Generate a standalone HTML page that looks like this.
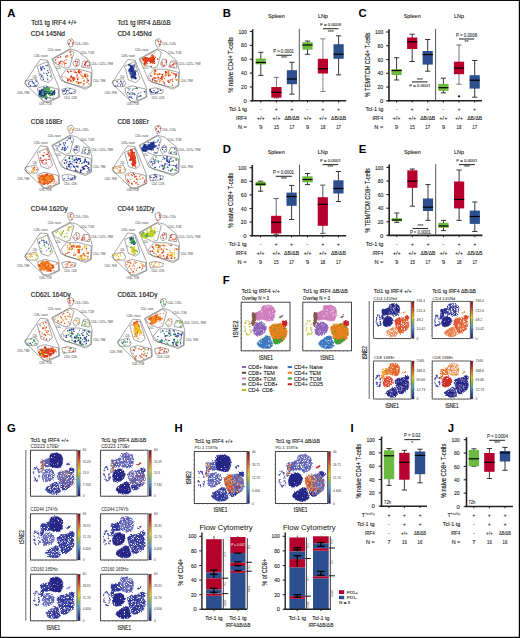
<!DOCTYPE html>
<html><head><meta charset="utf-8"><style>
html,body{margin:0;padding:0;background:#fff;}
svg{display:block;font-family:"Liberation Sans",sans-serif;}
</style></head><body>
<svg width="520" height="638" viewBox="0 0 520 638">
<rect x="0" y="0" width="520" height="638" fill="#fff"/>
<line x1="252.60" y1="29.20" x2="252.60" y2="101.40" stroke="#222" stroke-width="1.6"/>
<line x1="251.10" y1="100.80" x2="346.20" y2="100.80" stroke="#222" stroke-width="1.6"/>
<line x1="299.30" y1="28.80" x2="299.30" y2="100.80" stroke="#444" stroke-width="0.9"/>
<line x1="249.80" y1="100.80" x2="252.60" y2="100.80" stroke="#222" stroke-width="1.1"/>
<text x="246.80" y="102.90" font-size="5.9" text-anchor="end" fill="#222" stroke="#222" stroke-width="0.1" >0</text>
<line x1="249.80" y1="86.94" x2="252.60" y2="86.94" stroke="#222" stroke-width="1.1"/>
<text x="246.80" y="89.04" font-size="5.9" text-anchor="end" fill="#222" stroke="#222" stroke-width="0.1" textLength="5.70" lengthAdjust="spacingAndGlyphs" >20</text>
<line x1="249.80" y1="73.08" x2="252.60" y2="73.08" stroke="#222" stroke-width="1.1"/>
<text x="246.80" y="75.18" font-size="5.9" text-anchor="end" fill="#222" stroke="#222" stroke-width="0.1" textLength="5.70" lengthAdjust="spacingAndGlyphs" >40</text>
<line x1="249.80" y1="59.22" x2="252.60" y2="59.22" stroke="#222" stroke-width="1.1"/>
<text x="246.80" y="61.32" font-size="5.9" text-anchor="end" fill="#222" stroke="#222" stroke-width="0.1" textLength="5.70" lengthAdjust="spacingAndGlyphs" >60</text>
<line x1="249.80" y1="45.36" x2="252.60" y2="45.36" stroke="#222" stroke-width="1.1"/>
<text x="246.80" y="47.46" font-size="5.9" text-anchor="end" fill="#222" stroke="#222" stroke-width="0.1" textLength="5.70" lengthAdjust="spacingAndGlyphs" >80</text>
<line x1="249.80" y1="31.50" x2="252.60" y2="31.50" stroke="#222" stroke-width="1.1"/>
<text x="246.80" y="33.60" font-size="5.9" text-anchor="end" fill="#222" stroke="#222" stroke-width="0.1" textLength="8.30" lengthAdjust="spacingAndGlyphs" >100</text>
<text x="276.40" y="18.00" font-size="5.5" text-anchor="middle" fill="#222" stroke="#222" stroke-width="0.1" textLength="17.00" lengthAdjust="spacingAndGlyphs" >Spleen</text>
<text x="322.90" y="18.00" font-size="5.5" text-anchor="middle" fill="#222" stroke="#222" stroke-width="0.1" textLength="10.00" lengthAdjust="spacingAndGlyphs" >LNp</text>
<text x="233.30" y="64.90" font-size="8.0" text-anchor="middle" fill="#222" stroke="#222" stroke-width="0.16" textLength="55.50" lengthAdjust="spacingAndGlyphs" transform="rotate(-90 233.30 64.90)" >% naive CD4+ T-cells</text>
<line x1="260.80" y1="75.40" x2="260.80" y2="58.50" stroke="#222" stroke-width="0.9"/>
<line x1="260.80" y1="64.30" x2="260.80" y2="52.30" stroke="#222" stroke-width="0.9"/>
<line x1="258.20" y1="75.40" x2="263.40" y2="75.40" stroke="#222" stroke-width="0.9"/>
<line x1="258.20" y1="52.30" x2="263.40" y2="52.30" stroke="#222" stroke-width="0.9"/>
<rect x="255.70" y="58.50" width="10.20" height="5.80" fill="#6cba3f" stroke="none" stroke-width="0" />
<line x1="255.70" y1="62.50" x2="265.90" y2="62.50" stroke="#000" stroke-width="1.2"/>
<line x1="260.80" y1="100.80" x2="260.80" y2="102.60" stroke="#111" stroke-width="0.9"/>
<line x1="276.40" y1="98.00" x2="276.40" y2="87.00" stroke="#666" stroke-width="0.9"/>
<line x1="276.40" y1="97.70" x2="276.40" y2="77.40" stroke="#666" stroke-width="0.9"/>
<line x1="273.80" y1="98.00" x2="279.00" y2="98.00" stroke="#666" stroke-width="0.9"/>
<line x1="273.80" y1="77.40" x2="279.00" y2="77.40" stroke="#666" stroke-width="0.9"/>
<rect x="271.30" y="87.00" width="10.20" height="10.70" fill="#b8002e" stroke="none" stroke-width="0" />
<line x1="271.30" y1="92.30" x2="281.50" y2="92.30" stroke="#000" stroke-width="1.2"/>
<line x1="276.40" y1="100.80" x2="276.40" y2="102.60" stroke="#111" stroke-width="0.9"/>
<line x1="291.90" y1="94.20" x2="291.90" y2="70.20" stroke="#222" stroke-width="0.9"/>
<line x1="291.90" y1="84.20" x2="291.90" y2="62.30" stroke="#222" stroke-width="0.9"/>
<line x1="289.30" y1="94.20" x2="294.50" y2="94.20" stroke="#222" stroke-width="0.9"/>
<line x1="289.30" y1="62.30" x2="294.50" y2="62.30" stroke="#222" stroke-width="0.9"/>
<rect x="286.80" y="70.20" width="10.20" height="14.00" fill="#2d4f8e" stroke="none" stroke-width="0" />
<line x1="286.80" y1="79.00" x2="297.00" y2="79.00" stroke="#000" stroke-width="1.2"/>
<line x1="291.90" y1="100.80" x2="291.90" y2="102.60" stroke="#111" stroke-width="0.9"/>
<line x1="307.50" y1="54.30" x2="307.50" y2="42.20" stroke="#222" stroke-width="0.9"/>
<line x1="307.50" y1="49.70" x2="307.50" y2="41.00" stroke="#222" stroke-width="0.9"/>
<line x1="304.90" y1="54.30" x2="310.10" y2="54.30" stroke="#222" stroke-width="0.9"/>
<line x1="304.90" y1="41.00" x2="310.10" y2="41.00" stroke="#222" stroke-width="0.9"/>
<rect x="302.40" y="42.20" width="10.20" height="7.50" fill="#6cba3f" stroke="none" stroke-width="0" />
<line x1="302.40" y1="45.00" x2="312.60" y2="45.00" stroke="#000" stroke-width="1.2"/>
<line x1="307.50" y1="100.80" x2="307.50" y2="102.60" stroke="#111" stroke-width="0.9"/>
<line x1="322.90" y1="91.50" x2="322.90" y2="58.80" stroke="#777" stroke-width="0.9"/>
<line x1="322.90" y1="73.50" x2="322.90" y2="38.80" stroke="#777" stroke-width="0.9"/>
<line x1="320.30" y1="91.50" x2="325.50" y2="91.50" stroke="#777" stroke-width="0.9"/>
<line x1="320.30" y1="38.80" x2="325.50" y2="38.80" stroke="#777" stroke-width="0.9"/>
<rect x="317.80" y="58.80" width="10.20" height="14.70" fill="#b8002e" stroke="none" stroke-width="0" />
<line x1="317.80" y1="68.80" x2="328.00" y2="68.80" stroke="#000" stroke-width="1.2"/>
<line x1="322.90" y1="100.80" x2="322.90" y2="102.60" stroke="#111" stroke-width="0.9"/>
<line x1="338.60" y1="74.90" x2="338.60" y2="44.20" stroke="#222" stroke-width="0.9"/>
<line x1="338.60" y1="58.80" x2="338.60" y2="35.80" stroke="#222" stroke-width="0.9"/>
<line x1="336.00" y1="74.90" x2="341.20" y2="74.90" stroke="#222" stroke-width="0.9"/>
<line x1="336.00" y1="35.80" x2="341.20" y2="35.80" stroke="#222" stroke-width="0.9"/>
<rect x="333.50" y="44.20" width="10.20" height="14.60" fill="#2d4f8e" stroke="none" stroke-width="0" />
<line x1="333.50" y1="54.20" x2="343.70" y2="54.20" stroke="#000" stroke-width="1.2"/>
<line x1="338.60" y1="100.80" x2="338.60" y2="102.60" stroke="#111" stroke-width="0.9"/>
<text x="246.80" y="111.10" font-size="5.4" text-anchor="end" fill="#222" stroke="#222" stroke-width="0.1" textLength="17.70" lengthAdjust="spacingAndGlyphs" >Tcl-1 tg</text>
<text x="246.80" y="120.20" font-size="5.4" text-anchor="end" fill="#222" stroke="#222" stroke-width="0.1" textLength="10.80" lengthAdjust="spacingAndGlyphs" >IRF4</text>
<text x="246.80" y="128.90" font-size="5.4" text-anchor="end" fill="#222" stroke="#222" stroke-width="0.1" textLength="8.90" lengthAdjust="spacingAndGlyphs" >N =</text>
<text x="260.80" y="111.10" font-size="5.4" text-anchor="middle" fill="#222" stroke="#222" stroke-width="0.1" >-</text>
<text x="260.80" y="120.20" font-size="5.4" text-anchor="middle" fill="#222" stroke="#222" stroke-width="0.1" textLength="8.10" lengthAdjust="spacingAndGlyphs" >+/+</text>
<text x="260.80" y="128.90" font-size="5.4" text-anchor="middle" fill="#222" stroke="#222" stroke-width="0.1" >9</text>
<text x="276.40" y="111.10" font-size="5.4" text-anchor="middle" fill="#222" stroke="#222" stroke-width="0.1" >+</text>
<text x="276.40" y="120.20" font-size="5.4" text-anchor="middle" fill="#222" stroke="#222" stroke-width="0.1" textLength="8.10" lengthAdjust="spacingAndGlyphs" >+/+</text>
<text x="276.40" y="128.90" font-size="5.4" text-anchor="middle" fill="#222" stroke="#222" stroke-width="0.1" textLength="4.80" lengthAdjust="spacingAndGlyphs" >15</text>
<text x="291.90" y="111.10" font-size="5.4" text-anchor="middle" fill="#222" stroke="#222" stroke-width="0.1" >+</text>
<text x="291.90" y="120.20" font-size="5.4" text-anchor="middle" fill="#222" stroke="#222" stroke-width="0.1" textLength="15.00" lengthAdjust="spacingAndGlyphs" >ΔB/ΔB</text>
<text x="291.90" y="128.90" font-size="5.4" text-anchor="middle" fill="#222" stroke="#222" stroke-width="0.1" textLength="4.80" lengthAdjust="spacingAndGlyphs" >17</text>
<text x="307.50" y="111.10" font-size="5.4" text-anchor="middle" fill="#222" stroke="#222" stroke-width="0.1" >-</text>
<text x="307.50" y="120.20" font-size="5.4" text-anchor="middle" fill="#222" stroke="#222" stroke-width="0.1" textLength="8.10" lengthAdjust="spacingAndGlyphs" >+/+</text>
<text x="307.50" y="128.90" font-size="5.4" text-anchor="middle" fill="#222" stroke="#222" stroke-width="0.1" >9</text>
<text x="322.90" y="111.10" font-size="5.4" text-anchor="middle" fill="#222" stroke="#222" stroke-width="0.1" >+</text>
<text x="322.90" y="120.20" font-size="5.4" text-anchor="middle" fill="#222" stroke="#222" stroke-width="0.1" textLength="8.10" lengthAdjust="spacingAndGlyphs" >+/+</text>
<text x="322.90" y="128.90" font-size="5.4" text-anchor="middle" fill="#222" stroke="#222" stroke-width="0.1" textLength="4.80" lengthAdjust="spacingAndGlyphs" >18</text>
<text x="338.60" y="111.10" font-size="5.4" text-anchor="middle" fill="#222" stroke="#222" stroke-width="0.1" >+</text>
<text x="338.60" y="120.20" font-size="5.4" text-anchor="middle" fill="#222" stroke="#222" stroke-width="0.1" textLength="15.00" lengthAdjust="spacingAndGlyphs" >ΔB/ΔB</text>
<text x="338.60" y="128.90" font-size="5.4" text-anchor="middle" fill="#222" stroke="#222" stroke-width="0.1" textLength="4.80" lengthAdjust="spacingAndGlyphs" >17</text>
<text x="283.55" y="53.00" font-size="5.2" text-anchor="middle" fill="#333" stroke="#333" stroke-width="0.1" textLength="20.70" lengthAdjust="spacingAndGlyphs" >P = 0.0001</text>
<line x1="276.30" y1="55.25" x2="291.80" y2="55.25" stroke="#333" stroke-width="1.1"/>
<text x="284.05" y="60.20" font-size="5.0" text-anchor="middle" fill="#444" stroke="#444" stroke-width="0.1" >***</text>
<text x="330.55" y="26.10" font-size="4.2" text-anchor="middle" fill="#333" stroke="#333" stroke-width="0.1" textLength="21.10" lengthAdjust="spacingAndGlyphs" >P = 0.0008</text>
<line x1="322.90" y1="28.70" x2="338.50" y2="28.70" stroke="#333" stroke-width="1.1"/>
<text x="330.70" y="33.50" font-size="5.0" text-anchor="middle" fill="#444" stroke="#444" stroke-width="0.1" >***</text>
<line x1="389.00" y1="29.20" x2="389.00" y2="101.40" stroke="#222" stroke-width="1.6"/>
<line x1="387.50" y1="100.80" x2="482.00" y2="100.80" stroke="#222" stroke-width="1.6"/>
<line x1="435.60" y1="28.80" x2="435.60" y2="100.80" stroke="#444" stroke-width="0.9"/>
<line x1="386.20" y1="100.80" x2="389.00" y2="100.80" stroke="#222" stroke-width="1.1"/>
<text x="383.20" y="102.90" font-size="5.9" text-anchor="end" fill="#222" stroke="#222" stroke-width="0.1" >0</text>
<line x1="386.20" y1="87.04" x2="389.00" y2="87.04" stroke="#222" stroke-width="1.1"/>
<text x="383.20" y="89.14" font-size="5.9" text-anchor="end" fill="#222" stroke="#222" stroke-width="0.1" textLength="5.70" lengthAdjust="spacingAndGlyphs" >20</text>
<line x1="386.20" y1="73.28" x2="389.00" y2="73.28" stroke="#222" stroke-width="1.1"/>
<text x="383.20" y="75.38" font-size="5.9" text-anchor="end" fill="#222" stroke="#222" stroke-width="0.1" textLength="5.70" lengthAdjust="spacingAndGlyphs" >40</text>
<line x1="386.20" y1="59.52" x2="389.00" y2="59.52" stroke="#222" stroke-width="1.1"/>
<text x="383.20" y="61.62" font-size="5.9" text-anchor="end" fill="#222" stroke="#222" stroke-width="0.1" textLength="5.70" lengthAdjust="spacingAndGlyphs" >60</text>
<line x1="386.20" y1="45.76" x2="389.00" y2="45.76" stroke="#222" stroke-width="1.1"/>
<text x="383.20" y="47.86" font-size="5.9" text-anchor="end" fill="#222" stroke="#222" stroke-width="0.1" textLength="5.70" lengthAdjust="spacingAndGlyphs" >80</text>
<line x1="386.20" y1="32.00" x2="389.00" y2="32.00" stroke="#222" stroke-width="1.1"/>
<text x="383.20" y="34.10" font-size="5.9" text-anchor="end" fill="#222" stroke="#222" stroke-width="0.1" textLength="8.30" lengthAdjust="spacingAndGlyphs" >100</text>
<text x="412.20" y="18.00" font-size="5.5" text-anchor="middle" fill="#222" stroke="#222" stroke-width="0.1" textLength="17.00" lengthAdjust="spacingAndGlyphs" >Spleen</text>
<text x="459.00" y="18.00" font-size="5.5" text-anchor="middle" fill="#222" stroke="#222" stroke-width="0.1" textLength="10.00" lengthAdjust="spacingAndGlyphs" >LNp</text>
<text x="369.60" y="64.90" font-size="8.0" text-anchor="middle" fill="#222" stroke="#222" stroke-width="0.16" textLength="64.70" lengthAdjust="spacingAndGlyphs" transform="rotate(-90 369.60 64.90)" >% TEM/TCM CD4+ T-cells</text>
<line x1="396.60" y1="80.00" x2="396.60" y2="69.20" stroke="#222" stroke-width="0.9"/>
<line x1="396.60" y1="75.00" x2="396.60" y2="57.70" stroke="#222" stroke-width="0.9"/>
<line x1="394.00" y1="80.00" x2="399.20" y2="80.00" stroke="#222" stroke-width="0.9"/>
<line x1="394.00" y1="57.70" x2="399.20" y2="57.70" stroke="#222" stroke-width="0.9"/>
<rect x="391.50" y="69.20" width="10.20" height="5.80" fill="#6cba3f" stroke="none" stroke-width="0" />
<line x1="391.50" y1="70.50" x2="401.70" y2="70.50" stroke="#000" stroke-width="1.2"/>
<line x1="396.60" y1="100.80" x2="396.60" y2="102.60" stroke="#111" stroke-width="0.9"/>
<line x1="412.20" y1="61.50" x2="412.20" y2="37.50" stroke="#222" stroke-width="0.9"/>
<line x1="412.20" y1="49.00" x2="412.20" y2="34.20" stroke="#222" stroke-width="0.9"/>
<line x1="409.60" y1="61.50" x2="414.80" y2="61.50" stroke="#222" stroke-width="0.9"/>
<line x1="409.60" y1="34.20" x2="414.80" y2="34.20" stroke="#222" stroke-width="0.9"/>
<rect x="407.10" y="37.50" width="10.20" height="11.50" fill="#b8002e" stroke="none" stroke-width="0" />
<line x1="407.10" y1="41.80" x2="417.30" y2="41.80" stroke="#000" stroke-width="1.2"/>
<line x1="412.20" y1="100.80" x2="412.20" y2="102.60" stroke="#111" stroke-width="0.9"/>
<line x1="427.70" y1="71.20" x2="427.70" y2="51.00" stroke="#222" stroke-width="0.9"/>
<line x1="427.70" y1="64.60" x2="427.70" y2="39.50" stroke="#222" stroke-width="0.9"/>
<line x1="425.10" y1="71.20" x2="430.30" y2="71.20" stroke="#222" stroke-width="0.9"/>
<line x1="425.10" y1="39.50" x2="430.30" y2="39.50" stroke="#222" stroke-width="0.9"/>
<rect x="422.60" y="51.00" width="10.20" height="13.60" fill="#2d4f8e" stroke="none" stroke-width="0" />
<line x1="422.60" y1="54.60" x2="432.80" y2="54.60" stroke="#000" stroke-width="1.2"/>
<line x1="427.70" y1="100.80" x2="427.70" y2="102.60" stroke="#111" stroke-width="0.9"/>
<line x1="443.40" y1="92.90" x2="443.40" y2="83.90" stroke="#222" stroke-width="0.9"/>
<line x1="443.40" y1="90.80" x2="443.40" y2="78.20" stroke="#222" stroke-width="0.9"/>
<line x1="440.80" y1="92.90" x2="446.00" y2="92.90" stroke="#222" stroke-width="0.9"/>
<line x1="440.80" y1="78.20" x2="446.00" y2="78.20" stroke="#222" stroke-width="0.9"/>
<rect x="438.30" y="83.90" width="10.20" height="6.90" fill="#6cba3f" stroke="none" stroke-width="0" />
<line x1="438.30" y1="87.70" x2="448.50" y2="87.70" stroke="#000" stroke-width="1.2"/>
<line x1="443.40" y1="100.80" x2="443.40" y2="102.60" stroke="#111" stroke-width="0.9"/>
<line x1="459.00" y1="84.20" x2="459.00" y2="61.70" stroke="#666" stroke-width="0.9"/>
<line x1="459.00" y1="74.20" x2="459.00" y2="45.00" stroke="#666" stroke-width="0.9"/>
<line x1="456.40" y1="84.20" x2="461.60" y2="84.20" stroke="#666" stroke-width="0.9"/>
<line x1="456.40" y1="45.00" x2="461.60" y2="45.00" stroke="#666" stroke-width="0.9"/>
<rect x="453.90" y="61.70" width="10.20" height="12.50" fill="#b8002e" stroke="none" stroke-width="0" />
<line x1="453.90" y1="68.10" x2="464.10" y2="68.10" stroke="#000" stroke-width="1.2"/>
<line x1="459.00" y1="100.80" x2="459.00" y2="102.60" stroke="#111" stroke-width="0.9"/>
<line x1="474.70" y1="97.20" x2="474.70" y2="75.20" stroke="#222" stroke-width="0.9"/>
<line x1="474.70" y1="88.60" x2="474.70" y2="60.50" stroke="#222" stroke-width="0.9"/>
<line x1="472.10" y1="97.20" x2="477.30" y2="97.20" stroke="#222" stroke-width="0.9"/>
<line x1="472.10" y1="60.50" x2="477.30" y2="60.50" stroke="#222" stroke-width="0.9"/>
<rect x="469.60" y="75.20" width="10.20" height="13.40" fill="#2d4f8e" stroke="none" stroke-width="0" />
<line x1="469.60" y1="80.20" x2="479.80" y2="80.20" stroke="#000" stroke-width="1.2"/>
<line x1="474.70" y1="100.80" x2="474.70" y2="102.60" stroke="#111" stroke-width="0.9"/>
<text x="383.20" y="111.10" font-size="5.4" text-anchor="end" fill="#222" stroke="#222" stroke-width="0.1" textLength="17.70" lengthAdjust="spacingAndGlyphs" >Tcl-1 tg</text>
<text x="383.20" y="120.20" font-size="5.4" text-anchor="end" fill="#222" stroke="#222" stroke-width="0.1" textLength="10.80" lengthAdjust="spacingAndGlyphs" >IRF4</text>
<text x="383.20" y="128.90" font-size="5.4" text-anchor="end" fill="#222" stroke="#222" stroke-width="0.1" textLength="8.90" lengthAdjust="spacingAndGlyphs" >N =</text>
<text x="396.60" y="111.10" font-size="5.4" text-anchor="middle" fill="#222" stroke="#222" stroke-width="0.1" >-</text>
<text x="396.60" y="120.20" font-size="5.4" text-anchor="middle" fill="#222" stroke="#222" stroke-width="0.1" textLength="8.10" lengthAdjust="spacingAndGlyphs" >+/+</text>
<text x="396.60" y="128.90" font-size="5.4" text-anchor="middle" fill="#222" stroke="#222" stroke-width="0.1" >9</text>
<text x="412.20" y="111.10" font-size="5.4" text-anchor="middle" fill="#222" stroke="#222" stroke-width="0.1" >+</text>
<text x="412.20" y="120.20" font-size="5.4" text-anchor="middle" fill="#222" stroke="#222" stroke-width="0.1" textLength="8.10" lengthAdjust="spacingAndGlyphs" >+/+</text>
<text x="412.20" y="128.90" font-size="5.4" text-anchor="middle" fill="#222" stroke="#222" stroke-width="0.1" textLength="4.80" lengthAdjust="spacingAndGlyphs" >15</text>
<text x="427.70" y="111.10" font-size="5.4" text-anchor="middle" fill="#222" stroke="#222" stroke-width="0.1" >+</text>
<text x="427.70" y="120.20" font-size="5.4" text-anchor="middle" fill="#222" stroke="#222" stroke-width="0.1" textLength="15.00" lengthAdjust="spacingAndGlyphs" >ΔB/ΔB</text>
<text x="427.70" y="128.90" font-size="5.4" text-anchor="middle" fill="#222" stroke="#222" stroke-width="0.1" textLength="4.80" lengthAdjust="spacingAndGlyphs" >17</text>
<text x="443.40" y="111.10" font-size="5.4" text-anchor="middle" fill="#222" stroke="#222" stroke-width="0.1" >-</text>
<text x="443.40" y="120.20" font-size="5.4" text-anchor="middle" fill="#222" stroke="#222" stroke-width="0.1" textLength="8.10" lengthAdjust="spacingAndGlyphs" >+/+</text>
<text x="443.40" y="128.90" font-size="5.4" text-anchor="middle" fill="#222" stroke="#222" stroke-width="0.1" >9</text>
<text x="459.00" y="111.10" font-size="5.4" text-anchor="middle" fill="#222" stroke="#222" stroke-width="0.1" >+</text>
<text x="459.00" y="120.20" font-size="5.4" text-anchor="middle" fill="#222" stroke="#222" stroke-width="0.1" textLength="8.10" lengthAdjust="spacingAndGlyphs" >+/+</text>
<text x="459.00" y="128.90" font-size="5.4" text-anchor="middle" fill="#222" stroke="#222" stroke-width="0.1" textLength="4.80" lengthAdjust="spacingAndGlyphs" >18</text>
<text x="474.70" y="111.10" font-size="5.4" text-anchor="middle" fill="#222" stroke="#222" stroke-width="0.1" >+</text>
<text x="474.70" y="120.20" font-size="5.4" text-anchor="middle" fill="#222" stroke="#222" stroke-width="0.1" textLength="15.00" lengthAdjust="spacingAndGlyphs" >ΔB/ΔB</text>
<text x="474.70" y="128.90" font-size="5.4" text-anchor="middle" fill="#222" stroke="#222" stroke-width="0.1" textLength="4.80" lengthAdjust="spacingAndGlyphs" >17</text>
<text x="419.85" y="87.00" font-size="4.2" text-anchor="middle" fill="#333" stroke="#333" stroke-width="0.1" textLength="21.10" lengthAdjust="spacingAndGlyphs" >P = 0.0001</text>
<line x1="412.00" y1="81.90" x2="427.60" y2="81.90" stroke="#333" stroke-width="1.1"/>
<text x="419.80" y="81.70" font-size="5.0" text-anchor="middle" fill="#444" stroke="#444" stroke-width="0.1" >***</text>
<text x="466.55" y="36.70" font-size="4.8" text-anchor="middle" fill="#333" stroke="#333" stroke-width="0.1" textLength="21.10" lengthAdjust="spacingAndGlyphs" >P = 0.0008</text>
<line x1="458.90" y1="39.00" x2="474.20" y2="39.00" stroke="#333" stroke-width="1.1"/>
<text x="466.55" y="43.60" font-size="5.0" text-anchor="middle" fill="#444" stroke="#444" stroke-width="0.1" >**</text>
<circle cx="459" cy="96.3" r="1.15" fill="#111"/>
<line x1="252.30" y1="165.00" x2="252.30" y2="236.30" stroke="#222" stroke-width="1.6"/>
<line x1="250.80" y1="235.70" x2="346.20" y2="235.70" stroke="#222" stroke-width="1.6"/>
<line x1="299.50" y1="164.60" x2="299.50" y2="235.70" stroke="#444" stroke-width="0.9"/>
<line x1="249.50" y1="235.70" x2="252.30" y2="235.70" stroke="#222" stroke-width="1.1"/>
<text x="246.50" y="237.80" font-size="5.9" text-anchor="end" fill="#222" stroke="#222" stroke-width="0.1" >0</text>
<line x1="249.50" y1="222.10" x2="252.30" y2="222.10" stroke="#222" stroke-width="1.1"/>
<text x="246.50" y="224.20" font-size="5.9" text-anchor="end" fill="#222" stroke="#222" stroke-width="0.1" textLength="5.70" lengthAdjust="spacingAndGlyphs" >20</text>
<line x1="249.50" y1="208.50" x2="252.30" y2="208.50" stroke="#222" stroke-width="1.1"/>
<text x="246.50" y="210.60" font-size="5.9" text-anchor="end" fill="#222" stroke="#222" stroke-width="0.1" textLength="5.70" lengthAdjust="spacingAndGlyphs" >40</text>
<line x1="249.50" y1="194.90" x2="252.30" y2="194.90" stroke="#222" stroke-width="1.1"/>
<text x="246.50" y="197.00" font-size="5.9" text-anchor="end" fill="#222" stroke="#222" stroke-width="0.1" textLength="5.70" lengthAdjust="spacingAndGlyphs" >60</text>
<line x1="249.50" y1="181.30" x2="252.30" y2="181.30" stroke="#222" stroke-width="1.1"/>
<text x="246.50" y="183.40" font-size="5.9" text-anchor="end" fill="#222" stroke="#222" stroke-width="0.1" textLength="5.70" lengthAdjust="spacingAndGlyphs" >80</text>
<line x1="249.50" y1="167.70" x2="252.30" y2="167.70" stroke="#222" stroke-width="1.1"/>
<text x="246.50" y="169.80" font-size="5.9" text-anchor="end" fill="#222" stroke="#222" stroke-width="0.1" textLength="8.30" lengthAdjust="spacingAndGlyphs" >100</text>
<text x="276.20" y="154.40" font-size="5.5" text-anchor="middle" fill="#222" stroke="#222" stroke-width="0.1" textLength="17.00" lengthAdjust="spacingAndGlyphs" >Spleen</text>
<text x="322.80" y="154.40" font-size="5.5" text-anchor="middle" fill="#222" stroke="#222" stroke-width="0.1" textLength="10.00" lengthAdjust="spacingAndGlyphs" >LNp</text>
<text x="233.00" y="200.50" font-size="8.0" text-anchor="middle" fill="#222" stroke="#222" stroke-width="0.16" textLength="55.50" lengthAdjust="spacingAndGlyphs" transform="rotate(-90 233.00 200.50)" >% naive CD8+ T-cells</text>
<line x1="260.60" y1="191.20" x2="260.60" y2="181.80" stroke="#222" stroke-width="0.9"/>
<line x1="260.60" y1="185.80" x2="260.60" y2="181.20" stroke="#222" stroke-width="0.9"/>
<line x1="258.00" y1="191.20" x2="263.20" y2="191.20" stroke="#222" stroke-width="0.9"/>
<line x1="258.00" y1="181.20" x2="263.20" y2="181.20" stroke="#222" stroke-width="0.9"/>
<rect x="255.50" y="181.80" width="10.20" height="4.00" fill="#6cba3f" stroke="none" stroke-width="0" />
<line x1="255.50" y1="184.20" x2="265.70" y2="184.20" stroke="#000" stroke-width="1.2"/>
<line x1="260.60" y1="235.70" x2="260.60" y2="237.50" stroke="#111" stroke-width="0.9"/>
<line x1="276.20" y1="234.60" x2="276.20" y2="215.80" stroke="#555" stroke-width="0.9"/>
<line x1="276.20" y1="233.50" x2="276.20" y2="198.50" stroke="#555" stroke-width="0.9"/>
<line x1="273.60" y1="234.60" x2="278.80" y2="234.60" stroke="#555" stroke-width="0.9"/>
<line x1="273.60" y1="198.50" x2="278.80" y2="198.50" stroke="#555" stroke-width="0.9"/>
<rect x="271.10" y="215.80" width="10.20" height="17.70" fill="#b8002e" stroke="none" stroke-width="0" />
<line x1="271.10" y1="222.30" x2="281.30" y2="222.30" stroke="#000" stroke-width="1.2"/>
<line x1="276.20" y1="235.70" x2="276.20" y2="237.50" stroke="#111" stroke-width="0.9"/>
<line x1="291.60" y1="219.50" x2="291.60" y2="192.60" stroke="#222" stroke-width="0.9"/>
<line x1="291.60" y1="205.80" x2="291.60" y2="185.40" stroke="#222" stroke-width="0.9"/>
<line x1="289.00" y1="219.50" x2="294.20" y2="219.50" stroke="#222" stroke-width="0.9"/>
<line x1="289.00" y1="185.40" x2="294.20" y2="185.40" stroke="#222" stroke-width="0.9"/>
<rect x="286.50" y="192.60" width="10.20" height="13.20" fill="#2d4f8e" stroke="none" stroke-width="0" />
<line x1="286.50" y1="196.50" x2="296.70" y2="196.50" stroke="#000" stroke-width="1.2"/>
<line x1="291.60" y1="235.70" x2="291.60" y2="237.50" stroke="#111" stroke-width="0.9"/>
<line x1="307.50" y1="184.60" x2="307.50" y2="176.30" stroke="#222" stroke-width="0.9"/>
<line x1="307.50" y1="182.30" x2="307.50" y2="173.50" stroke="#222" stroke-width="0.9"/>
<line x1="304.90" y1="184.60" x2="310.10" y2="184.60" stroke="#222" stroke-width="0.9"/>
<line x1="304.90" y1="173.50" x2="310.10" y2="173.50" stroke="#222" stroke-width="0.9"/>
<rect x="302.40" y="176.30" width="10.20" height="6.00" fill="#6cba3f" stroke="none" stroke-width="0" />
<line x1="302.40" y1="179.50" x2="312.60" y2="179.50" stroke="#000" stroke-width="1.2"/>
<line x1="307.50" y1="235.70" x2="307.50" y2="237.50" stroke="#111" stroke-width="0.9"/>
<line x1="322.80" y1="233.40" x2="322.80" y2="197.20" stroke="#444" stroke-width="0.9"/>
<line x1="322.80" y1="225.80" x2="322.80" y2="185.10" stroke="#444" stroke-width="0.9"/>
<line x1="320.20" y1="233.40" x2="325.40" y2="233.40" stroke="#444" stroke-width="0.9"/>
<line x1="320.20" y1="185.10" x2="325.40" y2="185.10" stroke="#444" stroke-width="0.9"/>
<rect x="317.70" y="197.20" width="10.20" height="28.60" fill="#b8002e" stroke="none" stroke-width="0" />
<line x1="317.70" y1="204.30" x2="327.90" y2="204.30" stroke="#000" stroke-width="1.2"/>
<line x1="322.80" y1="235.70" x2="322.80" y2="237.50" stroke="#111" stroke-width="0.9"/>
<line x1="338.40" y1="201.50" x2="338.40" y2="180.30" stroke="#222" stroke-width="0.9"/>
<line x1="338.40" y1="193.50" x2="338.40" y2="171.50" stroke="#222" stroke-width="0.9"/>
<line x1="335.80" y1="201.50" x2="341.00" y2="201.50" stroke="#222" stroke-width="0.9"/>
<line x1="335.80" y1="171.50" x2="341.00" y2="171.50" stroke="#222" stroke-width="0.9"/>
<rect x="333.30" y="180.30" width="10.20" height="13.20" fill="#2d4f8e" stroke="none" stroke-width="0" />
<line x1="333.30" y1="188.50" x2="343.50" y2="188.50" stroke="#000" stroke-width="1.2"/>
<line x1="338.40" y1="235.70" x2="338.40" y2="237.50" stroke="#111" stroke-width="0.9"/>
<text x="246.50" y="246.10" font-size="5.4" text-anchor="end" fill="#222" stroke="#222" stroke-width="0.1" textLength="17.70" lengthAdjust="spacingAndGlyphs" >Tcl-1 tg</text>
<text x="246.50" y="255.20" font-size="5.4" text-anchor="end" fill="#222" stroke="#222" stroke-width="0.1" textLength="10.80" lengthAdjust="spacingAndGlyphs" >IRF4</text>
<text x="246.50" y="263.90" font-size="5.4" text-anchor="end" fill="#222" stroke="#222" stroke-width="0.1" textLength="8.90" lengthAdjust="spacingAndGlyphs" >N =</text>
<text x="260.60" y="246.10" font-size="5.4" text-anchor="middle" fill="#222" stroke="#222" stroke-width="0.1" >-</text>
<text x="260.60" y="255.20" font-size="5.4" text-anchor="middle" fill="#222" stroke="#222" stroke-width="0.1" textLength="8.10" lengthAdjust="spacingAndGlyphs" >+/+</text>
<text x="260.60" y="263.90" font-size="5.4" text-anchor="middle" fill="#222" stroke="#222" stroke-width="0.1" >9</text>
<text x="276.20" y="246.10" font-size="5.4" text-anchor="middle" fill="#222" stroke="#222" stroke-width="0.1" >+</text>
<text x="276.20" y="255.20" font-size="5.4" text-anchor="middle" fill="#222" stroke="#222" stroke-width="0.1" textLength="8.10" lengthAdjust="spacingAndGlyphs" >+/+</text>
<text x="276.20" y="263.90" font-size="5.4" text-anchor="middle" fill="#222" stroke="#222" stroke-width="0.1" textLength="4.80" lengthAdjust="spacingAndGlyphs" >15</text>
<text x="291.60" y="246.10" font-size="5.4" text-anchor="middle" fill="#222" stroke="#222" stroke-width="0.1" >+</text>
<text x="291.60" y="255.20" font-size="5.4" text-anchor="middle" fill="#222" stroke="#222" stroke-width="0.1" textLength="15.00" lengthAdjust="spacingAndGlyphs" >ΔB/ΔB</text>
<text x="291.60" y="263.90" font-size="5.4" text-anchor="middle" fill="#222" stroke="#222" stroke-width="0.1" textLength="4.80" lengthAdjust="spacingAndGlyphs" >17</text>
<text x="307.50" y="246.10" font-size="5.4" text-anchor="middle" fill="#222" stroke="#222" stroke-width="0.1" >-</text>
<text x="307.50" y="255.20" font-size="5.4" text-anchor="middle" fill="#222" stroke="#222" stroke-width="0.1" textLength="8.10" lengthAdjust="spacingAndGlyphs" >+/+</text>
<text x="307.50" y="263.90" font-size="5.4" text-anchor="middle" fill="#222" stroke="#222" stroke-width="0.1" >9</text>
<text x="322.80" y="246.10" font-size="5.4" text-anchor="middle" fill="#222" stroke="#222" stroke-width="0.1" >+</text>
<text x="322.80" y="255.20" font-size="5.4" text-anchor="middle" fill="#222" stroke="#222" stroke-width="0.1" textLength="8.10" lengthAdjust="spacingAndGlyphs" >+/+</text>
<text x="322.80" y="263.90" font-size="5.4" text-anchor="middle" fill="#222" stroke="#222" stroke-width="0.1" textLength="4.80" lengthAdjust="spacingAndGlyphs" >18</text>
<text x="338.40" y="246.10" font-size="5.4" text-anchor="middle" fill="#222" stroke="#222" stroke-width="0.1" >+</text>
<text x="338.40" y="255.20" font-size="5.4" text-anchor="middle" fill="#222" stroke="#222" stroke-width="0.1" textLength="15.00" lengthAdjust="spacingAndGlyphs" >ΔB/ΔB</text>
<text x="338.40" y="263.90" font-size="5.4" text-anchor="middle" fill="#222" stroke="#222" stroke-width="0.1" textLength="4.80" lengthAdjust="spacingAndGlyphs" >17</text>
<text x="283.45" y="173.80" font-size="4.8" text-anchor="middle" fill="#333" stroke="#333" stroke-width="0.1" textLength="21.10" lengthAdjust="spacingAndGlyphs" >P = 0.0001</text>
<line x1="275.80" y1="176.30" x2="291.90" y2="176.30" stroke="#333" stroke-width="1.1"/>
<text x="283.85" y="181.30" font-size="5.0" text-anchor="middle" fill="#444" stroke="#444" stroke-width="0.1" >***</text>
<text x="330.40" y="162.10" font-size="4.4" text-anchor="middle" fill="#333" stroke="#333" stroke-width="0.1" textLength="20.80" lengthAdjust="spacingAndGlyphs" >P = 0.0001</text>
<line x1="322.60" y1="164.60" x2="338.20" y2="164.60" stroke="#333" stroke-width="1.1"/>
<text x="330.40" y="169.20" font-size="5.0" text-anchor="middle" fill="#444" stroke="#444" stroke-width="0.1" >***</text>
<line x1="389.20" y1="164.60" x2="389.20" y2="236.00" stroke="#222" stroke-width="1.6"/>
<line x1="387.70" y1="235.40" x2="482.40" y2="235.40" stroke="#222" stroke-width="1.6"/>
<line x1="435.70" y1="164.20" x2="435.70" y2="235.40" stroke="#444" stroke-width="0.9"/>
<line x1="386.40" y1="235.40" x2="389.20" y2="235.40" stroke="#222" stroke-width="1.1"/>
<text x="383.40" y="237.50" font-size="5.9" text-anchor="end" fill="#222" stroke="#222" stroke-width="0.1" >0</text>
<line x1="386.40" y1="221.80" x2="389.20" y2="221.80" stroke="#222" stroke-width="1.1"/>
<text x="383.40" y="223.90" font-size="5.9" text-anchor="end" fill="#222" stroke="#222" stroke-width="0.1" textLength="5.70" lengthAdjust="spacingAndGlyphs" >20</text>
<line x1="386.40" y1="208.20" x2="389.20" y2="208.20" stroke="#222" stroke-width="1.1"/>
<text x="383.40" y="210.30" font-size="5.9" text-anchor="end" fill="#222" stroke="#222" stroke-width="0.1" textLength="5.70" lengthAdjust="spacingAndGlyphs" >40</text>
<line x1="386.40" y1="194.60" x2="389.20" y2="194.60" stroke="#222" stroke-width="1.1"/>
<text x="383.40" y="196.70" font-size="5.9" text-anchor="end" fill="#222" stroke="#222" stroke-width="0.1" textLength="5.70" lengthAdjust="spacingAndGlyphs" >60</text>
<line x1="386.40" y1="181.00" x2="389.20" y2="181.00" stroke="#222" stroke-width="1.1"/>
<text x="383.40" y="183.10" font-size="5.9" text-anchor="end" fill="#222" stroke="#222" stroke-width="0.1" textLength="5.70" lengthAdjust="spacingAndGlyphs" >80</text>
<line x1="386.40" y1="167.40" x2="389.20" y2="167.40" stroke="#222" stroke-width="1.1"/>
<text x="383.40" y="169.50" font-size="5.9" text-anchor="end" fill="#222" stroke="#222" stroke-width="0.1" textLength="8.30" lengthAdjust="spacingAndGlyphs" >100</text>
<text x="412.40" y="154.40" font-size="5.5" text-anchor="middle" fill="#222" stroke="#222" stroke-width="0.1" textLength="17.00" lengthAdjust="spacingAndGlyphs" >Spleen</text>
<text x="459.10" y="154.40" font-size="5.5" text-anchor="middle" fill="#222" stroke="#222" stroke-width="0.1" textLength="10.00" lengthAdjust="spacingAndGlyphs" >LNp</text>
<text x="369.80" y="200.50" font-size="8.0" text-anchor="middle" fill="#222" stroke="#222" stroke-width="0.16" textLength="64.70" lengthAdjust="spacingAndGlyphs" transform="rotate(-90 369.80 200.50)" >% TEM/TCM CD8+ T-cells</text>
<line x1="396.80" y1="222.30" x2="396.80" y2="218.20" stroke="#222" stroke-width="0.9"/>
<line x1="396.80" y1="221.20" x2="396.80" y2="213.00" stroke="#222" stroke-width="0.9"/>
<line x1="394.20" y1="222.30" x2="399.40" y2="222.30" stroke="#222" stroke-width="0.9"/>
<line x1="394.20" y1="213.00" x2="399.40" y2="213.00" stroke="#222" stroke-width="0.9"/>
<rect x="391.70" y="218.20" width="10.20" height="3.00" fill="#6cba3f" stroke="none" stroke-width="0" />
<line x1="391.70" y1="220.00" x2="401.90" y2="220.00" stroke="#000" stroke-width="1.2"/>
<line x1="396.80" y1="235.40" x2="396.80" y2="237.20" stroke="#111" stroke-width="0.9"/>
<line x1="412.40" y1="206.20" x2="412.40" y2="170.30" stroke="#222" stroke-width="0.9"/>
<line x1="412.40" y1="187.80" x2="412.40" y2="169.00" stroke="#222" stroke-width="0.9"/>
<line x1="409.80" y1="206.20" x2="415.00" y2="206.20" stroke="#222" stroke-width="0.9"/>
<line x1="409.80" y1="169.00" x2="415.00" y2="169.00" stroke="#222" stroke-width="0.9"/>
<rect x="407.30" y="170.30" width="10.20" height="17.50" fill="#b8002e" stroke="none" stroke-width="0" />
<line x1="407.30" y1="181.20" x2="417.50" y2="181.20" stroke="#000" stroke-width="1.2"/>
<line x1="412.40" y1="235.40" x2="412.40" y2="237.20" stroke="#111" stroke-width="0.9"/>
<line x1="428.00" y1="220.30" x2="428.00" y2="198.50" stroke="#222" stroke-width="0.9"/>
<line x1="428.00" y1="211.00" x2="428.00" y2="184.60" stroke="#222" stroke-width="0.9"/>
<line x1="425.40" y1="220.30" x2="430.60" y2="220.30" stroke="#222" stroke-width="0.9"/>
<line x1="425.40" y1="184.60" x2="430.60" y2="184.60" stroke="#222" stroke-width="0.9"/>
<rect x="422.90" y="198.50" width="10.20" height="12.50" fill="#2d4f8e" stroke="none" stroke-width="0" />
<line x1="422.90" y1="207.20" x2="433.10" y2="207.20" stroke="#000" stroke-width="1.2"/>
<line x1="428.00" y1="235.40" x2="428.00" y2="237.20" stroke="#111" stroke-width="0.9"/>
<line x1="443.50" y1="230.60" x2="443.50" y2="222.80" stroke="#222" stroke-width="0.9"/>
<line x1="443.50" y1="227.70" x2="443.50" y2="220.40" stroke="#222" stroke-width="0.9"/>
<line x1="440.90" y1="230.60" x2="446.10" y2="230.60" stroke="#222" stroke-width="0.9"/>
<line x1="440.90" y1="220.40" x2="446.10" y2="220.40" stroke="#222" stroke-width="0.9"/>
<rect x="438.40" y="222.80" width="10.20" height="4.90" fill="#6cba3f" stroke="none" stroke-width="0" />
<line x1="438.40" y1="226.00" x2="448.60" y2="226.00" stroke="#000" stroke-width="1.2"/>
<line x1="443.50" y1="235.40" x2="443.50" y2="237.20" stroke="#111" stroke-width="0.9"/>
<line x1="459.10" y1="220.40" x2="459.10" y2="181.50" stroke="#222" stroke-width="0.9"/>
<line x1="459.10" y1="208.40" x2="459.10" y2="170.00" stroke="#222" stroke-width="0.9"/>
<line x1="456.50" y1="220.40" x2="461.70" y2="220.40" stroke="#222" stroke-width="0.9"/>
<line x1="456.50" y1="170.00" x2="461.70" y2="170.00" stroke="#222" stroke-width="0.9"/>
<rect x="454.00" y="181.50" width="10.20" height="26.90" fill="#b8002e" stroke="none" stroke-width="0" />
<line x1="454.00" y1="199.40" x2="464.20" y2="199.40" stroke="#000" stroke-width="1.2"/>
<line x1="459.10" y1="235.40" x2="459.10" y2="237.20" stroke="#111" stroke-width="0.9"/>
<line x1="474.80" y1="231.50" x2="474.80" y2="210.60" stroke="#222" stroke-width="0.9"/>
<line x1="474.80" y1="223.90" x2="474.80" y2="202.00" stroke="#222" stroke-width="0.9"/>
<line x1="472.20" y1="231.50" x2="477.40" y2="231.50" stroke="#222" stroke-width="0.9"/>
<line x1="472.20" y1="202.00" x2="477.40" y2="202.00" stroke="#222" stroke-width="0.9"/>
<rect x="469.70" y="210.60" width="10.20" height="13.30" fill="#2d4f8e" stroke="none" stroke-width="0" />
<line x1="469.70" y1="216.50" x2="479.90" y2="216.50" stroke="#000" stroke-width="1.2"/>
<line x1="474.80" y1="235.40" x2="474.80" y2="237.20" stroke="#111" stroke-width="0.9"/>
<text x="383.40" y="246.10" font-size="5.4" text-anchor="end" fill="#222" stroke="#222" stroke-width="0.1" textLength="17.70" lengthAdjust="spacingAndGlyphs" >Tcl-1 tg</text>
<text x="383.40" y="255.20" font-size="5.4" text-anchor="end" fill="#222" stroke="#222" stroke-width="0.1" textLength="10.80" lengthAdjust="spacingAndGlyphs" >IRF4</text>
<text x="383.40" y="263.90" font-size="5.4" text-anchor="end" fill="#222" stroke="#222" stroke-width="0.1" textLength="8.90" lengthAdjust="spacingAndGlyphs" >N =</text>
<text x="396.80" y="246.10" font-size="5.4" text-anchor="middle" fill="#222" stroke="#222" stroke-width="0.1" >-</text>
<text x="396.80" y="255.20" font-size="5.4" text-anchor="middle" fill="#222" stroke="#222" stroke-width="0.1" textLength="8.10" lengthAdjust="spacingAndGlyphs" >+/+</text>
<text x="396.80" y="263.90" font-size="5.4" text-anchor="middle" fill="#222" stroke="#222" stroke-width="0.1" >9</text>
<text x="412.40" y="246.10" font-size="5.4" text-anchor="middle" fill="#222" stroke="#222" stroke-width="0.1" >+</text>
<text x="412.40" y="255.20" font-size="5.4" text-anchor="middle" fill="#222" stroke="#222" stroke-width="0.1" textLength="8.10" lengthAdjust="spacingAndGlyphs" >+/+</text>
<text x="412.40" y="263.90" font-size="5.4" text-anchor="middle" fill="#222" stroke="#222" stroke-width="0.1" textLength="4.80" lengthAdjust="spacingAndGlyphs" >15</text>
<text x="428.00" y="246.10" font-size="5.4" text-anchor="middle" fill="#222" stroke="#222" stroke-width="0.1" >+</text>
<text x="428.00" y="255.20" font-size="5.4" text-anchor="middle" fill="#222" stroke="#222" stroke-width="0.1" textLength="15.00" lengthAdjust="spacingAndGlyphs" >ΔB/ΔB</text>
<text x="428.00" y="263.90" font-size="5.4" text-anchor="middle" fill="#222" stroke="#222" stroke-width="0.1" textLength="4.80" lengthAdjust="spacingAndGlyphs" >17</text>
<text x="443.50" y="246.10" font-size="5.4" text-anchor="middle" fill="#222" stroke="#222" stroke-width="0.1" >-</text>
<text x="443.50" y="255.20" font-size="5.4" text-anchor="middle" fill="#222" stroke="#222" stroke-width="0.1" textLength="8.10" lengthAdjust="spacingAndGlyphs" >+/+</text>
<text x="443.50" y="263.90" font-size="5.4" text-anchor="middle" fill="#222" stroke="#222" stroke-width="0.1" >9</text>
<text x="459.10" y="246.10" font-size="5.4" text-anchor="middle" fill="#222" stroke="#222" stroke-width="0.1" >+</text>
<text x="459.10" y="255.20" font-size="5.4" text-anchor="middle" fill="#222" stroke="#222" stroke-width="0.1" textLength="8.10" lengthAdjust="spacingAndGlyphs" >+/+</text>
<text x="459.10" y="263.90" font-size="5.4" text-anchor="middle" fill="#222" stroke="#222" stroke-width="0.1" textLength="4.80" lengthAdjust="spacingAndGlyphs" >18</text>
<text x="474.80" y="246.10" font-size="5.4" text-anchor="middle" fill="#222" stroke="#222" stroke-width="0.1" >+</text>
<text x="474.80" y="255.20" font-size="5.4" text-anchor="middle" fill="#222" stroke="#222" stroke-width="0.1" textLength="15.00" lengthAdjust="spacingAndGlyphs" >ΔB/ΔB</text>
<text x="474.80" y="263.90" font-size="5.4" text-anchor="middle" fill="#222" stroke="#222" stroke-width="0.1" textLength="4.80" lengthAdjust="spacingAndGlyphs" >17</text>
<text x="420.30" y="233.60" font-size="4.8" text-anchor="middle" fill="#333" stroke="#333" stroke-width="0.1" textLength="20.80" lengthAdjust="spacingAndGlyphs" >P = 0.0001</text>
<line x1="412.50" y1="228.50" x2="428.10" y2="228.50" stroke="#333" stroke-width="1.1"/>
<text x="420.30" y="228.10" font-size="5.0" text-anchor="middle" fill="#444" stroke="#444" stroke-width="0.1" >***</text>
<text x="466.85" y="162.10" font-size="4.4" text-anchor="middle" fill="#333" stroke="#333" stroke-width="0.1" textLength="21.10" lengthAdjust="spacingAndGlyphs" >P = 0.0001</text>
<line x1="458.90" y1="164.60" x2="474.80" y2="164.60" stroke="#333" stroke-width="1.1"/>
<text x="466.85" y="169.10" font-size="5.0" text-anchor="middle" fill="#444" stroke="#444" stroke-width="0.1" >***</text>
<line x1="381.50" y1="436.60" x2="381.50" y2="506.80" stroke="#222" stroke-width="1.6"/>
<line x1="380.00" y1="506.20" x2="427.00" y2="506.20" stroke="#222" stroke-width="1.6"/>
<line x1="378.70" y1="506.20" x2="381.50" y2="506.20" stroke="#222" stroke-width="1.1"/>
<text x="374.70" y="508.30" font-size="5.9" text-anchor="end" fill="#222" stroke="#222" stroke-width="0.1" >0</text>
<line x1="378.70" y1="492.86" x2="381.50" y2="492.86" stroke="#222" stroke-width="1.1"/>
<text x="374.70" y="494.96" font-size="5.9" text-anchor="end" fill="#222" stroke="#222" stroke-width="0.1" textLength="5.70" lengthAdjust="spacingAndGlyphs" >20</text>
<line x1="378.70" y1="479.52" x2="381.50" y2="479.52" stroke="#222" stroke-width="1.1"/>
<text x="374.70" y="481.62" font-size="5.9" text-anchor="end" fill="#222" stroke="#222" stroke-width="0.1" textLength="5.70" lengthAdjust="spacingAndGlyphs" >40</text>
<line x1="378.70" y1="466.18" x2="381.50" y2="466.18" stroke="#222" stroke-width="1.1"/>
<text x="374.70" y="468.28" font-size="5.9" text-anchor="end" fill="#222" stroke="#222" stroke-width="0.1" textLength="5.70" lengthAdjust="spacingAndGlyphs" >60</text>
<line x1="378.70" y1="452.84" x2="381.50" y2="452.84" stroke="#222" stroke-width="1.1"/>
<text x="374.70" y="454.94" font-size="5.9" text-anchor="end" fill="#222" stroke="#222" stroke-width="0.1" textLength="5.70" lengthAdjust="spacingAndGlyphs" >80</text>
<line x1="378.70" y1="439.50" x2="381.50" y2="439.50" stroke="#222" stroke-width="1.1"/>
<text x="374.70" y="441.60" font-size="5.9" text-anchor="end" fill="#222" stroke="#222" stroke-width="0.1" textLength="8.30" lengthAdjust="spacingAndGlyphs" >100</text>
<text x="360.80" y="471.20" font-size="8.0" text-anchor="middle" fill="#222" stroke="#222" stroke-width="0.16" textLength="54.70" lengthAdjust="spacingAndGlyphs" transform="rotate(-90 360.80 471.20)" >% naive CD4+ T-cells</text>
<line x1="389.00" y1="485.40" x2="389.00" y2="450.30" stroke="#222" stroke-width="0.9"/>
<line x1="389.00" y1="479.20" x2="389.00" y2="448.50" stroke="#222" stroke-width="0.9"/>
<line x1="386.40" y1="485.40" x2="391.60" y2="485.40" stroke="#222" stroke-width="0.9"/>
<line x1="386.40" y1="448.50" x2="391.60" y2="448.50" stroke="#222" stroke-width="0.9"/>
<rect x="383.80" y="450.30" width="10.40" height="28.90" fill="#6cba3f" stroke="none" stroke-width="0" />
<line x1="383.80" y1="455.80" x2="394.20" y2="455.80" stroke="#000" stroke-width="1.2"/>
<line x1="389.00" y1="506.20" x2="389.00" y2="508.00" stroke="#111" stroke-width="0.9"/>
<line x1="404.40" y1="490.00" x2="404.40" y2="452.80" stroke="#222" stroke-width="0.9"/>
<line x1="404.40" y1="479.70" x2="404.40" y2="450.30" stroke="#222" stroke-width="0.9"/>
<line x1="401.80" y1="490.00" x2="407.00" y2="490.00" stroke="#222" stroke-width="0.9"/>
<line x1="401.80" y1="450.30" x2="407.00" y2="450.30" stroke="#222" stroke-width="0.9"/>
<rect x="399.20" y="452.80" width="10.40" height="26.90" fill="#b8002e" stroke="none" stroke-width="0" />
<line x1="399.20" y1="462.30" x2="409.60" y2="462.30" stroke="#000" stroke-width="1.2"/>
<line x1="404.40" y1="506.20" x2="404.40" y2="508.00" stroke="#111" stroke-width="0.9"/>
<line x1="420.00" y1="482.80" x2="420.00" y2="451.50" stroke="#222" stroke-width="0.9"/>
<line x1="420.00" y1="474.20" x2="420.00" y2="449.20" stroke="#222" stroke-width="0.9"/>
<line x1="417.40" y1="482.80" x2="422.60" y2="482.80" stroke="#222" stroke-width="0.9"/>
<line x1="417.40" y1="449.20" x2="422.60" y2="449.20" stroke="#222" stroke-width="0.9"/>
<rect x="414.80" y="451.50" width="10.40" height="22.70" fill="#2d4f8e" stroke="none" stroke-width="0" />
<line x1="414.80" y1="455.40" x2="425.20" y2="455.40" stroke="#000" stroke-width="1.2"/>
<line x1="420.00" y1="506.20" x2="420.00" y2="508.00" stroke="#111" stroke-width="0.9"/>
<text x="374.60" y="525.80" font-size="5.4" text-anchor="end" fill="#222" stroke="#222" stroke-width="0.1" textLength="17.60" lengthAdjust="spacingAndGlyphs" >Tcl-1 tg</text>
<text x="374.60" y="534.60" font-size="5.4" text-anchor="end" fill="#222" stroke="#222" stroke-width="0.1" textLength="9.60" lengthAdjust="spacingAndGlyphs" >IRF4</text>
<text x="374.60" y="543.50" font-size="5.4" text-anchor="end" fill="#222" stroke="#222" stroke-width="0.1" textLength="8.60" lengthAdjust="spacingAndGlyphs" >N =</text>
<text x="389.00" y="516.80" font-size="5.4" text-anchor="middle" fill="#222" stroke="#222" stroke-width="0.1" >+</text>
<text x="389.00" y="525.80" font-size="5.4" text-anchor="middle" fill="#222" stroke="#222" stroke-width="0.1" >-</text>
<text x="389.00" y="534.60" font-size="5.4" text-anchor="middle" fill="#222" stroke="#222" stroke-width="0.1" >-</text>
<text x="389.00" y="543.50" font-size="5.4" text-anchor="middle" fill="#222" stroke="#222" stroke-width="0.1" >7</text>
<text x="404.40" y="516.80" font-size="5.4" text-anchor="middle" fill="#222" stroke="#222" stroke-width="0.1" >+</text>
<text x="404.40" y="525.80" font-size="5.4" text-anchor="middle" fill="#222" stroke="#222" stroke-width="0.1" >+</text>
<text x="404.40" y="534.60" font-size="5.4" text-anchor="middle" fill="#222" stroke="#222" stroke-width="0.1" textLength="6.60" lengthAdjust="spacingAndGlyphs" >+/+</text>
<text x="404.40" y="543.50" font-size="5.4" text-anchor="middle" fill="#222" stroke="#222" stroke-width="0.1" textLength="4.80" lengthAdjust="spacingAndGlyphs" >16</text>
<text x="420.00" y="516.80" font-size="5.4" text-anchor="middle" fill="#222" stroke="#222" stroke-width="0.1" >+</text>
<text x="420.00" y="525.80" font-size="5.4" text-anchor="middle" fill="#222" stroke="#222" stroke-width="0.1" >+</text>
<text x="420.00" y="534.60" font-size="5.4" text-anchor="middle" fill="#222" stroke="#222" stroke-width="0.1" textLength="11.80" lengthAdjust="spacingAndGlyphs" >ΔB/ΔB</text>
<text x="420.00" y="543.50" font-size="5.4" text-anchor="middle" fill="#222" stroke="#222" stroke-width="0.1" textLength="4.80" lengthAdjust="spacingAndGlyphs" >16</text>
<text x="412.25" y="436.90" font-size="4.6" text-anchor="middle" fill="#333" stroke="#333" stroke-width="0.1" textLength="16.50" lengthAdjust="spacingAndGlyphs" >P = 0.02</text>
<line x1="404.30" y1="439.60" x2="420.20" y2="439.60" stroke="#333" stroke-width="1.1"/>
<text x="412.25" y="444.50" font-size="5.0" text-anchor="middle" fill="#444" stroke="#444" stroke-width="0.1" >*</text>
<text x="365.10" y="516.80" font-size="5.4" text-anchor="end" fill="#222" stroke="#222" stroke-width="0.1" >T</text>
<text x="374.60" y="515.10" font-size="2.6" text-anchor="end" fill="#222" textLength="9.20" lengthAdjust="spacingAndGlyphs" >healthy</text>
<text x="384.10" y="503.90" font-size="4.6" text-anchor="start" fill="#333" stroke="#333" stroke-width="0.1" textLength="6.90" lengthAdjust="spacingAndGlyphs" >72h</text>
<line x1="466.50" y1="437.20" x2="466.50" y2="507.10" stroke="#222" stroke-width="1.6"/>
<line x1="465.00" y1="506.50" x2="513.00" y2="506.50" stroke="#222" stroke-width="1.6"/>
<line x1="463.70" y1="506.50" x2="466.50" y2="506.50" stroke="#222" stroke-width="1.1"/>
<text x="459.70" y="508.60" font-size="5.9" text-anchor="end" fill="#222" stroke="#222" stroke-width="0.1" >0</text>
<line x1="463.70" y1="493.14" x2="466.50" y2="493.14" stroke="#222" stroke-width="1.1"/>
<text x="459.70" y="495.24" font-size="5.9" text-anchor="end" fill="#222" stroke="#222" stroke-width="0.1" textLength="5.70" lengthAdjust="spacingAndGlyphs" >20</text>
<line x1="463.70" y1="479.78" x2="466.50" y2="479.78" stroke="#222" stroke-width="1.1"/>
<text x="459.70" y="481.88" font-size="5.9" text-anchor="end" fill="#222" stroke="#222" stroke-width="0.1" textLength="5.70" lengthAdjust="spacingAndGlyphs" >40</text>
<line x1="463.70" y1="466.42" x2="466.50" y2="466.42" stroke="#222" stroke-width="1.1"/>
<text x="459.70" y="468.52" font-size="5.9" text-anchor="end" fill="#222" stroke="#222" stroke-width="0.1" textLength="5.70" lengthAdjust="spacingAndGlyphs" >60</text>
<line x1="463.70" y1="453.06" x2="466.50" y2="453.06" stroke="#222" stroke-width="1.1"/>
<text x="459.70" y="455.16" font-size="5.9" text-anchor="end" fill="#222" stroke="#222" stroke-width="0.1" textLength="5.70" lengthAdjust="spacingAndGlyphs" >80</text>
<line x1="463.70" y1="439.70" x2="466.50" y2="439.70" stroke="#222" stroke-width="1.1"/>
<text x="459.70" y="441.80" font-size="5.9" text-anchor="end" fill="#222" stroke="#222" stroke-width="0.1" textLength="8.30" lengthAdjust="spacingAndGlyphs" >100</text>
<text x="446.20" y="471.00" font-size="8.0" text-anchor="middle" fill="#222" stroke="#222" stroke-width="0.16" textLength="54.50" lengthAdjust="spacingAndGlyphs" transform="rotate(-90 446.20 471.00)" >% naive CD8+ T-cells</text>
<line x1="473.90" y1="466.20" x2="473.90" y2="450.00" stroke="#222" stroke-width="0.9"/>
<line x1="473.90" y1="466.20" x2="473.90" y2="448.80" stroke="#222" stroke-width="0.9"/>
<line x1="471.30" y1="466.20" x2="476.50" y2="466.20" stroke="#222" stroke-width="0.9"/>
<line x1="471.30" y1="448.80" x2="476.50" y2="448.80" stroke="#222" stroke-width="0.9"/>
<rect x="468.70" y="450.00" width="10.40" height="16.20" fill="#6cba3f" stroke="none" stroke-width="0" />
<line x1="468.70" y1="458.80" x2="479.10" y2="458.80" stroke="#000" stroke-width="1.2"/>
<line x1="473.90" y1="506.50" x2="473.90" y2="508.30" stroke="#111" stroke-width="0.9"/>
<line x1="489.40" y1="478.50" x2="489.40" y2="453.00" stroke="#222" stroke-width="0.9"/>
<line x1="489.40" y1="471.80" x2="489.40" y2="448.50" stroke="#222" stroke-width="0.9"/>
<line x1="486.80" y1="478.50" x2="492.00" y2="478.50" stroke="#222" stroke-width="0.9"/>
<line x1="486.80" y1="448.50" x2="492.00" y2="448.50" stroke="#222" stroke-width="0.9"/>
<rect x="484.20" y="453.00" width="10.40" height="18.80" fill="#b8002e" stroke="none" stroke-width="0" />
<line x1="484.20" y1="462.30" x2="494.60" y2="462.30" stroke="#000" stroke-width="1.2"/>
<line x1="489.40" y1="506.50" x2="489.40" y2="508.30" stroke="#111" stroke-width="0.9"/>
<line x1="505.00" y1="470.30" x2="505.00" y2="451.00" stroke="#222" stroke-width="0.9"/>
<line x1="505.00" y1="461.50" x2="505.00" y2="447.40" stroke="#222" stroke-width="0.9"/>
<line x1="502.40" y1="470.30" x2="507.60" y2="470.30" stroke="#222" stroke-width="0.9"/>
<line x1="502.40" y1="447.40" x2="507.60" y2="447.40" stroke="#222" stroke-width="0.9"/>
<rect x="499.80" y="451.00" width="10.40" height="10.50" fill="#2d4f8e" stroke="none" stroke-width="0" />
<line x1="499.80" y1="452.80" x2="510.20" y2="452.80" stroke="#000" stroke-width="1.2"/>
<line x1="505.00" y1="506.50" x2="505.00" y2="508.30" stroke="#111" stroke-width="0.9"/>
<text x="460.30" y="525.80" font-size="5.4" text-anchor="end" fill="#222" stroke="#222" stroke-width="0.1" textLength="17.60" lengthAdjust="spacingAndGlyphs" >Tcl-1 tg</text>
<text x="460.30" y="534.60" font-size="5.4" text-anchor="end" fill="#222" stroke="#222" stroke-width="0.1" textLength="9.60" lengthAdjust="spacingAndGlyphs" >IRF4</text>
<text x="460.30" y="543.50" font-size="5.4" text-anchor="end" fill="#222" stroke="#222" stroke-width="0.1" textLength="8.60" lengthAdjust="spacingAndGlyphs" >N =</text>
<text x="473.90" y="516.80" font-size="5.4" text-anchor="middle" fill="#222" stroke="#222" stroke-width="0.1" >+</text>
<text x="473.90" y="525.80" font-size="5.4" text-anchor="middle" fill="#222" stroke="#222" stroke-width="0.1" >-</text>
<text x="473.90" y="534.60" font-size="5.4" text-anchor="middle" fill="#222" stroke="#222" stroke-width="0.1" >-</text>
<text x="473.90" y="543.50" font-size="5.4" text-anchor="middle" fill="#222" stroke="#222" stroke-width="0.1" >7</text>
<text x="489.40" y="516.80" font-size="5.4" text-anchor="middle" fill="#222" stroke="#222" stroke-width="0.1" >+</text>
<text x="489.40" y="525.80" font-size="5.4" text-anchor="middle" fill="#222" stroke="#222" stroke-width="0.1" >+</text>
<text x="489.40" y="534.60" font-size="5.4" text-anchor="middle" fill="#222" stroke="#222" stroke-width="0.1" textLength="6.60" lengthAdjust="spacingAndGlyphs" >+/+</text>
<text x="489.40" y="543.50" font-size="5.4" text-anchor="middle" fill="#222" stroke="#222" stroke-width="0.1" textLength="4.80" lengthAdjust="spacingAndGlyphs" >16</text>
<text x="505.00" y="516.80" font-size="5.4" text-anchor="middle" fill="#222" stroke="#222" stroke-width="0.1" >+</text>
<text x="505.00" y="525.80" font-size="5.4" text-anchor="middle" fill="#222" stroke="#222" stroke-width="0.1" >+</text>
<text x="505.00" y="534.60" font-size="5.4" text-anchor="middle" fill="#222" stroke="#222" stroke-width="0.1" textLength="11.80" lengthAdjust="spacingAndGlyphs" >ΔB/ΔB</text>
<text x="505.00" y="543.50" font-size="5.4" text-anchor="middle" fill="#222" stroke="#222" stroke-width="0.1" textLength="4.80" lengthAdjust="spacingAndGlyphs" >16</text>
<text x="497.40" y="437.50" font-size="4.8" text-anchor="middle" fill="#333" stroke="#333" stroke-width="0.1" textLength="21.00" lengthAdjust="spacingAndGlyphs" >P = 0.0004</text>
<line x1="489.20" y1="440.30" x2="505.00" y2="440.30" stroke="#333" stroke-width="1.1"/>
<text x="497.10" y="444.60" font-size="5.0" text-anchor="middle" fill="#444" stroke="#444" stroke-width="0.1" >***</text>
<text x="450.80" y="516.80" font-size="5.4" text-anchor="end" fill="#222" stroke="#222" stroke-width="0.1" >T</text>
<text x="460.30" y="515.10" font-size="2.6" text-anchor="end" fill="#222" textLength="9.20" lengthAdjust="spacingAndGlyphs" >healthy</text>
<text x="468.50" y="503.90" font-size="4.6" text-anchor="start" fill="#333" stroke="#333" stroke-width="0.1" textLength="6.90" lengthAdjust="spacingAndGlyphs" >72h</text>
<text x="31.30" y="25.30" font-size="6.6" text-anchor="start" fill="#1a1a1a" stroke="#1a1a1a" stroke-width="0.16" textLength="45.60" lengthAdjust="spacingAndGlyphs" >Tcl1 tg IRF4 +/+</text>
<text x="117.40" y="25.30" font-size="6.6" text-anchor="start" fill="#1a1a1a" stroke="#1a1a1a" stroke-width="0.16" textLength="53.20" lengthAdjust="spacingAndGlyphs" >Tcl1 tg IRF4 ΔB/ΔB</text>
<text x="30.80" y="36.40" font-size="6.6" text-anchor="start" fill="#1a1a1a" stroke="#1a1a1a" stroke-width="0.16" textLength="34.20" lengthAdjust="spacingAndGlyphs" >CD4 145Nd</text>
<text x="117.40" y="36.40" font-size="6.6" text-anchor="start" fill="#1a1a1a" stroke="#1a1a1a" stroke-width="0.16" textLength="34.20" lengthAdjust="spacingAndGlyphs" >CD4 145Nd</text>
<text x="30.80" y="123.60" font-size="6.6" text-anchor="start" fill="#1a1a1a" stroke="#1a1a1a" stroke-width="0.16" textLength="31.50" lengthAdjust="spacingAndGlyphs" >CD8 168Er</text>
<text x="117.40" y="123.60" font-size="6.6" text-anchor="start" fill="#1a1a1a" stroke="#1a1a1a" stroke-width="0.16" textLength="31.50" lengthAdjust="spacingAndGlyphs" >CD8 168Er</text>
<text x="30.80" y="210.80" font-size="6.6" text-anchor="start" fill="#1a1a1a" stroke="#1a1a1a" stroke-width="0.16" textLength="37.00" lengthAdjust="spacingAndGlyphs" >CD44 162Dy</text>
<text x="117.40" y="210.80" font-size="6.6" text-anchor="start" fill="#1a1a1a" stroke="#1a1a1a" stroke-width="0.16" textLength="37.00" lengthAdjust="spacingAndGlyphs" >CD44 162Dy</text>
<text x="30.80" y="296.60" font-size="6.6" text-anchor="start" fill="#1a1a1a" stroke="#1a1a1a" stroke-width="0.16" textLength="40.00" lengthAdjust="spacingAndGlyphs" >CD62L 164Dy</text>
<text x="117.40" y="296.60" font-size="6.6" text-anchor="start" fill="#1a1a1a" stroke="#1a1a1a" stroke-width="0.16" textLength="40.00" lengthAdjust="spacingAndGlyphs" >CD62L 164Dy</text>
<polygon points="51.70,58.90 69.90,48.80 77.30,50.80 89.40,60.90 92.10,71.00 91.40,85.80 85.40,89.20 61.20,80.40 58.50,73.70" fill="none" stroke="#3a3a3a" stroke-width="0.45" stroke-linejoin="round"/>
<polygon points="40.30,59.50 47.60,60.30 59.00,88.00 59.50,97.00 48.20,102.60 44.30,102.00 24.50,83.40 34.70,67.60" fill="none" stroke="#3a3a3a" stroke-width="0.45" stroke-linejoin="round"/>
<polygon points="67.90,40.00 71.90,38.70 73.90,41.40 72.60,46.10 69.90,47.40 67.90,43.40" fill="none" stroke="#3a3a3a" stroke-width="0.45" stroke-linejoin="round"/>
<polygon points="61.80,89.20 67.90,87.80 76.00,89.80 75.30,93.20 67.90,93.90 63.20,94.50" fill="none" stroke="#3a3a3a" stroke-width="0.45" stroke-linejoin="round"/>
<polygon points="52.60,59.20 69.90,49.60 73.90,52.30 69.90,66.80 65.20,68.20 54.60,63.00" fill="none" stroke="#3a3a3a" stroke-width="0.45" stroke-linejoin="round"/>
<polygon points="72.80,63.60 76.00,59.00 79.20,59.70 79.20,65.00 75.30,67.40" fill="none" stroke="#3a3a3a" stroke-width="0.45" stroke-linejoin="round"/>
<polygon points="81.30,67.00 83.40,61.00 88.00,61.00 89.30,63.60 89.30,68.20" fill="none" stroke="#3a3a3a" stroke-width="0.45" stroke-linejoin="round"/>
<polygon points="60.70,76.40 66.50,69.20 78.60,69.20 91.20,72.40 90.70,85.60 85.40,87.60 64.50,82.30" fill="none" stroke="#3a3a3a" stroke-width="0.45" stroke-linejoin="round"/>
<polygon points="37.20,66.00 47.40,61.60 52.50,79.00 48.20,82.60 41.00,80.00" fill="none" stroke="#3a3a3a" stroke-width="0.45" stroke-linejoin="round"/>
<polygon points="25.20,81.00 35.80,78.50 38.40,83.40 36.90,86.60 26.90,86.60" fill="none" stroke="#3a3a3a" stroke-width="0.45" stroke-linejoin="round"/>
<polygon points="37.70,88.00 44.80,85.90 58.20,89.10 58.80,96.90 48.20,101.30 43.10,101.30 38.10,92.40" fill="none" stroke="#3a3a3a" stroke-width="0.45" stroke-linejoin="round"/>
<path d="M47.0 93.0h0M47.5 92.4h0M43.0 89.7h0M47.9 89.4h0M40.4 94.5h0" stroke="#4fa848" stroke-width="1.65" stroke-linecap="round" fill="none"/>
<path d="M48.4 92.7h0M51.8 91.1h0M41.5 92.1h0M43.9 95.1h0M49.5 93.7h0M40.8 90.8h0" stroke="#4fa848" stroke-width="2.10" stroke-linecap="round" fill="none"/>
<path d="M49.0 92.3h0M52.3 95.1h0M41.2 91.3h0" stroke="#2e8f7a" stroke-width="1.35" stroke-linecap="round" fill="none"/>
<path d="M50.1 92.7h0M53.7 93.7h0M44.1 91.1h0M45.8 88.7h0M40.0 91.8h0" stroke="#1f2c82" stroke-width="2.10" stroke-linecap="round" fill="none"/>
<path d="M50.5 91.5h0M39.9 93.5h0M51.1 95.0h0M46.2 91.6h0M44.4 90.0h0" stroke="#4fa848" stroke-width="2.55" stroke-linecap="round" fill="none"/>
<path d="M53.1 92.0h0M40.7 91.1h0M48.4 93.0h0M45.9 92.9h0M40.0 95.0h0" stroke="#4fa848" stroke-width="1.35" stroke-linecap="round" fill="none"/>
<path d="M53.1 91.9h0M46.5 91.1h0M48.5 89.6h0" stroke="#2e8f7a" stroke-width="1.95" stroke-linecap="round" fill="none"/>
<path d="M54.0 92.5h0M44.2 92.6h0M42.6 96.3h0M40.8 93.1h0" stroke="#1f2c82" stroke-width="2.85" stroke-linecap="round" fill="none"/>
<path d="M53.0 93.9h0M43.3 89.8h0M40.7 92.5h0M44.9 95.2h0M49.5 93.4h0M44.0 89.4h0M41.8 92.1h0" stroke="#4fa848" stroke-width="1.95" stroke-linecap="round" fill="none"/>
<path d="M51.8 94.1h0M48.9 93.3h0" stroke="#1f2c82" stroke-width="2.70" stroke-linecap="round" fill="none"/>
<path d="M51.5 94.4h0M46.7 92.6h0M44.8 92.1h0" stroke="#1f2c82" stroke-width="1.80" stroke-linecap="round" fill="none"/>
<path d="M49.8 93.5h0M46.8 88.9h0M41.0 95.8h0" stroke="#2e8f7a" stroke-width="2.25" stroke-linecap="round" fill="none"/>
<path d="M48.7 93.9h0M41.5 90.7h0M39.4 94.9h0M51.5 95.0h0" stroke="#4fa848" stroke-width="1.50" stroke-linecap="round" fill="none"/>
<path d="M48.4 93.3h0M40.7 91.6h0M44.4 88.7h0M45.3 95.9h0M45.5 96.7h0" stroke="#1f2c82" stroke-width="1.35" stroke-linecap="round" fill="none"/>
<path d="M45.4 91.5h0M47.0 87.6h0M42.5 93.2h0M44.0 94.1h0" stroke="#1f2c82" stroke-width="2.25" stroke-linecap="round" fill="none"/>
<path d="M45.3 90.8h0M41.1 91.7h0M39.7 94.3h0M40.1 92.5h0M44.5 94.9h0" stroke="#1f2c82" stroke-width="2.40" stroke-linecap="round" fill="none"/>
<path d="M42.1 89.9h0M51.0 94.4h0M44.7 94.7h0" stroke="#1f2c82" stroke-width="1.95" stroke-linecap="round" fill="none"/>
<path d="M44.5 88.7h0M42.2 92.8h0M40.4 92.7h0M41.0 92.7h0M41.9 96.1h0M43.5 96.5h0" stroke="#1f2c82" stroke-width="1.50" stroke-linecap="round" fill="none"/>
<path d="M44.9 88.4h0M48.7 89.4h0M40.1 95.9h0" stroke="#4fa848" stroke-width="2.25" stroke-linecap="round" fill="none"/>
<path d="M46.5 88.3h0M49.3 92.7h0M41.2 96.3h0" stroke="#2e8f7a" stroke-width="2.10" stroke-linecap="round" fill="none"/>
<path d="M45.9 93.0h0M48.6 92.2h0" stroke="#2e8f7a" stroke-width="2.55" stroke-linecap="round" fill="none"/>
<path d="M43.0 93.0h0M42.1 94.3h0" stroke="#2e8f7a" stroke-width="2.85" stroke-linecap="round" fill="none"/>
<path d="M40.0 95.5h0" stroke="#2e8f7a" stroke-width="2.70" stroke-linecap="round" fill="none"/>
<path d="M41.1 94.4h0" stroke="#2e8f7a" stroke-width="1.65" stroke-linecap="round" fill="none"/>
<path d="M43.0 96.1h0M48.7 92.7h0M45.3 94.1h0M40.1 94.0h0M46.3 98.1h0" stroke="#1f2c82" stroke-width="2.55" stroke-linecap="round" fill="none"/>
<path d="M50.3 94.8h0M47.7 92.0h0M45.4 89.9h0M42.2 96.9h0M46.3 96.9h0" stroke="#4fa848" stroke-width="2.70" stroke-linecap="round" fill="none"/>
<path d="M47.0 88.8h0M49.4 88.4h0M43.3 94.2h0" stroke="#4fa848" stroke-width="1.80" stroke-linecap="round" fill="none"/>
<path d="M48.1 88.3h0" stroke="#4fa848" stroke-width="2.85" stroke-linecap="round" fill="none"/>
<path d="M48.6 91.1h0" stroke="#4fa848" stroke-width="2.40" stroke-linecap="round" fill="none"/>
<path d="M44.4 95.8h0" stroke="#1f2c82" stroke-width="1.65" stroke-linecap="round" fill="none"/>
<path d="M73.1 42.5L72.6 43.8M73.1 42.5L70.6 40.7M70.6 40.7L69.5 43.2M69.5 43.2L68.8 44.0M63.1 62.1L61.9 61.1M61.9 61.1L60.8 61.6M60.4 63.1L59.6 62.8M59.6 62.8L59.5 63.6M59.6 62.8L59.0 62.1M64.6 64.0L64.7 66.0M55.4 60.1L55.7 59.7M55.7 59.7L57.9 57.7M57.9 57.7L60.7 57.2M70.9 54.8L70.6 51.9M75.6 61.6L77.5 61.8M77.5 61.8L77.3 63.9M77.3 63.9L76.9 65.3M76.9 65.3L76.3 65.6M77.3 63.9L75.8 63.8M84.6 64.7L85.5 65.4M84.6 64.7L85.2 63.7M85.2 63.7L85.5 63.1M85.5 63.1L85.6 62.3M85.6 62.3L86.2 62.3M86.2 62.3L87.3 61.3M85.5 65.4L87.5 65.9M87.5 65.9L88.9 65.6M85.5 65.4L83.7 66.9M76.7 72.6L76.0 72.4M76.0 72.4L75.2 72.4M75.2 72.4L75.0 72.1M76.7 72.6L78.6 71.5M78.6 71.5L78.8 72.1M78.8 72.1L79.1 72.7M78.8 72.1L80.2 71.8M80.2 71.8L81.2 71.8M81.4 75.5L81.9 76.0M82.6 76.4L84.8 76.4M84.8 76.4L85.8 76.8M85.1 75.2L84.9 74.8M76.7 72.6L77.1 75.0M77.1 75.0L77.4 75.9M77.4 75.9L76.7 77.2M78.8 77.8L77.7 79.3M85.8 76.8L87.2 78.7M87.1 79.0L88.2 80.4M88.1 80.9L87.0 82.2M73.2 70.9L70.8 71.3M74.6 78.4L74.0 78.5M74.0 78.5L74.2 79.4M74.2 79.4L73.6 80.4M72.7 78.5L73.1 77.7M71.4 80.7L70.8 81.1M71.4 80.7L70.7 79.9M69.5 79.4L69.0 79.6M68.8 79.4L68.0 80.2M68.0 80.2L67.4 79.1M67.4 79.1L67.1 78.6M73.1 77.7L71.4 76.9M71.6 76.5L71.4 75.7M71.4 76.9L70.7 77.8M68.5 72.6L67.7 71.4M77.7 79.3L77.8 82.0M77.8 82.0L78.7 82.5M78.7 82.5L78.6 83.3M78.7 82.5L80.1 82.7M81.2 82.6L84.0 83.7M65.7 76.8L62.7 76.7" stroke="#d9301e" stroke-width="0.25" stroke-opacity="0.55" fill="none"/>
<path d="M65.8 56.6L65.9 56.9M65.9 56.9L67.7 56.8M67.7 56.8L67.1 55.4M65.9 56.9L66.7 59.8M66.7 59.8L64.6 60.5M64.6 60.5L63.1 62.1M63.1 62.1L64.3 63.1M64.3 63.1L64.6 64.0M64.6 64.0L65.7 63.5M65.7 63.5L65.9 63.2M60.8 61.6L60.4 63.1M59.5 63.6L58.7 64.2M60.4 63.1L62.2 64.1M59.0 62.1L56.0 62.5M56.0 62.5L55.4 60.1M60.7 57.2L60.7 56.7M67.7 56.8L70.9 54.8M70.6 51.9L69.9 51.9M70.9 54.8L71.4 57.8M74.9 70.2L73.2 70.9M78.6 71.5L79.0 70.3M81.2 71.8L81.8 73.0M81.8 73.0L80.6 74.3M84.8 76.4L85.1 75.2M86.9 74.0L87.1 75.3M76.7 77.2L78.8 77.8M88.2 80.4L88.1 80.9M76.7 77.2L74.6 78.4M73.6 80.4L72.9 79.5M72.9 79.5L72.7 78.5M69.0 79.6L68.8 79.4M71.4 76.9L71.6 76.5M71.4 75.7L70.3 76.3M70.8 71.3L68.5 72.6M80.1 82.7L81.2 82.6" stroke="#e8561c" stroke-width="0.25" stroke-opacity="0.55" fill="none"/>
<path d="M75.0 72.1L74.9 70.2M80.6 74.3L81.4 75.5M81.9 76.0L82.6 76.4M82.6 76.4L82.9 78.1M84.9 74.8L85.2 73.3M85.2 73.3L86.9 74.0M87.1 75.3L87.8 76.0M87.2 78.7L87.1 79.0M73.6 80.4L72.7 81.8M72.7 81.8L71.4 80.7M70.7 79.9L69.5 79.4M68.0 80.2L67.8 82.1M67.1 78.6L65.7 76.8M87.0 82.2L88.9 83.8M78.6 83.3L78.1 83.8M77.8 82.0L76.5 81.9M84.0 83.7L83.4 85.0M84.0 83.7L84.0 81.0" stroke="#f08c22" stroke-width="0.25" stroke-opacity="0.55" fill="none"/>
<path d="M74.1 91.6L71.3 93.2M71.3 93.2L69.4 92.9M69.4 92.9L67.7 90.4M67.7 90.4L66.3 90.7M66.3 90.7L66.5 91.9M67.7 90.4L69.2 89.8M69.2 89.8L70.0 88.7M66.3 90.7L65.7 89.1M65.7 89.1L65.5 89.0M66.5 91.9L65.6 93.5M65.5 89.0L64.3 90.5M64.3 90.5L64.3 90.9M64.3 90.9L63.0 91.1M42.8 66.3L42.8 66.9M42.8 66.9L43.0 68.0M43.0 68.0L44.4 68.7M43.0 68.0L41.1 68.3M41.1 68.3L40.8 68.1M40.8 68.1L40.8 66.9M41.1 68.3L41.7 69.6M41.7 69.6L41.6 70.3M41.6 70.3L40.8 70.1M42.8 66.3L45.6 65.9M45.6 65.9L47.2 65.6M41.6 70.3L43.8 73.1M43.8 73.1L46.7 73.5M46.7 73.5L47.5 75.4M46.7 73.5L48.6 72.6M48.6 72.6L47.8 70.5M43.8 73.1L42.1 75.5M42.1 75.5L41.2 74.8M42.1 75.5L41.6 76.5M41.2 74.8L40.1 74.1M41.6 76.5L43.0 77.3M43.0 77.3L43.3 79.2M47.5 75.4L50.7 76.3M47.5 75.4L47.4 79.1M47.4 79.1L48.0 80.0M35.8 85.4L35.8 86.0M35.8 86.0L34.1 86.0M35.8 85.4L34.4 84.0M34.4 84.0L33.7 83.0M33.7 83.0L33.4 83.1M33.4 83.1L33.3 82.5M33.3 82.5L32.4 81.8M32.4 81.8L32.0 81.2M32.0 81.2L29.9 81.5M29.9 81.5L28.8 82.6M28.8 82.6L28.7 83.9M28.7 83.9L30.5 85.6M30.5 85.6L30.2 86.1M33.7 83.0L36.5 81.3M36.5 81.3L35.7 80.1M53.0 98.3L50.5 98.2M46.0 96.3L44.5 97.8M44.5 97.8L46.2 99.6M43.4 93.4L41.4 95.3M41.4 95.3L41.2 96.2M43.4 93.4L40.9 91.2M40.9 91.2L40.9 91.2M40.9 91.2L39.4 90.6M40.9 91.2L41.4 89.1M41.4 89.1L43.0 89.2M43.0 89.2L43.8 89.8M43.0 89.2L43.6 87.4M43.6 87.4L44.5 87.8M46.6 95.4L47.8 91.8M47.8 91.8L47.8 91.7M53.0 98.3L54.4 94.5M54.4 94.5L54.6 90.6" stroke="#2b3f9f" stroke-width="0.25" stroke-opacity="0.55" fill="none"/>
<path d="M50.5 98.2L49.0 97.8M49.0 97.8L46.6 96.5M46.6 96.5L46.0 96.3M46.0 96.3L45.8 95.9M45.8 95.9L46.1 95.2M46.1 95.2L46.6 95.4M46.1 95.2L43.4 93.4" stroke="#4fa848" stroke-width="0.25" stroke-opacity="0.55" fill="none"/>
<path d="M73.1 42.5h0M72.6 43.8h0M68.8 44.0h0M61.9 61.1h0M59.6 62.8h0M84.6 64.7h0M87.3 61.3h0M80.2 71.8h0M84.0 83.7h0M87.0 82.2h0M78.7 82.5h0" stroke="#d9301e" stroke-width="1.35" stroke-linecap="round" fill="none"/>
<path d="M69.5 43.2h0M59.0 62.1h0M55.7 59.7h0M59.5 63.6h0M76.9 65.3h0M87.5 65.9h0M81.9 76.0h0M81.2 71.8h0M77.8 82.0h0M80.1 82.7h0M84.8 76.4h0M67.4 79.1h0M75.2 72.4h0M67.1 78.6h0M70.7 79.9h0" stroke="#d9301e" stroke-width="1.20" stroke-linecap="round" fill="none"/>
<path d="M70.6 40.7h0M57.9 57.7h0M60.8 61.6h0M70.6 51.9h0M75.6 61.6h0M77.5 61.8h0M76.3 65.6h0M85.5 63.1h0M85.2 63.7h0M86.2 62.3h0M85.5 65.4h0M70.7 77.8h0M77.1 75.0h0M71.4 76.9h0M76.0 72.4h0M69.0 79.6h0M73.6 80.4h0" stroke="#d9301e" stroke-width="1.50" stroke-linecap="round" fill="none"/>
<path d="M65.8 56.6h0M69.9 51.9h0M64.3 63.1h0M71.4 57.8h0M55.4 60.1h0M67.1 55.4h0M71.6 76.5h0M72.9 79.5h0M87.1 75.3h0" stroke="#e8561c" stroke-width="1.50" stroke-linecap="round" fill="none"/>
<path d="M64.6 60.5h0M65.7 63.5h0M67.7 56.8h0M56.0 62.5h0M60.7 56.7h0M81.8 73.0h0" stroke="#e8561c" stroke-width="1.20" stroke-linecap="round" fill="none"/>
<path d="M65.9 63.2h0M70.9 54.8h0M85.1 75.2h0M68.8 79.4h0M81.2 82.6h0" stroke="#e8561c" stroke-width="1.65" stroke-linecap="round" fill="none"/>
<path d="M66.7 59.8h0M65.9 56.9h0M60.4 63.1h0M58.7 64.2h0M63.1 62.1h0M62.2 64.1h0M76.7 72.6h0M70.3 76.3h0M88.1 80.9h0" stroke="#e8561c" stroke-width="1.35" stroke-linecap="round" fill="none"/>
<path d="M64.7 66.0h0M60.7 57.2h0M75.8 63.8h0M88.9 65.6h0M85.6 62.3h0M62.7 76.7h0M77.4 75.9h0M78.8 72.1h0M74.2 79.4h0M87.2 78.7h0" stroke="#d9301e" stroke-width="1.05" stroke-linecap="round" fill="none"/>
<path d="M64.6 64.0h0M68.5 72.6h0M73.2 70.9h0" stroke="#e8561c" stroke-width="1.05" stroke-linecap="round" fill="none"/>
<path d="M77.3 63.9h0M83.7 66.9h0M71.4 75.7h0M76.7 77.2h0" stroke="#d9301e" stroke-width="0.90" stroke-linecap="round" fill="none"/>
<path d="M70.8 71.3h0M78.6 71.5h0M74.0 78.5h0M67.7 71.4h0M84.9 74.8h0M70.8 81.1h0M78.6 83.3h0M85.8 76.8h0" stroke="#d9301e" stroke-width="1.80" stroke-linecap="round" fill="none"/>
<path d="M73.1 77.7h0M68.0 80.2h0M79.1 72.7h0M77.7 79.3h0" stroke="#d9301e" stroke-width="1.95" stroke-linecap="round" fill="none"/>
<path d="M88.9 83.8h0M76.5 81.9h0" stroke="#f08c22" stroke-width="1.65" stroke-linecap="round" fill="none"/>
<path d="M72.7 81.8h0M65.7 76.8h0" stroke="#f08c22" stroke-width="1.20" stroke-linecap="round" fill="none"/>
<path d="M74.9 70.2h0M86.9 74.0h0" stroke="#f08c22" stroke-width="1.05" stroke-linecap="round" fill="none"/>
<path d="M80.6 74.3h0M78.8 77.8h0" stroke="#e8561c" stroke-width="0.90" stroke-linecap="round" fill="none"/>
<path d="M67.8 82.1h0M83.4 85.0h0M81.4 75.5h0M87.1 79.0h0M78.1 83.8h0M69.5 79.4h0M71.4 80.7h0M82.9 78.1h0" stroke="#f08c22" stroke-width="1.50" stroke-linecap="round" fill="none"/>
<path d="M84.0 81.0h0" stroke="#f08c22" stroke-width="1.95" stroke-linecap="round" fill="none"/>
<path d="M79.0 70.3h0" stroke="#e8561c" stroke-width="1.95" stroke-linecap="round" fill="none"/>
<path d="M72.7 78.5h0M74.6 78.4h0" stroke="#e8561c" stroke-width="1.80" stroke-linecap="round" fill="none"/>
<path d="M85.2 73.3h0" stroke="#f08c22" stroke-width="1.35" stroke-linecap="round" fill="none"/>
<path d="M88.2 80.4h0M75.0 72.1h0" stroke="#d9301e" stroke-width="1.65" stroke-linecap="round" fill="none"/>
<path d="M87.8 76.0h0M82.6 76.4h0" stroke="#f08c22" stroke-width="1.80" stroke-linecap="round" fill="none"/>
<path d="M74.1 91.6h0M66.5 91.9h0M65.7 89.1h0M67.7 90.4h0M44.4 68.7h0M43.0 77.3h0M48.6 72.6h0M41.6 76.5h0M47.8 70.5h0M42.8 66.9h0M46.7 73.5h0M36.5 81.3h0M34.1 86.0h0M47.8 91.8h0M41.4 95.3h0M44.5 87.8h0" stroke="#2b3f9f" stroke-width="1.35" stroke-linecap="round" fill="none"/>
<path d="M69.4 92.9h0M69.2 89.8h0M45.6 65.9h0M41.6 70.3h0M28.8 82.6h0M41.4 89.1h0M43.6 87.4h0" stroke="#2b3f9f" stroke-width="0.90" stroke-linecap="round" fill="none"/>
<path d="M65.5 89.0h0M70.0 88.7h0M64.3 90.9h0M65.6 93.5h0M66.3 90.7h0M42.8 66.3h0M40.8 66.9h0M47.4 79.1h0M40.8 70.1h0M50.7 76.3h0M43.8 73.1h0M40.8 68.1h0M42.1 75.5h0M47.5 75.4h0M35.8 85.4h0M32.0 81.2h0M33.4 83.1h0M29.9 81.5h0M35.7 80.1h0M33.3 82.5h0M53.0 98.3h0M50.5 98.2h0M46.2 99.6h0M44.5 97.8h0M40.9 91.2h0" stroke="#2b3f9f" stroke-width="1.20" stroke-linecap="round" fill="none"/>
<path d="M71.3 93.2h0M63.0 91.1h0M64.3 90.5h0M41.7 69.6h0M47.2 65.6h0M43.3 79.2h0M41.1 68.3h0M30.5 85.6h0M28.7 83.9h0M32.4 81.8h0M35.8 86.0h0M54.4 94.5h0M41.2 96.2h0M39.4 90.6h0M40.9 91.2h0M54.6 90.6h0M47.8 91.7h0" stroke="#2b3f9f" stroke-width="1.50" stroke-linecap="round" fill="none"/>
<path d="M43.0 68.0h0M48.0 80.0h0M40.1 74.1h0M41.2 74.8h0M30.2 86.1h0M33.7 83.0h0M34.4 84.0h0M43.0 89.2h0M43.8 89.8h0" stroke="#2b3f9f" stroke-width="1.05" stroke-linecap="round" fill="none"/>
<path d="M46.6 96.5h0" stroke="#4fa848" stroke-width="1.05" stroke-linecap="round" fill="none"/>
<path d="M45.8 95.9h0M46.6 95.4h0" stroke="#4fa848" stroke-width="0.90" stroke-linecap="round" fill="none"/>
<path d="M46.1 95.2h0M46.0 96.3h0M43.4 93.4h0" stroke="#4fa848" stroke-width="1.50" stroke-linecap="round" fill="none"/>
<path d="M49.0 97.8h0" stroke="#4fa848" stroke-width="1.65" stroke-linecap="round" fill="none"/>
<text x="74.60" y="44.80" font-size="2.9" fill="#3a3a3a" textLength="14.4" lengthAdjust="spacingAndGlyphs">CD4+ CD8+</text>
<text x="47.70" y="50.80" font-size="2.9" fill="#3a3a3a" textLength="13.3" lengthAdjust="spacingAndGlyphs">CD4+ naive</text>
<text x="33.80" y="57.30" font-size="2.9" fill="#3a3a3a" textLength="13.9" lengthAdjust="spacingAndGlyphs">CD8+ naive</text>
<text x="80.40" y="54.10" font-size="2.9" fill="#3a3a3a" textLength="13.4" lengthAdjust="spacingAndGlyphs">CD4+ TCM</text>
<text x="91.00" y="64.60" font-size="2.9" fill="#3a3a3a" textLength="22.0" lengthAdjust="spacingAndGlyphs">CD4+ CD25+ TEM</text>
<text x="93.00" y="81.80" font-size="2.9" fill="#3a3a3a" textLength="12.4" lengthAdjust="spacingAndGlyphs">CD4+ TEM</text>
<text x="64.00" y="98.80" font-size="2.9" fill="#3a3a3a" textLength="13.5" lengthAdjust="spacingAndGlyphs">CD4- CD8-</text>
<text x="39.00" y="105.00" font-size="2.9" fill="#3a3a3a" textLength="12.5" lengthAdjust="spacingAndGlyphs">CD8+ TCM</text>
<text x="17.00" y="93.50" font-size="2.9" fill="#3a3a3a" textLength="12.4" lengthAdjust="spacingAndGlyphs">CD8+ TEM</text>
<text x="56.00" y="69.30" font-size="2.9" fill="#3a3a3a" textLength="5.0" lengthAdjust="spacingAndGlyphs">CD4+</text>
<text x="32.50" y="77.80" font-size="2.9" fill="#3a3a3a" textLength="5.0" lengthAdjust="spacingAndGlyphs">CD8+</text>
<polygon points="139.10,58.90 157.30,48.80 164.70,50.80 176.80,60.90 179.50,71.00 178.80,85.80 172.80,89.20 148.60,80.40 145.90,73.70" fill="none" stroke="#3a3a3a" stroke-width="0.45" stroke-linejoin="round"/>
<polygon points="127.70,59.50 135.00,60.30 146.40,88.00 146.90,97.00 135.60,102.60 131.70,102.00 111.90,83.40 122.10,67.60" fill="none" stroke="#3a3a3a" stroke-width="0.45" stroke-linejoin="round"/>
<polygon points="155.30,40.00 159.30,38.70 161.30,41.40 160.00,46.10 157.30,47.40 155.30,43.40" fill="none" stroke="#3a3a3a" stroke-width="0.45" stroke-linejoin="round"/>
<polygon points="149.20,89.20 155.30,87.80 163.40,89.80 162.70,93.20 155.30,93.90 150.60,94.50" fill="none" stroke="#3a3a3a" stroke-width="0.45" stroke-linejoin="round"/>
<polygon points="140.00,59.20 157.30,49.60 161.30,52.30 157.30,66.80 152.60,68.20 142.00,63.00" fill="none" stroke="#3a3a3a" stroke-width="0.45" stroke-linejoin="round"/>
<polygon points="160.20,63.60 163.40,59.00 166.60,59.70 166.60,65.00 162.70,67.40" fill="none" stroke="#3a3a3a" stroke-width="0.45" stroke-linejoin="round"/>
<polygon points="168.70,67.00 170.80,61.00 175.40,61.00 176.70,63.60 176.70,68.20" fill="none" stroke="#3a3a3a" stroke-width="0.45" stroke-linejoin="round"/>
<polygon points="148.10,76.40 153.90,69.20 166.00,69.20 178.60,72.40 178.10,85.60 172.80,87.60 151.90,82.30" fill="none" stroke="#3a3a3a" stroke-width="0.45" stroke-linejoin="round"/>
<polygon points="124.60,66.00 134.80,61.60 139.90,79.00 135.60,82.60 128.40,80.00" fill="none" stroke="#3a3a3a" stroke-width="0.45" stroke-linejoin="round"/>
<polygon points="112.60,81.00 123.20,78.50 125.80,83.40 124.30,86.60 114.30,86.60" fill="none" stroke="#3a3a3a" stroke-width="0.45" stroke-linejoin="round"/>
<polygon points="125.10,88.00 132.20,85.90 145.60,89.10 146.20,96.90 135.60,101.30 130.50,101.30 125.50,92.40" fill="none" stroke="#3a3a3a" stroke-width="0.45" stroke-linejoin="round"/>
<path d="M148.4 60.5h0M150.9 57.8h0M145.5 63.3h0M146.1 61.7h0" stroke="#e8561c" stroke-width="2.10" stroke-linecap="round" fill="none"/>
<path d="M148.9 59.9h0M152.8 62.5h0M143.8 60.2h0M144.8 61.6h0M153.5 61.3h0M148.6 59.3h0M145.2 62.1h0M147.5 59.6h0M146.5 59.2h0M146.3 58.1h0" stroke="#e8561c" stroke-width="2.40" stroke-linecap="round" fill="none"/>
<path d="M149.8 59.4h0M153.2 58.5h0M153.1 60.9h0M143.8 60.1h0M144.6 60.9h0M145.1 62.5h0M146.5 58.6h0M153.0 60.6h0M153.1 58.9h0M153.3 56.8h0" stroke="#e8561c" stroke-width="1.95" stroke-linecap="round" fill="none"/>
<path d="M150.6 59.0h0M144.8 64.0h0M152.7 62.1h0M152.3 60.7h0M152.1 60.2h0" stroke="#e8561c" stroke-width="1.65" stroke-linecap="round" fill="none"/>
<path d="M151.9 57.5h0M153.1 56.3h0M152.8 61.9h0M150.3 60.5h0" stroke="#e8561c" stroke-width="2.55" stroke-linecap="round" fill="none"/>
<path d="M153.0 57.2h0M146.4 60.4h0M144.3 59.3h0M144.7 64.4h0" stroke="#e8561c" stroke-width="2.70" stroke-linecap="round" fill="none"/>
<path d="M153.9 59.2h0" stroke="#d9301e" stroke-width="2.55" stroke-linecap="round" fill="none"/>
<path d="M153.9 61.4h0M152.7 57.7h0M147.6 58.2h0M153.1 60.9h0" stroke="#d9301e" stroke-width="1.50" stroke-linecap="round" fill="none"/>
<path d="M153.2 61.9h0M145.9 58.3h0M149.5 59.2h0M152.7 59.0h0M152.3 60.0h0" stroke="#e8561c" stroke-width="1.50" stroke-linecap="round" fill="none"/>
<path d="M152.2 60.5h0M153.5 57.9h0M153.4 56.8h0M145.6 61.9h0M144.6 60.3h0M152.2 62.2h0M147.1 58.1h0" stroke="#e8561c" stroke-width="1.35" stroke-linecap="round" fill="none"/>
<path d="M152.4 59.8h0M149.3 59.8h0M150.3 59.2h0M152.5 58.7h0" stroke="#d9301e" stroke-width="1.80" stroke-linecap="round" fill="none"/>
<path d="M152.9 58.3h0M147.3 60.0h0M145.4 62.7h0M152.3 58.8h0" stroke="#d9301e" stroke-width="2.25" stroke-linecap="round" fill="none"/>
<path d="M152.0 58.1h0M145.0 59.9h0M142.7 59.5h0M145.4 63.1h0M145.1 59.7h0M145.7 59.8h0M149.9 61.0h0" stroke="#e8561c" stroke-width="1.80" stroke-linecap="round" fill="none"/>
<path d="M145.8 59.6h0M145.2 57.9h0M150.9 62.1h0M147.1 59.0h0M150.7 60.5h0M152.3 60.7h0" stroke="#d9301e" stroke-width="2.10" stroke-linecap="round" fill="none"/>
<path d="M145.4 60.8h0M151.0 60.3h0M147.8 58.3h0" stroke="#d9301e" stroke-width="1.35" stroke-linecap="round" fill="none"/>
<path d="M149.5 60.6h0M146.8 59.3h0M148.8 59.0h0" stroke="#e8561c" stroke-width="2.25" stroke-linecap="round" fill="none"/>
<path d="M146.6 60.7h0" stroke="#d9301e" stroke-width="2.70" stroke-linecap="round" fill="none"/>
<path d="M132.4 71.5h0" stroke="#2b3f9f" stroke-width="1.95" stroke-linecap="round" fill="none"/>
<path d="M132.9 72.0h0M134.0 72.6h0M130.9 66.7h0M130.8 70.1h0M131.6 67.4h0M134.6 73.8h0" stroke="#1f2c82" stroke-width="1.35" stroke-linecap="round" fill="none"/>
<path d="M135.0 73.2h0M133.0 75.1h0" stroke="#2b3f9f" stroke-width="2.25" stroke-linecap="round" fill="none"/>
<path d="M135.4 74.7h0M130.0 69.7h0M129.5 69.4h0M132.7 67.7h0M129.7 69.4h0M129.6 70.2h0M133.0 73.2h0M131.2 70.2h0M131.7 76.0h0" stroke="#1f2c82" stroke-width="1.95" stroke-linecap="round" fill="none"/>
<path d="M134.3 73.9h0M131.3 67.2h0M132.6 68.1h0M134.0 65.9h0M130.5 68.3h0M135.2 77.0h0M130.0 72.7h0M134.5 72.1h0M130.9 74.6h0" stroke="#1f2c82" stroke-width="1.65" stroke-linecap="round" fill="none"/>
<path d="M133.5 72.5h0M130.4 70.4h0M129.6 70.7h0" stroke="#2b3f9f" stroke-width="1.65" stroke-linecap="round" fill="none"/>
<path d="M133.4 72.2h0M131.0 68.7h0M131.5 67.9h0M134.3 77.4h0M132.7 75.4h0M131.5 71.2h0M134.9 72.1h0M132.1 76.9h0" stroke="#1f2c82" stroke-width="2.55" stroke-linecap="round" fill="none"/>
<path d="M133.1 71.1h0M134.1 74.6h0M135.5 71.3h0" stroke="#2b3f9f" stroke-width="2.10" stroke-linecap="round" fill="none"/>
<path d="M133.4 69.9h0M132.1 67.6h0M133.1 72.4h0M132.6 76.6h0M135.3 78.2h0" stroke="#1f2c82" stroke-width="1.80" stroke-linecap="round" fill="none"/>
<path d="M132.9 69.4h0M130.7 70.2h0M133.6 71.7h0" stroke="#2b3f9f" stroke-width="2.55" stroke-linecap="round" fill="none"/>
<path d="M132.6 68.5h0M133.2 74.4h0" stroke="#2b3f9f" stroke-width="1.20" stroke-linecap="round" fill="none"/>
<path d="M131.1 66.3h0M129.2 65.1h0M131.6 76.8h0M132.0 74.4h0M130.1 69.6h0" stroke="#1f2c82" stroke-width="2.25" stroke-linecap="round" fill="none"/>
<path d="M130.3 65.0h0" stroke="#1f2c82" stroke-width="1.20" stroke-linecap="round" fill="none"/>
<path d="M130.5 65.7h0M131.2 71.0h0M132.4 66.6h0M131.9 70.9h0M132.7 71.8h0" stroke="#1f2c82" stroke-width="2.10" stroke-linecap="round" fill="none"/>
<path d="M130.8 66.5h0M131.5 67.6h0M132.0 66.7h0M133.9 75.4h0M131.5 74.5h0" stroke="#1f2c82" stroke-width="1.50" stroke-linecap="round" fill="none"/>
<path d="M129.0 71.0h0M132.3 76.8h0M134.7 76.4h0" stroke="#2b3f9f" stroke-width="1.50" stroke-linecap="round" fill="none"/>
<path d="M129.7 70.6h0M133.6 76.1h0M131.8 74.2h0" stroke="#2b3f9f" stroke-width="2.40" stroke-linecap="round" fill="none"/>
<path d="M132.5 67.0h0M132.3 76.1h0M130.8 73.5h0M130.1 73.9h0" stroke="#2b3f9f" stroke-width="1.35" stroke-linecap="round" fill="none"/>
<path d="M131.9 77.3h0M135.6 78.3h0M132.1 76.0h0" stroke="#1f2c82" stroke-width="2.40" stroke-linecap="round" fill="none"/>
<path d="M159.8 44.6L159.1 44.5M159.1 44.5L158.4 41.6M158.4 41.6L157.1 40.6M158.4 41.6L160.7 41.7M157.7 59.6L157.5 58.8M157.5 58.8L155.4 57.4M155.4 57.4L153.4 57.6M153.4 57.6L151.7 55.2M149.9 57.9L148.7 58.5M148.7 58.5L149.3 60.2M151.8 61.4L153.6 62.0M153.6 62.4L154.3 63.4M151.8 61.4L150.2 63.1M146.0 59.7L146.3 62.3M146.3 62.3L147.3 63.5M146.3 62.3L144.8 63.4M146.0 59.7L143.2 58.6M150.2 63.1L151.3 66.5M166.2 62.0L166.3 60.9M166.2 62.0L163.9 65.6M163.9 65.6L163.0 65.2M163.0 65.2L162.1 64.0M162.1 64.0L161.8 62.4M170.2 66.4L170.2 65.2M170.2 66.4L171.5 66.0M171.5 66.0L172.5 64.7M172.5 64.7L173.3 64.7M173.3 64.7L174.0 63.2M174.0 63.2L175.0 64.0M175.0 64.0L176.0 63.1M174.0 63.2L172.8 62.4M173.3 64.7L173.7 67.1M175.3 74.2L176.3 74.0M175.3 74.2L174.2 73.7M175.3 74.2L176.0 75.4M176.0 75.4L176.2 75.7M176.2 75.7L175.5 77.2M175.5 77.2L176.0 79.3M170.0 74.4L168.8 75.4M168.8 75.4L168.2 73.6M168.3 72.9L168.8 73.0M168.3 72.9L166.7 72.5M166.7 72.5L165.7 72.9M165.7 72.9L165.7 71.6M163.4 76.9L162.2 76.6M162.2 76.6L161.8 77.2M162.6 78.5L162.6 78.8M162.6 78.8L162.0 79.0M162.0 79.0L160.4 78.4M162.2 76.6L162.5 74.8M160.4 80.6L159.5 81.7M157.2 81.1L156.6 81.9M156.6 81.9L155.7 80.9M154.8 80.6L152.5 80.6M152.5 80.6L152.7 79.3M154.2 77.9L154.8 78.2M160.4 78.4L158.3 77.4M162.0 79.0L163.1 81.5M163.1 81.5L164.3 83.1M154.6 72.0L155.6 71.2M155.6 71.2L155.2 70.5M172.8 79.0L172.0 79.5M172.0 79.5L170.6 79.8M170.4 80.3L169.0 81.6M169.0 81.6L168.7 82.4M169.0 81.6L167.8 81.5M167.8 81.5L168.1 80.4M172.0 79.5L172.7 81.4M154.2 77.9L150.9 75.9" stroke="#d9301e" stroke-width="0.25" stroke-opacity="0.55" fill="none"/>
<path d="M151.7 55.2L152.3 54.7M152.3 54.7L154.8 52.8M151.7 55.2L149.9 57.9M149.3 60.2L151.8 61.4M153.6 62.0L153.6 62.4M154.3 63.4L155.0 62.8M148.7 58.5L146.0 59.7M174.2 73.7L173.7 73.8M173.7 73.8L173.3 73.5M173.3 73.5L171.6 72.4M171.6 72.4L170.0 74.4M170.0 74.4L170.6 75.6M166.0 74.5L165.1 75.9M160.4 78.4L159.0 79.6M162.6 78.5L164.6 78.6M155.7 80.9L154.8 80.6M152.7 79.3L154.2 77.9M154.8 78.2L155.7 77.9M162.5 74.8L159.7 73.8M159.6 74.2L157.7 74.4M155.8 73.7L154.8 74.0M176.0 79.3L172.8 79.0M168.7 82.4L169.6 82.6M172.7 81.4L172.4 85.2" stroke="#e8561c" stroke-width="0.25" stroke-opacity="0.55" fill="none"/>
<path d="M176.0 79.3L176.7 80.0M168.2 73.6L168.3 72.9M165.7 72.9L166.0 74.5M166.0 74.5L166.7 74.8M168.3 72.9L168.2 71.1M168.2 71.1L168.8 71.1M165.1 75.9L163.4 76.9M161.8 77.2L162.6 78.5M159.0 79.6L160.4 80.6M159.0 79.6L157.2 81.1M164.3 83.1L164.9 84.6M159.7 73.8L159.6 74.2M154.8 74.0L154.6 72.0M170.6 79.8L170.4 80.3" stroke="#f08c22" stroke-width="0.25" stroke-opacity="0.55" fill="none"/>
<path d="M157.7 74.4L155.8 73.7M121.0 80.8L120.5 79.9M119.2 83.7L118.2 81.6" stroke="#f0cf1d" stroke-width="0.25" stroke-opacity="0.55" fill="none"/>
<path d="M153.9 90.6L153.9 92.6M153.9 92.6L152.2 92.6M152.2 92.6L151.8 92.9M151.8 92.9L151.3 92.0M151.3 92.0L151.5 91.8M151.3 92.0L150.7 91.4M150.7 91.4L150.3 90.7M150.3 90.7L150.2 89.5M153.9 92.6L155.8 93.1M155.8 93.1L155.8 92.3M155.8 92.3L157.2 92.2M157.2 92.2L158.6 91.5M158.6 91.5L160.4 90.2M160.4 90.2L160.8 90.4M158.6 91.5L157.8 89.1M131.2 74.2L131.5 74.3M130.9 71.9L129.5 69.8M129.5 69.8L131.9 68.5M131.9 68.5L133.9 68.9M133.9 68.9L134.7 66.9M134.7 66.9L134.3 64.2M134.3 64.2L132.1 65.3M119.2 83.7L120.6 84.6M120.6 84.6L120.6 85.4M120.6 84.6L121.7 83.3M121.7 83.3L122.8 83.9M121.7 83.3L121.0 81.7M121.0 81.7L121.0 81.5M121.0 81.5L121.0 80.8M122.8 83.9L122.8 85.7M122.8 83.9L123.4 81.8M119.2 83.7L117.5 85.1M118.2 81.6L117.7 81.7M117.7 81.7L116.9 81.7M117.5 85.1L115.4 86.1M144.5 91.7L140.8 92.7M140.8 92.7L138.3 93.2M138.3 93.2L137.2 95.9M137.2 95.9L138.3 96.6M139.0 96.5L139.6 96.2M139.6 96.2L140.8 95.9M137.2 95.9L136.8 97.6M136.8 97.6L137.0 99.1M137.2 95.9L134.9 94.5M134.9 94.5L133.9 93.9M133.9 93.8L134.7 93.2M133.9 93.8L133.1 93.0M133.1 93.0L131.9 92.8M133.1 93.0L132.2 94.5M130.9 96.0L131.1 97.3M131.1 97.3L131.3 97.5M131.3 97.5L132.3 98.4M131.1 97.3L129.4 97.1M131.9 92.8L129.9 93.1M129.9 93.1L129.8 94.1M129.0 94.0L127.8 92.4M127.8 92.4L129.2 89.9M129.2 89.9L128.1 88.6M129.2 89.9L130.0 88.3M131.9 92.8L132.7 90.0M136.4 88.0L136.6 88.0M136.6 88.0L136.9 88.4" stroke="#2b3f9f" stroke-width="0.25" stroke-opacity="0.55" fill="none"/>
<path d="M130.9 71.9L131.2 74.2M132.1 65.3L130.0 65.5M133.9 68.9L135.9 71.2M131.5 74.3L131.9 79.8M138.3 96.6L139.0 96.5M133.9 93.9L133.9 93.8M132.2 94.5L130.9 96.0M129.8 94.1L129.0 94.0M132.7 90.0L133.2 88.9M133.2 88.9L135.0 88.4M135.0 88.4L136.4 88.0" stroke="#4fa848" stroke-width="0.25" stroke-opacity="0.55" fill="none"/>
<path d="M159.8 44.6h0M163.9 65.6h0M150.9 75.9h0M165.7 72.9h0M176.3 74.0h0" stroke="#d9301e" stroke-width="1.65" stroke-linecap="round" fill="none"/>
<path d="M158.4 41.6h0M151.3 66.5h0M144.8 63.4h0M143.2 58.6h0M148.7 58.5h0M172.5 64.7h0M175.3 74.2h0M160.4 78.4h0M162.2 76.6h0M155.7 80.9h0M154.8 78.2h0" stroke="#d9301e" stroke-width="1.50" stroke-linecap="round" fill="none"/>
<path d="M157.1 40.6h0M159.1 44.5h0M150.2 63.1h0M153.4 57.6h0M154.3 63.4h0M151.7 55.2h0M155.4 57.4h0M170.2 66.4h0M176.0 63.1h0M173.7 67.1h0M166.7 72.5h0M172.7 81.4h0M168.7 82.4h0M175.5 77.2h0M155.6 71.2h0M156.6 81.9h0" stroke="#d9301e" stroke-width="1.20" stroke-linecap="round" fill="none"/>
<path d="M160.7 41.7h0M147.3 63.5h0M146.3 62.3h0M149.3 60.2h0M153.6 62.0h0M157.5 58.8h0M166.2 62.0h0M162.1 64.0h0M161.8 62.4h0M166.3 60.9h0M173.3 64.7h0M174.0 63.2h0M163.1 81.5h0M169.0 81.6h0M168.8 73.0h0M170.6 79.8h0M168.1 80.4h0" stroke="#d9301e" stroke-width="1.35" stroke-linecap="round" fill="none"/>
<path d="M157.7 59.6h0M151.8 61.4h0M165.1 75.9h0" stroke="#e8561c" stroke-width="1.50" stroke-linecap="round" fill="none"/>
<path d="M152.3 54.7h0M169.6 82.6h0M171.6 72.4h0" stroke="#e8561c" stroke-width="1.20" stroke-linecap="round" fill="none"/>
<path d="M146.0 59.7h0M173.3 73.5h0M155.7 77.9h0M172.4 85.2h0M154.2 77.9h0M154.8 80.6h0" stroke="#e8561c" stroke-width="1.65" stroke-linecap="round" fill="none"/>
<path d="M155.0 62.8h0M149.9 57.9h0M173.7 73.8h0M164.6 78.6h0" stroke="#e8561c" stroke-width="1.35" stroke-linecap="round" fill="none"/>
<path d="M153.6 62.4h0M154.8 52.8h0M170.0 74.4h0M172.8 79.0h0M159.0 79.6h0" stroke="#e8561c" stroke-width="1.05" stroke-linecap="round" fill="none"/>
<path d="M163.0 65.2h0M171.5 66.0h0M175.0 64.0h0M170.2 65.2h0M159.5 81.7h0M167.8 81.5h0M162.6 78.8h0M168.2 73.6h0" stroke="#d9301e" stroke-width="1.05" stroke-linecap="round" fill="none"/>
<path d="M172.8 62.4h0M172.0 79.5h0M174.2 73.7h0M176.0 79.3h0M152.5 80.6h0M176.0 75.4h0" stroke="#d9301e" stroke-width="0.90" stroke-linecap="round" fill="none"/>
<path d="M154.6 72.0h0M168.3 72.9h0M159.6 74.2h0M170.4 80.3h0" stroke="#f08c22" stroke-width="1.95" stroke-linecap="round" fill="none"/>
<path d="M158.3 77.4h0M165.7 71.6h0M168.8 75.4h0M162.5 74.8h0M152.7 79.3h0M155.2 70.5h0" stroke="#d9301e" stroke-width="1.95" stroke-linecap="round" fill="none"/>
<path d="M155.8 73.7h0M120.5 79.9h0" stroke="#f0cf1d" stroke-width="1.20" stroke-linecap="round" fill="none"/>
<path d="M176.2 75.7h0M161.8 77.2h0M164.3 83.1h0M162.0 79.0h0" stroke="#d9301e" stroke-width="1.80" stroke-linecap="round" fill="none"/>
<path d="M159.7 73.8h0" stroke="#e8561c" stroke-width="1.80" stroke-linecap="round" fill="none"/>
<path d="M168.8 71.1h0M176.7 80.0h0M166.0 74.5h0M160.4 80.6h0M168.2 71.1h0" stroke="#f08c22" stroke-width="1.80" stroke-linecap="round" fill="none"/>
<path d="M157.2 81.1h0" stroke="#f08c22" stroke-width="1.50" stroke-linecap="round" fill="none"/>
<path d="M157.7 74.4h0M154.8 74.0h0" stroke="#e8561c" stroke-width="1.95" stroke-linecap="round" fill="none"/>
<path d="M162.6 78.5h0M166.7 74.8h0" stroke="#f08c22" stroke-width="1.65" stroke-linecap="round" fill="none"/>
<path d="M163.4 76.9h0" stroke="#f08c22" stroke-width="1.35" stroke-linecap="round" fill="none"/>
<path d="M164.9 84.6h0" stroke="#f08c22" stroke-width="1.05" stroke-linecap="round" fill="none"/>
<path d="M170.6 75.6h0" stroke="#e8561c" stroke-width="0.90" stroke-linecap="round" fill="none"/>
<path d="M153.9 90.6h0M150.3 90.7h0M152.2 92.6h0M134.7 66.9h0M131.5 74.3h0M117.7 81.7h0M122.8 83.9h0M136.6 88.0h0M131.3 97.5h0" stroke="#2b3f9f" stroke-width="1.35" stroke-linecap="round" fill="none"/>
<path d="M153.9 92.6h0M155.8 92.3h0M160.8 90.4h0M151.3 92.0h0M150.7 91.4h0M160.4 90.2h0M129.5 69.8h0M132.1 65.3h0M117.5 85.1h0M122.8 85.7h0M116.9 81.7h0M131.9 92.8h0M137.2 95.9h0M128.1 88.6h0M132.7 90.0h0M133.1 93.0h0M132.2 94.5h0" stroke="#2b3f9f" stroke-width="1.20" stroke-linecap="round" fill="none"/>
<path d="M151.8 92.9h0M131.9 68.5h0M119.2 83.7h0M120.6 85.4h0M121.0 81.5h0M121.0 80.8h0M133.9 93.9h0M130.0 88.3h0M140.8 92.7h0M134.7 93.2h0" stroke="#2b3f9f" stroke-width="0.90" stroke-linecap="round" fill="none"/>
<path d="M157.8 89.1h0M158.6 91.5h0M130.9 71.9h0M134.3 64.2h0M121.7 83.3h0M120.6 84.6h0M123.4 81.8h0M138.3 93.2h0M139.6 96.2h0M136.8 97.6h0M132.3 98.4h0M129.9 93.1h0M129.2 89.9h0M138.3 96.6h0" stroke="#2b3f9f" stroke-width="1.05" stroke-linecap="round" fill="none"/>
<path d="M157.2 92.2h0M140.8 95.9h0" stroke="#2b3f9f" stroke-width="1.65" stroke-linecap="round" fill="none"/>
<path d="M155.8 93.1h0M150.2 89.5h0M151.5 91.8h0M133.9 68.9h0M115.4 86.1h0M121.0 81.7h0M144.5 91.7h0M136.9 88.4h0M127.8 92.4h0M137.0 99.1h0M134.9 94.5h0M131.1 97.3h0M129.8 94.1h0M129.4 97.1h0" stroke="#2b3f9f" stroke-width="1.50" stroke-linecap="round" fill="none"/>
<path d="M131.2 74.2h0M133.2 88.9h0M135.0 88.4h0M139.0 96.5h0" stroke="#4fa848" stroke-width="1.35" stroke-linecap="round" fill="none"/>
<path d="M135.9 71.2h0M133.9 93.8h0M136.4 88.0h0" stroke="#4fa848" stroke-width="1.50" stroke-linecap="round" fill="none"/>
<path d="M130.0 65.5h0" stroke="#4fa848" stroke-width="1.20" stroke-linecap="round" fill="none"/>
<path d="M131.9 79.8h0M129.0 94.0h0M130.9 96.0h0" stroke="#4fa848" stroke-width="1.05" stroke-linecap="round" fill="none"/>
<path d="M118.2 81.6h0" stroke="#f0cf1d" stroke-width="1.35" stroke-linecap="round" fill="none"/>
<text x="162.00" y="44.80" font-size="2.9" fill="#3a3a3a" textLength="14.4" lengthAdjust="spacingAndGlyphs">CD4+ CD8+</text>
<text x="135.10" y="50.80" font-size="2.9" fill="#3a3a3a" textLength="13.3" lengthAdjust="spacingAndGlyphs">CD4+ naive</text>
<text x="121.20" y="57.30" font-size="2.9" fill="#3a3a3a" textLength="13.9" lengthAdjust="spacingAndGlyphs">CD8+ naive</text>
<text x="167.80" y="54.10" font-size="2.9" fill="#3a3a3a" textLength="13.4" lengthAdjust="spacingAndGlyphs">CD4+ TCM</text>
<text x="178.40" y="64.60" font-size="2.9" fill="#3a3a3a" textLength="22.0" lengthAdjust="spacingAndGlyphs">CD4+ CD25+ TEM</text>
<text x="180.40" y="81.80" font-size="2.9" fill="#3a3a3a" textLength="12.4" lengthAdjust="spacingAndGlyphs">CD4+ TEM</text>
<text x="151.40" y="98.80" font-size="2.9" fill="#3a3a3a" textLength="13.5" lengthAdjust="spacingAndGlyphs">CD4- CD8-</text>
<text x="126.40" y="105.00" font-size="2.9" fill="#3a3a3a" textLength="12.5" lengthAdjust="spacingAndGlyphs">CD8+ TCM</text>
<text x="104.40" y="93.50" font-size="2.9" fill="#3a3a3a" textLength="12.4" lengthAdjust="spacingAndGlyphs">CD8+ TEM</text>
<text x="143.40" y="69.30" font-size="2.9" fill="#3a3a3a" textLength="5.0" lengthAdjust="spacingAndGlyphs">CD4+</text>
<text x="119.90" y="77.80" font-size="2.9" fill="#3a3a3a" textLength="5.0" lengthAdjust="spacingAndGlyphs">CD8+</text>
<polygon points="51.70,145.30 69.90,135.20 77.30,137.20 89.40,147.30 92.10,157.40 91.40,172.20 85.40,175.60 61.20,166.80 58.50,160.10" fill="none" stroke="#3a3a3a" stroke-width="0.45" stroke-linejoin="round"/>
<polygon points="40.30,145.90 47.60,146.70 59.00,174.40 59.50,183.40 48.20,189.00 44.30,188.40 24.50,169.80 34.70,154.00" fill="none" stroke="#3a3a3a" stroke-width="0.45" stroke-linejoin="round"/>
<polygon points="67.90,126.40 71.90,125.10 73.90,127.80 72.60,132.50 69.90,133.80 67.90,129.80" fill="none" stroke="#3a3a3a" stroke-width="0.45" stroke-linejoin="round"/>
<polygon points="61.80,175.60 67.90,174.20 76.00,176.20 75.30,179.60 67.90,180.30 63.20,180.90" fill="none" stroke="#3a3a3a" stroke-width="0.45" stroke-linejoin="round"/>
<polygon points="52.60,145.60 69.90,136.00 73.90,138.70 69.90,153.20 65.20,154.60 54.60,149.40" fill="none" stroke="#3a3a3a" stroke-width="0.45" stroke-linejoin="round"/>
<polygon points="72.80,150.00 76.00,145.40 79.20,146.10 79.20,151.40 75.30,153.80" fill="none" stroke="#3a3a3a" stroke-width="0.45" stroke-linejoin="round"/>
<polygon points="81.30,153.40 83.40,147.40 88.00,147.40 89.30,150.00 89.30,154.60" fill="none" stroke="#3a3a3a" stroke-width="0.45" stroke-linejoin="round"/>
<polygon points="60.70,162.80 66.50,155.60 78.60,155.60 91.20,158.80 90.70,172.00 85.40,174.00 64.50,168.70" fill="none" stroke="#3a3a3a" stroke-width="0.45" stroke-linejoin="round"/>
<polygon points="37.20,152.40 47.40,148.00 52.50,165.40 48.20,169.00 41.00,166.40" fill="none" stroke="#3a3a3a" stroke-width="0.45" stroke-linejoin="round"/>
<polygon points="25.20,167.40 35.80,164.90 38.40,169.80 36.90,173.00 26.90,173.00" fill="none" stroke="#3a3a3a" stroke-width="0.45" stroke-linejoin="round"/>
<polygon points="37.70,174.40 44.80,172.30 58.20,175.50 58.80,183.30 48.20,187.70 43.10,187.70 38.10,178.80" fill="none" stroke="#3a3a3a" stroke-width="0.45" stroke-linejoin="round"/>
<path d="M46.5 179.4h0" stroke="#e8561c" stroke-width="1.95" stroke-linecap="round" fill="none"/>
<path d="M47.0 179.4h0M52.1 178.8h0M40.0 181.6h0M40.0 178.8h0M50.3 177.0h0M47.3 174.9h0M44.2 182.5h0" stroke="#e8561c" stroke-width="2.85" stroke-linecap="round" fill="none"/>
<path d="M48.3 178.5h0M44.2 183.7h0M43.3 183.7h0M39.8 181.7h0M41.6 176.6h0M45.5 177.6h0M42.5 175.8h0M44.5 176.2h0M44.7 178.6h0M43.8 179.2h0" stroke="#e8561c" stroke-width="2.55" stroke-linecap="round" fill="none"/>
<path d="M48.6 177.8h0M49.7 182.1h0M46.0 183.4h0M39.6 182.2h0M41.5 178.6h0M50.3 178.5h0M49.1 179.8h0M40.6 178.3h0" stroke="#e8561c" stroke-width="1.50" stroke-linecap="round" fill="none"/>
<path d="M49.1 176.7h0M47.6 180.9h0M42.1 176.4h0" stroke="#f08c22" stroke-width="2.25" stroke-linecap="round" fill="none"/>
<path d="M49.7 176.6h0M52.1 179.8h0M46.0 183.6h0M41.3 183.3h0M41.5 178.5h0M50.5 179.0h0M45.2 177.0h0M41.8 177.4h0M45.2 176.5h0" stroke="#e8561c" stroke-width="1.35" stroke-linecap="round" fill="none"/>
<path d="M50.4 175.3h0M51.8 176.8h0M48.1 183.3h0M45.7 180.1h0M40.3 181.3h0M48.1 178.0h0M43.5 183.9h0M43.0 176.5h0M46.1 175.2h0M44.3 178.2h0" stroke="#e8561c" stroke-width="1.65" stroke-linecap="round" fill="none"/>
<path d="M50.9 176.1h0M51.9 180.3h0M49.7 182.0h0M39.5 178.0h0M45.2 176.5h0M45.6 175.3h0M46.9 175.5h0" stroke="#e8561c" stroke-width="2.70" stroke-linecap="round" fill="none"/>
<path d="M52.3 178.2h0M40.5 179.0h0" stroke="#f08c22" stroke-width="2.85" stroke-linecap="round" fill="none"/>
<path d="M51.2 181.6h0M43.1 176.8h0M47.6 178.6h0M45.4 176.3h0" stroke="#e8561c" stroke-width="1.80" stroke-linecap="round" fill="none"/>
<path d="M47.8 183.3h0M43.3 179.6h0M51.9 176.9h0M53.7 179.4h0M50.8 177.3h0M46.6 181.3h0M45.6 182.6h0M44.8 183.0h0M45.7 177.7h0M41.1 177.2h0M43.2 176.5h0" stroke="#e8561c" stroke-width="2.25" stroke-linecap="round" fill="none"/>
<path d="M42.2 183.0h0M52.3 178.0h0M44.3 176.5h0M44.2 181.0h0" stroke="#f08c22" stroke-width="1.95" stroke-linecap="round" fill="none"/>
<path d="M40.4 182.3h0M45.0 179.7h0M39.8 180.6h0M44.0 176.6h0M53.0 177.7h0M53.0 178.7h0M52.1 175.3h0" stroke="#e8561c" stroke-width="2.10" stroke-linecap="round" fill="none"/>
<path d="M42.7 179.4h0M40.9 179.5h0" stroke="#e8561c" stroke-width="2.40" stroke-linecap="round" fill="none"/>
<path d="M40.6 180.3h0M41.8 177.9h0M53.1 177.5h0" stroke="#f08c22" stroke-width="2.40" stroke-linecap="round" fill="none"/>
<path d="M47.0 177.6h0M47.6 178.2h0M49.2 177.8h0M46.2 178.2h0M43.8 181.3h0" stroke="#f08c22" stroke-width="2.70" stroke-linecap="round" fill="none"/>
<path d="M49.2 178.4h0M51.7 176.5h0" stroke="#f08c22" stroke-width="1.35" stroke-linecap="round" fill="none"/>
<path d="M47.5 179.1h0" stroke="#f08c22" stroke-width="2.10" stroke-linecap="round" fill="none"/>
<path d="M49.6 176.8h0M52.5 176.6h0M41.4 178.2h0" stroke="#f08c22" stroke-width="2.55" stroke-linecap="round" fill="none"/>
<path d="M48.2 180.3h0" stroke="#f08c22" stroke-width="1.50" stroke-linecap="round" fill="none"/>
<path d="M46.0 181.8h0" stroke="#f08c22" stroke-width="1.80" stroke-linecap="round" fill="none"/>
<path d="M71.3 128.0L70.2 128.9M70.2 128.9L70.2 130.0M70.2 130.0L69.5 130.5M71.3 128.0L72.7 129.8M33.2 169.1L33.8 169.4M33.8 169.4L34.0 168.8M33.3 168.3L31.9 167.6M33.3 169.8L31.9 171.3M31.9 171.3L32.3 172.2M31.9 171.3L27.3 170.4M52.4 176.9L52.6 177.8M52.6 177.8L51.9 178.0M45.0 175.4L44.8 175.1M41.5 175.7L40.5 175.5M47.4 184.0L48.0 186.1M47.4 184.0L49.8 183.1" stroke="#f08c22" stroke-width="0.25" stroke-opacity="0.55" fill="none"/>
<path d="M71.9 141.9L70.4 138.9M70.4 138.9L70.4 137.8M70.4 138.9L68.9 138.5M68.9 138.5L67.6 140.1M67.6 140.1L67.0 140.6M67.0 140.6L65.3 142.4M65.3 142.4L65.7 143.5M65.3 142.4L63.6 143.0M63.6 143.0L64.1 144.9M64.1 144.9L64.8 145.7M64.8 145.7L65.3 147.5M65.3 147.5L65.4 147.6M65.4 147.6L64.3 148.2M64.3 148.2L65.1 149.1M65.1 149.1L64.3 149.9M64.3 149.9L64.4 150.3M65.1 149.1L65.6 150.1M64.3 148.2L63.0 147.3M63.0 147.3L62.4 147.7M65.1 149.1L66.7 148.8M62.4 147.7L62.1 149.3M62.1 149.3L62.1 149.4M66.7 148.8L67.8 146.8M63.6 143.0L60.6 144.4M60.6 144.4L59.4 144.8M59.4 144.8L59.0 146.2M59.4 144.8L59.3 143.3M59.0 146.2L57.0 145.7M57.0 145.7L55.3 145.8M57.0 145.7L57.1 147.8M57.1 147.8L57.2 148.9M74.7 150.2L74.2 149.6M74.7 150.2L75.8 149.6M75.8 149.6L77.1 150.2M75.8 149.6L76.3 147.3M76.3 147.3L77.1 147.5M76.3 147.3L76.9 146.6M85.4 148.9L85.8 149.6M84.4 150.3L84.1 151.1M84.1 151.1L82.7 152.0M84.1 151.1L85.1 152.7M87.7 153.8L88.4 152.2M88.4 152.2L88.6 150.5M75.5 168.7L74.6 167.2M74.6 167.2L74.9 167.0M74.6 167.2L74.1 166.9M74.1 166.9L73.6 166.3M73.6 166.3L73.8 165.7M73.8 165.7L72.7 164.6M75.5 168.7L75.6 170.4M75.6 170.4L76.9 171.0M74.9 167.0L76.7 166.3M76.7 166.3L77.4 166.5M77.4 166.5L77.4 166.4M77.4 166.5L77.8 167.1M72.7 164.6L70.9 163.8M70.9 163.8L69.3 164.2M69.3 164.2L68.7 164.8M68.7 164.8L69.0 165.3M70.6 168.0L71.3 166.7M69.1 166.6L66.6 166.9M66.6 166.9L67.2 168.5M70.9 163.8L69.8 161.6M69.8 161.6L67.2 161.3M67.2 161.3L66.6 162.8M64.4 163.4L64.2 162.5M70.9 163.8L72.7 162.0M72.7 162.0L74.1 160.4M75.1 159.8L76.7 159.5M76.7 159.5L77.5 160.5M76.7 159.5L76.2 158.0M76.7 159.5L78.3 158.9M79.7 158.9L80.6 158.8M80.6 158.8L80.6 160.3M74.1 160.4L75.1 162.3M75.1 162.3L76.6 162.5M73.3 158.0L72.4 156.6M80.4 161.2L79.2 163.3M72.4 156.6L70.0 156.8M81.9 163.4L82.6 163.1M82.6 163.1L84.2 162.3M84.2 162.3L84.7 161.2M84.7 161.2L85.5 160.5M85.5 160.5L85.2 159.4M85.5 160.5L86.6 161.7M86.6 161.7L87.0 162.2M87.0 162.2L88.6 162.2M88.6 162.2L88.5 163.9M88.5 163.9L89.0 163.9M81.7 170.4L83.1 169.1M84.5 168.4L83.5 167.9M83.5 167.9L83.2 166.8M83.2 166.8L84.3 166.4M85.8 165.6L87.1 166.5M87.1 166.5L88.4 167.7M88.4 167.7L88.5 167.7M88.4 167.7L88.0 168.4M89.0 169.5L89.1 171.0M89.1 171.0L87.4 171.8M71.9 179.2L71.7 179.1M71.7 179.1L70.8 179.6M71.9 179.2L72.6 178.1M72.6 178.1L72.2 177.6M70.8 179.6L70.2 178.3M72.6 178.1L74.1 178.0M74.1 178.0L74.8 177.9M74.8 177.9L75.0 177.3M75.0 177.3L74.5 176.2M70.2 178.3L68.2 178.4M68.2 178.4L68.1 175.9M68.2 178.4L64.6 178.6M64.6 178.6L63.6 179.0" stroke="#2b3f9f" stroke-width="0.25" stroke-opacity="0.55" fill="none"/>
<path d="M85.8 149.6L85.3 150.3M85.3 150.3L84.4 150.3M85.1 152.7L87.7 153.8M77.4 166.4L78.3 166.1M74.1 160.4L72.2 159.1M72.2 159.1L73.3 158.0M70.0 156.8L69.4 157.4M79.2 163.3L81.9 163.5M81.9 163.5L81.9 163.4" stroke="#4fa848" stroke-width="0.25" stroke-opacity="0.55" fill="none"/>
<path d="M76.9 171.0L77.9 170.9M69.0 165.3L69.1 166.6M69.1 166.6L70.6 168.0M67.2 161.3L65.6 160.1M66.6 162.8L64.4 163.4M74.1 160.4L75.1 159.8M78.3 158.9L79.7 158.9M80.6 160.3L80.4 161.2M69.4 157.4L69.3 158.4M77.9 170.9L80.7 172.0M80.7 172.0L81.7 170.4M81.7 170.4L80.8 170.1M83.1 169.1L83.7 169.1M83.7 169.1L84.5 168.4M83.2 166.8L82.5 167.4M84.3 166.4L85.8 165.6M88.0 168.4L89.0 169.5" stroke="#1f2c82" stroke-width="0.25" stroke-opacity="0.55" fill="none"/>
<path d="M40.2 158.4L40.7 157.9M40.2 158.4L40.9 160.2M40.9 160.2L41.7 161.1M41.7 161.1L42.0 161.1M42.0 161.1L43.1 160.6M43.1 160.6L43.1 160.3M42.0 161.1L42.3 162.5M42.3 162.5L43.2 163.9M43.2 163.9L45.0 164.0M45.0 164.0L46.2 163.1M43.1 160.3L45.0 159.4M45.0 159.4L46.2 160.3M46.2 160.3L46.7 159.9M46.7 159.9L49.0 159.3M49.0 159.3L49.1 159.3M49.0 159.3L48.9 156.0M48.9 156.0L47.3 154.4M47.3 154.4L46.4 154.1M47.3 154.4L48.3 153.1M48.3 153.1L47.3 150.7M47.3 150.7L46.9 149.7M46.4 154.1L44.2 152.5M46.4 154.1L43.8 155.9M43.8 155.9L43.5 155.8M43.5 155.8L42.7 155.3M42.7 155.3L39.8 152.6M46.2 163.1L48.9 167.0M34.5 167.2L33.3 168.3M33.8 169.4L33.3 169.8M33.8 169.4L34.4 170.0M34.6 170.4L34.7 170.4M32.3 172.2L33.1 172.0M34.7 170.4L36.9 169.7M49.3 176.2L46.9 174.2M44.8 175.1L41.5 175.7M53.3 183.0L54.7 181.4" stroke="#d9301e" stroke-width="0.25" stroke-opacity="0.55" fill="none"/>
<path d="M33.3 168.3L33.2 169.1M34.4 170.0L34.6 170.4M32.3 172.2L32.0 172.6" stroke="#f0cf1d" stroke-width="0.25" stroke-opacity="0.55" fill="none"/>
<path d="M51.9 178.0L50.3 178.1M50.3 178.1L49.3 176.2M46.9 174.2L45.0 175.4M40.5 175.5L39.6 175.8M41.5 175.7L41.0 176.8M45.0 175.4L44.6 178.8M44.6 178.8L45.5 180.5M45.5 180.5L43.5 181.0M45.5 180.5L47.4 184.0M48.0 186.1L48.4 186.7M48.4 186.7L50.3 185.7M49.8 183.1L49.3 182.2M49.8 183.1L53.3 183.0M53.3 183.0L55.2 183.8M54.7 181.4L56.7 181.9" stroke="#e8561c" stroke-width="0.25" stroke-opacity="0.55" fill="none"/>
<path d="M71.3 128.0h0M70.2 128.9h0M52.6 177.8h0M49.8 183.1h0" stroke="#f08c22" stroke-width="1.35" stroke-linecap="round" fill="none"/>
<path d="M70.2 130.0h0" stroke="#f08c22" stroke-width="1.20" stroke-linecap="round" fill="none"/>
<path d="M69.5 130.5h0M32.3 172.2h0M31.9 167.6h0M44.8 175.1h0" stroke="#f08c22" stroke-width="1.05" stroke-linecap="round" fill="none"/>
<path d="M72.7 129.8h0M34.0 168.8h0" stroke="#f08c22" stroke-width="1.65" stroke-linecap="round" fill="none"/>
<path d="M71.9 141.9h0M65.4 147.6h0M66.7 148.8h0M57.2 148.9h0M74.2 149.6h0M77.1 147.5h0M85.8 149.6h0M85.1 152.7h0M66.6 166.9h0M84.3 166.4h0M76.7 159.5h0M77.8 167.1h0M89.0 163.9h0M69.3 164.2h0M75.1 162.3h0M82.6 163.1h0M87.4 171.8h0M68.2 178.4h0M72.6 178.1h0M74.5 176.2h0M74.8 177.9h0" stroke="#2b3f9f" stroke-width="1.35" stroke-linecap="round" fill="none"/>
<path d="M64.8 145.7h0M55.3 145.8h0M57.1 147.8h0M59.4 144.8h0M59.3 143.3h0M67.6 140.1h0M65.7 143.5h0M74.9 167.0h0M70.0 156.8h0M77.4 166.4h0M71.3 166.7h0M63.6 179.0h0M72.2 177.6h0M75.0 177.3h0M70.2 178.3h0" stroke="#2b3f9f" stroke-width="0.90" stroke-linecap="round" fill="none"/>
<path d="M68.9 138.5h0M62.1 149.4h0M77.5 160.5h0M74.1 160.4h0M86.6 161.7h0M74.1 166.9h0M76.2 158.0h0M88.5 167.7h0M87.1 166.5h0M88.4 167.7h0M67.2 168.5h0M89.1 171.0h0M73.6 166.3h0M88.6 162.2h0" stroke="#2b3f9f" stroke-width="1.65" stroke-linecap="round" fill="none"/>
<path d="M65.3 147.5h0M64.3 149.9h0M64.3 148.2h0M63.6 143.0h0M64.1 144.9h0M70.4 137.8h0M77.1 150.2h0M75.8 149.6h0M76.3 147.3h0M72.4 156.6h0M83.5 167.9h0M77.4 166.5h0M83.1 169.1h0M66.6 162.8h0M71.9 179.2h0" stroke="#2b3f9f" stroke-width="1.50" stroke-linecap="round" fill="none"/>
<path d="M63.0 147.3h0M67.0 140.6h0M62.1 149.3h0M65.1 149.1h0M57.0 145.7h0M70.4 138.9h0M65.3 142.4h0M76.9 146.6h0M88.4 152.2h0M84.1 151.1h0M75.5 168.7h0M74.6 167.2h0M73.8 165.7h0M72.7 164.6h0M80.6 158.8h0M67.2 161.3h0M85.5 160.5h0M72.7 162.0h0M64.2 162.5h0M79.2 163.3h0M74.1 178.0h0M64.6 178.6h0M68.1 175.9h0" stroke="#2b3f9f" stroke-width="1.05" stroke-linecap="round" fill="none"/>
<path d="M67.8 146.8h0M65.6 150.1h0M62.4 147.7h0M60.6 144.4h0M64.4 150.3h0M59.0 146.2h0M74.7 150.2h0M88.6 150.5h0M82.7 152.0h0M76.9 171.0h0M88.0 168.4h0M83.2 166.8h0M87.0 162.2h0M80.6 160.3h0M69.0 165.3h0M70.8 179.6h0M71.7 179.1h0" stroke="#2b3f9f" stroke-width="1.20" stroke-linecap="round" fill="none"/>
<path d="M85.4 148.9h0" stroke="#4fa848" stroke-width="1.20" stroke-linecap="round" fill="none"/>
<path d="M87.7 153.8h0M84.4 150.3h0M69.4 157.4h0" stroke="#4fa848" stroke-width="1.50" stroke-linecap="round" fill="none"/>
<path d="M85.3 150.3h0" stroke="#4fa848" stroke-width="0.90" stroke-linecap="round" fill="none"/>
<path d="M65.6 160.1h0M85.8 165.6h0" stroke="#1f2c82" stroke-width="1.95" stroke-linecap="round" fill="none"/>
<path d="M82.5 167.4h0M80.8 170.1h0M75.1 159.8h0M69.3 158.4h0M80.4 161.2h0M79.7 158.9h0" stroke="#1f2c82" stroke-width="1.65" stroke-linecap="round" fill="none"/>
<path d="M83.7 169.1h0M69.1 166.6h0M80.7 172.0h0" stroke="#1f2c82" stroke-width="1.80" stroke-linecap="round" fill="none"/>
<path d="M68.7 164.8h0M70.9 163.8h0M84.7 161.2h0M78.3 158.9h0" stroke="#2b3f9f" stroke-width="1.95" stroke-linecap="round" fill="none"/>
<path d="M76.7 166.3h0M76.6 162.5h0M85.2 159.4h0M84.2 162.3h0M75.6 170.4h0M88.5 163.9h0M69.8 161.6h0" stroke="#2b3f9f" stroke-width="1.80" stroke-linecap="round" fill="none"/>
<path d="M70.6 168.0h0M77.9 170.9h0M81.7 170.4h0" stroke="#1f2c82" stroke-width="1.05" stroke-linecap="round" fill="none"/>
<path d="M84.5 168.4h0M89.0 169.5h0" stroke="#1f2c82" stroke-width="1.50" stroke-linecap="round" fill="none"/>
<path d="M78.3 166.1h0" stroke="#4fa848" stroke-width="1.35" stroke-linecap="round" fill="none"/>
<path d="M81.9 163.4h0M73.3 158.0h0" stroke="#4fa848" stroke-width="1.05" stroke-linecap="round" fill="none"/>
<path d="M72.2 159.1h0M81.9 163.5h0" stroke="#4fa848" stroke-width="1.65" stroke-linecap="round" fill="none"/>
<path d="M64.4 163.4h0" stroke="#1f2c82" stroke-width="1.35" stroke-linecap="round" fill="none"/>
<path d="M40.2 158.4h0M43.1 160.3h0M46.4 154.1h0M39.8 152.6h0M46.9 149.7h0M48.9 167.0h0M33.1 172.0h0" stroke="#d9301e" stroke-width="0.90" stroke-linecap="round" fill="none"/>
<path d="M47.3 154.4h0M41.7 161.1h0M42.0 161.1h0M36.9 169.7h0M33.3 169.8h0" stroke="#d9301e" stroke-width="1.35" stroke-linecap="round" fill="none"/>
<path d="M48.3 153.1h0M46.2 163.1h0M43.5 155.8h0M43.1 160.6h0M40.7 157.9h0M40.9 160.2h0M42.3 162.5h0M34.5 167.2h0M34.4 170.0h0M33.3 168.3h0M46.9 174.2h0" stroke="#d9301e" stroke-width="1.50" stroke-linecap="round" fill="none"/>
<path d="M49.0 159.3h0M43.2 163.9h0M47.3 150.7h0M46.2 160.3h0M34.7 170.4h0M41.5 175.7h0" stroke="#d9301e" stroke-width="1.05" stroke-linecap="round" fill="none"/>
<path d="M48.9 156.0h0" stroke="#d9301e" stroke-width="1.65" stroke-linecap="round" fill="none"/>
<path d="M49.1 159.3h0M42.7 155.3h0M45.0 164.0h0M46.7 159.9h0M43.8 155.9h0M45.0 159.4h0M44.2 152.5h0M54.7 181.4h0" stroke="#d9301e" stroke-width="1.20" stroke-linecap="round" fill="none"/>
<path d="M31.9 171.3h0M33.8 169.4h0" stroke="#f08c22" stroke-width="1.50" stroke-linecap="round" fill="none"/>
<path d="M34.6 170.4h0" stroke="#f0cf1d" stroke-width="1.65" stroke-linecap="round" fill="none"/>
<path d="M27.3 170.4h0M40.5 175.5h0M48.0 186.1h0M51.9 178.0h0" stroke="#f08c22" stroke-width="0.90" stroke-linecap="round" fill="none"/>
<path d="M33.2 169.1h0" stroke="#f0cf1d" stroke-width="1.35" stroke-linecap="round" fill="none"/>
<path d="M32.0 172.6h0" stroke="#f0cf1d" stroke-width="1.50" stroke-linecap="round" fill="none"/>
<path d="M52.4 176.9h0" stroke="#e8561c" stroke-width="1.35" stroke-linecap="round" fill="none"/>
<path d="M43.5 181.0h0M45.5 180.5h0M53.3 183.0h0" stroke="#e8561c" stroke-width="1.20" stroke-linecap="round" fill="none"/>
<path d="M48.4 186.7h0M55.2 183.8h0M47.4 184.0h0M49.3 182.2h0M45.0 175.4h0M56.7 181.9h0M50.3 178.1h0" stroke="#e8561c" stroke-width="1.05" stroke-linecap="round" fill="none"/>
<path d="M39.6 175.8h0M44.6 178.8h0M50.3 185.7h0M49.3 176.2h0" stroke="#e8561c" stroke-width="1.50" stroke-linecap="round" fill="none"/>
<path d="M41.0 176.8h0" stroke="#e8561c" stroke-width="0.90" stroke-linecap="round" fill="none"/>
<text x="74.60" y="131.20" font-size="2.9" fill="#3a3a3a" textLength="14.4" lengthAdjust="spacingAndGlyphs">CD4+ CD8+</text>
<text x="47.70" y="137.20" font-size="2.9" fill="#3a3a3a" textLength="13.3" lengthAdjust="spacingAndGlyphs">CD4+ naive</text>
<text x="33.80" y="143.70" font-size="2.9" fill="#3a3a3a" textLength="13.9" lengthAdjust="spacingAndGlyphs">CD8+ naive</text>
<text x="80.40" y="140.50" font-size="2.9" fill="#3a3a3a" textLength="13.4" lengthAdjust="spacingAndGlyphs">CD4+ TCM</text>
<text x="91.00" y="151.00" font-size="2.9" fill="#3a3a3a" textLength="22.0" lengthAdjust="spacingAndGlyphs">CD4+ CD25+ TEM</text>
<text x="93.00" y="168.20" font-size="2.9" fill="#3a3a3a" textLength="12.4" lengthAdjust="spacingAndGlyphs">CD4+ TEM</text>
<text x="64.00" y="185.20" font-size="2.9" fill="#3a3a3a" textLength="13.5" lengthAdjust="spacingAndGlyphs">CD4- CD8-</text>
<text x="39.00" y="191.40" font-size="2.9" fill="#3a3a3a" textLength="12.5" lengthAdjust="spacingAndGlyphs">CD8+ TCM</text>
<text x="17.00" y="179.90" font-size="2.9" fill="#3a3a3a" textLength="12.4" lengthAdjust="spacingAndGlyphs">CD8+ TEM</text>
<text x="56.00" y="155.70" font-size="2.9" fill="#3a3a3a" textLength="5.0" lengthAdjust="spacingAndGlyphs">CD4+</text>
<text x="32.50" y="164.20" font-size="2.9" fill="#3a3a3a" textLength="5.0" lengthAdjust="spacingAndGlyphs">CD8+</text>
<polygon points="139.10,145.30 157.30,135.20 164.70,137.20 176.80,147.30 179.50,157.40 178.80,172.20 172.80,175.60 148.60,166.80 145.90,160.10" fill="none" stroke="#3a3a3a" stroke-width="0.45" stroke-linejoin="round"/>
<polygon points="127.70,145.90 135.00,146.70 146.40,174.40 146.90,183.40 135.60,189.00 131.70,188.40 111.90,169.80 122.10,154.00" fill="none" stroke="#3a3a3a" stroke-width="0.45" stroke-linejoin="round"/>
<polygon points="155.30,126.40 159.30,125.10 161.30,127.80 160.00,132.50 157.30,133.80 155.30,129.80" fill="none" stroke="#3a3a3a" stroke-width="0.45" stroke-linejoin="round"/>
<polygon points="149.20,175.60 155.30,174.20 163.40,176.20 162.70,179.60 155.30,180.30 150.60,180.90" fill="none" stroke="#3a3a3a" stroke-width="0.45" stroke-linejoin="round"/>
<polygon points="140.00,145.60 157.30,136.00 161.30,138.70 157.30,153.20 152.60,154.60 142.00,149.40" fill="none" stroke="#3a3a3a" stroke-width="0.45" stroke-linejoin="round"/>
<polygon points="160.20,150.00 163.40,145.40 166.60,146.10 166.60,151.40 162.70,153.80" fill="none" stroke="#3a3a3a" stroke-width="0.45" stroke-linejoin="round"/>
<polygon points="168.70,153.40 170.80,147.40 175.40,147.40 176.70,150.00 176.70,154.60" fill="none" stroke="#3a3a3a" stroke-width="0.45" stroke-linejoin="round"/>
<polygon points="148.10,162.80 153.90,155.60 166.00,155.60 178.60,158.80 178.10,172.00 172.80,174.00 151.90,168.70" fill="none" stroke="#3a3a3a" stroke-width="0.45" stroke-linejoin="round"/>
<polygon points="124.60,152.40 134.80,148.00 139.90,165.40 135.60,169.00 128.40,166.40" fill="none" stroke="#3a3a3a" stroke-width="0.45" stroke-linejoin="round"/>
<polygon points="112.60,167.40 123.20,164.90 125.80,169.80 124.30,173.00 114.30,173.00" fill="none" stroke="#3a3a3a" stroke-width="0.45" stroke-linejoin="round"/>
<polygon points="125.10,174.40 132.20,172.30 145.60,175.50 146.20,183.30 135.60,187.70 130.50,187.70 125.50,178.80" fill="none" stroke="#3a3a3a" stroke-width="0.45" stroke-linejoin="round"/>
<path d="M148.4 146.9h0M149.5 145.5h0M153.3 143.3h0M152.1 147.8h0M152.3 148.0h0M152.2 145.5h0M144.6 145.7h0M143.9 146.7h0M144.3 150.0h0M147.1 148.7h0M149.3 148.8h0M152.9 146.6h0M152.3 145.2h0" stroke="#1f2c82" stroke-width="2.55" stroke-linecap="round" fill="none"/>
<path d="M148.7 145.7h0M146.2 147.0h0M144.7 145.8h0M144.6 145.7h0M153.5 146.3h0M144.2 147.8h0M149.1 147.7h0M152.9 145.3h0" stroke="#1f2c82" stroke-width="2.70" stroke-linecap="round" fill="none"/>
<path d="M150.7 144.3h0M143.4 149.0h0M152.3 146.6h0M145.9 148.3h0M147.5 147.9h0" stroke="#1f2c82" stroke-width="1.80" stroke-linecap="round" fill="none"/>
<path d="M150.6 143.7h0M152.6 143.9h0M154.2 146.9h0M147.5 149.4h0M150.4 145.3h0" stroke="#1f2c82" stroke-width="1.65" stroke-linecap="round" fill="none"/>
<path d="M152.1 143.7h0M152.5 145.0h0M144.7 148.9h0M150.5 148.8h0M151.5 149.4h0M146.5 147.8h0" stroke="#1f2c82" stroke-width="2.40" stroke-linecap="round" fill="none"/>
<path d="M152.2 145.7h0" stroke="#2b3f9f" stroke-width="2.70" stroke-linecap="round" fill="none"/>
<path d="M151.8 147.2h0M151.6 146.7h0M150.9 148.0h0M142.1 148.5h0M144.9 148.9h0M143.5 150.7h0M151.5 145.3h0M154.9 146.6h0" stroke="#1f2c82" stroke-width="2.10" stroke-linecap="round" fill="none"/>
<path d="M152.6 148.3h0" stroke="#2b3f9f" stroke-width="2.25" stroke-linecap="round" fill="none"/>
<path d="M152.5 147.0h0M147.8 148.0h0M149.4 147.1h0M146.3 150.0h0" stroke="#1f2c82" stroke-width="1.35" stroke-linecap="round" fill="none"/>
<path d="M151.6 144.4h0" stroke="#2b3f9f" stroke-width="2.55" stroke-linecap="round" fill="none"/>
<path d="M152.0 143.7h0M146.0 148.9h0M149.2 148.2h0M144.1 149.9h0M149.8 146.7h0" stroke="#1f2c82" stroke-width="1.50" stroke-linecap="round" fill="none"/>
<path d="M151.0 143.3h0M145.3 146.5h0M149.9 147.5h0M145.4 150.9h0M149.6 146.7h0" stroke="#1f2c82" stroke-width="2.25" stroke-linecap="round" fill="none"/>
<path d="M152.2 142.6h0" stroke="#2b3f9f" stroke-width="1.50" stroke-linecap="round" fill="none"/>
<path d="M147.8 146.5h0M155.3 146.2h0" stroke="#2b3f9f" stroke-width="1.65" stroke-linecap="round" fill="none"/>
<path d="M144.7 144.6h0M142.7 150.2h0M150.6 146.7h0M152.1 146.4h0M147.8 147.5h0M146.7 148.6h0M145.1 150.3h0M153.6 145.4h0" stroke="#1f2c82" stroke-width="1.95" stroke-linecap="round" fill="none"/>
<path d="M144.3 148.2h0M143.0 148.0h0" stroke="#2b3f9f" stroke-width="2.40" stroke-linecap="round" fill="none"/>
<path d="M148.5 148.1h0M154.1 146.2h0" stroke="#2b3f9f" stroke-width="1.80" stroke-linecap="round" fill="none"/>
<path d="M151.2 147.8h0M154.3 145.7h0" stroke="#2b3f9f" stroke-width="2.10" stroke-linecap="round" fill="none"/>
<path d="M143.8 148.6h0M146.1 148.6h0M147.7 149.2h0" stroke="#2b3f9f" stroke-width="1.95" stroke-linecap="round" fill="none"/>
<path d="M132.4 157.9h0M134.3 160.8h0M131.2 150.0h0M132.1 158.9h0M134.9 162.4h0M133.6 162.1h0M131.6 157.5h0M133.6 164.7h0" stroke="#d9301e" stroke-width="2.40" stroke-linecap="round" fill="none"/>
<path d="M133.1 158.8h0M133.9 160.6h0M131.7 159.3h0M130.8 158.1h0M131.8 150.4h0M131.4 158.4h0M134.4 163.9h0M133.3 163.6h0M130.7 157.3h0M133.4 155.0h0" stroke="#d9301e" stroke-width="1.50" stroke-linecap="round" fill="none"/>
<path d="M133.9 159.1h0M132.4 160.2h0M133.1 161.6h0M134.0 163.8h0M133.9 165.4h0M130.3 156.1h0M131.5 154.4h0" stroke="#d9301e" stroke-width="1.65" stroke-linecap="round" fill="none"/>
<path d="M134.7 160.1h0M134.0 156.0h0M134.0 156.5h0M134.7 160.1h0" stroke="#e8561c" stroke-width="1.65" stroke-linecap="round" fill="none"/>
<path d="M135.6 160.4h0M131.7 149.7h0M133.3 154.5h0M133.7 163.7h0" stroke="#d9301e" stroke-width="1.20" stroke-linecap="round" fill="none"/>
<path d="M131.1 158.7h0M129.9 160.1h0" stroke="#e8561c" stroke-width="2.10" stroke-linecap="round" fill="none"/>
<path d="M130.8 157.3h0" stroke="#e8561c" stroke-width="1.95" stroke-linecap="round" fill="none"/>
<path d="M130.8 155.8h0M131.7 154.4h0M134.0 164.9h0M134.9 156.1h0M134.9 157.4h0" stroke="#e8561c" stroke-width="1.80" stroke-linecap="round" fill="none"/>
<path d="M131.4 154.6h0M132.9 156.1h0M131.6 159.4h0M132.7 157.0h0M132.6 163.9h0M134.0 161.3h0M133.9 155.3h0" stroke="#d9301e" stroke-width="2.55" stroke-linecap="round" fill="none"/>
<path d="M131.7 153.0h0M132.1 151.4h0M132.6 155.6h0M130.7 159.4h0M133.0 160.0h0M134.5 158.0h0" stroke="#d9301e" stroke-width="1.95" stroke-linecap="round" fill="none"/>
<path d="M132.0 152.6h0M134.0 152.9h0M131.0 158.7h0M135.4 162.4h0M135.1 158.6h0M134.4 162.2h0M134.7 165.1h0" stroke="#d9301e" stroke-width="2.25" stroke-linecap="round" fill="none"/>
<path d="M131.4 151.0h0" stroke="#e8561c" stroke-width="2.55" stroke-linecap="round" fill="none"/>
<path d="M132.4 156.9h0M132.9 153.8h0M132.0 157.5h0M133.3 156.0h0M132.4 165.0h0M133.3 164.2h0M129.4 155.9h0" stroke="#d9301e" stroke-width="1.35" stroke-linecap="round" fill="none"/>
<path d="M133.2 154.9h0M132.3 157.2h0" stroke="#e8561c" stroke-width="2.40" stroke-linecap="round" fill="none"/>
<path d="M132.8 155.2h0M130.8 155.0h0" stroke="#e8561c" stroke-width="1.50" stroke-linecap="round" fill="none"/>
<path d="M132.2 156.9h0M133.0 163.5h0M135.1 163.1h0M133.4 162.4h0M134.1 162.6h0" stroke="#d9301e" stroke-width="1.80" stroke-linecap="round" fill="none"/>
<path d="M133.3 160.3h0M134.9 160.8h0" stroke="#e8561c" stroke-width="1.35" stroke-linecap="round" fill="none"/>
<path d="M132.7 163.1h0" stroke="#e8561c" stroke-width="1.20" stroke-linecap="round" fill="none"/>
<path d="M130.0 155.3h0" stroke="#e8561c" stroke-width="2.25" stroke-linecap="round" fill="none"/>
<path d="M158.3 131.5L158.4 131.4M158.4 131.4L156.5 129.1M156.5 129.1L158.2 126.5M158.2 126.5L160.2 128.3M128.0 153.3L129.1 153.5M128.0 153.3L128.4 152.0M129.1 153.5L128.7 154.9M128.7 154.9L128.7 155.0M129.1 153.5L130.4 152.6M130.4 152.6L134.5 149.4M128.7 155.0L132.8 159.4M132.8 159.4L132.3 163.9M132.3 163.9L132.5 165.6M132.5 165.6L132.8 166.1M132.8 166.1L135.6 167.0M119.9 170.8L120.0 170.2M120.0 170.2L120.3 170.2M119.9 170.8L120.0 172.1M119.5 172.5L119.3 172.1M118.8 166.8L120.0 167.2M144.4 182.1L144.2 182.7M144.4 181.9L144.6 180.3M137.4 179.6L136.4 179.1M136.4 179.1L135.2 176.7M135.2 176.7L136.1 176.3M135.2 176.7L134.5 174.7M134.5 174.7L133.6 174.3M133.6 174.3L132.0 175.5M132.0 175.5L131.5 174.5M137.4 179.6L136.9 182.3M135.8 182.9L137.1 184.1M137.1 184.1L138.3 184.5M135.8 182.9L134.4 181.4M131.5 183.2L129.3 182.8M129.3 182.8L128.5 181.5M128.5 181.5L128.5 181.1" stroke="#d9301e" stroke-width="0.25" stroke-opacity="0.55" fill="none"/>
<path d="M154.3 152.3L156.0 152.7M154.3 152.3L153.4 149.9M153.4 149.9L157.6 148.4M157.6 148.4L156.5 146.1M156.5 146.1L155.1 145.5M155.1 145.5L154.0 144.3M154.0 144.3L155.0 142.6M155.0 142.6L153.8 141.3M155.0 142.6L157.1 141.9M157.1 141.9L158.2 140.1M157.1 141.9L159.4 142.3M156.5 146.1L158.8 144.9M154.0 144.3L151.2 143.8M151.2 143.8L148.9 142.5M148.9 142.5L148.3 142.4M151.2 143.8L150.2 146.3M150.2 146.3L150.1 146.8M148.3 142.4L146.8 144.8M150.1 146.8L147.1 150.0M147.1 150.0L145.1 149.6M145.1 149.6L144.4 149.4M163.6 147.1L162.3 147.5M163.6 147.1L165.1 147.2M162.3 147.5L162.6 149.4M162.6 149.4L164.1 151.2M175.0 152.1L174.1 152.4M171.9 151.4L171.1 152.9M171.1 152.9L170.6 153.2M170.6 153.2L170.6 153.1M175.0 152.1L175.0 149.0M175.0 149.0L174.6 148.6M167.6 161.3L167.7 161.0M167.7 161.0L167.7 160.6M167.6 161.3L166.9 161.1M167.7 160.6L167.0 160.1M167.0 160.1L166.8 158.9M167.6 161.3L168.4 162.3M168.4 162.3L168.7 162.3M168.7 162.3L169.4 162.4M169.4 162.4L169.4 160.9M166.8 158.9L166.9 157.4M166.9 157.4L167.2 156.8M169.4 160.9L170.1 159.1M170.1 159.1L171.2 158.3M173.0 160.9L173.2 160.9M166.8 158.9L164.7 158.6M164.7 158.6L163.4 157.2M164.7 158.6L162.8 159.4M162.8 159.4L161.7 161.4M168.4 162.3L167.0 164.1M167.0 164.1L165.1 163.9M165.1 163.9L164.7 165.9M164.7 165.9L164.1 165.9M164.1 167.0L164.9 168.0M163.1 167.8L163.3 169.0M164.1 165.9L162.6 165.1M162.6 165.1L162.3 165.8M162.3 165.8L161.1 165.3M161.1 165.3L159.6 166.9M169.4 162.4L169.4 164.9M171.5 165.4L173.2 165.3M173.2 165.3L174.9 165.7M174.9 165.7L176.3 165.6M176.3 165.6L175.9 166.8M176.3 165.6L176.8 164.1M175.9 166.8L176.8 168.1M176.8 168.1L176.5 170.2M164.9 168.0L167.5 167.1M168.1 167.6L168.4 170.3M168.4 170.3L170.9 170.7M161.7 161.4L158.7 161.4M158.3 161.0L157.2 161.0M158.7 161.4L158.3 162.6M155.4 159.9L154.2 160.7M154.2 160.7L154.2 161.7M154.2 161.7L155.3 162.1M155.3 162.1L154.3 163.4M154.3 163.4L152.8 163.7M152.8 163.7L152.1 165.1M154.2 160.7L153.4 159.0M152.8 163.7L151.6 161.7M151.6 161.7L150.2 162.3M173.2 160.9L176.2 159.9M176.2 159.9L176.7 159.9M152.1 165.1L154.5 167.4M154.7 167.9L155.6 167.4M156.2 176.3L156.1 176.2M156.1 176.2L155.6 176.3M156.2 176.3L156.8 177.2M155.6 176.3L154.7 174.9M155.6 176.3L154.4 177.6M154.4 177.6L153.8 177.7M156.8 177.2L156.0 179.0M153.8 177.7L151.4 177.4M151.4 177.4L150.2 176.9M153.8 177.7L153.0 180.1M156.8 177.2L160.2 176.1M160.2 176.1L160.6 178.8M160.6 178.8L160.3 179.1" stroke="#2b3f9f" stroke-width="0.25" stroke-opacity="0.55" fill="none"/>
<path d="M164.1 151.2L165.7 149.6M176.2 153.9L175.0 152.1M174.1 152.4L171.9 151.4M174.6 148.6L172.3 147.8M167.0 160.1L168.0 159.3M169.4 160.9L171.3 161.4M171.3 161.4L173.0 160.9M164.1 165.9L164.1 167.0M164.1 167.0L163.1 167.8M169.4 164.9L171.5 165.4M176.5 170.2L175.2 169.9M167.5 167.1L168.1 167.6M170.9 170.7L172.3 169.3M158.7 161.4L158.3 161.0M157.2 161.0L155.4 159.9M155.4 159.9L156.0 157.1M176.2 159.9L176.3 159.2M154.5 167.4L154.7 167.9" stroke="#4fa848" stroke-width="0.25" stroke-opacity="0.55" fill="none"/>
<path d="M120.0 172.1L119.5 172.5M119.3 172.1L118.9 172.5M119.9 170.8L118.0 170.1M118.3 166.9L118.8 166.8" stroke="#f0cf1d" stroke-width="0.25" stroke-opacity="0.55" fill="none"/>
<path d="M118.0 170.1L117.0 168.3M117.0 168.3L115.7 167.7M117.0 168.3L118.3 166.9M120.0 167.2L121.1 167.8M115.7 167.7L113.6 168.5M121.1 167.8L124.5 169.2M142.6 178.1L140.4 179.2M140.4 179.2L139.5 176.5M139.5 176.5L140.7 175.4M128.4 175.1L126.5 175.8" stroke="#f08c22" stroke-width="0.25" stroke-opacity="0.55" fill="none"/>
<path d="M144.4 181.9L144.4 182.1M144.6 180.3L142.6 178.1M142.6 178.1L142.9 177.7M140.4 179.2L137.4 179.6M135.2 176.7L134.4 177.0M133.6 174.3L133.3 173.4M136.9 182.3L135.8 182.9M131.5 174.5L128.4 175.1M134.4 181.4L131.5 183.2M131.5 183.2L131.8 183.8M131.8 183.8L132.4 184.1M128.5 181.1L127.6 180.1M127.6 180.1L127.5 179.6M128.5 181.1L130.4 179.6" stroke="#e8561c" stroke-width="0.25" stroke-opacity="0.55" fill="none"/>
<path d="M158.3 131.5h0M132.3 163.9h0M120.3 170.2h0M119.3 172.1h0M120.0 167.2h0M128.5 181.1h0M134.5 174.7h0M132.0 175.5h0M136.9 182.3h0M144.6 180.3h0" stroke="#d9301e" stroke-width="1.35" stroke-linecap="round" fill="none"/>
<path d="M158.2 126.5h0M158.4 131.4h0M128.0 153.3h0" stroke="#d9301e" stroke-width="1.65" stroke-linecap="round" fill="none"/>
<path d="M156.5 129.1h0M160.2 128.3h0M129.1 153.5h0M135.6 167.0h0M120.0 172.1h0M136.4 179.1h0M128.5 181.5h0M136.1 176.3h0" stroke="#d9301e" stroke-width="1.50" stroke-linecap="round" fill="none"/>
<path d="M154.3 152.3h0M150.1 146.8h0M144.4 149.4h0M174.6 148.6h0M174.1 152.4h0M150.2 162.3h0M176.2 159.9h0M167.7 160.6h0M154.2 160.7h0M162.6 165.1h0M167.7 161.0h0M164.9 168.0h0M155.3 162.1h0M158.3 162.6h0M176.5 170.2h0M151.4 177.4h0M156.8 177.2h0" stroke="#2b3f9f" stroke-width="1.05" stroke-linecap="round" fill="none"/>
<path d="M151.2 143.8h0M158.2 140.1h0M147.1 150.0h0M156.0 152.7h0M156.5 146.1h0M165.1 147.2h0M164.7 165.9h0M170.1 159.1h0M169.4 160.9h0M175.9 166.8h0M154.2 161.7h0M176.8 168.1h0M167.5 167.1h0M169.4 162.4h0M150.2 176.9h0M155.6 176.3h0M160.6 178.8h0" stroke="#2b3f9f" stroke-width="1.50" stroke-linecap="round" fill="none"/>
<path d="M150.2 146.3h0M153.8 141.3h0M154.0 144.3h0M148.3 142.4h0M146.8 144.8h0M158.8 144.9h0M163.6 147.1h0M162.6 149.4h0M171.1 152.9h0M173.2 165.3h0M163.4 157.2h0M159.6 166.9h0M173.2 160.9h0M154.3 163.4h0M152.8 163.7h0M171.2 158.3h0M168.7 162.3h0M155.6 167.4h0M156.2 176.3h0M153.0 180.1h0M154.4 177.6h0M153.8 177.7h0M160.3 179.1h0" stroke="#2b3f9f" stroke-width="1.35" stroke-linecap="round" fill="none"/>
<path d="M157.1 141.9h0M148.9 142.5h0M157.6 148.4h0M145.1 149.6h0M153.4 149.9h0M155.0 142.6h0M162.3 147.5h0M164.1 151.2h0M176.2 153.9h0M175.0 149.0h0M170.6 153.2h0M164.1 165.9h0M168.4 162.3h0M174.9 165.7h0M154.5 167.4h0M152.1 165.1h0M157.2 161.0h0M158.7 161.4h0M176.7 159.9h0M160.2 176.1h0M156.1 176.2h0" stroke="#2b3f9f" stroke-width="1.20" stroke-linecap="round" fill="none"/>
<path d="M155.1 145.5h0M159.4 142.3h0M170.6 153.1h0M168.4 170.3h0M167.0 164.1h0M176.8 164.1h0M161.1 165.3h0M161.7 161.4h0M162.8 159.4h0M166.9 157.4h0M156.0 179.0h0" stroke="#2b3f9f" stroke-width="0.90" stroke-linecap="round" fill="none"/>
<path d="M165.7 149.6h0M158.3 161.0h0M168.0 159.3h0" stroke="#4fa848" stroke-width="1.35" stroke-linecap="round" fill="none"/>
<path d="M175.0 152.1h0M156.0 157.1h0" stroke="#4fa848" stroke-width="1.65" stroke-linecap="round" fill="none"/>
<path d="M172.3 147.8h0M171.5 165.4h0" stroke="#4fa848" stroke-width="0.90" stroke-linecap="round" fill="none"/>
<path d="M171.9 151.4h0M173.0 160.9h0M168.1 167.6h0" stroke="#4fa848" stroke-width="1.05" stroke-linecap="round" fill="none"/>
<path d="M167.6 161.3h0M163.3 169.0h0M169.4 164.9h0" stroke="#2b3f9f" stroke-width="1.95" stroke-linecap="round" fill="none"/>
<path d="M153.4 159.0h0M166.9 161.1h0M167.0 160.1h0M176.3 165.6h0M166.8 158.9h0M154.7 174.9h0" stroke="#2b3f9f" stroke-width="1.65" stroke-linecap="round" fill="none"/>
<path d="M164.7 158.6h0M167.2 156.8h0M165.1 163.9h0M170.9 170.7h0M162.3 165.8h0M151.6 161.7h0" stroke="#2b3f9f" stroke-width="1.80" stroke-linecap="round" fill="none"/>
<path d="M175.2 169.9h0M155.4 159.9h0" stroke="#4fa848" stroke-width="1.80" stroke-linecap="round" fill="none"/>
<path d="M164.1 167.0h0M176.3 159.2h0M172.3 169.3h0" stroke="#4fa848" stroke-width="1.95" stroke-linecap="round" fill="none"/>
<path d="M163.1 167.8h0M154.7 167.9h0" stroke="#4fa848" stroke-width="1.20" stroke-linecap="round" fill="none"/>
<path d="M171.3 161.4h0" stroke="#4fa848" stroke-width="1.50" stroke-linecap="round" fill="none"/>
<path d="M132.8 166.1h0M130.4 152.6h0M132.5 165.6h0M132.8 159.4h0M128.4 152.0h0M128.7 155.0h0M137.1 184.1h0M129.3 182.8h0M144.2 182.7h0M131.5 174.5h0" stroke="#d9301e" stroke-width="1.05" stroke-linecap="round" fill="none"/>
<path d="M134.5 149.4h0M120.0 170.2h0M133.6 174.3h0M138.3 184.5h0" stroke="#d9301e" stroke-width="0.90" stroke-linecap="round" fill="none"/>
<path d="M128.7 154.9h0M144.4 181.9h0M134.4 181.4h0M135.2 176.7h0" stroke="#d9301e" stroke-width="1.20" stroke-linecap="round" fill="none"/>
<path d="M119.9 170.8h0M115.7 167.7h0M117.0 168.3h0M124.5 169.2h0M140.4 179.2h0M140.7 175.4h0" stroke="#f08c22" stroke-width="1.35" stroke-linecap="round" fill="none"/>
<path d="M118.8 166.8h0" stroke="#f0cf1d" stroke-width="1.50" stroke-linecap="round" fill="none"/>
<path d="M118.9 172.5h0M119.5 172.5h0" stroke="#f0cf1d" stroke-width="1.35" stroke-linecap="round" fill="none"/>
<path d="M118.0 170.1h0" stroke="#f0cf1d" stroke-width="1.05" stroke-linecap="round" fill="none"/>
<path d="M121.1 167.8h0" stroke="#f08c22" stroke-width="1.20" stroke-linecap="round" fill="none"/>
<path d="M113.6 168.5h0M139.5 176.5h0" stroke="#f08c22" stroke-width="1.50" stroke-linecap="round" fill="none"/>
<path d="M118.3 166.9h0M126.5 175.8h0" stroke="#f08c22" stroke-width="0.90" stroke-linecap="round" fill="none"/>
<path d="M137.4 179.6h0M135.8 182.9h0M142.6 178.1h0M133.3 173.4h0" stroke="#e8561c" stroke-width="1.50" stroke-linecap="round" fill="none"/>
<path d="M132.4 184.1h0M127.6 180.1h0M127.5 179.6h0" stroke="#e8561c" stroke-width="1.20" stroke-linecap="round" fill="none"/>
<path d="M128.4 175.1h0M131.5 183.2h0M134.4 177.0h0" stroke="#e8561c" stroke-width="1.35" stroke-linecap="round" fill="none"/>
<path d="M144.4 182.1h0M130.4 179.6h0M142.9 177.7h0" stroke="#e8561c" stroke-width="1.05" stroke-linecap="round" fill="none"/>
<path d="M131.8 183.8h0" stroke="#e8561c" stroke-width="1.65" stroke-linecap="round" fill="none"/>
<text x="162.00" y="131.20" font-size="2.9" fill="#3a3a3a" textLength="14.4" lengthAdjust="spacingAndGlyphs">CD4+ CD8+</text>
<text x="135.10" y="137.20" font-size="2.9" fill="#3a3a3a" textLength="13.3" lengthAdjust="spacingAndGlyphs">CD4+ naive</text>
<text x="121.20" y="143.70" font-size="2.9" fill="#3a3a3a" textLength="13.9" lengthAdjust="spacingAndGlyphs">CD8+ naive</text>
<text x="167.80" y="140.50" font-size="2.9" fill="#3a3a3a" textLength="13.4" lengthAdjust="spacingAndGlyphs">CD4+ TCM</text>
<text x="178.40" y="151.00" font-size="2.9" fill="#3a3a3a" textLength="22.0" lengthAdjust="spacingAndGlyphs">CD4+ CD25+ TEM</text>
<text x="180.40" y="168.20" font-size="2.9" fill="#3a3a3a" textLength="12.4" lengthAdjust="spacingAndGlyphs">CD4+ TEM</text>
<text x="151.40" y="185.20" font-size="2.9" fill="#3a3a3a" textLength="13.5" lengthAdjust="spacingAndGlyphs">CD4- CD8-</text>
<text x="126.40" y="191.40" font-size="2.9" fill="#3a3a3a" textLength="12.5" lengthAdjust="spacingAndGlyphs">CD8+ TCM</text>
<text x="104.40" y="179.90" font-size="2.9" fill="#3a3a3a" textLength="12.4" lengthAdjust="spacingAndGlyphs">CD8+ TEM</text>
<text x="143.40" y="155.70" font-size="2.9" fill="#3a3a3a" textLength="5.0" lengthAdjust="spacingAndGlyphs">CD4+</text>
<text x="119.90" y="164.20" font-size="2.9" fill="#3a3a3a" textLength="5.0" lengthAdjust="spacingAndGlyphs">CD8+</text>
<polygon points="51.70,232.40 69.90,222.30 77.30,224.30 89.40,234.40 92.10,244.50 91.40,259.30 85.40,262.70 61.20,253.90 58.50,247.20" fill="none" stroke="#3a3a3a" stroke-width="0.45" stroke-linejoin="round"/>
<polygon points="40.30,233.00 47.60,233.80 59.00,261.50 59.50,270.50 48.20,276.10 44.30,275.50 24.50,256.90 34.70,241.10" fill="none" stroke="#3a3a3a" stroke-width="0.45" stroke-linejoin="round"/>
<polygon points="67.90,213.50 71.90,212.20 73.90,214.90 72.60,219.60 69.90,220.90 67.90,216.90" fill="none" stroke="#3a3a3a" stroke-width="0.45" stroke-linejoin="round"/>
<polygon points="61.80,262.70 67.90,261.30 76.00,263.30 75.30,266.70 67.90,267.40 63.20,268.00" fill="none" stroke="#3a3a3a" stroke-width="0.45" stroke-linejoin="round"/>
<polygon points="52.60,232.70 69.90,223.10 73.90,225.80 69.90,240.30 65.20,241.70 54.60,236.50" fill="none" stroke="#3a3a3a" stroke-width="0.45" stroke-linejoin="round"/>
<polygon points="72.80,237.10 76.00,232.50 79.20,233.20 79.20,238.50 75.30,240.90" fill="none" stroke="#3a3a3a" stroke-width="0.45" stroke-linejoin="round"/>
<polygon points="81.30,240.50 83.40,234.50 88.00,234.50 89.30,237.10 89.30,241.70" fill="none" stroke="#3a3a3a" stroke-width="0.45" stroke-linejoin="round"/>
<polygon points="60.70,249.90 66.50,242.70 78.60,242.70 91.20,245.90 90.70,259.10 85.40,261.10 64.50,255.80" fill="none" stroke="#3a3a3a" stroke-width="0.45" stroke-linejoin="round"/>
<polygon points="37.20,239.50 47.40,235.10 52.50,252.50 48.20,256.10 41.00,253.50" fill="none" stroke="#3a3a3a" stroke-width="0.45" stroke-linejoin="round"/>
<polygon points="25.20,254.50 35.80,252.00 38.40,256.90 36.90,260.10 26.90,260.10" fill="none" stroke="#3a3a3a" stroke-width="0.45" stroke-linejoin="round"/>
<polygon points="37.70,261.50 44.80,259.40 58.20,262.60 58.80,270.40 48.20,274.80 43.10,274.80 38.10,265.90" fill="none" stroke="#3a3a3a" stroke-width="0.45" stroke-linejoin="round"/>
<path d="M46.5 266.5h0M51.8 265.4h0M47.4 263.4h0M48.8 268.1h0" stroke="#f08c22" stroke-width="2.10" stroke-linecap="round" fill="none"/>
<path d="M48.0 266.9h0M49.5 269.4h0M41.6 265.9h0M52.8 267.3h0M39.4 265.3h0M46.3 268.1h0" stroke="#e8561c" stroke-width="2.85" stroke-linecap="round" fill="none"/>
<path d="M48.0 267.7h0M40.5 269.5h0M40.6 265.5h0M42.7 265.5h0M48.5 266.3h0M49.5 268.1h0M52.6 265.6h0M45.2 266.3h0M44.3 266.1h0" stroke="#e8561c" stroke-width="2.25" stroke-linecap="round" fill="none"/>
<path d="M48.6 268.6h0M53.1 265.9h0M44.8 264.1h0M42.4 263.6h0" stroke="#e8561c" stroke-width="1.80" stroke-linecap="round" fill="none"/>
<path d="M49.4 270.2h0M40.6 265.9h0M47.9 266.1h0M48.5 263.7h0M41.7 263.7h0" stroke="#e8561c" stroke-width="2.10" stroke-linecap="round" fill="none"/>
<path d="M50.5 270.6h0M50.0 270.2h0M44.7 268.9h0M40.4 266.0h0M44.6 266.3h0M40.2 266.1h0M42.0 265.0h0M50.6 268.3h0M52.9 267.3h0M45.3 263.9h0M41.6 263.3h0M43.4 263.2h0M42.0 263.9h0" stroke="#e8561c" stroke-width="2.70" stroke-linecap="round" fill="none"/>
<path d="M48.8 268.8h0M46.7 262.2h0M48.0 261.9h0M50.6 265.0h0M48.9 263.4h0" stroke="#e8561c" stroke-width="1.65" stroke-linecap="round" fill="none"/>
<path d="M48.3 268.9h0M44.1 265.3h0M40.9 265.4h0M49.8 268.2h0" stroke="#f08c22" stroke-width="1.80" stroke-linecap="round" fill="none"/>
<path d="M47.4 268.7h0M40.8 264.4h0M41.1 265.1h0M46.8 261.6h0M44.4 263.9h0M43.8 264.8h0M42.5 263.8h0" stroke="#e8561c" stroke-width="1.95" stroke-linecap="round" fill="none"/>
<path d="M46.1 268.3h0M42.7 268.5h0M40.9 268.4h0M44.2 264.7h0M40.2 265.2h0" stroke="#e8561c" stroke-width="2.55" stroke-linecap="round" fill="none"/>
<path d="M45.3 269.0h0M43.6 269.0h0M43.8 265.7h0" stroke="#f08c22" stroke-width="2.55" stroke-linecap="round" fill="none"/>
<path d="M41.0 269.6h0M45.2 263.2h0M45.2 262.3h0M48.9 267.3h0" stroke="#f08c22" stroke-width="1.50" stroke-linecap="round" fill="none"/>
<path d="M40.8 268.2h0M41.6 267.0h0M45.6 266.4h0M51.4 268.2h0M50.1 268.3h0" stroke="#f08c22" stroke-width="1.95" stroke-linecap="round" fill="none"/>
<path d="M41.4 267.0h0M43.8 266.5h0" stroke="#f08c22" stroke-width="2.70" stroke-linecap="round" fill="none"/>
<path d="M43.1 266.1h0M46.2 262.9h0M43.9 262.0h0M42.8 263.2h0M42.7 265.3h0" stroke="#e8561c" stroke-width="1.35" stroke-linecap="round" fill="none"/>
<path d="M44.6 263.8h0M40.5 265.4h0" stroke="#e8561c" stroke-width="2.40" stroke-linecap="round" fill="none"/>
<path d="M45.6 262.5h0M42.8 265.8h0M46.2 264.1h0M47.5 268.0h0" stroke="#f08c22" stroke-width="1.65" stroke-linecap="round" fill="none"/>
<path d="M50.1 264.2h0M44.1 266.2h0M43.0 263.6h0M41.5 265.1h0" stroke="#f08c22" stroke-width="2.40" stroke-linecap="round" fill="none"/>
<path d="M43.2 264.0h0M42.5 262.4h0M42.8 265.9h0" stroke="#f08c22" stroke-width="2.25" stroke-linecap="round" fill="none"/>
<path d="M42.6 264.9h0M44.9 266.6h0M45.3 267.4h0" stroke="#e8561c" stroke-width="1.50" stroke-linecap="round" fill="none"/>
<path d="M70.2 216.3L70.7 217.2M64.6 236.8L67.2 236.4M68.1 230.3L68.6 229.4M68.7 229.4L68.5 228.9M68.3 227.2L69.8 227.0M69.8 227.0L69.9 227.4M81.1 258.9L81.7 257.7M81.0 256.6L80.5 255.9M81.0 256.6L81.9 255.6M82.8 254.8L83.9 253.9M85.0 255.2L85.9 256.0M80.9 259.0L79.2 258.6M81.1 258.9L82.9 259.6M85.9 256.0L87.9 256.7M87.9 256.7L87.8 258.6M85.1 259.1L85.1 258.9M85.0 255.2L86.9 253.3M88.1 252.9L86.7 250.8M85.8 247.0L84.4 246.7M84.4 246.7L84.4 246.1M82.2 249.3L79.7 250.0M78.6 252.6L77.7 252.6M78.0 249.5L76.9 247.7M76.9 247.7L77.1 247.0M76.5 246.9L76.3 245.9M78.9 246.9L79.8 247.6M79.8 247.6L80.4 247.0M78.9 246.9L79.5 245.9M71.4 246.5L72.4 248.2M72.4 248.2L72.6 248.9M72.6 248.9L71.2 249.6M71.2 249.6L69.2 249.0M69.2 249.0L68.0 249.7M68.0 249.7L67.6 252.3M67.6 252.3L68.6 252.8M65.9 253.7L65.3 254.4M73.8 255.4L73.9 254.1M73.9 254.1L74.5 252.6M71.4 246.5L70.0 244.0M36.3 257.3L36.3 255.7M36.3 255.7L37.0 255.5M34.3 253.9L32.0 254.4M32.0 254.4L30.3 253.9M30.3 253.9L29.5 254.0M32.0 254.4L30.8 255.8M31.2 256.1L32.1 256.4M30.8 255.8L30.1 257.1M28.8 259.2L27.2 257.1M42.9 270.3L44.0 270.2M46.7 267.8L47.2 266.4M48.0 265.9L50.2 265.6M47.2 266.4L44.1 266.1M43.8 265.2L43.7 263.1M43.3 261.0L41.7 261.7M43.3 261.0L45.4 261.3M41.7 261.7L40.5 263.9M45.4 261.3L47.7 262.3M47.7 262.3L48.8 262.2M40.5 263.9L41.0 267.2M50.2 265.6L53.7 264.9M56.5 264.0L57.0 263.1" stroke="#f08c22" stroke-width="0.25" stroke-opacity="0.55" fill="none"/>
<path d="M70.2 216.3L70.4 214.7M70.4 214.7L71.9 213.8M70.7 217.2L71.7 219.1M76.6 235.3L76.1 234.0M76.6 235.3L77.0 237.0M77.0 237.0L77.3 238.2M77.3 238.2L76.4 238.8M76.4 238.8L74.3 237.6M84.2 235.7L84.9 237.5M84.3 239.0L82.8 239.2M82.8 239.2L82.7 237.9M82.7 237.9L83.1 237.4M81.9 255.6L82.8 254.8M82.9 259.6L85.1 259.1M86.1 248.9L86.6 248.4M79.7 250.0L78.7 249.9M78.7 249.9L78.0 250.0M72.5 246.1L71.4 246.5M67.6 252.3L67.2 253.3M68.6 252.8L68.9 252.4M67.9 263.8L69.1 262.3M74.2 265.3L74.8 265.3" stroke="#d9301e" stroke-width="0.25" stroke-opacity="0.55" fill="none"/>
<path d="M62.6 238.2L64.6 236.8M69.8 227.0L71.9 226.7M62.6 238.2L61.4 235.1M62.1 233.4L62.8 233.1M62.3 232.0L63.4 231.0M59.6 232.4L57.7 231.6M57.7 231.6L56.2 232.8M50.9 250.8L50.1 251.7M50.8 250.5L48.8 248.3M44.8 242.6L43.9 242.2M44.8 242.6L44.3 244.4M44.3 244.4L43.9 245.4M43.9 245.4L44.4 245.7M41.9 240.5L41.5 239.3M44.4 245.7L45.8 247.2M39.5 242.2L39.2 241.9M43.9 245.4L41.0 248.6M41.0 248.6L41.6 251.4" stroke="#4fa848" stroke-width="0.25" stroke-opacity="0.55" fill="none"/>
<path d="M67.2 236.4L68.2 238.2M68.3 227.2L66.6 225.7M61.4 233.3L62.1 233.4M60.3 233.9L59.1 233.8M59.1 233.8L59.6 232.4M56.2 232.8L55.8 232.6M62.3 232.0L60.7 230.3M81.1 258.9L80.9 259.0M84.4 255.5L84.4 256.4M79.2 258.6L78.4 256.7M86.6 248.4L85.8 247.0M85.8 247.0L86.4 245.9M84.4 246.7L84.1 248.1M78.0 250.0L78.0 249.5M69.6 248.1L67.5 247.4M72.6 248.9L75.0 249.6M50.8 250.5L50.9 250.8M50.9 250.8L51.1 251.1M48.8 248.2L48.9 247.2M43.8 240.8L43.5 239.2M35.7 259.2L36.3 257.3M36.3 255.7L35.7 255.0M35.7 255.0L35.9 253.3M35.9 253.3L34.3 253.9M30.8 255.8L31.2 256.1M30.1 257.1L28.8 259.2" stroke="#f0cf1d" stroke-width="0.25" stroke-opacity="0.55" fill="none"/>
<path d="M67.2 236.4L66.9 233.4M66.9 233.4L68.1 230.3M68.1 230.3L67.3 230.0M68.6 229.4L68.7 229.4M68.5 228.9L68.3 227.2M68.1 230.3L69.8 231.0M71.9 226.7L72.1 229.2M61.4 235.1L61.4 233.6M61.4 233.6L61.4 233.3M61.4 233.6L60.3 233.9M62.8 233.1L62.3 232.0M61.4 235.1L59.0 237.0" stroke="#b8d236" stroke-width="0.25" stroke-opacity="0.55" fill="none"/>
<path d="M84.9 237.5L84.3 239.0M82.8 239.2L82.4 239.8M82.4 239.8L82.1 239.6M84.3 239.0L87.3 240.2M87.3 240.2L88.8 239.4M81.7 257.7L81.0 256.6M83.9 253.9L84.4 255.5M84.4 255.5L85.0 255.2M86.9 253.3L88.1 252.9M86.7 250.8L86.1 248.9M84.1 248.1L82.2 249.3M78.7 249.9L78.5 250.7M78.0 250.0L77.6 250.8M78.5 250.7L79.3 251.5M79.3 251.5L79.4 252.6M79.4 252.6L78.6 252.6M77.1 247.0L76.5 246.9M77.1 247.0L77.6 246.2M77.6 246.2L78.9 246.9M76.3 245.9L74.1 247.0M74.1 247.0L73.9 245.5M73.9 245.5L72.5 246.1M69.2 249.0L69.6 248.1M67.5 247.4L67.3 245.3M67.2 253.3L65.9 253.7M77.7 252.6L75.3 254.2M75.3 254.2L75.3 254.9M75.3 254.9L73.8 255.4M67.1 266.1L65.9 267.1M67.1 266.1L67.0 264.1M67.0 264.1L67.9 263.8M69.1 262.3L69.2 262.1M69.2 262.1L69.9 262.3M67.0 264.1L65.1 264.7M69.9 262.3L72.0 264.4M72.0 264.4L70.8 265.5M72.0 264.4L74.2 265.3M44.0 270.2L46.6 271.3M46.6 271.3L47.4 270.7M47.4 270.7L47.9 270.2M47.4 270.7L48.3 271.1M47.9 270.2L49.8 269.3M47.9 270.2L46.7 267.8M47.2 266.4L48.0 265.9M44.1 266.1L43.8 265.2M43.7 263.1L43.3 261.0M53.7 264.9L56.5 264.0M49.8 269.3L54.2 270.7" stroke="#e8561c" stroke-width="0.25" stroke-opacity="0.55" fill="none"/>
<path d="M83.9 253.9L83.2 253.4M48.8 248.3L48.8 248.2M48.9 247.2L48.5 244.5M48.5 244.5L46.8 243.1M46.8 243.1L46.5 241.6M46.5 241.6L44.8 242.6M43.9 242.2L43.8 240.8M43.8 240.8L41.9 240.5M41.9 240.5L39.5 242.2M39.5 242.2L39.7 243.5M48.8 248.3L46.6 250.8" stroke="#2b3f9f" stroke-width="0.25" stroke-opacity="0.55" fill="none"/>
<path d="M70.2 216.3h0M68.9 252.4h0" stroke="#d9301e" stroke-width="1.50" stroke-linecap="round" fill="none"/>
<path d="M70.7 217.2h0M69.9 227.4h0M68.5 228.9h0M79.7 250.0h0M82.9 259.6h0M30.1 257.1h0M27.2 257.1h0M30.3 253.9h0M48.8 262.2h0M45.4 261.3h0M43.7 263.1h0M40.5 263.9h0" stroke="#f08c22" stroke-width="1.50" stroke-linecap="round" fill="none"/>
<path d="M71.9 213.8h0M82.8 239.2h0M86.6 248.4h0" stroke="#d9301e" stroke-width="1.35" stroke-linecap="round" fill="none"/>
<path d="M71.7 219.1h0M76.6 235.3h0M76.4 238.8h0M77.0 237.0h0M76.1 234.0h0M67.2 253.3h0M85.1 259.1h0M74.8 265.3h0" stroke="#d9301e" stroke-width="1.05" stroke-linecap="round" fill="none"/>
<path d="M70.4 214.7h0M77.3 238.2h0M83.1 237.4h0M78.0 250.0h0M69.1 262.3h0" stroke="#d9301e" stroke-width="1.20" stroke-linecap="round" fill="none"/>
<path d="M62.6 238.2h0M68.2 238.2h0M51.1 251.1h0M48.9 247.2h0M50.9 250.8h0M36.3 257.3h0" stroke="#f0cf1d" stroke-width="1.05" stroke-linecap="round" fill="none"/>
<path d="M66.9 233.4h0M68.3 227.2h0" stroke="#b8d236" stroke-width="1.50" stroke-linecap="round" fill="none"/>
<path d="M59.0 237.0h0M69.8 231.0h0" stroke="#b8d236" stroke-width="1.05" stroke-linecap="round" fill="none"/>
<path d="M69.8 227.0h0M68.6 229.4h0M85.9 256.0h0M86.7 250.8h0M85.1 258.9h0M80.4 247.0h0M65.3 254.4h0M68.6 252.8h0M86.9 253.3h0M84.4 246.7h0M77.7 252.6h0M32.1 256.4h0M47.2 266.4h0M50.2 265.6h0M57.0 263.1h0" stroke="#f08c22" stroke-width="1.35" stroke-linecap="round" fill="none"/>
<path d="M63.4 231.0h0M61.4 235.1h0M64.6 236.8h0M41.6 251.4h0M50.1 251.7h0" stroke="#4fa848" stroke-width="1.50" stroke-linecap="round" fill="none"/>
<path d="M61.4 233.3h0M61.4 233.6h0" stroke="#b8d236" stroke-width="1.20" stroke-linecap="round" fill="none"/>
<path d="M62.1 233.4h0M86.4 245.9h0M35.7 259.2h0M34.3 253.9h0M35.9 253.3h0" stroke="#f0cf1d" stroke-width="1.50" stroke-linecap="round" fill="none"/>
<path d="M59.1 233.8h0M66.6 225.7h0M84.1 248.1h0M43.5 239.2h0M35.7 255.0h0" stroke="#f0cf1d" stroke-width="1.20" stroke-linecap="round" fill="none"/>
<path d="M72.1 229.2h0M68.1 230.3h0" stroke="#b8d236" stroke-width="1.65" stroke-linecap="round" fill="none"/>
<path d="M68.7 229.4h0M60.3 233.9h0M62.3 232.0h0M67.3 230.0h0" stroke="#b8d236" stroke-width="1.35" stroke-linecap="round" fill="none"/>
<path d="M67.2 236.4h0M77.1 247.0h0M73.9 254.1h0M76.9 247.7h0M37.0 255.5h0M29.5 254.0h0M32.0 254.4h0M41.7 261.7h0M47.7 262.3h0M44.0 270.2h0M41.0 267.2h0" stroke="#f08c22" stroke-width="1.20" stroke-linecap="round" fill="none"/>
<path d="M56.2 232.8h0M71.9 226.7h0M62.8 233.1h0M43.9 245.4h0M39.2 241.9h0" stroke="#4fa848" stroke-width="1.05" stroke-linecap="round" fill="none"/>
<path d="M57.7 231.6h0M43.9 242.2h0M41.0 248.6h0M44.3 244.4h0" stroke="#4fa848" stroke-width="1.35" stroke-linecap="round" fill="none"/>
<path d="M59.6 232.4h0M60.7 230.3h0M80.9 259.0h0M28.8 259.2h0" stroke="#f0cf1d" stroke-width="1.35" stroke-linecap="round" fill="none"/>
<path d="M55.8 232.6h0M75.0 249.6h0M31.2 256.1h0" stroke="#f0cf1d" stroke-width="0.90" stroke-linecap="round" fill="none"/>
<path d="M74.3 237.6h0M82.7 237.9h0M84.9 237.5h0M82.8 254.8h0" stroke="#d9301e" stroke-width="0.90" stroke-linecap="round" fill="none"/>
<path d="M84.2 235.7h0M81.0 256.6h0M67.1 266.1h0M67.9 263.8h0M54.2 270.7h0M47.4 270.7h0" stroke="#e8561c" stroke-width="1.20" stroke-linecap="round" fill="none"/>
<path d="M82.1 239.6h0M79.3 251.5h0M74.1 247.0h0M65.9 253.7h0M84.4 255.5h0M73.8 255.4h0M74.2 265.3h0M65.9 267.1h0M70.8 265.5h0M43.8 265.2h0M48.3 271.1h0M47.9 270.2h0" stroke="#e8561c" stroke-width="1.35" stroke-linecap="round" fill="none"/>
<path d="M88.8 239.4h0M82.4 239.8h0M87.3 240.2h0M67.3 245.3h0M77.6 250.8h0M86.1 248.9h0M75.3 254.2h0M65.1 264.7h0M56.5 264.0h0M46.6 271.3h0" stroke="#e8561c" stroke-width="1.05" stroke-linecap="round" fill="none"/>
<path d="M84.3 239.0h0M78.6 252.6h0M79.4 252.6h0" stroke="#e8561c" stroke-width="1.65" stroke-linecap="round" fill="none"/>
<path d="M81.1 258.9h0M85.8 247.0h0M84.4 256.4h0" stroke="#f0cf1d" stroke-width="1.65" stroke-linecap="round" fill="none"/>
<path d="M74.5 252.6h0M76.3 245.9h0M68.0 249.7h0" stroke="#f08c22" stroke-width="0.90" stroke-linecap="round" fill="none"/>
<path d="M71.4 246.5h0" stroke="#d9301e" stroke-width="1.95" stroke-linecap="round" fill="none"/>
<path d="M78.4 256.7h0M67.5 247.4h0" stroke="#f0cf1d" stroke-width="1.80" stroke-linecap="round" fill="none"/>
<path d="M78.9 246.9h0M78.5 250.7h0M76.5 246.9h0" stroke="#e8561c" stroke-width="1.80" stroke-linecap="round" fill="none"/>
<path d="M77.6 246.2h0M73.9 245.5h0M88.1 252.9h0M72.5 246.1h0" stroke="#e8561c" stroke-width="1.95" stroke-linecap="round" fill="none"/>
<path d="M72.6 248.9h0M67.6 252.3h0M79.2 258.6h0M84.4 246.1h0M36.3 255.7h0M30.8 255.8h0M42.9 270.3h0M53.7 264.9h0M44.1 266.1h0" stroke="#f08c22" stroke-width="1.05" stroke-linecap="round" fill="none"/>
<path d="M69.2 249.0h0M81.9 255.6h0M87.9 256.7h0M79.5 245.9h0M83.9 253.9h0M81.7 257.7h0M79.8 247.6h0" stroke="#f08c22" stroke-width="1.80" stroke-linecap="round" fill="none"/>
<path d="M75.3 254.9h0M82.2 249.3h0M69.6 248.1h0M67.0 264.1h0M69.2 262.1h0M72.0 264.4h0M46.7 267.8h0M48.0 265.9h0" stroke="#e8561c" stroke-width="1.50" stroke-linecap="round" fill="none"/>
<path d="M80.5 255.9h0M70.0 244.0h0M72.4 248.2h0" stroke="#f08c22" stroke-width="1.95" stroke-linecap="round" fill="none"/>
<path d="M83.2 253.4h0M39.7 243.5h0" stroke="#2b3f9f" stroke-width="0.90" stroke-linecap="round" fill="none"/>
<path d="M71.2 249.6h0M87.8 258.6h0" stroke="#f08c22" stroke-width="1.65" stroke-linecap="round" fill="none"/>
<path d="M78.0 249.5h0" stroke="#f0cf1d" stroke-width="1.95" stroke-linecap="round" fill="none"/>
<path d="M78.7 249.9h0" stroke="#d9301e" stroke-width="1.80" stroke-linecap="round" fill="none"/>
<path d="M85.0 255.2h0M69.9 262.3h0M43.3 261.0h0M49.8 269.3h0" stroke="#e8561c" stroke-width="0.90" stroke-linecap="round" fill="none"/>
<path d="M50.8 250.5h0M44.4 245.7h0M48.8 248.3h0" stroke="#4fa848" stroke-width="1.20" stroke-linecap="round" fill="none"/>
<path d="M48.8 248.2h0M48.5 244.5h0M46.5 241.6h0M46.6 250.8h0" stroke="#2b3f9f" stroke-width="1.05" stroke-linecap="round" fill="none"/>
<path d="M46.8 243.1h0M43.8 240.8h0M44.8 242.6h0" stroke="#2b3f9f" stroke-width="1.50" stroke-linecap="round" fill="none"/>
<path d="M41.5 239.3h0M45.8 247.2h0" stroke="#4fa848" stroke-width="0.90" stroke-linecap="round" fill="none"/>
<path d="M39.5 242.2h0" stroke="#2b3f9f" stroke-width="1.20" stroke-linecap="round" fill="none"/>
<path d="M41.9 240.5h0" stroke="#2b3f9f" stroke-width="1.35" stroke-linecap="round" fill="none"/>
<text x="74.60" y="218.30" font-size="2.9" fill="#3a3a3a" textLength="14.4" lengthAdjust="spacingAndGlyphs">CD4+ CD8+</text>
<text x="47.70" y="224.30" font-size="2.9" fill="#3a3a3a" textLength="13.3" lengthAdjust="spacingAndGlyphs">CD4+ naive</text>
<text x="33.80" y="230.80" font-size="2.9" fill="#3a3a3a" textLength="13.9" lengthAdjust="spacingAndGlyphs">CD8+ naive</text>
<text x="80.40" y="227.60" font-size="2.9" fill="#3a3a3a" textLength="13.4" lengthAdjust="spacingAndGlyphs">CD4+ TCM</text>
<text x="91.00" y="238.10" font-size="2.9" fill="#3a3a3a" textLength="22.0" lengthAdjust="spacingAndGlyphs">CD4+ CD25+ TEM</text>
<text x="93.00" y="255.30" font-size="2.9" fill="#3a3a3a" textLength="12.4" lengthAdjust="spacingAndGlyphs">CD4+ TEM</text>
<text x="64.00" y="272.30" font-size="2.9" fill="#3a3a3a" textLength="13.5" lengthAdjust="spacingAndGlyphs">CD4- CD8-</text>
<text x="39.00" y="278.50" font-size="2.9" fill="#3a3a3a" textLength="12.5" lengthAdjust="spacingAndGlyphs">CD8+ TCM</text>
<text x="17.00" y="267.00" font-size="2.9" fill="#3a3a3a" textLength="12.4" lengthAdjust="spacingAndGlyphs">CD8+ TEM</text>
<text x="56.00" y="242.80" font-size="2.9" fill="#3a3a3a" textLength="5.0" lengthAdjust="spacingAndGlyphs">CD4+</text>
<text x="32.50" y="251.30" font-size="2.9" fill="#3a3a3a" textLength="5.0" lengthAdjust="spacingAndGlyphs">CD8+</text>
<polygon points="139.10,232.40 157.30,222.30 164.70,224.30 176.80,234.40 179.50,244.50 178.80,259.30 172.80,262.70 148.60,253.90 145.90,247.20" fill="none" stroke="#3a3a3a" stroke-width="0.45" stroke-linejoin="round"/>
<polygon points="127.70,233.00 135.00,233.80 146.40,261.50 146.90,270.50 135.60,276.10 131.70,275.50 111.90,256.90 122.10,241.10" fill="none" stroke="#3a3a3a" stroke-width="0.45" stroke-linejoin="round"/>
<polygon points="155.30,213.50 159.30,212.20 161.30,214.90 160.00,219.60 157.30,220.90 155.30,216.90" fill="none" stroke="#3a3a3a" stroke-width="0.45" stroke-linejoin="round"/>
<polygon points="149.20,262.70 155.30,261.30 163.40,263.30 162.70,266.70 155.30,267.40 150.60,268.00" fill="none" stroke="#3a3a3a" stroke-width="0.45" stroke-linejoin="round"/>
<polygon points="140.00,232.70 157.30,223.10 161.30,225.80 157.30,240.30 152.60,241.70 142.00,236.50" fill="none" stroke="#3a3a3a" stroke-width="0.45" stroke-linejoin="round"/>
<polygon points="160.20,237.10 163.40,232.50 166.60,233.20 166.60,238.50 162.70,240.90" fill="none" stroke="#3a3a3a" stroke-width="0.45" stroke-linejoin="round"/>
<polygon points="168.70,240.50 170.80,234.50 175.40,234.50 176.70,237.10 176.70,241.70" fill="none" stroke="#3a3a3a" stroke-width="0.45" stroke-linejoin="round"/>
<polygon points="148.10,249.90 153.90,242.70 166.00,242.70 178.60,245.90 178.10,259.10 172.80,261.10 151.90,255.80" fill="none" stroke="#3a3a3a" stroke-width="0.45" stroke-linejoin="round"/>
<polygon points="124.60,239.50 134.80,235.10 139.90,252.50 135.60,256.10 128.40,253.50" fill="none" stroke="#3a3a3a" stroke-width="0.45" stroke-linejoin="round"/>
<polygon points="112.60,254.50 123.20,252.00 125.80,256.90 124.30,260.10 114.30,260.10" fill="none" stroke="#3a3a3a" stroke-width="0.45" stroke-linejoin="round"/>
<polygon points="125.10,261.50 132.20,259.40 145.60,262.60 146.20,270.40 135.60,274.80 130.50,274.80 125.50,265.90" fill="none" stroke="#3a3a3a" stroke-width="0.45" stroke-linejoin="round"/>
<path d="M148.4 234.0h0M151.3 230.8h0M153.5 232.6h0M133.9 250.0h0M135.1 253.4h0" stroke="#f0cf1d" stroke-width="1.95" stroke-linecap="round" fill="none"/>
<path d="M148.8 233.6h0M152.0 233.9h0M152.7 235.2h0M142.5 236.3h0M152.6 230.8h0M142.8 234.0h0" stroke="#b8d236" stroke-width="2.70" stroke-linecap="round" fill="none"/>
<path d="M149.6 232.9h0M152.8 232.0h0M151.2 231.0h0M151.9 233.2h0M153.4 234.8h0M154.1 231.4h0M147.3 233.7h0M141.5 235.1h0M135.2 250.2h0M134.1 249.4h0" stroke="#f0cf1d" stroke-width="1.80" stroke-linecap="round" fill="none"/>
<path d="M150.3 231.7h0M147.6 234.3h0M145.8 237.3h0M152.2 233.3h0M150.3 235.3h0M146.4 234.9h0M144.1 235.8h0M142.1 235.1h0M133.5 248.1h0" stroke="#f0cf1d" stroke-width="2.40" stroke-linecap="round" fill="none"/>
<path d="M152.0 231.3h0M146.4 236.7h0M148.2 234.4h0M142.0 234.2h0M132.1 249.9h0M132.4 251.3h0M131.8 251.7h0" stroke="#f0cf1d" stroke-width="2.10" stroke-linecap="round" fill="none"/>
<path d="M153.3 230.8h0M142.8 235.3h0M132.9 249.1h0" stroke="#f0cf1d" stroke-width="2.55" stroke-linecap="round" fill="none"/>
<path d="M155.0 231.3h0M144.6 233.4h0M144.8 235.3h0M142.5 234.8h0" stroke="#b8d236" stroke-width="1.35" stroke-linecap="round" fill="none"/>
<path d="M153.9 230.9h0M153.3 234.6h0M134.2 248.9h0M134.3 246.8h0" stroke="#f0cf1d" stroke-width="1.65" stroke-linecap="round" fill="none"/>
<path d="M151.9 230.9h0M145.7 237.7h0M142.3 236.3h0M147.2 232.8h0M140.7 234.8h0" stroke="#f0cf1d" stroke-width="1.50" stroke-linecap="round" fill="none"/>
<path d="M151.1 229.9h0M145.5 236.6h0M146.3 237.8h0M151.3 234.5h0M134.0 248.3h0M133.8 251.2h0" stroke="#f0cf1d" stroke-width="2.25" stroke-linecap="round" fill="none"/>
<path d="M151.4 231.4h0" stroke="#4fa848" stroke-width="1.65" stroke-linecap="round" fill="none"/>
<path d="M153.3 233.1h0" stroke="#f0cf1d" stroke-width="2.70" stroke-linecap="round" fill="none"/>
<path d="M152.7 232.3h0M144.0 233.3h0M149.3 234.0h0M149.3 234.8h0M143.1 236.5h0M142.8 236.0h0M133.2 253.1h0M133.5 248.0h0" stroke="#f0cf1d" stroke-width="1.35" stroke-linecap="round" fill="none"/>
<path d="M147.6 236.0h0M154.3 232.2h0" stroke="#4fa848" stroke-width="2.40" stroke-linecap="round" fill="none"/>
<path d="M146.6 236.0h0M143.4 232.5h0M142.2 234.9h0M133.3 240.1h0" stroke="#4fa848" stroke-width="2.25" stroke-linecap="round" fill="none"/>
<path d="M145.7 235.1h0" stroke="#4fa848" stroke-width="2.55" stroke-linecap="round" fill="none"/>
<path d="M144.9 234.8h0M152.5 231.6h0M144.1 234.6h0" stroke="#b8d236" stroke-width="1.95" stroke-linecap="round" fill="none"/>
<path d="M145.1 234.5h0M144.6 237.0h0M150.9 234.4h0" stroke="#b8d236" stroke-width="2.40" stroke-linecap="round" fill="none"/>
<path d="M145.1 235.8h0M147.2 234.0h0M133.9 242.6h0" stroke="#4fa848" stroke-width="1.95" stroke-linecap="round" fill="none"/>
<path d="M145.7 235.8h0M155.2 232.4h0M130.7 240.4h0" stroke="#4fa848" stroke-width="1.35" stroke-linecap="round" fill="none"/>
<path d="M144.0 236.4h0M150.7 233.6h0" stroke="#b8d236" stroke-width="1.65" stroke-linecap="round" fill="none"/>
<path d="M151.1 233.1h0M153.1 232.8h0M152.5 233.8h0M135.7 250.8h0M134.1 253.8h0" stroke="#b8d236" stroke-width="2.55" stroke-linecap="round" fill="none"/>
<path d="M153.5 231.0h0" stroke="#b8d236" stroke-width="2.25" stroke-linecap="round" fill="none"/>
<path d="M152.6 233.1h0M145.5 234.5h0M142.5 236.9h0M142.1 234.1h0M133.7 251.7h0" stroke="#b8d236" stroke-width="1.80" stroke-linecap="round" fill="none"/>
<path d="M132.4 241.5h0M130.8 239.4h0M133.8 242.5h0" stroke="#1f2c82" stroke-width="2.10" stroke-linecap="round" fill="none"/>
<path d="M132.9 242.1h0M131.7 241.1h0" stroke="#1f2c82" stroke-width="1.20" stroke-linecap="round" fill="none"/>
<path d="M134.0 243.9h0" stroke="#1f2c82" stroke-width="2.40" stroke-linecap="round" fill="none"/>
<path d="M133.2 243.6h0M131.3 238.1h0" stroke="#2e8f7a" stroke-width="2.10" stroke-linecap="round" fill="none"/>
<path d="M131.9 243.0h0M133.9 242.8h0M133.4 239.7h0" stroke="#4fa848" stroke-width="1.20" stroke-linecap="round" fill="none"/>
<path d="M131.6 243.3h0M131.4 239.3h0" stroke="#1f2c82" stroke-width="1.50" stroke-linecap="round" fill="none"/>
<path d="M130.5 242.6h0M132.3 240.6h0" stroke="#4fa848" stroke-width="1.50" stroke-linecap="round" fill="none"/>
<path d="M131.7 241.0h0" stroke="#2e8f7a" stroke-width="1.50" stroke-linecap="round" fill="none"/>
<path d="M129.9 237.9h0" stroke="#1f2c82" stroke-width="1.35" stroke-linecap="round" fill="none"/>
<path d="M132.0 238.2h0" stroke="#1f2c82" stroke-width="1.95" stroke-linecap="round" fill="none"/>
<path d="M133.4 238.3h0" stroke="#2e8f7a" stroke-width="1.95" stroke-linecap="round" fill="none"/>
<path d="M133.2 242.0h0M134.3 241.5h0" stroke="#1f2c82" stroke-width="1.65" stroke-linecap="round" fill="none"/>
<path d="M134.9 243.1h0" stroke="#2e8f7a" stroke-width="2.55" stroke-linecap="round" fill="none"/>
<path d="M133.9 240.8h0M131.6 240.7h0" stroke="#4fa848" stroke-width="1.80" stroke-linecap="round" fill="none"/>
<path d="M132.1 240.0h0" stroke="#2e8f7a" stroke-width="1.65" stroke-linecap="round" fill="none"/>
<path d="M135.1 250.2h0" stroke="#b8d236" stroke-width="1.50" stroke-linecap="round" fill="none"/>
<path d="M132.1 249.1h0" stroke="#f0cf1d" stroke-width="1.20" stroke-linecap="round" fill="none"/>
<path d="M133.0 249.0h0" stroke="#b8d236" stroke-width="2.10" stroke-linecap="round" fill="none"/>
<path d="M160.0 215.1L159.6 215.5M160.0 215.1L159.1 213.9M159.6 215.5L160.0 217.3M160.0 217.3L157.4 220.3M166.0 235.1L164.7 234.0M164.7 234.0L164.1 234.8M164.1 234.8L162.7 234.9M162.7 234.9L163.0 237.2M163.0 237.2L163.4 238.3M171.8 235.0L170.9 235.5M170.9 235.5L170.6 237.1M170.6 237.1L171.2 237.3M171.2 237.3L172.6 239.1M172.6 239.1L174.1 239.8M172.6 239.1L169.8 240.0M153.9 248.6L153.3 248.7M153.3 248.7L153.0 247.4M156.4 245.6L156.7 245.0M160.3 246.5L161.0 245.3M159.4 247.1L160.0 249.1M163.2 250.5L163.5 252.1M164.4 248.4L166.7 249.4M153.3 248.7L152.5 251.4M152.5 251.4L154.0 253.2M156.6 256.1L158.2 256.4M158.2 256.4L160.5 256.9M162.0 256.2L163.5 255.8M160.5 256.9L160.0 254.9M164.7 258.2L166.9 258.0M168.3 254.8L170.0 255.7M171.7 256.5L171.5 258.2M171.5 258.2L171.7 258.2M168.6 244.8L171.0 245.4M134.0 263.8L133.2 265.0M134.6 268.6L136.3 270.4M136.3 270.4L137.1 268.0M137.1 268.0L139.6 267.5M134.4 272.3L133.2 271.5M133.2 271.5L132.9 272.8M131.3 269.9L130.7 268.5M143.3 266.5L144.5 266.0M129.8 265.9L130.7 263.1M130.7 263.1L128.8 262.2" stroke="#d9301e" stroke-width="0.25" stroke-opacity="0.55" fill="none"/>
<path d="M151.4 227.9L150.5 227.8M151.4 227.9L154.6 227.7M147.2 231.6L150.8 232.9M152.8 236.4L153.4 235.9M153.4 235.9L155.2 234.4M153.9 248.6L156.0 246.9M158.2 245.3L158.9 246.1M157.9 250.2L157.4 250.6M157.9 250.2L158.3 250.8M163.2 250.5L164.4 248.4M156.1 254.3L156.6 256.1M160.5 256.9L162.0 256.2M171.2 254.9L172.5 255.3M172.4 256.3L171.7 256.5M172.5 255.3L174.0 254.5M174.0 254.5L172.6 253.5M172.6 253.5L172.4 252.7M171.3 252.7L170.2 252.6M154.1 265.6L154.9 266.3M153.7 265.7L151.5 264.4M151.5 264.4L151.5 263.2M151.5 263.2L152.1 262.5M157.6 266.8L159.1 264.6M113.9 255.1L113.7 254.7M113.9 255.1L113.9 255.9M113.9 255.9L115.6 255.8M115.6 255.8L117.4 255.2M117.4 255.2L117.5 254.7M117.4 255.2L118.3 256.8M118.3 256.8L120.6 255.9M120.6 255.9L120.4 255.4M119.0 259.3L118.9 259.7M119.0 259.3L120.2 259.1M117.5 259.6L115.2 258.8M120.1 253.9L123.0 252.7" stroke="#f0cf1d" stroke-width="0.25" stroke-opacity="0.55" fill="none"/>
<path d="M150.5 227.8L150.0 228.4M154.6 227.7L155.4 228.3M155.4 228.3L157.7 231.3M150.0 228.4L146.6 230.5M146.6 230.5L147.2 231.6M150.8 232.9L149.1 235.0M149.1 235.0L149.2 236.5M150.0 236.2L151.6 236.9M151.6 236.9L152.8 236.4M152.8 236.4L153.8 239.1M151.6 236.9L150.1 239.4M147.2 231.6L142.8 234.7" stroke="#b8d236" stroke-width="0.25" stroke-opacity="0.55" fill="none"/>
<path d="M149.2 236.5L150.0 236.2M142.8 234.7L141.7 233.4M158.9 246.1L159.3 245.8M131.2 246.9L130.8 247.6M131.2 246.9L132.2 247.5M130.8 247.6L127.9 246.3M132.2 247.5L134.1 250.5M134.1 250.5L137.4 251.5M131.2 246.9L131.3 243.3M131.3 243.3L131.1 240.9M131.1 240.9L132.9 241.1M131.1 240.9L129.8 238.6" stroke="#4fa848" stroke-width="0.25" stroke-opacity="0.55" fill="none"/>
<path d="M174.1 239.8L175.1 239.0M175.1 239.0L175.7 238.8M175.7 238.8L175.8 237.0M153.0 247.4L152.6 246.9M156.4 245.6L155.7 245.1M156.7 245.0L158.2 245.3M159.4 247.1L158.2 247.6M161.0 245.3L162.7 245.5M163.4 245.3L164.8 245.9M160.0 249.1L161.6 249.1M163.5 252.1L162.2 252.8M158.2 251.4L157.6 251.6M158.2 251.4L158.6 251.9M152.5 251.4L150.7 251.3M163.5 255.8L164.7 258.2M166.9 258.0L167.2 256.4M167.2 256.4L167.7 254.5M172.4 256.3L174.8 257.5M175.3 248.6L176.8 249.2M154.1 265.6L153.7 265.7M153.7 265.7L152.9 266.6M155.4 262.7L155.7 262.4M134.3 261.5L135.1 263.2M136.1 263.0L136.0 262.3M133.2 265.0L132.8 266.2M133.2 265.0L134.7 266.0M132.9 272.8L130.1 272.5M139.6 267.5L142.4 268.1M142.9 265.6L143.4 265.1M128.8 262.2L127.5 262.1M127.5 262.1L126.9 264.4" stroke="#e8561c" stroke-width="0.25" stroke-opacity="0.55" fill="none"/>
<path d="M154.4 249.2L153.9 248.6M156.0 246.9L156.4 245.6M159.3 245.8L160.3 246.5M160.3 246.5L160.2 246.8M160.2 246.8L159.4 247.1M162.7 245.5L163.4 245.3M161.6 249.1L163.2 250.5M160.0 249.1L157.9 250.2M158.3 250.8L158.2 251.4M154.0 253.2L156.1 254.3M167.7 254.5L168.3 254.8M170.0 255.7L171.2 254.9M172.5 255.3L172.4 256.3M174.0 254.5L174.4 253.1M172.4 252.7L171.3 252.7M166.9 258.0L169.0 258.2M170.2 252.6L170.0 250.4M174.8 257.5L174.5 258.6M174.4 253.1L174.8 249.7M174.8 249.7L175.3 248.6M164.8 245.9L168.6 244.8M154.9 266.3L157.6 266.8M159.1 264.6L159.0 262.8M154.1 265.6L155.4 262.7M120.4 255.4L120.1 253.9M118.3 256.8L119.0 259.3M118.9 259.7L117.5 259.6M135.1 263.2L136.1 263.0M135.1 263.2L134.0 263.8M134.7 266.0L134.6 268.6M136.3 270.4L134.4 272.3M133.2 271.5L131.3 269.9M130.7 268.5L128.7 267.1M128.7 267.1L129.5 266.3M129.5 266.3L129.8 265.9M142.4 268.1L143.3 266.5M143.3 266.5L142.5 265.9M142.5 265.9L142.9 265.6M142.9 265.6L142.0 264.9M142.0 264.9L141.2 263.2M142.4 268.1L141.5 269.8M128.8 262.2L129.8 261.1" stroke="#f08c22" stroke-width="0.25" stroke-opacity="0.55" fill="none"/>
<path d="M160.0 215.1h0M157.4 220.3h0M163.4 238.3h0M166.7 249.4h0M154.0 253.2h0M160.0 254.9h0M156.7 245.0h0M170.0 255.7h0M153.0 247.4h0M133.2 271.5h0M139.6 267.5h0" stroke="#d9301e" stroke-width="1.35" stroke-linecap="round" fill="none"/>
<path d="M160.0 217.3h0M171.0 245.4h0M152.5 251.4h0" stroke="#d9301e" stroke-width="1.65" stroke-linecap="round" fill="none"/>
<path d="M159.6 215.5h0M159.1 213.9h0M163.0 237.2h0M164.1 234.8h0M172.6 239.1h0M170.9 235.5h0M133.2 265.0h0M128.8 262.2h0" stroke="#d9301e" stroke-width="1.20" stroke-linecap="round" fill="none"/>
<path d="M151.4 227.9h0" stroke="#4fa848" stroke-width="1.20" stroke-linecap="round" fill="none"/>
<path d="M149.1 235.0h0M147.2 231.6h0" stroke="#b8d236" stroke-width="0.90" stroke-linecap="round" fill="none"/>
<path d="M155.2 234.4h0M150.5 227.8h0M172.4 252.7h0M115.6 255.8h0M113.7 254.7h0M118.3 256.8h0" stroke="#f0cf1d" stroke-width="1.50" stroke-linecap="round" fill="none"/>
<path d="M150.8 232.9h0M157.4 250.6h0M115.2 258.8h0M120.4 255.4h0" stroke="#f0cf1d" stroke-width="1.05" stroke-linecap="round" fill="none"/>
<path d="M150.1 239.4h0M157.7 231.3h0" stroke="#b8d236" stroke-width="1.05" stroke-linecap="round" fill="none"/>
<path d="M153.4 235.9h0M154.4 249.2h0M151.5 263.2h0M154.9 266.3h0M120.2 259.1h0" stroke="#f0cf1d" stroke-width="0.90" stroke-linecap="round" fill="none"/>
<path d="M142.8 234.7h0M152.8 236.4h0M149.2 236.5h0M155.4 228.3h0" stroke="#b8d236" stroke-width="1.20" stroke-linecap="round" fill="none"/>
<path d="M150.0 236.2h0" stroke="#4fa848" stroke-width="1.35" stroke-linecap="round" fill="none"/>
<path d="M151.6 236.9h0M146.6 230.5h0M150.0 228.4h0" stroke="#b8d236" stroke-width="1.50" stroke-linecap="round" fill="none"/>
<path d="M141.7 233.4h0M131.2 246.9h0M130.8 247.6h0M132.9 241.1h0M127.9 246.3h0M129.8 238.6h0M137.4 251.5h0" stroke="#4fa848" stroke-width="1.50" stroke-linecap="round" fill="none"/>
<path d="M153.8 239.1h0" stroke="#b8d236" stroke-width="1.35" stroke-linecap="round" fill="none"/>
<path d="M154.6 227.7h0M156.0 246.9h0M164.4 248.4h0M162.0 256.2h0M156.6 256.1h0M158.9 246.1h0M159.1 264.6h0M117.5 254.7h0M123.0 252.7h0M118.9 259.7h0" stroke="#f0cf1d" stroke-width="1.20" stroke-linecap="round" fill="none"/>
<path d="M166.0 235.1h0M161.0 245.3h0M160.5 256.9h0" stroke="#d9301e" stroke-width="0.90" stroke-linecap="round" fill="none"/>
<path d="M162.7 234.9h0M164.7 234.0h0M170.6 237.1h0M174.1 239.8h0M163.5 252.1h0M163.5 255.8h0M130.7 263.1h0" stroke="#d9301e" stroke-width="1.50" stroke-linecap="round" fill="none"/>
<path d="M171.8 235.0h0M175.7 238.8h0M175.1 239.0h0M174.8 257.5h0M158.6 251.9h0M164.7 258.2h0M127.5 262.1h0" stroke="#e8561c" stroke-width="1.35" stroke-linecap="round" fill="none"/>
<path d="M169.8 240.0h0M171.2 237.3h0M160.0 249.1h0M171.7 258.2h0M153.3 248.7h0M137.1 268.0h0M130.7 268.5h0M132.9 272.8h0M136.3 270.4h0M144.5 266.0h0" stroke="#d9301e" stroke-width="1.05" stroke-linecap="round" fill="none"/>
<path d="M175.8 237.0h0M162.7 245.5h0M155.7 262.4h0M126.9 264.4h0M143.4 265.1h0M134.7 266.0h0" stroke="#e8561c" stroke-width="1.20" stroke-linecap="round" fill="none"/>
<path d="M158.2 251.4h0M157.9 250.2h0M171.2 254.9h0M163.4 245.3h0" stroke="#f08c22" stroke-width="1.95" stroke-linecap="round" fill="none"/>
<path d="M176.8 249.2h0M152.6 246.9h0M158.2 245.3h0M162.2 252.8h0" stroke="#e8561c" stroke-width="1.95" stroke-linecap="round" fill="none"/>
<path d="M157.6 251.6h0M155.7 245.1h0M164.8 245.9h0M142.4 268.1h0M130.1 272.5h0M136.0 262.3h0" stroke="#e8561c" stroke-width="1.50" stroke-linecap="round" fill="none"/>
<path d="M166.9 258.0h0" stroke="#d9301e" stroke-width="1.95" stroke-linecap="round" fill="none"/>
<path d="M168.6 244.8h0M171.3 252.7h0M136.1 263.0h0M134.4 272.3h0M143.3 266.5h0" stroke="#f08c22" stroke-width="0.90" stroke-linecap="round" fill="none"/>
<path d="M174.5 258.6h0M160.3 246.5h0" stroke="#f08c22" stroke-width="1.35" stroke-linecap="round" fill="none"/>
<path d="M175.3 248.6h0M174.4 253.1h0M153.9 248.6h0M157.6 266.8h0M113.9 255.1h0M117.5 259.6h0M128.7 267.1h0M142.9 265.6h0M142.5 265.9h0M141.5 269.8h0" stroke="#f08c22" stroke-width="1.05" stroke-linecap="round" fill="none"/>
<path d="M167.2 256.4h0M161.6 249.1h0M167.7 254.5h0" stroke="#e8561c" stroke-width="1.65" stroke-linecap="round" fill="none"/>
<path d="M172.6 253.5h0M158.3 250.8h0M170.2 252.6h0" stroke="#f0cf1d" stroke-width="1.80" stroke-linecap="round" fill="none"/>
<path d="M174.0 254.5h0M172.5 255.3h0M152.1 262.5h0M151.5 264.4h0M117.4 255.2h0M113.9 255.9h0M120.6 255.9h0" stroke="#f0cf1d" stroke-width="1.35" stroke-linecap="round" fill="none"/>
<path d="M174.8 249.7h0M172.4 256.3h0M156.4 245.6h0M170.0 250.4h0M159.0 262.8h0M120.1 253.9h0M134.3 261.5h0M129.8 265.9h0M141.2 263.2h0M134.6 268.6h0M129.8 261.1h0M134.0 263.8h0" stroke="#f08c22" stroke-width="1.20" stroke-linecap="round" fill="none"/>
<path d="M171.5 258.2h0M158.2 256.4h0" stroke="#d9301e" stroke-width="1.80" stroke-linecap="round" fill="none"/>
<path d="M168.3 254.8h0M156.1 254.3h0M169.0 258.2h0M160.2 246.8h0M154.1 265.6h0M155.4 262.7h0M119.0 259.3h0M131.3 269.9h0M142.0 264.9h0" stroke="#f08c22" stroke-width="1.50" stroke-linecap="round" fill="none"/>
<path d="M150.7 251.3h0M158.2 247.6h0" stroke="#e8561c" stroke-width="1.80" stroke-linecap="round" fill="none"/>
<path d="M159.3 245.8h0" stroke="#4fa848" stroke-width="1.95" stroke-linecap="round" fill="none"/>
<path d="M159.4 247.1h0M129.5 266.3h0" stroke="#f08c22" stroke-width="1.65" stroke-linecap="round" fill="none"/>
<path d="M163.2 250.5h0" stroke="#f08c22" stroke-width="1.80" stroke-linecap="round" fill="none"/>
<path d="M171.7 256.5h0" stroke="#f0cf1d" stroke-width="1.65" stroke-linecap="round" fill="none"/>
<path d="M152.9 266.6h0M132.8 266.2h0M135.1 263.2h0" stroke="#e8561c" stroke-width="0.90" stroke-linecap="round" fill="none"/>
<path d="M153.7 265.7h0" stroke="#e8561c" stroke-width="1.05" stroke-linecap="round" fill="none"/>
<path d="M131.3 243.3h0" stroke="#4fa848" stroke-width="1.65" stroke-linecap="round" fill="none"/>
<path d="M131.1 240.9h0" stroke="#4fa848" stroke-width="0.90" stroke-linecap="round" fill="none"/>
<path d="M132.2 247.5h0M134.1 250.5h0" stroke="#4fa848" stroke-width="1.05" stroke-linecap="round" fill="none"/>
<text x="162.00" y="218.30" font-size="2.9" fill="#3a3a3a" textLength="14.4" lengthAdjust="spacingAndGlyphs">CD4+ CD8+</text>
<text x="135.10" y="224.30" font-size="2.9" fill="#3a3a3a" textLength="13.3" lengthAdjust="spacingAndGlyphs">CD4+ naive</text>
<text x="121.20" y="230.80" font-size="2.9" fill="#3a3a3a" textLength="13.9" lengthAdjust="spacingAndGlyphs">CD8+ naive</text>
<text x="167.80" y="227.60" font-size="2.9" fill="#3a3a3a" textLength="13.4" lengthAdjust="spacingAndGlyphs">CD4+ TCM</text>
<text x="178.40" y="238.10" font-size="2.9" fill="#3a3a3a" textLength="22.0" lengthAdjust="spacingAndGlyphs">CD4+ CD25+ TEM</text>
<text x="180.40" y="255.30" font-size="2.9" fill="#3a3a3a" textLength="12.4" lengthAdjust="spacingAndGlyphs">CD4+ TEM</text>
<text x="151.40" y="272.30" font-size="2.9" fill="#3a3a3a" textLength="13.5" lengthAdjust="spacingAndGlyphs">CD4- CD8-</text>
<text x="126.40" y="278.50" font-size="2.9" fill="#3a3a3a" textLength="12.5" lengthAdjust="spacingAndGlyphs">CD8+ TCM</text>
<text x="104.40" y="267.00" font-size="2.9" fill="#3a3a3a" textLength="12.4" lengthAdjust="spacingAndGlyphs">CD8+ TEM</text>
<text x="143.40" y="242.80" font-size="2.9" fill="#3a3a3a" textLength="5.0" lengthAdjust="spacingAndGlyphs">CD4+</text>
<text x="119.90" y="251.30" font-size="2.9" fill="#3a3a3a" textLength="5.0" lengthAdjust="spacingAndGlyphs">CD8+</text>
<polygon points="51.70,317.70 69.90,307.60 77.30,309.60 89.40,319.70 92.10,329.80 91.40,344.60 85.40,348.00 61.20,339.20 58.50,332.50" fill="none" stroke="#3a3a3a" stroke-width="0.45" stroke-linejoin="round"/>
<polygon points="40.30,318.30 47.60,319.10 59.00,346.80 59.50,355.80 48.20,361.40 44.30,360.80 24.50,342.20 34.70,326.40" fill="none" stroke="#3a3a3a" stroke-width="0.45" stroke-linejoin="round"/>
<polygon points="67.90,298.80 71.90,297.50 73.90,300.20 72.60,304.90 69.90,306.20 67.90,302.20" fill="none" stroke="#3a3a3a" stroke-width="0.45" stroke-linejoin="round"/>
<polygon points="61.80,348.00 67.90,346.60 76.00,348.60 75.30,352.00 67.90,352.70 63.20,353.30" fill="none" stroke="#3a3a3a" stroke-width="0.45" stroke-linejoin="round"/>
<polygon points="52.60,318.00 69.90,308.40 73.90,311.10 69.90,325.60 65.20,327.00 54.60,321.80" fill="none" stroke="#3a3a3a" stroke-width="0.45" stroke-linejoin="round"/>
<polygon points="72.80,322.40 76.00,317.80 79.20,318.50 79.20,323.80 75.30,326.20" fill="none" stroke="#3a3a3a" stroke-width="0.45" stroke-linejoin="round"/>
<polygon points="81.30,325.80 83.40,319.80 88.00,319.80 89.30,322.40 89.30,327.00" fill="none" stroke="#3a3a3a" stroke-width="0.45" stroke-linejoin="round"/>
<polygon points="60.70,335.20 66.50,328.00 78.60,328.00 91.20,331.20 90.70,344.40 85.40,346.40 64.50,341.10" fill="none" stroke="#3a3a3a" stroke-width="0.45" stroke-linejoin="round"/>
<polygon points="37.20,324.80 47.40,320.40 52.50,337.80 48.20,341.40 41.00,338.80" fill="none" stroke="#3a3a3a" stroke-width="0.45" stroke-linejoin="round"/>
<polygon points="25.20,339.80 35.80,337.30 38.40,342.20 36.90,345.40 26.90,345.40" fill="none" stroke="#3a3a3a" stroke-width="0.45" stroke-linejoin="round"/>
<polygon points="37.70,346.80 44.80,344.70 58.20,347.90 58.80,355.70 48.20,360.10 43.10,360.10 38.10,351.20" fill="none" stroke="#3a3a3a" stroke-width="0.45" stroke-linejoin="round"/>
<path d="M46.5 351.8h0M50.3 351.1h0M50.6 348.6h0M41.9 349.8h0M39.9 352.3h0" stroke="#d9301e" stroke-width="1.50" stroke-linecap="round" fill="none"/>
<path d="M47.6 351.9h0M49.0 349.9h0M44.4 355.9h0M40.7 352.4h0" stroke="#d9301e" stroke-width="2.10" stroke-linecap="round" fill="none"/>
<path d="M47.3 353.2h0M45.2 356.2h0" stroke="#e8561c" stroke-width="2.40" stroke-linecap="round" fill="none"/>
<path d="M48.1 354.0h0M45.4 349.0h0M45.3 349.0h0M44.6 356.1h0" stroke="#d9301e" stroke-width="1.35" stroke-linecap="round" fill="none"/>
<path d="M49.2 354.3h0M45.8 348.4h0M51.9 350.5h0M52.5 351.8h0M43.8 353.3h0" stroke="#d9301e" stroke-width="1.65" stroke-linecap="round" fill="none"/>
<path d="M50.5 354.6h0M49.5 354.1h0M46.3 350.0h0M40.0 352.9h0M39.7 351.6h0M52.6 349.8h0M44.5 356.8h0M39.8 351.6h0" stroke="#e8561c" stroke-width="1.95" stroke-linecap="round" fill="none"/>
<path d="M50.7 354.9h0M49.1 353.4h0M48.7 352.5h0M45.6 356.1h0M45.7 356.3h0M47.4 351.2h0M52.5 349.7h0M42.1 351.6h0M43.9 356.0h0M43.5 356.0h0" stroke="#d9301e" stroke-width="1.95" stroke-linecap="round" fill="none"/>
<path d="M51.1 353.7h0M45.1 347.5h0M42.7 353.4h0M46.9 356.2h0M43.7 356.2h0M51.2 349.9h0M52.8 350.8h0M51.8 350.0h0M41.2 350.1h0M41.4 352.8h0" stroke="#d9301e" stroke-width="2.55" stroke-linecap="round" fill="none"/>
<path d="M48.1 351.1h0M47.5 349.8h0M46.2 352.2h0M44.8 352.8h0M40.7 354.1h0M41.1 355.1h0M39.3 352.8h0M54.0 350.6h0M53.0 349.7h0M44.5 351.8h0" stroke="#d9301e" stroke-width="2.25" stroke-linecap="round" fill="none"/>
<path d="M47.4 351.1h0M47.8 351.2h0M43.9 354.6h0" stroke="#e8561c" stroke-width="1.65" stroke-linecap="round" fill="none"/>
<path d="M46.4 349.5h0M50.1 350.6h0M43.2 355.2h0M40.6 354.2h0M53.5 352.1h0M42.5 350.2h0" stroke="#d9301e" stroke-width="2.70" stroke-linecap="round" fill="none"/>
<path d="M48.0 350.0h0M51.2 349.3h0M41.0 352.7h0" stroke="#e8561c" stroke-width="1.80" stroke-linecap="round" fill="none"/>
<path d="M51.1 350.7h0M43.8 353.6h0M41.9 353.5h0M40.9 355.1h0M49.7 349.5h0M53.3 353.3h0M42.7 354.6h0" stroke="#d9301e" stroke-width="1.80" stroke-linecap="round" fill="none"/>
<path d="M40.6 354.5h0" stroke="#d9301e" stroke-width="2.40" stroke-linecap="round" fill="none"/>
<path d="M41.6 354.8h0M45.6 351.3h0M42.6 354.3h0" stroke="#d9301e" stroke-width="2.85" stroke-linecap="round" fill="none"/>
<path d="M44.1 356.4h0M42.8 355.2h0M43.0 352.7h0" stroke="#e8561c" stroke-width="2.25" stroke-linecap="round" fill="none"/>
<path d="M41.6 355.3h0" stroke="#f0cf1d" stroke-width="1.95" stroke-linecap="round" fill="none"/>
<path d="M48.9 350.0h0M52.5 352.6h0M54.2 350.8h0" stroke="#e8561c" stroke-width="1.35" stroke-linecap="round" fill="none"/>
<path d="M50.8 349.7h0M52.1 348.6h0" stroke="#e8561c" stroke-width="2.70" stroke-linecap="round" fill="none"/>
<path d="M52.4 349.7h0M53.5 351.3h0" stroke="#e8561c" stroke-width="1.50" stroke-linecap="round" fill="none"/>
<path d="M43.8 351.3h0M41.4 351.2h0" stroke="#e8561c" stroke-width="2.85" stroke-linecap="round" fill="none"/>
<path d="M44.4 354.1h0" stroke="#f0cf1d" stroke-width="1.50" stroke-linecap="round" fill="none"/>
<path d="M40.5 352.0h0" stroke="#f0cf1d" stroke-width="2.25" stroke-linecap="round" fill="none"/>
<path d="M69.8 300.6L69.2 302.0M69.2 302.0L69.8 302.8M69.8 300.6L69.5 298.8M69.8 300.6L73.5 300.4M63.2 320.5L61.4 322.2M57.4 321.9L58.2 321.0M65.4 318.8L65.1 316.4M68.0 312.4L67.6 312.3M62.5 314.7L63.8 313.5M68.5 322.0L69.6 323.8M70.4 347.8L71.1 348.3M72.5 351.3L73.8 350.9M47.8 330.8L48.6 331.5M47.8 330.8L46.8 332.2M45.6 328.2L46.3 327.2M43.6 327.7L43.5 328.2M43.5 328.2L43.0 328.4M48.1 334.3L49.9 335.0M48.1 334.3L45.4 335.2M45.4 335.2L44.8 334.4M41.7 336.2L43.6 338.1M44.7 337.8L46.5 339.2M43.4 323.8L46.0 322.7M42.5 327.7L40.2 325.3M46.5 339.2L49.8 338.7M42.1 333.6L39.7 331.3M49.8 356.1L49.0 355.7M49.0 355.7L47.7 356.1M47.7 356.1L45.1 356.1M43.5 351.0L41.8 350.1M48.1 349.2L48.6 349.6M48.1 349.2L48.2 348.3M48.6 349.6L48.3 352.3M51.9 350.7L53.3 351.1" stroke="#d9301e" stroke-width="0.25" stroke-opacity="0.55" fill="none"/>
<path d="M60.6 316.7L61.2 317.5M61.2 317.5L61.8 317.6M61.2 317.5L61.3 318.5M61.3 318.5L62.9 319.8M62.9 319.8L63.2 320.5M60.6 316.7L58.4 316.0M61.4 322.2L60.6 322.6M60.6 322.6L59.2 322.9M59.2 322.9L57.4 321.9M62.9 319.8L65.4 318.8M65.1 316.4L67.4 316.1M67.4 316.1L68.6 316.4M68.6 316.4L69.2 316.3M69.9 314.2L68.0 312.4M67.6 312.3L66.9 312.3M68.0 312.4L68.1 310.5M66.8 319.5L68.5 322.0M58.2 321.0L55.0 319.0M77.8 319.2L76.9 320.7M76.9 320.7L76.2 320.6M76.9 320.7L78.7 322.3M78.7 322.3L77.9 323.2M46.8 332.2L45.5 330.6M45.5 330.6L45.6 328.2M45.6 328.2L43.6 327.7M43.0 328.4L42.5 327.7M43.6 327.7L44.6 326.0M46.8 332.2L48.1 334.3M44.6 326.0L43.4 323.8M44.8 334.4L44.1 334.3M44.1 334.3L42.1 333.6M42.1 333.6L41.7 336.2M43.6 338.1L44.7 337.8" stroke="#f08c22" stroke-width="0.25" stroke-opacity="0.55" fill="none"/>
<path d="M65.4 318.8L66.8 319.5M69.2 316.3L70.2 317.0M69.2 316.3L69.9 314.2M60.6 316.7L62.5 314.7M63.2 320.5L64.6 323.4M69.1 348.1L69.2 350.5M69.2 350.5L70.0 351.1M70.0 351.1L72.5 351.3M65.7 347.5L63.9 351.9M47.3 358.7L49.7 358.2M49.7 358.2L49.8 356.1M45.1 356.1L45.5 352.9M45.7 351.3L43.5 351.0M42.6 349.2L44.2 348.6M46.2 348.7L48.1 349.2M41.8 350.1L39.7 349.2M48.6 349.6L51.9 350.7M53.3 351.1L55.2 351.3M55.2 351.3L56.4 351.8M55.2 351.3L55.6 349.7M53.3 351.1L52.9 353.7" stroke="#e8561c" stroke-width="0.25" stroke-opacity="0.55" fill="none"/>
<path d="M76.2 320.6L74.7 320.2" stroke="#f0cf1d" stroke-width="0.25" stroke-opacity="0.55" fill="none"/>
<path d="M84.9 324.4L85.0 323.5M85.0 323.5L86.0 323.6M87.4 322.4L88.3 323.1M83.0 325.0L82.5 323.7" stroke="#b8d236" stroke-width="0.25" stroke-opacity="0.55" fill="none"/>
<path d="M84.9 324.4L85.9 325.3M85.0 323.5L85.6 321.8M86.0 323.6L87.4 322.4M84.9 324.4L83.0 325.0M85.6 321.8L83.6 321.0M78.5 337.5L77.8 337.6M77.8 337.6L77.2 337.1M78.5 338.1L78.7 339.6M79.6 341.4L80.3 341.2M80.5 343.1L81.2 344.3M81.2 344.3L82.6 344.0M86.2 343.4L85.7 344.5M75.4 341.6L75.3 341.8M74.1 341.3L72.1 340.3M86.6 336.4L87.1 334.1M83.0 330.7L83.2 332.6M70.6 336.0L70.8 335.7M70.8 335.7L70.9 335.6M72.8 334.1L73.6 334.1M72.0 333.4L71.6 331.8M72.0 333.4L69.9 333.2M71.6 331.8L73.0 329.9M67.7 330.5L67.9 331.1M69.9 333.2L68.2 334.9M63.9 336.0L63.4 334.4M72.1 340.3L69.2 341.3M65.7 347.5L69.1 348.1M69.1 348.1L70.4 347.8M71.1 348.3L70.9 348.8M73.8 350.9L73.7 348.9M63.9 351.9L64.8 352.4M35.5 343.6L35.5 343.3M35.5 343.6L34.5 343.9M35.5 343.3L34.9 341.4M34.2 341.1L33.8 339.9M33.8 339.9L35.1 339.1M34.2 341.1L32.7 342.6M30.0 343.8L28.4 342.7M28.4 342.7L27.2 343.5M27.2 343.5L27.9 344.3M33.8 339.9L31.2 339.0M45.5 352.9L45.7 351.3M41.8 350.1L42.6 349.2M44.2 348.6L46.2 348.7M41.8 350.1L40.7 353.7" stroke="#4fa848" stroke-width="0.25" stroke-opacity="0.55" fill="none"/>
<path d="M86.0 340.1L86.3 339.8M85.6 338.3L86.0 337.5M86.2 341.2L88.3 340.7M82.6 339.6L80.7 338.5M76.0 337.7L74.8 337.5M78.7 339.6L78.5 340.1M78.5 340.1L77.6 341.1M80.2 342.1L79.9 342.8M79.9 342.8L80.5 343.1M76.4 336.0L77.7 335.0M77.6 341.1L75.4 341.6M74.9 341.9L74.1 341.3M87.1 334.1L87.2 333.9M87.1 334.1L88.8 335.4M84.6 330.6L83.0 330.7M81.8 333.7L83.0 335.4M72.1 340.3L71.9 337.8M73.0 329.9L74.0 331.5" stroke="#1f2c82" stroke-width="0.25" stroke-opacity="0.55" fill="none"/>
<path d="M86.3 339.8L86.0 339.4M86.0 340.1L86.2 341.2M86.0 339.4L85.6 338.3M85.6 338.3L84.7 337.8M86.0 337.5L86.6 336.4M84.4 339.1L82.6 339.6M88.3 340.7L88.4 340.1M80.7 338.5L80.4 337.8M78.5 338.1L78.5 337.5M77.2 337.1L76.0 337.7M80.3 341.2L80.9 341.5M82.6 344.0L83.1 344.6M77.7 335.0L77.6 333.8M86.2 341.2L86.2 343.4M86.2 341.2L84.1 341.7M75.3 341.8L74.9 341.9M75.4 341.6L75.4 340.5M86.5 332.1L88.4 331.5M88.4 331.5L89.3 332.3M86.5 332.1L84.6 330.6M83.2 332.6L81.8 333.7M71.9 337.8L70.6 336.0M70.9 335.6L72.0 333.4M72.0 333.4L72.8 334.1M73.0 329.9L73.5 329.2M73.0 329.9L71.6 329.4M71.6 329.4L69.6 330.2M69.6 330.2L67.7 330.5M68.2 334.9L66.3 335.5M66.3 335.5L66.3 337.2M66.3 335.5L63.9 336.0M78.5 333.1L79.6 330.2M35.5 343.6L36.6 343.9M34.9 341.4L34.2 341.1M32.7 342.6L30.4 343.3M30.4 343.3L30.0 343.8M30.4 343.3L31.6 344.8" stroke="#2b3f9f" stroke-width="0.25" stroke-opacity="0.55" fill="none"/>
<path d="M84.7 337.8L84.4 339.1M80.4 337.8L78.5 338.1M77.2 337.1L76.4 336.0M78.5 340.1L79.6 341.4M79.6 341.4L80.2 342.1M77.6 333.8L78.5 333.1M77.7 335.0L79.6 335.1M87.2 333.9L86.5 332.1" stroke="#2e8f7a" stroke-width="0.25" stroke-opacity="0.55" fill="none"/>
<path d="M69.8 300.6h0M73.5 300.4h0M69.8 302.8h0" stroke="#d9301e" stroke-width="1.65" stroke-linecap="round" fill="none"/>
<path d="M69.2 302.0h0M67.6 312.3h0M65.1 316.4h0M48.3 352.3h0" stroke="#d9301e" stroke-width="1.20" stroke-linecap="round" fill="none"/>
<path d="M69.5 298.8h0M43.6 338.1h0M49.8 338.7h0M49.9 335.0h0M48.6 331.5h0M48.6 349.6h0" stroke="#d9301e" stroke-width="1.05" stroke-linecap="round" fill="none"/>
<path d="M60.6 316.7h0M69.9 314.2h0M70.2 317.0h0M65.7 347.5h0M69.2 350.5h0M51.9 350.7h0M56.4 351.8h0" stroke="#e8561c" stroke-width="1.35" stroke-linecap="round" fill="none"/>
<path d="M67.4 316.1h0M60.6 322.6h0M61.8 317.6h0M61.3 318.5h0M61.2 317.5h0M68.1 310.5h0M68.6 316.4h0M65.4 318.8h0M63.2 320.5h0M76.9 320.7h0M78.7 322.3h0" stroke="#f08c22" stroke-width="1.20" stroke-linecap="round" fill="none"/>
<path d="M66.8 319.5h0M62.5 314.7h0M52.9 353.7h0M39.7 349.2h0" stroke="#e8561c" stroke-width="1.05" stroke-linecap="round" fill="none"/>
<path d="M68.5 322.0h0M55.0 319.0h0" stroke="#f08c22" stroke-width="1.65" stroke-linecap="round" fill="none"/>
<path d="M69.2 316.3h0" stroke="#f08c22" stroke-width="0.90" stroke-linecap="round" fill="none"/>
<path d="M58.4 316.0h0M66.9 312.3h0M59.2 322.9h0M44.6 326.0h0M42.5 327.7h0" stroke="#f08c22" stroke-width="1.05" stroke-linecap="round" fill="none"/>
<path d="M57.4 321.9h0M62.9 319.8h0M68.0 312.4h0M77.9 323.2h0M48.1 334.3h0M44.7 337.8h0" stroke="#f08c22" stroke-width="1.35" stroke-linecap="round" fill="none"/>
<path d="M58.2 321.0h0M73.8 350.9h0M46.0 322.7h0M44.8 334.4h0M45.4 335.2h0M46.8 332.2h0M43.0 328.4h0M49.0 355.7h0M45.1 356.1h0" stroke="#d9301e" stroke-width="1.50" stroke-linecap="round" fill="none"/>
<path d="M64.6 323.4h0M44.2 348.6h0M55.6 349.7h0M43.5 351.0h0M49.7 358.2h0M55.2 351.3h0" stroke="#e8561c" stroke-width="1.50" stroke-linecap="round" fill="none"/>
<path d="M63.8 313.5h0M61.4 322.2h0M71.1 348.3h0M46.3 327.2h0M40.2 325.3h0M46.5 339.2h0M39.7 331.3h0M43.5 328.2h0M48.2 348.3h0M41.8 350.1h0M53.3 351.1h0" stroke="#d9301e" stroke-width="1.35" stroke-linecap="round" fill="none"/>
<path d="M69.6 323.8h0M47.7 356.1h0" stroke="#d9301e" stroke-width="0.90" stroke-linecap="round" fill="none"/>
<path d="M77.8 319.2h0" stroke="#f0cf1d" stroke-width="0.90" stroke-linecap="round" fill="none"/>
<path d="M76.2 320.6h0M47.8 330.8h0M45.5 330.6h0M45.6 328.2h0M42.1 333.6h0M44.1 334.3h0M41.7 336.2h0M43.4 323.8h0M43.6 327.7h0" stroke="#f08c22" stroke-width="1.50" stroke-linecap="round" fill="none"/>
<path d="M74.7 320.2h0" stroke="#f0cf1d" stroke-width="1.35" stroke-linecap="round" fill="none"/>
<path d="M84.9 324.4h0M85.6 321.8h0M83.6 321.0h0M83.2 332.6h0M69.2 341.3h0M67.9 331.1h0M69.9 333.2h0M82.6 344.0h0M70.4 347.8h0M64.8 352.4h0M31.2 339.0h0M32.7 342.6h0M46.2 348.7h0M40.7 353.7h0M45.7 351.3h0" stroke="#4fa848" stroke-width="1.50" stroke-linecap="round" fill="none"/>
<path d="M88.3 323.1h0" stroke="#b8d236" stroke-width="1.35" stroke-linecap="round" fill="none"/>
<path d="M85.0 323.5h0" stroke="#b8d236" stroke-width="1.50" stroke-linecap="round" fill="none"/>
<path d="M85.9 325.3h0M83.0 325.0h0M70.8 335.7h0M63.4 334.4h0M75.3 341.8h0M73.0 329.9h0M69.1 348.1h0M73.7 348.9h0M70.9 348.8h0M35.1 339.1h0M27.2 343.5h0M34.5 343.9h0M28.4 342.7h0M42.6 349.2h0" stroke="#4fa848" stroke-width="1.05" stroke-linecap="round" fill="none"/>
<path d="M87.4 322.4h0M85.7 344.5h0M34.9 341.4h0" stroke="#4fa848" stroke-width="0.90" stroke-linecap="round" fill="none"/>
<path d="M86.0 323.6h0" stroke="#b8d236" stroke-width="1.05" stroke-linecap="round" fill="none"/>
<path d="M82.5 323.7h0" stroke="#b8d236" stroke-width="1.20" stroke-linecap="round" fill="none"/>
<path d="M86.0 340.1h0M68.2 334.9h0M72.1 340.3h0M33.8 339.9h0" stroke="#4fa848" stroke-width="1.65" stroke-linecap="round" fill="none"/>
<path d="M78.5 337.5h0M72.8 334.1h0M83.1 344.6h0M67.7 330.5h0M63.9 336.0h0M74.9 341.9h0" stroke="#2b3f9f" stroke-width="1.20" stroke-linecap="round" fill="none"/>
<path d="M78.5 338.1h0" stroke="#2e8f7a" stroke-width="1.35" stroke-linecap="round" fill="none"/>
<path d="M84.1 341.7h0M84.6 330.6h0M80.4 337.8h0M85.6 338.3h0M89.3 332.3h0" stroke="#2b3f9f" stroke-width="1.65" stroke-linecap="round" fill="none"/>
<path d="M75.4 341.6h0M74.8 337.5h0" stroke="#1f2c82" stroke-width="1.95" stroke-linecap="round" fill="none"/>
<path d="M88.3 340.7h0M74.1 341.3h0" stroke="#1f2c82" stroke-width="1.50" stroke-linecap="round" fill="none"/>
<path d="M79.6 341.4h0" stroke="#2e8f7a" stroke-width="1.50" stroke-linecap="round" fill="none"/>
<path d="M73.5 329.2h0M72.0 333.4h0M66.3 337.2h0" stroke="#2b3f9f" stroke-width="1.80" stroke-linecap="round" fill="none"/>
<path d="M77.6 333.8h0M86.0 339.4h0M82.6 339.6h0M88.4 340.1h0M31.6 344.8h0" stroke="#2b3f9f" stroke-width="1.05" stroke-linecap="round" fill="none"/>
<path d="M80.3 341.2h0" stroke="#4fa848" stroke-width="1.95" stroke-linecap="round" fill="none"/>
<path d="M70.6 336.0h0M84.7 337.8h0M71.6 329.4h0M76.0 337.7h0M69.6 330.2h0" stroke="#2b3f9f" stroke-width="1.95" stroke-linecap="round" fill="none"/>
<path d="M77.2 337.1h0M73.6 334.1h0" stroke="#4fa848" stroke-width="1.20" stroke-linecap="round" fill="none"/>
<path d="M86.2 343.4h0M66.3 335.5h0M88.4 331.5h0M86.2 341.2h0M30.4 343.3h0M34.2 341.1h0" stroke="#2b3f9f" stroke-width="1.50" stroke-linecap="round" fill="none"/>
<path d="M80.9 341.5h0M81.8 333.7h0M75.4 340.5h0M86.6 336.4h0M30.0 343.8h0" stroke="#2b3f9f" stroke-width="1.35" stroke-linecap="round" fill="none"/>
<path d="M79.9 342.8h0M78.5 340.1h0" stroke="#1f2c82" stroke-width="1.80" stroke-linecap="round" fill="none"/>
<path d="M74.0 331.5h0M80.7 338.5h0M71.9 337.8h0" stroke="#1f2c82" stroke-width="1.35" stroke-linecap="round" fill="none"/>
<path d="M80.2 342.1h0M84.4 339.1h0" stroke="#2e8f7a" stroke-width="1.65" stroke-linecap="round" fill="none"/>
<path d="M77.6 341.1h0M86.3 339.8h0M88.8 335.4h0" stroke="#1f2c82" stroke-width="1.20" stroke-linecap="round" fill="none"/>
<path d="M70.9 335.6h0M81.2 344.3h0M77.8 337.6h0M87.1 334.1h0M78.7 339.6h0M71.6 331.8h0" stroke="#4fa848" stroke-width="1.80" stroke-linecap="round" fill="none"/>
<path d="M86.5 332.1h0" stroke="#2e8f7a" stroke-width="0.90" stroke-linecap="round" fill="none"/>
<path d="M80.5 343.1h0M83.0 335.4h0" stroke="#1f2c82" stroke-width="1.65" stroke-linecap="round" fill="none"/>
<path d="M77.7 335.0h0M86.0 337.5h0" stroke="#1f2c82" stroke-width="1.05" stroke-linecap="round" fill="none"/>
<path d="M79.6 330.2h0M36.6 343.9h0" stroke="#2b3f9f" stroke-width="0.90" stroke-linecap="round" fill="none"/>
<path d="M76.4 336.0h0M79.6 335.1h0" stroke="#2e8f7a" stroke-width="1.95" stroke-linecap="round" fill="none"/>
<path d="M78.5 333.1h0" stroke="#2e8f7a" stroke-width="1.05" stroke-linecap="round" fill="none"/>
<path d="M87.2 333.9h0M83.0 330.7h0" stroke="#1f2c82" stroke-width="0.90" stroke-linecap="round" fill="none"/>
<path d="M72.5 351.3h0M70.0 351.1h0M45.5 352.9h0M49.8 356.1h0" stroke="#e8561c" stroke-width="1.20" stroke-linecap="round" fill="none"/>
<path d="M63.9 351.9h0M47.3 358.7h0M48.1 349.2h0" stroke="#e8561c" stroke-width="0.90" stroke-linecap="round" fill="none"/>
<path d="M35.5 343.6h0M27.9 344.3h0M35.5 343.3h0" stroke="#4fa848" stroke-width="1.35" stroke-linecap="round" fill="none"/>
<text x="74.60" y="303.60" font-size="2.9" fill="#3a3a3a" textLength="14.4" lengthAdjust="spacingAndGlyphs">CD4+ CD8+</text>
<text x="47.70" y="309.60" font-size="2.9" fill="#3a3a3a" textLength="13.3" lengthAdjust="spacingAndGlyphs">CD4+ naive</text>
<text x="33.80" y="316.10" font-size="2.9" fill="#3a3a3a" textLength="13.9" lengthAdjust="spacingAndGlyphs">CD8+ naive</text>
<text x="80.40" y="312.90" font-size="2.9" fill="#3a3a3a" textLength="13.4" lengthAdjust="spacingAndGlyphs">CD4+ TCM</text>
<text x="91.00" y="323.40" font-size="2.9" fill="#3a3a3a" textLength="22.0" lengthAdjust="spacingAndGlyphs">CD4+ CD25+ TEM</text>
<text x="93.00" y="340.60" font-size="2.9" fill="#3a3a3a" textLength="12.4" lengthAdjust="spacingAndGlyphs">CD4+ TEM</text>
<text x="64.00" y="357.60" font-size="2.9" fill="#3a3a3a" textLength="13.5" lengthAdjust="spacingAndGlyphs">CD4- CD8-</text>
<text x="39.00" y="363.80" font-size="2.9" fill="#3a3a3a" textLength="12.5" lengthAdjust="spacingAndGlyphs">CD8+ TCM</text>
<text x="17.00" y="352.30" font-size="2.9" fill="#3a3a3a" textLength="12.4" lengthAdjust="spacingAndGlyphs">CD8+ TEM</text>
<text x="56.00" y="328.10" font-size="2.9" fill="#3a3a3a" textLength="5.0" lengthAdjust="spacingAndGlyphs">CD4+</text>
<text x="32.50" y="336.60" font-size="2.9" fill="#3a3a3a" textLength="5.0" lengthAdjust="spacingAndGlyphs">CD8+</text>
<polygon points="144.40,318.50 162.60,308.40 170.00,310.40 182.10,320.50 184.80,330.60 184.10,345.40 178.10,348.80 153.90,340.00 151.20,333.30" fill="none" stroke="#3a3a3a" stroke-width="0.45" stroke-linejoin="round"/>
<polygon points="133.00,319.10 140.30,319.90 151.70,347.60 152.20,356.60 140.90,362.20 137.00,361.60 117.20,343.00 127.40,327.20" fill="none" stroke="#3a3a3a" stroke-width="0.45" stroke-linejoin="round"/>
<polygon points="160.60,299.60 164.60,298.30 166.60,301.00 165.30,305.70 162.60,307.00 160.60,303.00" fill="none" stroke="#3a3a3a" stroke-width="0.45" stroke-linejoin="round"/>
<polygon points="154.50,348.80 160.60,347.40 168.70,349.40 168.00,352.80 160.60,353.50 155.90,354.10" fill="none" stroke="#3a3a3a" stroke-width="0.45" stroke-linejoin="round"/>
<polygon points="145.30,318.80 162.60,309.20 166.60,311.90 162.60,326.40 157.90,327.80 147.30,322.60" fill="none" stroke="#3a3a3a" stroke-width="0.45" stroke-linejoin="round"/>
<polygon points="165.50,323.20 168.70,318.60 171.90,319.30 171.90,324.60 168.00,327.00" fill="none" stroke="#3a3a3a" stroke-width="0.45" stroke-linejoin="round"/>
<polygon points="174.00,326.60 176.10,320.60 180.70,320.60 182.00,323.20 182.00,327.80" fill="none" stroke="#3a3a3a" stroke-width="0.45" stroke-linejoin="round"/>
<polygon points="153.40,336.00 159.20,328.80 171.30,328.80 183.90,332.00 183.40,345.20 178.10,347.20 157.20,341.90" fill="none" stroke="#3a3a3a" stroke-width="0.45" stroke-linejoin="round"/>
<polygon points="129.90,325.60 140.10,321.20 145.20,338.60 140.90,342.20 133.70,339.60" fill="none" stroke="#3a3a3a" stroke-width="0.45" stroke-linejoin="round"/>
<polygon points="117.90,340.60 128.50,338.10 131.10,343.00 129.60,346.20 119.60,346.20" fill="none" stroke="#3a3a3a" stroke-width="0.45" stroke-linejoin="round"/>
<polygon points="130.40,347.60 137.50,345.50 150.90,348.70 151.50,356.50 140.90,360.90 135.80,360.90 130.80,352.00" fill="none" stroke="#3a3a3a" stroke-width="0.45" stroke-linejoin="round"/>
<path d="M153.7 320.1h0M156.6 321.0h0M153.7 319.1h0M156.8 317.4h0M155.7 320.8h0M155.5 318.1h0M152.8 318.0h0M138.3 330.7h0M139.3 326.8h0M136.0 323.1h0M137.5 326.3h0M137.0 325.9h0" stroke="#f08c22" stroke-width="1.65" stroke-linecap="round" fill="none"/>
<path d="M154.3 320.2h0M156.8 319.1h0M152.1 321.2h0M154.8 319.4h0M155.3 319.5h0M151.6 320.2h0M156.0 316.4h0M158.7 319.1h0M138.0 331.8h0M135.9 322.4h0M134.9 323.5h0" stroke="#f08c22" stroke-width="2.40" stroke-linecap="round" fill="none"/>
<path d="M155.4 319.4h0" stroke="#e8561c" stroke-width="1.50" stroke-linecap="round" fill="none"/>
<path d="M157.0 318.9h0M155.9 321.4h0M138.5 331.4h0M138.8 327.3h0" stroke="#e8561c" stroke-width="2.25" stroke-linecap="round" fill="none"/>
<path d="M157.9 318.0h0M155.7 317.4h0M135.8 333.7h0M135.2 330.6h0M136.9 321.7h0M140.0 331.4h0M138.5 329.5h0" stroke="#e8561c" stroke-width="2.40" stroke-linecap="round" fill="none"/>
<path d="M158.3 316.8h0M156.2 317.2h0M152.7 321.8h0M153.3 320.5h0M159.8 318.3h0M161.4 318.5h0M158.0 319.2h0M152.5 319.0h0M153.0 316.6h0M157.8 318.6h0M136.0 335.5h0M141.1 333.7h0M138.8 326.3h0" stroke="#f08c22" stroke-width="1.50" stroke-linecap="round" fill="none"/>
<path d="M157.5 316.8h0M150.1 323.5h0" stroke="#e8561c" stroke-width="1.35" stroke-linecap="round" fill="none"/>
<path d="M156.9 316.7h0M155.3 317.0h0M159.0 318.4h0" stroke="#f08c22" stroke-width="2.70" stroke-linecap="round" fill="none"/>
<path d="M156.0 316.5h0M154.9 322.4h0M155.7 317.8h0M152.4 317.4h0M150.4 317.9h0M133.9 324.9h0M136.6 324.9h0M139.0 326.3h0M136.4 328.1h0" stroke="#f08c22" stroke-width="2.25" stroke-linecap="round" fill="none"/>
<path d="M154.8 316.2h0M153.9 322.5h0M152.9 319.7h0M157.0 318.0h0M154.1 318.3h0M154.7 318.1h0M157.7 318.4h0M135.4 329.9h0M136.0 323.3h0M136.0 328.3h0" stroke="#f08c22" stroke-width="2.55" stroke-linecap="round" fill="none"/>
<path d="M155.9 316.4h0M151.7 323.0h0M151.3 323.5h0M158.9 318.3h0" stroke="#e8561c" stroke-width="2.70" stroke-linecap="round" fill="none"/>
<path d="M157.0 317.6h0M157.2 318.6h0M156.9 320.5h0M151.4 322.9h0M152.9 319.2h0M148.3 319.2h0M152.3 318.4h0M134.8 324.5h0M139.6 329.4h0M138.9 328.6h0M138.8 325.6h0" stroke="#f08c22" stroke-width="1.35" stroke-linecap="round" fill="none"/>
<path d="M155.9 321.3h0M153.9 319.6h0M149.8 318.5h0M156.9 317.1h0M138.2 330.5h0M138.7 329.4h0M136.2 326.4h0" stroke="#f08c22" stroke-width="1.80" stroke-linecap="round" fill="none"/>
<path d="M152.3 322.5h0M159.8 318.5h0M134.2 322.8h0M134.6 328.6h0" stroke="#e8561c" stroke-width="1.95" stroke-linecap="round" fill="none"/>
<path d="M152.0 322.9h0M152.6 321.0h0M154.3 318.3h0M156.8 319.2h0M157.0 319.3h0M156.3 319.7h0M151.4 318.6h0M151.2 317.1h0M150.9 319.3h0M137.4 332.0h0M136.7 336.0h0M135.6 322.9h0M138.4 331.8h0M138.4 326.3h0" stroke="#f08c22" stroke-width="1.95" stroke-linecap="round" fill="none"/>
<path d="M152.1 321.7h0M158.6 318.6h0M154.8 319.4h0M152.6 320.2h0M149.5 319.0h0M136.9 333.9h0M137.0 323.4h0M141.0 332.4h0M139.1 327.4h0M134.8 326.4h0" stroke="#f08c22" stroke-width="2.10" stroke-linecap="round" fill="none"/>
<path d="M156.7 316.1h0M138.5 325.3h0M135.0 322.9h0M138.1 327.5h0" stroke="#e8561c" stroke-width="1.65" stroke-linecap="round" fill="none"/>
<path d="M156.4 317.1h0M149.5 318.7h0M151.1 318.0h0" stroke="#e8561c" stroke-width="2.10" stroke-linecap="round" fill="none"/>
<path d="M156.0 319.6h0M137.7 331.1h0M137.0 333.3h0M140.3 331.4h0" stroke="#e8561c" stroke-width="1.80" stroke-linecap="round" fill="none"/>
<path d="M160.1 319.4h0" stroke="#e8561c" stroke-width="2.55" stroke-linecap="round" fill="none"/>
<path d="M136.6 334.5h0M138.7 327.4h0M138.3 330.5h0M136.6 327.3h0" stroke="#f0cf1d" stroke-width="1.50" stroke-linecap="round" fill="none"/>
<path d="M136.0 332.5h0M139.0 331.5h0M139.8 330.8h0" stroke="#f0cf1d" stroke-width="2.40" stroke-linecap="round" fill="none"/>
<path d="M136.0 332.4h0M138.0 324.4h0M138.1 324.0h0M138.8 326.9h0M134.8 327.7h0" stroke="#f08c22" stroke-width="1.20" stroke-linecap="round" fill="none"/>
<path d="M135.3 330.8h0M138.3 328.0h0" stroke="#f0cf1d" stroke-width="2.25" stroke-linecap="round" fill="none"/>
<path d="M134.6 328.9h0M138.7 332.1h0M140.2 331.1h0M138.7 328.2h0" stroke="#f0cf1d" stroke-width="1.80" stroke-linecap="round" fill="none"/>
<path d="M136.2 329.6h0" stroke="#f0cf1d" stroke-width="2.10" stroke-linecap="round" fill="none"/>
<path d="M137.3 329.6h0" stroke="#f0cf1d" stroke-width="1.95" stroke-linecap="round" fill="none"/>
<path d="M138.9 328.3h0M139.7 332.8h0M135.8 327.4h0" stroke="#f0cf1d" stroke-width="1.35" stroke-linecap="round" fill="none"/>
<path d="M140.5 332.0h0" stroke="#f0cf1d" stroke-width="2.55" stroke-linecap="round" fill="none"/>
<path d="M137.6 326.2h0M137.5 326.9h0" stroke="#f0cf1d" stroke-width="1.20" stroke-linecap="round" fill="none"/>
<path d="M136.8 325.6h0" stroke="#f0cf1d" stroke-width="1.65" stroke-linecap="round" fill="none"/>
<path d="M160.9 301.9L163.4 301.1M163.4 301.1L163.4 303.3M163.4 303.3L163.9 304.4M178.6 321.3L179.5 322.5M180.2 321.3L180.9 321.7M180.9 321.7L180.9 322.4M178.6 321.3L177.2 322.0M179.8 323.4L180.3 326.3M180.3 326.3L180.4 326.5M180.4 326.5L180.7 326.6M181.3 334.4L182.0 333.7M178.0 335.9L178.7 336.2M176.1 336.3L174.7 335.9M176.1 336.3L177.2 337.5M175.1 334.3L173.7 334.3M181.1 337.9L180.9 340.1M180.5 342.3L178.5 342.0M177.1 341.9L176.8 342.5M176.8 342.5L177.3 342.7M176.8 342.5L176.2 343.0M173.3 342.9L173.2 344.5M177.1 341.9L177.4 339.8M170.5 335.0L170.7 333.5M169.3 333.8L169.0 333.9M170.9 335.5L169.3 336.5M168.5 332.3L166.3 331.2M162.8 330.9L160.8 331.9M160.8 331.9L160.2 330.1M165.7 339.5L167.1 340.3M165.7 339.5L164.4 341.1M160.7 341.0L159.6 341.5M167.0 343.1L167.8 343.7M157.8 336.5L158.1 336.3M122.6 343.1L122.9 343.5M122.6 343.1L122.1 343.2M122.1 343.2L121.6 342.3M121.6 342.3L121.8 342.2M122.9 343.5L123.2 344.5M123.6 342.5L124.8 341.5M124.8 341.5L124.9 341.0M123.2 344.5L124.4 345.6M125.6 342.2L127.2 342.0M124.4 345.6L126.1 344.8M127.2 342.0L129.9 342.5M143.8 355.1L145.0 353.6M145.0 353.6L143.9 351.7M145.8 349.7L144.7 348.9M141.5 349.4L140.3 349.8M145.8 349.7L148.2 350.1M135.9 347.3L134.8 347.2M133.9 350.0L133.6 349.8M134.8 356.3L135.1 357.6" stroke="#4fa848" stroke-width="0.25" stroke-opacity="0.55" fill="none"/>
<path d="M163.4 301.1L162.3 299.5M159.8 352.7L159.0 352.0M159.0 352.0L160.2 350.4M160.2 350.2L162.1 349.5M158.9 348.3L160.4 347.8M162.1 349.5L164.8 349.1M164.8 349.1L164.3 351.3M164.3 351.3L164.0 352.2M164.3 351.3L166.6 351.7M141.0 356.9L140.0 355.8M140.0 355.8L141.9 354.6M141.9 354.6L143.8 355.1M143.8 355.1L145.3 356.0M145.3 356.0L146.4 355.7M145.0 353.6L147.3 353.0M144.7 348.9L144.1 348.7M140.3 349.8L138.9 348.7M148.2 350.1L148.7 349.0M135.6 348.7L135.9 347.3M135.6 348.7L134.2 350.4M133.6 349.8L131.9 349.7M134.8 356.3L136.1 356.3" stroke="#d9301e" stroke-width="0.25" stroke-opacity="0.55" fill="none"/>
<path d="M160.0 313.9L157.5 314.7M157.5 314.7L156.5 316.0M157.1 313.1L155.9 314.2M160.2 319.4L158.7 321.5M160.0 313.9L163.5 313.4M156.2 321.3L153.0 323.7M153.0 323.7L150.7 320.1M150.7 320.1L150.9 317.9M158.9 353.1L159.8 352.7M160.2 350.4L160.2 350.2M160.2 350.2L158.9 348.3M141.0 356.9L142.4 357.4M142.4 357.4L143.4 359.0M141.9 354.6L141.7 353.5M146.4 355.7L146.5 355.7M143.9 351.7L145.8 349.7M144.1 348.7L143.2 348.0M143.2 348.0L141.5 349.4M138.9 348.7L135.6 348.7M134.2 350.4L133.9 350.0M134.2 350.4L133.2 353.5M133.2 353.5L134.8 356.3M135.1 357.6L135.5 358.6M135.5 358.6L135.9 359.1" stroke="#e8561c" stroke-width="0.25" stroke-opacity="0.55" fill="none"/>
<path d="M156.5 316.0L157.3 316.4M157.5 314.7L157.1 313.1M157.3 316.4L158.9 317.6M158.9 317.6L159.9 317.0M159.9 317.0L160.3 316.8M158.9 317.6L160.2 319.4M160.2 319.4L162.5 319.2M162.5 319.2L162.6 317.6M158.7 321.5L156.2 321.3M158.7 321.5L161.3 323.2M150.9 317.9L151.8 317.3M171.3 321.9L169.3 320.6M169.3 320.6L168.3 319.8M171.3 321.9L168.8 324.6M133.4 331.9L134.5 333.4M134.5 333.4L134.3 336.4M134.3 336.4L135.9 337.1M135.9 337.1L136.1 336.5M135.9 337.1L138.1 338.5M138.1 338.5L139.7 335.2M139.7 335.2L143.4 335.2M133.4 331.9L136.3 329.0M136.3 329.0L140.7 330.0" stroke="#f08c22" stroke-width="0.25" stroke-opacity="0.55" fill="none"/>
<path d="M168.3 319.8L167.6 320.7M168.8 324.6L167.9 324.4" stroke="#f0cf1d" stroke-width="0.25" stroke-opacity="0.55" fill="none"/>
<path d="M179.5 322.5L179.8 323.4M179.5 322.5L180.2 321.3" stroke="#b8d236" stroke-width="0.25" stroke-opacity="0.55" fill="none"/>
<path d="M179.7 334.1L181.3 334.4M182.0 333.7L182.4 333.0M181.3 334.4L181.4 335.7M179.7 334.1L178.2 333.3M178.2 333.3L178.0 333.6M178.0 333.6L177.0 335.6M177.0 335.6L178.0 335.9M177.0 335.6L176.1 336.3M174.7 335.9L175.1 334.3M180.9 340.1L180.0 339.9M176.2 343.0L175.9 342.7M176.2 343.0L175.8 344.2M176.3 345.3L176.8 344.9M177.0 345.2L177.5 345.6M173.9 339.7L174.0 339.5M173.2 344.5L173.4 345.2M170.9 335.5L170.5 335.0M170.7 333.5L169.3 333.3M169.3 333.3L169.3 333.8M169.3 333.3L168.5 332.3M170.2 332.1L169.5 330.4M167.5 335.6L166.0 335.8M175.1 334.3L174.5 331.2M164.3 333.7L162.8 330.9M165.2 336.1L165.7 339.5M167.1 340.3L169.0 340.6M160.7 341.0L161.7 342.1M157.2 339.4L157.8 336.5M123.6 342.5L122.6 343.1M123.6 342.5L123.3 341.0M124.8 341.5L125.6 342.2M127.2 342.0L127.5 339.2" stroke="#2b3f9f" stroke-width="0.25" stroke-opacity="0.55" fill="none"/>
<path d="M178.2 333.3L178.0 332.9M178.5 342.0L177.1 341.9M175.9 342.7L174.4 341.3M174.4 341.3L174.5 340.1M174.5 340.1L173.9 339.7M173.7 334.3L170.9 335.5M169.3 336.5L167.5 335.6M165.2 336.1L164.3 333.7M174.5 331.2L173.5 330.5M164.4 341.1L162.6 340.6M161.6 339.9L160.7 341.0M167.1 340.3L167.0 343.1M159.6 341.5L157.2 339.4" stroke="#2e8f7a" stroke-width="0.25" stroke-opacity="0.55" fill="none"/>
<path d="M181.4 335.7L181.1 337.9M180.9 340.1L180.5 342.3M180.5 342.3L180.7 343.8M175.8 344.2L176.3 345.3M176.8 344.9L177.0 345.2M174.4 341.3L173.3 342.9M173.3 342.9L172.5 342.5M169.3 333.3L170.2 332.1M166.0 335.8L165.2 336.1M162.6 340.6L161.6 339.9" stroke="#1f2c82" stroke-width="0.25" stroke-opacity="0.55" fill="none"/>
<path d="M160.9 301.9h0M163.9 304.4h0M166.3 331.2h0M176.8 342.5h0" stroke="#4fa848" stroke-width="1.65" stroke-linecap="round" fill="none"/>
<path d="M163.4 301.1h0M177.2 322.0h0M180.9 321.7h0M180.4 326.5h0M180.9 322.4h0M167.8 343.7h0M178.5 342.0h0M173.2 344.5h0M160.8 331.9h0M124.9 341.0h0M127.2 342.0h0M124.8 341.5h0M143.9 351.7h0M148.2 350.1h0" stroke="#4fa848" stroke-width="1.50" stroke-linecap="round" fill="none"/>
<path d="M163.4 303.3h0M179.5 322.5h0M182.0 333.7h0M170.7 333.5h0M164.4 341.1h0M169.3 336.5h0M129.9 342.5h0M122.1 343.2h0M126.1 344.8h0" stroke="#4fa848" stroke-width="1.05" stroke-linecap="round" fill="none"/>
<path d="M162.3 299.5h0M160.4 347.8h0M166.6 351.7h0M164.0 352.2h0M147.3 353.0h0" stroke="#d9301e" stroke-width="1.20" stroke-linecap="round" fill="none"/>
<path d="M160.0 313.9h0M158.9 317.6h0M160.3 316.8h0M169.3 320.6h0M134.3 336.4h0" stroke="#f08c22" stroke-width="1.35" stroke-linecap="round" fill="none"/>
<path d="M160.2 319.4h0M157.1 313.1h0M161.3 323.2h0M134.5 333.4h0M140.7 330.0h0M136.3 329.0h0" stroke="#f08c22" stroke-width="1.05" stroke-linecap="round" fill="none"/>
<path d="M156.5 316.0h0M163.5 313.4h0M158.7 321.5h0M133.2 353.5h0M145.8 349.7h0M142.4 357.4h0M135.6 348.7h0" stroke="#e8561c" stroke-width="1.05" stroke-linecap="round" fill="none"/>
<path d="M150.9 317.9h0M157.5 314.7h0M158.9 353.1h0M160.2 350.2h0M159.8 352.7h0M146.5 355.7h0M143.2 348.0h0M135.5 358.6h0" stroke="#e8561c" stroke-width="1.35" stroke-linecap="round" fill="none"/>
<path d="M157.3 316.4h0M156.2 321.3h0M162.5 319.2h0M168.8 324.6h0M143.4 335.2h0M136.1 336.5h0" stroke="#f08c22" stroke-width="1.20" stroke-linecap="round" fill="none"/>
<path d="M159.9 317.0h0M151.8 317.3h0M168.3 319.8h0" stroke="#f08c22" stroke-width="1.50" stroke-linecap="round" fill="none"/>
<path d="M155.9 314.2h0M153.0 323.7h0M143.4 359.0h0M141.7 353.5h0" stroke="#e8561c" stroke-width="1.20" stroke-linecap="round" fill="none"/>
<path d="M162.6 317.6h0M171.3 321.9h0M133.4 331.9h0M139.7 335.2h0M135.9 337.1h0" stroke="#f08c22" stroke-width="0.90" stroke-linecap="round" fill="none"/>
<path d="M150.7 320.1h0M158.9 348.3h0M133.9 350.0h0M135.9 359.1h0M141.5 349.4h0" stroke="#e8561c" stroke-width="1.50" stroke-linecap="round" fill="none"/>
<path d="M167.9 324.4h0M167.6 320.7h0" stroke="#f0cf1d" stroke-width="1.05" stroke-linecap="round" fill="none"/>
<path d="M178.6 321.3h0" stroke="#b8d236" stroke-width="0.90" stroke-linecap="round" fill="none"/>
<path d="M180.2 321.3h0" stroke="#b8d236" stroke-width="1.35" stroke-linecap="round" fill="none"/>
<path d="M180.3 326.3h0M174.7 335.9h0M178.7 336.2h0M160.2 330.1h0M180.9 340.1h0M121.6 342.3h0M123.2 344.5h0M121.8 342.2h0M133.6 349.8h0M140.3 349.8h0" stroke="#4fa848" stroke-width="0.90" stroke-linecap="round" fill="none"/>
<path d="M179.8 323.4h0" stroke="#b8d236" stroke-width="1.05" stroke-linecap="round" fill="none"/>
<path d="M180.7 326.6h0M158.1 336.3h0M169.0 333.9h0M123.6 342.5h0M124.4 345.6h0M134.8 347.2h0M145.0 353.6h0M144.7 348.9h0" stroke="#4fa848" stroke-width="1.35" stroke-linecap="round" fill="none"/>
<path d="M179.7 334.1h0M180.7 343.8h0M181.1 337.9h0M180.5 342.3h0M170.2 332.1h0M161.6 339.9h0" stroke="#1f2c82" stroke-width="1.20" stroke-linecap="round" fill="none"/>
<path d="M159.6 341.5h0M176.2 343.0h0M173.7 334.3h0M177.3 342.7h0" stroke="#4fa848" stroke-width="1.80" stroke-linecap="round" fill="none"/>
<path d="M166.0 335.8h0M162.8 330.9h0M161.7 342.1h0M169.0 340.6h0" stroke="#2b3f9f" stroke-width="1.65" stroke-linecap="round" fill="none"/>
<path d="M173.4 345.2h0M177.5 345.6h0M157.8 336.5h0M170.5 335.0h0M176.8 344.9h0M175.9 342.7h0" stroke="#2b3f9f" stroke-width="0.90" stroke-linecap="round" fill="none"/>
<path d="M173.3 342.9h0M165.2 336.1h0" stroke="#1f2c82" stroke-width="1.65" stroke-linecap="round" fill="none"/>
<path d="M182.4 333.0h0M181.4 335.7h0M175.8 344.2h0M169.3 333.8h0" stroke="#2b3f9f" stroke-width="1.50" stroke-linecap="round" fill="none"/>
<path d="M178.0 333.6h0M174.0 339.5h0M175.1 334.3h0M181.3 334.4h0" stroke="#2b3f9f" stroke-width="1.95" stroke-linecap="round" fill="none"/>
<path d="M177.0 335.6h0M180.0 339.9h0M165.7 339.5h0M169.3 333.3h0" stroke="#2b3f9f" stroke-width="1.35" stroke-linecap="round" fill="none"/>
<path d="M173.5 330.5h0M160.7 341.0h0" stroke="#2e8f7a" stroke-width="1.95" stroke-linecap="round" fill="none"/>
<path d="M170.9 335.5h0M173.9 339.7h0M167.0 343.1h0" stroke="#2e8f7a" stroke-width="1.35" stroke-linecap="round" fill="none"/>
<path d="M162.6 340.6h0M167.5 335.6h0M174.4 341.3h0" stroke="#2e8f7a" stroke-width="1.65" stroke-linecap="round" fill="none"/>
<path d="M177.4 339.8h0M177.2 337.5h0M167.1 340.3h0M122.9 343.5h0M135.1 357.6h0" stroke="#4fa848" stroke-width="1.20" stroke-linecap="round" fill="none"/>
<path d="M178.0 332.9h0M157.2 339.4h0" stroke="#2e8f7a" stroke-width="1.05" stroke-linecap="round" fill="none"/>
<path d="M172.5 342.5h0" stroke="#1f2c82" stroke-width="1.35" stroke-linecap="round" fill="none"/>
<path d="M174.5 331.2h0M178.2 333.3h0M127.5 339.2h0M123.3 341.0h0M122.6 343.1h0" stroke="#2b3f9f" stroke-width="1.20" stroke-linecap="round" fill="none"/>
<path d="M174.5 340.1h0" stroke="#2e8f7a" stroke-width="0.90" stroke-linecap="round" fill="none"/>
<path d="M177.1 341.9h0" stroke="#2e8f7a" stroke-width="1.20" stroke-linecap="round" fill="none"/>
<path d="M176.1 336.3h0M169.5 330.4h0M178.0 335.9h0" stroke="#2b3f9f" stroke-width="1.80" stroke-linecap="round" fill="none"/>
<path d="M164.3 333.7h0" stroke="#2e8f7a" stroke-width="1.50" stroke-linecap="round" fill="none"/>
<path d="M176.3 345.3h0" stroke="#1f2c82" stroke-width="1.05" stroke-linecap="round" fill="none"/>
<path d="M168.5 332.3h0M125.6 342.2h0" stroke="#2b3f9f" stroke-width="1.05" stroke-linecap="round" fill="none"/>
<path d="M177.0 345.2h0" stroke="#1f2c82" stroke-width="1.50" stroke-linecap="round" fill="none"/>
<path d="M162.1 349.5h0M164.8 349.1h0M160.2 350.4h0M141.0 356.9h0M148.7 349.0h0M138.9 348.7h0M146.4 355.7h0" stroke="#d9301e" stroke-width="1.35" stroke-linecap="round" fill="none"/>
<path d="M164.3 351.3h0M140.0 355.8h0M134.2 350.4h0M136.1 356.3h0M143.8 355.1h0" stroke="#d9301e" stroke-width="1.50" stroke-linecap="round" fill="none"/>
<path d="M159.0 352.0h0M144.1 348.7h0M131.9 349.7h0M135.9 347.3h0M141.9 354.6h0" stroke="#d9301e" stroke-width="1.05" stroke-linecap="round" fill="none"/>
<path d="M138.1 338.5h0" stroke="#f08c22" stroke-width="1.65" stroke-linecap="round" fill="none"/>
<path d="M145.3 356.0h0" stroke="#d9301e" stroke-width="0.90" stroke-linecap="round" fill="none"/>
<path d="M134.8 356.3h0" stroke="#e8561c" stroke-width="0.90" stroke-linecap="round" fill="none"/>
<text x="167.30" y="304.40" font-size="2.9" fill="#3a3a3a" textLength="14.4" lengthAdjust="spacingAndGlyphs">CD4+ CD8+</text>
<text x="140.40" y="310.40" font-size="2.9" fill="#3a3a3a" textLength="13.3" lengthAdjust="spacingAndGlyphs">CD4+ naive</text>
<text x="126.50" y="316.90" font-size="2.9" fill="#3a3a3a" textLength="13.9" lengthAdjust="spacingAndGlyphs">CD8+ naive</text>
<text x="173.10" y="313.70" font-size="2.9" fill="#3a3a3a" textLength="13.4" lengthAdjust="spacingAndGlyphs">CD4+ TCM</text>
<text x="183.70" y="324.20" font-size="2.9" fill="#3a3a3a" textLength="22.0" lengthAdjust="spacingAndGlyphs">CD4+ CD25+ TEM</text>
<text x="185.70" y="341.40" font-size="2.9" fill="#3a3a3a" textLength="12.4" lengthAdjust="spacingAndGlyphs">CD4+ TEM</text>
<text x="156.70" y="358.40" font-size="2.9" fill="#3a3a3a" textLength="13.5" lengthAdjust="spacingAndGlyphs">CD4- CD8-</text>
<text x="131.70" y="364.60" font-size="2.9" fill="#3a3a3a" textLength="12.5" lengthAdjust="spacingAndGlyphs">CD8+ TCM</text>
<text x="109.70" y="353.10" font-size="2.9" fill="#3a3a3a" textLength="12.4" lengthAdjust="spacingAndGlyphs">CD8+ TEM</text>
<text x="148.70" y="328.90" font-size="2.9" fill="#3a3a3a" textLength="5.0" lengthAdjust="spacingAndGlyphs">CD4+</text>
<text x="125.20" y="337.40" font-size="2.9" fill="#3a3a3a" textLength="5.0" lengthAdjust="spacingAndGlyphs">CD8+</text>
<defs>
<filter id="rough" x="-20%" y="-20%" width="140%" height="140%"><feTurbulence type="fractalNoise" baseFrequency="1.1" numOctaves="2" seed="4"/><feDisplacementMap in="SourceGraphic" scale="2.4" xChannelSelector="R" yChannelSelector="G"/></filter>
<filter id="fD" x="-20%" y="-20%" width="140%" height="140%"><feTurbulence type="fractalNoise" baseFrequency="1.1" numOctaves="2" seed="4"/><feDisplacementMap in="SourceGraphic" scale="2.4" xChannelSelector="R" yChannelSelector="G" result="d"/><feTurbulence type="fractalNoise" baseFrequency="1.3" numOctaves="1" seed="9"/><feColorMatrix type="matrix" values="0 0 0 0 0 0 0 0 0 0 0 0 0 0 0 0 0 0 -9 6.9" result="h"/><feComposite in="d" in2="h" operator="in"/></filter>
<filter id="fL" x="-20%" y="-20%" width="140%" height="140%"><feTurbulence type="fractalNoise" baseFrequency="1.1" numOctaves="2" seed="4"/><feDisplacementMap in="SourceGraphic" scale="2.6" xChannelSelector="R" yChannelSelector="G" result="d"/><feTurbulence type="fractalNoise" baseFrequency="1.3" numOctaves="1" seed="13"/><feColorMatrix type="matrix" values="0 0 0 0 0 0 0 0 0 0 0 0 0 0 0 0 0 0 -9 6.1" result="h"/><feComposite in="d" in2="h" operator="in"/></filter>
<linearGradient id="cbar" x1="0" y1="0" x2="0" y2="1">
<stop offset="0" stop-color="#7a0c12"/><stop offset="0.14" stop-color="#c4281f"/><stop offset="0.3" stop-color="#e2821e"/><stop offset="0.44" stop-color="#e6cf22"/><stop offset="0.56" stop-color="#8ab84a"/><stop offset="0.7" stop-color="#4f9fd4"/><stop offset="0.85" stop-color="#2f4ea2"/><stop offset="1" stop-color="#1c1c6a"/>
</linearGradient>
</defs>
<text x="241.50" y="293.30" font-size="5.4" text-anchor="start" fill="#1a1a1a" stroke="#1a1a1a" stroke-width="0.1" textLength="38.50" lengthAdjust="spacingAndGlyphs" >Tcl1 tg IRF4 +/+</text>
<text x="241.80" y="300.00" font-size="4.6" text-anchor="start" fill="#1a1a1a" stroke="#1a1a1a" stroke-width="0.1" textLength="27.20" lengthAdjust="spacingAndGlyphs" >Overlay N = 3</text>
<text x="302.80" y="293.30" font-size="5.4" text-anchor="start" fill="#1a1a1a" stroke="#1a1a1a" stroke-width="0.1" textLength="44.90" lengthAdjust="spacingAndGlyphs" >Tcl1 tg IRF4 ΔB/ΔB</text>
<text x="302.80" y="300.00" font-size="4.6" text-anchor="start" fill="#1a1a1a" stroke="#1a1a1a" stroke-width="0.1" textLength="27.20" lengthAdjust="spacingAndGlyphs" >Overlay N = 3</text>
<polygon filter="url(#rough)" points="261.8,307.3 262.7,305.9 268.9,304.9 273.7,307.3 275.1,311.1 274.6,316.8 272.7,320.6 268.9,321.1 265.1,320.1 261.8,319.2 260.8,314.9 261.3,310.2" fill="#cf7fc0" stroke="#cf7fc0" stroke-width="0.6" stroke-linejoin="round"/>
<polygon filter="url(#rough)" points="255.1,313.1 257.5,312.0 261.0,310.3 260.6,315.0 261.5,319.5 257.5,320.3 255.3,319.6 254.4,316.5" fill="#cf7fc0" stroke="#cf7fc0" stroke-width="0.6" stroke-linejoin="round"/>
<polygon filter="url(#rough)" points="252.5,312.4 255.4,312.8 255.9,317.6 254.9,321.4 254.0,325.2 252.1,325.7 251.3,323.3 252.5,319.0 251.9,315.2" fill="#83584c" stroke="#83584c" stroke-width="0.6" stroke-linejoin="round"/>
<polygon filter="url(#rough)" points="256.2,322.8 261.4,321.9 264.7,323.8 266.6,327.6 265.2,331.8 261.9,334.7 257.1,335.6 254.3,334.2 253.3,329.9 254.3,326.1" fill="#8d65b9" stroke="#8d65b9" stroke-width="0.6" stroke-linejoin="round"/>
<polygon filter="url(#rough)" points="272.3,324.4 277.1,323.9 280.9,323.0 283.7,325.4 286.6,328.2 287.0,333.9 285.6,338.7 281.8,341.5 278.0,343.4 274.7,341.5 271.4,336.8 269.5,331.1 269.0,327.3" fill="#e8801f" stroke="#e8801f" stroke-width="0.6" stroke-linejoin="round"/>
<polygon filter="url(#rough)" points="282.1,321.1 285.5,320.6 287.1,322.5 286.9,325.4 284.5,326.1 282.1,324.4" fill="#c8202a" stroke="#c8202a" stroke-width="0.6" stroke-linejoin="round"/>
<polygon filter="url(#rough)" points="273.2,338.6 276.1,340.0 279.9,339.1 282.2,337.7 281.8,341.0 278.9,343.8 275.1,344.3 272.8,341.9" fill="#3f9e3a" stroke="#3f9e3a" stroke-width="0.6" stroke-linejoin="round"/>
<polygon filter="url(#rough)" points="266.5,335.8 269.8,336.3 270.7,339.2 271.7,342.0 272.6,345.8 269.8,348.2 264.1,348.7 259.3,346.8 257.0,343.9 258.4,341.1 263.1,338.2" fill="#3b79c0" stroke="#3b79c0" stroke-width="0.6" stroke-linejoin="round"/>
<polygon filter="url(#rough)" points="278.9,317.2 281.0,316.0 282.9,315.1 282.4,316.5 280.1,317.9" fill="#7a6a6a" stroke="#7a6a6a" stroke-width="0.6" stroke-linejoin="round"/>
<path d="M248.7 321.3h0M247.0 320.8h0M249.2 322.0h0M249.2 322.1h0M249.3 327.3h0M250.5 330.9h0M250.8 332.0h0M247.2 334.3h0M247.0 333.5h0M244.3 326.7h0" stroke="#bcbc26" stroke-width="0.90" stroke-linecap="round" fill="none"/>
<path d="M246.3 320.4h0M245.2 321.4h0M249.2 324.4h0M250.2 326.5h0M249.2 326.6h0M249.9 329.6h0M251.1 331.6h0M248.7 334.8h0M247.7 335.2h0M244.8 331.0h0M245.4 323.6h0M244.5 323.7h0M245.7 322.4h0" stroke="#bcbc26" stroke-width="1.05" stroke-linecap="round" fill="none"/>
<path d="M249.3 323.5h0M245.2 329.1h0M245.0 326.7h0" stroke="#bcbc26" stroke-width="1.20" stroke-linecap="round" fill="none"/>
<path d="M249.1 324.3h0M251.1 330.8h0M251.1 332.4h0M249.8 334.1h0M246.5 334.3h0M246.4 333.2h0M245.1 331.6h0M245.3 331.0h0M245.8 322.8h0" stroke="#bcbc26" stroke-width="1.35" stroke-linecap="round" fill="none"/>
<path d="M244.8 328.1h0" stroke="#bcbc26" stroke-width="0.75" stroke-linecap="round" fill="none"/>
<path d="M284.2 333.1h0M274.9 330.2h0M271.0 327.7h0M285.1 336.1h0" stroke="#3f9e3a" stroke-width="0.90" stroke-linecap="round" fill="none"/>
<path d="M282.8 336.5h0M277.6 334.2h0M278.1 325.6h0M284.2 328.5h0M274.5 325.0h0" stroke="#3f9e3a" stroke-width="1.35" stroke-linecap="round" fill="none"/>
<path d="M279.8 329.1h0" stroke="#3f9e3a" stroke-width="0.75" stroke-linecap="round" fill="none"/>
<path d="M275.3 331.0h0M277.4 325.8h0M284.0 328.3h0M276.2 336.6h0" stroke="#3f9e3a" stroke-width="1.05" stroke-linecap="round" fill="none"/>
<path d="M276.7 339.3h0M273.8 328.9h0M279.2 332.0h0M274.2 330.5h0" stroke="#3f9e3a" stroke-width="1.20" stroke-linecap="round" fill="none"/>
<path d="M268.9 346.3h0" stroke="#e8801f" stroke-width="0.90" stroke-linecap="round" fill="none"/>
<path d="M268.2 345.4h0M265.4 338.7h0M262.1 341.4h0" stroke="#e8801f" stroke-width="0.75" stroke-linecap="round" fill="none"/>
<path d="M272.3 314.2h0M269.6 311.9h0M269.4 319.4h0M267.0 306.3h0M272.5 311.4h0M263.7 331.6h0M260.1 325.8h0M263.7 330.5h0M255.4 332.6h0M269.3 346.4h0M261.4 343.5h0M269.6 344.9h0M266.9 345.4h0M268.4 341.8h0" stroke="#ffffff" stroke-width="0.75" stroke-linecap="round" fill="none"/>
<path d="M274.2 313.6h0M266.3 306.3h0M270.7 315.6h0M264.9 308.0h0M269.3 306.4h0M269.1 313.3h0M268.5 307.2h0M256.1 331.8h0M262.9 323.2h0M264.0 324.5h0M263.8 332.1h0M260.8 329.7h0M258.1 329.9h0M268.8 337.4h0M261.1 340.7h0M270.6 341.8h0M259.8 342.9h0M259.7 343.0h0M269.0 340.3h0M258.8 341.4h0" stroke="#ffffff" stroke-width="0.90" stroke-linecap="round" fill="none"/>
<path d="M261.6 311.4h0M264.9 348.1h0M268.9 345.1h0" stroke="#ffffff" stroke-width="1.05" stroke-linecap="round" fill="none"/>
<path d="M262.1 312.6h0M263.1 315.2h0M261.8 333.7h0M262.0 324.1h0M259.3 342.4h0" stroke="#ffffff" stroke-width="0.60" stroke-linecap="round" fill="none"/>
<rect x="241.20" y="302.20" width="48.80" height="48.60" fill="none" stroke="#333" stroke-width="0.9"/>
<path d="M241.2 306.2h-1.0M245.3 350.8v1.0M241.2 310.3h-1.0M249.3 350.8v1.0M241.2 314.3h-1.0M253.4 350.8v1.0M241.2 318.4h-1.0M257.5 350.8v1.0M241.2 322.4h-1.0M261.5 350.8v1.0M241.2 326.5h-1.0M265.6 350.8v1.0M241.2 330.6h-1.0M269.7 350.8v1.0M241.2 334.6h-1.0M273.7 350.8v1.0M241.2 338.6h-1.0M277.8 350.8v1.0M241.2 342.7h-1.0M281.9 350.8v1.0M241.2 346.8h-1.0M285.9 350.8v1.0" stroke="#555" stroke-width="0.5"/>
<polygon filter="url(#rough)" points="323.3,307.3 324.3,305.9 330.5,304.9 335.2,307.3 336.6,311.1 336.1,316.8 334.3,320.6 330.5,321.1 326.7,320.1 323.3,319.2 322.4,314.9 322.9,310.2" fill="#cf7fc0" stroke="#cf7fc0" stroke-width="0.6" stroke-linejoin="round"/>
<polygon filter="url(#rough)" points="316.7,313.1 319.1,312.0 322.6,310.3 322.1,315.0 323.1,319.5 319.1,320.3 316.9,319.6 316.0,316.5" fill="#cf7fc0" stroke="#cf7fc0" stroke-width="0.6" stroke-linejoin="round"/>
<polygon filter="url(#rough)" points="314.1,312.4 317.0,312.8 317.4,317.6 316.5,321.4 315.5,325.2 313.6,325.7 312.9,323.3 314.1,319.0 313.5,315.2" fill="#83584c" stroke="#83584c" stroke-width="0.6" stroke-linejoin="round"/>
<polygon filter="url(#rough)" points="317.7,322.8 323.0,321.9 326.3,323.8 328.2,327.6 326.8,331.8 323.4,334.7 318.7,335.6 315.8,334.2 314.9,329.9 315.8,326.1" fill="#8d65b9" stroke="#8d65b9" stroke-width="0.6" stroke-linejoin="round"/>
<polygon filter="url(#rough)" points="333.8,324.4 338.6,323.9 342.4,323.0 345.2,325.4 348.1,328.2 348.5,333.9 347.1,338.7 343.3,341.5 339.5,343.4 336.2,341.5 332.9,336.8 331.0,331.1 330.5,327.3" fill="#e8801f" stroke="#e8801f" stroke-width="0.6" stroke-linejoin="round"/>
<polygon filter="url(#rough)" points="343.7,321.1 347.0,320.6 348.6,322.5 348.4,325.4 346.0,326.1 343.7,324.4" fill="#c8202a" stroke="#c8202a" stroke-width="0.6" stroke-linejoin="round"/>
<polygon filter="url(#rough)" points="334.8,338.6 337.6,340.0 341.4,339.1 343.8,337.7 343.3,341.0 340.4,343.8 336.7,344.3 334.3,341.9" fill="#3f9e3a" stroke="#3f9e3a" stroke-width="0.6" stroke-linejoin="round"/>
<polygon filter="url(#rough)" points="328.0,335.8 331.3,336.3 332.3,339.2 333.2,342.0 334.2,345.8 331.3,348.2 325.6,348.7 320.9,346.8 318.5,343.9 320.0,341.1 324.7,338.2" fill="#3b79c0" stroke="#3b79c0" stroke-width="0.6" stroke-linejoin="round"/>
<polygon filter="url(#rough)" points="340.4,317.2 342.5,316.0 344.4,315.1 343.9,316.5 341.6,317.9" fill="#7a6a6a" stroke="#7a6a6a" stroke-width="0.6" stroke-linejoin="round"/>
<path d="M308.9 321.0h0M307.6 319.9h0M307.4 320.8h0M310.6 328.0h0M311.5 330.1h0M311.3 334.5h0M308.1 334.5h0M306.1 330.3h0M307.0 327.2h0M305.8 325.1h0" stroke="#bcbc26" stroke-width="1.05" stroke-linecap="round" fill="none"/>
<path d="M310.0 320.9h0M311.9 324.1h0M308.0 333.3h0M307.4 334.9h0" stroke="#bcbc26" stroke-width="1.35" stroke-linecap="round" fill="none"/>
<path d="M309.2 321.7h0M310.9 324.7h0M310.0 321.2h0M310.7 327.1h0M310.9 334.2h0M309.1 334.8h0M308.1 332.7h0M306.6 330.9h0M306.0 329.9h0M306.5 328.6h0M307.0 322.1h0M305.9 323.8h0M307.0 323.6h0" stroke="#bcbc26" stroke-width="0.90" stroke-linecap="round" fill="none"/>
<path d="M310.9 329.4h0M311.1 327.7h0M312.0 329.0h0M311.9 331.7h0M312.5 332.3h0M311.5 333.2h0M309.9 333.6h0" stroke="#bcbc26" stroke-width="1.20" stroke-linecap="round" fill="none"/>
<path d="M308.2 333.5h0M305.9 327.7h0" stroke="#bcbc26" stroke-width="0.75" stroke-linecap="round" fill="none"/>
<path d="M341.7 339.9h0M342.4 339.6h0M346.4 327.7h0M332.6 333.4h0M335.6 331.0h0" stroke="#3f9e3a" stroke-width="1.20" stroke-linecap="round" fill="none"/>
<path d="M336.4 334.7h0M343.0 329.6h0M345.9 331.2h0" stroke="#3f9e3a" stroke-width="0.90" stroke-linecap="round" fill="none"/>
<path d="M347.3 334.1h0M334.8 328.1h0M340.8 336.8h0M344.8 326.9h0" stroke="#3f9e3a" stroke-width="1.05" stroke-linecap="round" fill="none"/>
<path d="M339.3 325.2h0M344.6 339.8h0M334.8 331.7h0M340.7 324.5h0M343.5 324.6h0" stroke="#3f9e3a" stroke-width="1.35" stroke-linecap="round" fill="none"/>
<path d="M336.4 338.7h0" stroke="#3f9e3a" stroke-width="0.75" stroke-linecap="round" fill="none"/>
<path d="M324.0 345.4h0M332.1 343.7h0" stroke="#e8801f" stroke-width="0.75" stroke-linecap="round" fill="none"/>
<path d="M329.1 340.2h0" stroke="#e8801f" stroke-width="0.60" stroke-linecap="round" fill="none"/>
<path d="M327.4 341.8h0" stroke="#e8801f" stroke-width="0.90" stroke-linecap="round" fill="none"/>
<path d="M325.4 313.4h0M332.0 309.2h0M327.2 314.0h0M326.9 309.6h0M331.0 311.5h0M327.9 316.1h0M322.5 324.8h0M323.0 326.5h0M332.9 343.7h0M325.1 346.3h0M326.9 341.8h0" stroke="#ffffff" stroke-width="0.60" stroke-linecap="round" fill="none"/>
<path d="M327.4 310.3h0M330.9 308.1h0M324.0 316.6h0M323.9 309.9h0M332.5 311.3h0M333.7 310.6h0M324.8 331.7h0M321.7 334.4h0M319.9 329.9h0M318.2 327.1h0M320.7 331.5h0M321.6 324.3h0M331.2 346.4h0M321.7 345.7h0M328.8 343.3h0M322.7 342.7h0M330.4 340.2h0" stroke="#ffffff" stroke-width="0.75" stroke-linecap="round" fill="none"/>
<path d="M327.0 312.8h0M332.4 312.0h0M330.4 313.1h0M333.3 314.5h0M324.4 315.9h0M335.0 314.1h0M333.0 316.0h0M319.7 333.0h0M318.6 331.1h0M323.5 333.2h0M324.3 325.0h0M325.6 347.1h0M328.4 340.6h0M333.4 344.4h0M330.7 340.9h0M325.9 340.4h0M327.0 340.2h0" stroke="#ffffff" stroke-width="0.90" stroke-linecap="round" fill="none"/>
<path d="M333.8 308.2h0M326.3 345.5h0" stroke="#ffffff" stroke-width="1.05" stroke-linecap="round" fill="none"/>
<rect x="302.80" y="302.20" width="48.70" height="48.60" fill="none" stroke="#333" stroke-width="0.9"/>
<path d="M302.8 306.2h-1.0M306.9 350.8v1.0M302.8 310.3h-1.0M310.9 350.8v1.0M302.8 314.3h-1.0M315.0 350.8v1.0M302.8 318.4h-1.0M319.0 350.8v1.0M302.8 322.4h-1.0M323.1 350.8v1.0M302.8 326.5h-1.0M327.2 350.8v1.0M302.8 330.6h-1.0M331.2 350.8v1.0M302.8 334.6h-1.0M335.3 350.8v1.0M302.8 338.6h-1.0M339.3 350.8v1.0M302.8 342.7h-1.0M343.4 350.8v1.0M302.8 346.8h-1.0M347.4 350.8v1.0" stroke="#555" stroke-width="0.5"/>
<text x="238.30" y="328.90" font-size="6.8" text-anchor="middle" fill="#1a1a1a" stroke="#1a1a1a" stroke-width="0.16" textLength="16.50" lengthAdjust="spacingAndGlyphs" transform="rotate(-90 238.30 328.90)" >tSNE2</text>
<text x="266.10" y="360.30" font-size="6.8" text-anchor="middle" fill="#1a1a1a" stroke="#1a1a1a" stroke-width="0.16" textLength="13.60" lengthAdjust="spacingAndGlyphs" >tSNE1</text>
<text x="327.40" y="360.30" font-size="6.8" text-anchor="middle" fill="#1a1a1a" stroke="#1a1a1a" stroke-width="0.16" textLength="13.60" lengthAdjust="spacingAndGlyphs" >tSNE1</text>
<rect x="241.80" y="366.00" width="4.30" height="2.00" fill="#8d65b9" stroke="none" stroke-width="0" />
<text x="248.00" y="369.00" font-size="5.3" text-anchor="start" fill="#1a1a1a" stroke="#1a1a1a" stroke-width="0.1" textLength="29.80" lengthAdjust="spacingAndGlyphs" >CD8+ Naive</text>
<rect x="241.80" y="371.75" width="4.30" height="2.00" fill="#6b4438" stroke="none" stroke-width="0" />
<text x="248.00" y="374.75" font-size="5.3" text-anchor="start" fill="#1a1a1a" stroke="#1a1a1a" stroke-width="0.1" textLength="26.90" lengthAdjust="spacingAndGlyphs" >CD8+ TEM</text>
<rect x="241.80" y="377.50" width="4.30" height="2.00" fill="#cf7fc0" stroke="none" stroke-width="0" />
<text x="248.00" y="380.50" font-size="5.3" text-anchor="start" fill="#1a1a1a" stroke="#1a1a1a" stroke-width="0.1" textLength="27.50" lengthAdjust="spacingAndGlyphs" >CD8+ TCM</text>
<rect x="241.80" y="383.25" width="4.30" height="2.00" fill="#777777" stroke="none" stroke-width="0" />
<text x="248.00" y="386.25" font-size="5.3" text-anchor="start" fill="#1a1a1a" stroke="#1a1a1a" stroke-width="0.1" textLength="30.10" lengthAdjust="spacingAndGlyphs" >CD4+ CD8+</text>
<rect x="241.80" y="389.00" width="4.30" height="2.00" fill="#b8b82a" stroke="none" stroke-width="0" />
<text x="248.00" y="392.00" font-size="5.3" text-anchor="start" fill="#1a1a1a" stroke="#1a1a1a" stroke-width="0.1" textLength="26.30" lengthAdjust="spacingAndGlyphs" >CD4- CD8-</text>
<rect x="287.70" y="366.00" width="4.30" height="2.00" fill="#3b79c0" stroke="none" stroke-width="0" />
<text x="293.90" y="369.00" font-size="5.3" text-anchor="start" fill="#1a1a1a" stroke="#1a1a1a" stroke-width="0.1" textLength="29.20" lengthAdjust="spacingAndGlyphs" >CD4+ Naive</text>
<rect x="287.70" y="371.75" width="4.30" height="2.00" fill="#e8801f" stroke="none" stroke-width="0" />
<text x="293.90" y="374.75" font-size="5.3" text-anchor="start" fill="#1a1a1a" stroke="#1a1a1a" stroke-width="0.1" textLength="26.80" lengthAdjust="spacingAndGlyphs" >CD4+ TEM</text>
<rect x="287.70" y="377.50" width="4.30" height="2.00" fill="#3f9e3a" stroke="none" stroke-width="0" />
<text x="293.90" y="380.50" font-size="5.3" text-anchor="start" fill="#1a1a1a" stroke="#1a1a1a" stroke-width="0.1" textLength="27.50" lengthAdjust="spacingAndGlyphs" >CD4+ TCM</text>
<rect x="287.70" y="383.25" width="4.30" height="2.00" fill="#c8202a" stroke="none" stroke-width="0" />
<text x="293.90" y="386.25" font-size="5.3" text-anchor="start" fill="#1a1a1a" stroke="#1a1a1a" stroke-width="0.1" textLength="29.20" lengthAdjust="spacingAndGlyphs" >CD4+ CD25</text>
<text x="373.70" y="293.20" font-size="5.4" text-anchor="start" fill="#1a1a1a" stroke="#1a1a1a" stroke-width="0.1" textLength="38.00" lengthAdjust="spacingAndGlyphs" >Tcl1 tg IRF4 +/+</text>
<text x="432.30" y="293.20" font-size="5.4" text-anchor="start" fill="#1a1a1a" stroke="#1a1a1a" stroke-width="0.1" textLength="43.70" lengthAdjust="spacingAndGlyphs" >Tcl1 tg IRF4 ΔB/ΔB</text>
<text x="373.60" y="299.50" font-size="4.0" text-anchor="start" fill="#1a1a1a" textLength="23.00" lengthAdjust="spacingAndGlyphs" stroke="none">CD4 145Nd</text>
<text x="432.30" y="299.50" font-size="4.0" text-anchor="start" fill="#1a1a1a" textLength="23.00" lengthAdjust="spacingAndGlyphs" stroke="none">CD4 145Nd</text>
<text x="373.80" y="359.30" font-size="4.0" text-anchor="start" fill="#1a1a1a" textLength="20.80" lengthAdjust="spacingAndGlyphs" stroke="none">CD8 168Er</text>
<text x="432.30" y="359.30" font-size="4.0" text-anchor="start" fill="#1a1a1a" textLength="20.80" lengthAdjust="spacingAndGlyphs" stroke="none">CD8 168Er</text>
<polygon filter="url(#fD)" points="389.5,305.2 390.2,304.1 395.0,303.4 398.6,305.2 399.7,308.1 399.3,312.5 397.9,315.4 395.0,315.7 392.0,315.0 389.5,314.3 388.7,311.0 389.1,307.4" fill="#262886" stroke="#262886" stroke-width="0.6" stroke-linejoin="round"/>
<polygon filter="url(#fD)" points="384.3,309.7 386.2,308.8 388.9,307.5 388.5,311.1 389.2,314.5 386.2,315.1 384.5,314.6 383.8,312.2" fill="#262886" stroke="#262886" stroke-width="0.6" stroke-linejoin="round"/>
<polygon filter="url(#fD)" points="382.3,309.1 384.5,309.4 384.9,313.0 384.2,315.9 383.4,318.8 382.0,319.2 381.4,317.4 382.3,314.1 381.8,311.2" fill="#262886" stroke="#262886" stroke-width="0.6" stroke-linejoin="round"/>
<polygon filter="url(#fD)" points="385.1,317.0 389.2,316.3 391.7,317.8 393.2,320.7 392.1,323.9 389.5,326.1 385.9,326.8 383.7,325.7 382.9,322.5 383.7,319.6" fill="#262886" stroke="#262886" stroke-width="0.6" stroke-linejoin="round"/>
<polygon filter="url(#fL)" points="397.6,318.3 401.2,317.9 404.2,317.2 406.4,319.0 408.6,321.2 408.9,325.5 407.8,329.1 404.9,331.3 402.0,332.8 399.4,331.3 396.8,327.7 395.4,323.3 395.0,320.4" fill="#e0583a" stroke="#e0583a" stroke-width="0.6" stroke-linejoin="round"/>
<polygon filter="url(#fD)" points="397.4,318.3 400.3,318.0 400.5,322.6 400.9,328.4 401.8,332.8 399.2,331.3 396.7,327.7 395.2,323.4 394.8,320.5" fill="#dc4a2e" stroke="#dc4a2e" stroke-width="0.6" stroke-linejoin="round"/>
<polygon filter="url(#fD)" points="405.1,315.7 407.7,315.4 408.9,316.8 408.8,319.0 407.0,319.5 405.1,318.3" fill="#d8401e" stroke="#d8401e" stroke-width="0.6" stroke-linejoin="round"/>
<polygon filter="url(#fL)" points="398.3,329.1 400.5,330.2 403.4,329.5 405.2,328.4 404.9,330.9 402.7,333.1 399.7,333.4 397.9,331.6" fill="#e0602c" stroke="#e0602c" stroke-width="0.6" stroke-linejoin="round"/>
<polygon filter="url(#fL)" points="393.1,327.0 395.6,327.3 396.4,329.5 397.1,331.7 397.8,334.6 395.6,336.4 391.2,336.8 387.6,335.3 385.7,333.1 386.8,331.0 390.5,328.8" fill="#ee9060" stroke="#ee9060" stroke-width="0.6" stroke-linejoin="round"/>
<polygon filter="url(#fD)" points="402.7,312.7 404.3,311.9 405.7,311.1 405.4,312.2 403.5,313.3" fill="#e9823a" stroke="#e9823a" stroke-width="0.6" stroke-linejoin="round"/>
<path d="M377.4 315.2h0M380.3 317.4h0M380.5 321.6h0M380.1 325.1h0M379.2 325.5h0M377.2 322.9h0M376.9 323.3h0M376.1 321.9h0" stroke="#33379a" stroke-width="1.20" stroke-linecap="round" fill="none"/>
<path d="M377.4 316.0h0M379.1 315.9h0M379.5 317.1h0M379.5 315.2h0M379.8 321.2h0M380.7 324.0h0M380.4 322.0h0M380.3 323.6h0M377.4 325.4h0M376.5 319.6h0" stroke="#33379a" stroke-width="1.05" stroke-linecap="round" fill="none"/>
<path d="M378.1 314.9h0M379.8 319.2h0M380.7 323.2h0M380.6 324.2h0M380.9 324.9h0M378.3 325.5h0M376.6 317.6h0" stroke="#33379a" stroke-width="1.35" stroke-linecap="round" fill="none"/>
<path d="M379.5 317.6h0M380.3 319.4h0M379.9 323.4h0M378.6 326.3h0M376.9 324.2h0M377.4 324.5h0M376.2 320.9h0M376.5 320.1h0M376.8 318.9h0M376.9 318.1h0M376.3 318.9h0" stroke="#33379a" stroke-width="0.90" stroke-linecap="round" fill="none"/>
<path d="M403.6 324.6h0M406.0 323.2h0M390.6 304.7h0M390.0 313.1h0M394.0 309.8h0M393.5 309.8h0M396.2 312.1h0M393.1 308.6h0M391.4 306.0h0M397.6 307.5h0M394.2 307.4h0M395.5 306.8h0M395.3 305.8h0M389.3 312.1h0M391.4 314.4h0M392.2 312.1h0M390.9 306.4h0M398.4 308.2h0M393.0 330.6h0M387.9 331.9h0M395.9 330.4h0" stroke="#ffffff" stroke-width="0.60" stroke-linecap="round" fill="none"/>
<path d="M401.4 318.5h0M401.4 328.9h0M404.6 329.0h0M402.2 324.8h0M403.1 324.8h0M401.5 325.6h0M392.0 331.4h0M392.8 330.1h0M391.9 331.4h0M388.2 332.9h0M389.3 333.4h0M392.0 332.2h0" stroke="#ffffff" stroke-width="0.90" stroke-linecap="round" fill="none"/>
<path d="M403.8 321.4h0M402.5 329.3h0" stroke="#f0c030" stroke-width="0.90" stroke-linecap="round" fill="none"/>
<path d="M401.2 331.3h0M402.0 324.5h0M406.3 328.6h0" stroke="#e9823a" stroke-width="0.60" stroke-linecap="round" fill="none"/>
<path d="M401.9 323.4h0M399.3 325.6h0M398.0 326.0h0M407.0 324.5h0M397.3 325.1h0M394.4 328.0h0" stroke="#ffffff" stroke-width="1.05" stroke-linecap="round" fill="none"/>
<path d="M400.0 321.7h0M400.6 320.0h0M403.3 319.9h0M404.1 321.1h0M402.4 318.6h0M397.7 319.3h0M405.6 326.0h0M404.6 321.4h0M392.0 330.5h0M393.9 328.4h0M395.1 332.1h0M387.4 332.4h0M387.8 333.6h0M390.8 332.0h0M392.1 332.4h0" stroke="#e9823a" stroke-width="0.75" stroke-linecap="round" fill="none"/>
<path d="M403.5 328.1h0M398.8 322.5h0M398.6 328.0h0M400.7 331.0h0M401.6 327.6h0M405.2 324.5h0" stroke="#e9823a" stroke-width="1.05" stroke-linecap="round" fill="none"/>
<path d="M408.2 322.3h0M406.6 329.3h0" stroke="#f0c030" stroke-width="0.60" stroke-linecap="round" fill="none"/>
<path d="M397.3 327.2h0M407.2 328.8h0M395.4 312.1h0M394.9 304.5h0M390.9 309.1h0M394.7 315.0h0M393.4 327.8h0M393.9 336.0h0M386.7 332.6h0M389.6 329.9h0M393.3 333.2h0" stroke="#ffffff" stroke-width="0.75" stroke-linecap="round" fill="none"/>
<path d="M406.1 320.1h0" stroke="#f0c030" stroke-width="1.05" stroke-linecap="round" fill="none"/>
<path d="M407.6 325.9h0M398.6 321.3h0M388.0 332.8h0M395.6 335.4h0M393.1 329.7h0" stroke="#e9823a" stroke-width="0.90" stroke-linecap="round" fill="none"/>
<path d="M403.6 322.5h0" stroke="#f0c030" stroke-width="0.75" stroke-linecap="round" fill="none"/>
<path d="M395.2 307.9h0M394.1 309.7h0M393.0 307.5h0M393.2 314.4h0M396.2 314.6h0M395.8 314.9h0M392.5 311.4h0M394.5 307.6h0M395.1 311.9h0M397.8 314.1h0M398.0 313.8h0M393.7 308.7h0M391.3 308.1h0M394.0 303.9h0M394.8 304.4h0M397.0 313.3h0M398.1 312.4h0M393.2 314.2h0M394.7 310.5h0M392.5 311.8h0" stroke="#ffffff" stroke-width="0.45" stroke-linecap="round" fill="none"/>
<rect x="373.60" y="301.30" width="37.60" height="37.10" fill="none" stroke="#333" stroke-width="0.8"/>
<path d="M373.6 304.4h-1.0M376.7 338.4v1.0M373.6 307.5h-1.0M379.9 338.4v1.0M373.6 310.6h-1.0M383.0 338.4v1.0M373.6 313.7h-1.0M386.1 338.4v1.0M373.6 316.8h-1.0M389.3 338.4v1.0M373.6 319.9h-1.0M392.4 338.4v1.0M373.6 322.9h-1.0M395.5 338.4v1.0M373.6 326.0h-1.0M398.7 338.4v1.0M373.6 329.1h-1.0M401.8 338.4v1.0M373.6 332.2h-1.0M404.9 338.4v1.0M373.6 335.3h-1.0M408.1 338.4v1.0" stroke="#555" stroke-width="0.5"/>
<polygon filter="url(#fL)" points="448.2,305.2 449.0,304.1 453.8,303.4 457.5,305.2 458.6,308.1 458.3,312.5 456.8,315.4 453.8,315.7 450.8,315.0 448.2,314.3 447.5,311.0 447.8,307.4" fill="#33379a" stroke="#33379a" stroke-width="0.6" stroke-linejoin="round"/>
<polygon filter="url(#fL)" points="443.0,309.7 444.9,308.8 447.6,307.5 447.3,311.1 448.0,314.5 444.9,315.1 443.2,314.6 442.4,312.2" fill="#33379a" stroke="#33379a" stroke-width="0.6" stroke-linejoin="round"/>
<polygon filter="url(#fD)" points="441.0,309.1 443.2,309.4 443.6,313.0 442.8,315.9 442.1,318.8 440.6,319.2 440.0,317.4 441.0,314.1 440.5,311.2" fill="#262886" stroke="#262886" stroke-width="0.6" stroke-linejoin="round"/>
<polygon filter="url(#fD)" points="443.8,317.0 447.9,316.3 450.5,317.8 452.0,320.7 450.9,323.9 448.3,326.1 444.6,326.8 442.3,325.7 441.6,322.5 442.3,319.6" fill="#262886" stroke="#262886" stroke-width="0.6" stroke-linejoin="round"/>
<polygon filter="url(#fL)" points="456.5,318.3 460.2,317.9 463.1,317.2 465.4,319.0 467.6,321.2 468.0,325.5 466.9,329.1 463.9,331.3 460.9,332.8 458.3,331.3 455.7,327.7 454.2,323.3 453.9,320.4" fill="#e4643a" stroke="#e4643a" stroke-width="0.6" stroke-linejoin="round"/>
<polygon filter="url(#fD)" points="456.3,318.3 459.2,318.0 459.4,322.6 459.8,328.4 460.7,332.8 458.1,331.3 455.5,327.7 454.0,323.4 453.7,320.5" fill="#e0583a" stroke="#e0583a" stroke-width="0.6" stroke-linejoin="round"/>
<polygon filter="url(#fD)" points="464.1,315.7 466.7,315.4 468.0,316.8 467.9,319.0 466.0,319.5 464.1,318.3" fill="#d8401e" stroke="#d8401e" stroke-width="0.6" stroke-linejoin="round"/>
<polygon filter="url(#fL)" points="457.2,329.1 459.4,330.2 462.4,329.5 464.2,328.4 463.9,330.9 461.6,333.1 458.7,333.4 456.8,331.6" fill="#e0602c" stroke="#e0602c" stroke-width="0.6" stroke-linejoin="round"/>
<polygon filter="url(#fD)" points="451.9,327.0 454.5,327.3 455.2,329.5 456.0,331.7 456.7,334.6 454.5,336.4 450.0,336.8 446.3,335.3 444.4,333.1 445.6,331.0 449.3,328.8" fill="#ea7c44" stroke="#ea7c44" stroke-width="0.6" stroke-linejoin="round"/>
<polygon filter="url(#fD)" points="461.6,312.7 463.3,311.9 464.7,311.1 464.4,312.2 462.5,313.3" fill="#e9823a" stroke="#e9823a" stroke-width="0.6" stroke-linejoin="round"/>
<path d="M435.9 315.8h0M437.8 316.8h0M439.0 318.3h0M438.9 321.4h0M440.1 323.9h0M439.8 323.2h0M438.0 324.7h0M437.3 325.2h0M434.9 321.7h0M435.6 322.5h0M434.9 319.8h0" stroke="#33379a" stroke-width="1.20" stroke-linecap="round" fill="none"/>
<path d="M436.8 315.9h0M438.1 315.3h0M439.4 319.2h0M439.9 323.3h0M434.9 324.0h0M435.7 324.6h0M435.7 316.1h0" stroke="#33379a" stroke-width="0.90" stroke-linecap="round" fill="none"/>
<path d="M435.9 315.2h0M438.0 324.6h0M439.3 324.8h0M436.0 326.1h0M436.4 325.3h0M435.1 325.3h0M435.2 325.4h0M435.7 317.9h0" stroke="#33379a" stroke-width="1.35" stroke-linecap="round" fill="none"/>
<path d="M437.2 315.5h0M437.4 316.9h0M437.5 315.1h0M439.7 323.2h0M438.7 324.9h0M437.9 325.3h0M436.3 316.0h0" stroke="#33379a" stroke-width="1.05" stroke-linecap="round" fill="none"/>
<path d="M438.4 319.2h0M434.8 320.4h0M435.1 318.8h0" stroke="#33379a" stroke-width="0.75" stroke-linecap="round" fill="none"/>
<path d="M466.1 327.7h0M463.5 321.2h0M458.7 325.5h0M461.0 329.2h0M458.5 324.9h0" stroke="#ffffff" stroke-width="1.05" stroke-linecap="round" fill="none"/>
<path d="M458.3 325.7h0M465.9 323.4h0M465.8 323.4h0M458.5 324.1h0M460.0 325.3h0M466.8 325.2h0M451.1 332.0h0M454.1 328.0h0M453.1 335.1h0M453.3 330.0h0" stroke="#ffffff" stroke-width="0.90" stroke-linecap="round" fill="none"/>
<path d="M463.0 326.4h0M463.7 320.7h0M464.5 321.4h0M463.0 326.0h0M464.8 323.0h0M463.0 328.9h0M451.6 311.3h0M453.2 308.6h0M456.6 312.6h0M454.4 313.5h0M452.1 306.8h0M452.3 313.7h0M456.9 305.9h0M456.3 334.3h0M449.0 333.0h0M450.0 331.7h0M453.4 333.3h0M455.0 331.8h0" stroke="#ffffff" stroke-width="0.75" stroke-linecap="round" fill="none"/>
<path d="M457.6 325.8h0M459.0 327.2h0M458.8 329.2h0M463.1 323.0h0M449.0 306.3h0M451.5 310.5h0M456.4 314.5h0M452.3 310.9h0M457.9 312.0h0M454.7 305.4h0M454.8 308.7h0M454.8 307.4h0M448.7 311.0h0M448.5 313.0h0M454.0 305.2h0M456.2 310.3h0M453.0 306.0h0M449.2 306.7h0M449.1 305.5h0M453.2 305.0h0M452.9 312.5h0M448.4 307.7h0M449.3 310.8h0M456.5 305.1h0M457.5 311.6h0M449.0 305.9h0M451.9 312.9h0M456.9 310.9h0M450.7 310.4h0M453.4 312.3h0M450.6 312.2h0M454.0 333.1h0M449.7 330.7h0M454.7 335.0h0M447.3 333.3h0" stroke="#ffffff" stroke-width="0.60" stroke-linecap="round" fill="none"/>
<path d="M456.4 326.9h0M464.4 329.0h0M460.6 326.3h0M457.2 319.2h0M454.3 332.5h0M455.6 333.2h0M454.2 329.6h0M448.5 331.6h0" stroke="#e9823a" stroke-width="0.90" stroke-linecap="round" fill="none"/>
<path d="M461.1 321.0h0M460.3 318.3h0M458.1 325.8h0M463.6 325.7h0M457.2 322.2h0M460.2 321.4h0M454.4 321.1h0M463.1 327.3h0M465.2 322.2h0M454.2 334.5h0M448.3 330.8h0M450.4 332.2h0M448.9 329.3h0M445.0 333.0h0" stroke="#e9823a" stroke-width="0.75" stroke-linecap="round" fill="none"/>
<path d="M456.8 319.9h0M462.7 326.5h0" stroke="#e9823a" stroke-width="1.05" stroke-linecap="round" fill="none"/>
<path d="M458.7 326.7h0" stroke="#f0c030" stroke-width="1.05" stroke-linecap="round" fill="none"/>
<path d="M462.9 327.9h0" stroke="#f0c030" stroke-width="0.75" stroke-linecap="round" fill="none"/>
<path d="M460.0 318.8h0M453.0 330.1h0M445.9 332.9h0M448.8 334.4h0" stroke="#e9823a" stroke-width="0.60" stroke-linecap="round" fill="none"/>
<path d="M458.8 328.2h0" stroke="#f0c030" stroke-width="0.60" stroke-linecap="round" fill="none"/>
<path d="M455.2 305.4h0M452.5 313.6h0M452.5 310.8h0M457.3 305.7h0M451.3 304.3h0M448.1 308.4h0M449.2 311.7h0M454.2 304.9h0M456.8 313.0h0M457.2 311.7h0M454.3 304.8h0M452.4 312.3h0M456.1 312.3h0M449.5 307.3h0M454.3 310.3h0M456.7 309.3h0M449.7 312.7h0M449.6 311.9h0M449.6 312.5h0M449.3 310.0h0M448.4 310.7h0M457.3 306.5h0M447.9 310.8h0M448.1 310.0h0M455.9 305.1h0M456.9 309.4h0" stroke="#ffffff" stroke-width="0.45" stroke-linecap="round" fill="none"/>
<rect x="432.10" y="301.30" width="38.20" height="37.10" fill="none" stroke="#333" stroke-width="0.8"/>
<path d="M432.1 304.4h-1.0M435.3 338.4v1.0M432.1 307.5h-1.0M438.5 338.4v1.0M432.1 310.6h-1.0M441.7 338.4v1.0M432.1 313.7h-1.0M444.8 338.4v1.0M432.1 316.8h-1.0M448.0 338.4v1.0M432.1 319.9h-1.0M451.2 338.4v1.0M432.1 322.9h-1.0M454.4 338.4v1.0M432.1 326.0h-1.0M457.6 338.4v1.0M432.1 329.1h-1.0M460.8 338.4v1.0M432.1 332.2h-1.0M463.9 338.4v1.0M432.1 335.3h-1.0M467.1 338.4v1.0" stroke="#555" stroke-width="0.5"/>
<polygon filter="url(#fD)" points="389.5,365.0 390.2,363.9 395.0,363.1 398.6,365.0 399.7,368.0 399.3,372.4 397.9,375.4 395.0,375.8 392.0,375.0 389.5,374.3 388.7,370.9 389.1,367.2" fill="#e2602a" stroke="#e2602a" stroke-width="0.6" stroke-linejoin="round"/>
<polygon filter="url(#fL)" points="384.3,369.6 386.2,368.7 388.9,367.3 388.5,371.0 389.2,374.5 386.2,375.1 384.5,374.6 383.8,372.2" fill="#e8862e" stroke="#e8862e" stroke-width="0.6" stroke-linejoin="round"/>
<polygon filter="url(#fL)" points="382.3,368.9 384.5,369.3 384.9,373.0 384.2,376.0 383.4,379.0 382.0,379.3 381.4,377.5 382.3,374.1 381.8,371.2" fill="#eca040" stroke="#eca040" stroke-width="0.6" stroke-linejoin="round"/>
<polygon filter="url(#fL)" points="385.1,377.1 389.2,376.4 391.7,377.9 393.2,380.8 392.1,384.2 389.5,386.4 385.9,387.1 383.7,386.0 382.9,382.7 383.7,379.7" fill="#e04a30" stroke="#e04a30" stroke-width="0.6" stroke-linejoin="round"/>
<polygon filter="url(#fD)" points="397.6,378.4 401.2,378.0 404.2,377.3 406.4,379.1 408.6,381.3 408.9,385.8 407.8,389.5 404.9,391.7 402.0,393.2 399.4,391.7 396.8,388.0 395.4,383.6 395.0,380.6" fill="#262886" stroke="#262886" stroke-width="0.6" stroke-linejoin="round"/>
<polygon filter="url(#fD)" points="405.1,375.8 407.7,375.4 408.9,376.9 408.8,379.1 407.0,379.7 405.1,378.4" fill="#262886" stroke="#262886" stroke-width="0.6" stroke-linejoin="round"/>
<polygon filter="url(#fD)" points="398.3,389.5 400.5,390.6 403.4,389.8 405.2,388.7 404.9,391.3 402.7,393.6 399.7,393.9 397.9,392.1" fill="#262886" stroke="#262886" stroke-width="0.6" stroke-linejoin="round"/>
<polygon filter="url(#fD)" points="393.1,387.3 395.6,387.7 396.4,389.9 397.1,392.1 397.8,395.1 395.6,397.0 391.2,397.3 387.6,395.8 385.7,393.6 386.8,391.4 390.5,389.2" fill="#262886" stroke="#262886" stroke-width="0.6" stroke-linejoin="round"/>
<polygon filter="url(#fD)" points="402.7,372.7 404.3,371.8 405.7,371.1 405.4,372.2 403.5,373.3" fill="#e9823a" stroke="#e9823a" stroke-width="0.6" stroke-linejoin="round"/>
<path d="M378.2 375.2h0M378.0 375.1h0M380.5 382.4h0M380.1 384.1h0M379.7 382.7h0M376.2 384.1h0M376.6 382.1h0M377.1 382.6h0M376.0 378.2h0" stroke="#33379a" stroke-width="0.90" stroke-linecap="round" fill="none"/>
<path d="M376.9 375.7h0M379.8 384.8h0M380.0 385.8h0M379.3 386.4h0M377.3 383.0h0M376.7 377.5h0M377.4 376.6h0" stroke="#33379a" stroke-width="1.35" stroke-linecap="round" fill="none"/>
<path d="M377.9 376.0h0M379.3 375.5h0M379.7 375.5h0M380.6 378.4h0M380.2 379.7h0M380.0 385.6h0M379.4 385.7h0M377.2 386.3h0M377.2 384.2h0M375.9 378.7h0M377.7 376.0h0" stroke="#33379a" stroke-width="1.20" stroke-linecap="round" fill="none"/>
<path d="M379.3 376.7h0M380.0 379.6h0M379.8 378.9h0M380.7 381.7h0M380.3 383.9h0M379.6 386.4h0M378.9 386.3h0M376.7 384.1h0M376.2 382.6h0" stroke="#33379a" stroke-width="1.05" stroke-linecap="round" fill="none"/>
<path d="M394.0 374.0h0M391.0 371.7h0M396.7 373.3h0M396.5 367.0h0" stroke="#e9823a" stroke-width="0.75" stroke-linecap="round" fill="none"/>
<path d="M393.9 372.1h0M389.8 367.9h0M393.6 370.4h0M394.4 370.6h0M392.8 373.9h0" stroke="#e9823a" stroke-width="0.90" stroke-linecap="round" fill="none"/>
<path d="M391.3 366.2h0" stroke="#ffffff" stroke-width="0.90" stroke-linecap="round" fill="none"/>
<path d="M394.6 371.0h0M398.0 372.9h0M395.7 364.6h0M392.1 368.0h0" stroke="#f0c030" stroke-width="0.75" stroke-linecap="round" fill="none"/>
<path d="M394.3 373.6h0M394.6 366.0h0M393.7 366.0h0M395.8 371.2h0M389.7 366.8h0" stroke="#e9823a" stroke-width="1.05" stroke-linecap="round" fill="none"/>
<path d="M397.9 368.6h0M394.1 374.6h0M393.8 367.8h0M392.9 370.9h0" stroke="#f0c030" stroke-width="0.60" stroke-linecap="round" fill="none"/>
<path d="M390.7 373.4h0M396.5 369.0h0M398.2 367.9h0M393.8 374.8h0M392.6 367.5h0M391.3 369.6h0M397.6 370.8h0" stroke="#ffffff" stroke-width="1.05" stroke-linecap="round" fill="none"/>
<path d="M391.8 371.5h0M390.4 367.8h0M398.3 365.8h0M406.0 389.8h0M401.3 389.9h0M405.3 384.8h0M401.7 381.2h0M408.2 385.2h0M403.3 384.1h0M399.6 390.2h0M398.9 388.0h0M396.5 384.1h0M402.8 380.0h0M402.7 386.6h0M401.7 386.9h0M406.1 380.1h0M400.8 391.1h0M396.9 382.6h0M398.7 381.6h0M400.8 386.0h0M401.2 390.4h0M390.4 394.4h0M390.9 394.2h0M392.2 391.9h0M394.7 388.6h0M390.4 390.9h0M392.1 393.9h0M396.7 394.9h0M391.7 391.4h0" stroke="#ffffff" stroke-width="0.60" stroke-linecap="round" fill="none"/>
<path d="M390.4 370.4h0" stroke="#e9823a" stroke-width="0.60" stroke-linecap="round" fill="none"/>
<path d="M391.9 364.6h0M396.9 369.8h0M390.2 369.4h0M403.6 378.5h0M401.7 387.7h0M405.3 382.5h0M397.3 386.1h0M400.4 378.5h0M391.8 391.7h0M393.5 396.3h0" stroke="#ffffff" stroke-width="0.75" stroke-linecap="round" fill="none"/>
<path d="M389.8 372.4h0M392.9 365.4h0M390.7 371.3h0" stroke="#f0c030" stroke-width="1.05" stroke-linecap="round" fill="none"/>
<path d="M401.6 389.1h0M399.3 385.9h0M403.3 389.9h0M400.8 386.6h0M398.1 381.0h0M403.0 387.9h0M402.9 387.6h0M405.1 390.9h0M406.7 383.1h0M406.5 385.2h0M402.0 390.2h0M399.3 388.0h0M400.9 381.7h0M396.7 381.4h0M399.3 390.5h0M397.5 386.4h0M406.5 388.3h0M390.2 393.6h0M396.1 390.6h0M389.9 391.1h0M392.3 395.3h0M396.7 394.6h0M386.9 392.4h0M395.2 388.2h0M391.2 390.0h0M393.7 390.7h0M390.8 395.7h0" stroke="#ffffff" stroke-width="0.45" stroke-linecap="round" fill="none"/>
<rect x="373.60" y="361.00" width="37.60" height="38.00" fill="none" stroke="#333" stroke-width="0.8"/>
<path d="M373.6 364.2h-1.0M376.7 399.0v1.0M373.6 367.3h-1.0M379.9 399.0v1.0M373.6 370.5h-1.0M383.0 399.0v1.0M373.6 373.7h-1.0M386.1 399.0v1.0M373.6 376.8h-1.0M389.3 399.0v1.0M373.6 380.0h-1.0M392.4 399.0v1.0M373.6 383.2h-1.0M395.5 399.0v1.0M373.6 386.3h-1.0M398.7 399.0v1.0M373.6 389.5h-1.0M401.8 399.0v1.0M373.6 392.7h-1.0M404.9 399.0v1.0M373.6 395.8h-1.0M408.1 399.0v1.0" stroke="#555" stroke-width="0.5"/>
<polygon filter="url(#fL)" points="448.4,365.0 449.1,363.9 454.0,363.1 457.7,365.0 458.9,368.0 458.5,372.4 457.0,375.4 454.0,375.8 451.0,375.0 448.4,374.3 447.7,370.9 448.0,367.2" fill="#ec8e5a" stroke="#ec8e5a" stroke-width="0.6" stroke-linejoin="round"/>
<polygon filter="url(#fL)" points="443.2,369.6 445.0,368.7 447.8,367.3 447.4,371.0 448.2,374.5 445.0,375.1 443.3,374.6 442.6,372.2" fill="#e87a3a" stroke="#e87a3a" stroke-width="0.6" stroke-linejoin="round"/>
<polygon filter="url(#fL)" points="441.1,368.9 443.4,369.3 443.7,373.0 443.0,376.0 442.2,379.0 440.8,379.3 440.2,377.5 441.1,374.1 440.6,371.2" fill="#e87a3a" stroke="#e87a3a" stroke-width="0.6" stroke-linejoin="round"/>
<polygon filter="url(#fD)" points="444.0,377.1 448.1,376.4 450.7,377.9 452.2,380.8 451.1,384.2 448.5,386.4 444.7,387.1 442.5,386.0 441.7,382.7 442.5,379.7" fill="#d0302a" stroke="#d0302a" stroke-width="0.6" stroke-linejoin="round"/>
<polygon filter="url(#fD)" points="456.7,378.4 460.4,378.0 463.4,377.3 465.7,379.1 467.9,381.3 468.3,385.8 467.1,389.5 464.2,391.7 461.2,393.2 458.6,391.7 455.9,388.0 454.4,383.6 454.1,380.6" fill="#262886" stroke="#262886" stroke-width="0.6" stroke-linejoin="round"/>
<polygon filter="url(#fD)" points="464.4,375.8 467.0,375.4 468.3,376.9 468.1,379.1 466.3,379.7 464.4,378.4" fill="#262886" stroke="#262886" stroke-width="0.6" stroke-linejoin="round"/>
<polygon filter="url(#fD)" points="457.4,389.5 459.6,390.6 462.6,389.8 464.5,388.7 464.1,391.3 461.9,393.6 458.9,393.9 457.0,392.1" fill="#262886" stroke="#262886" stroke-width="0.6" stroke-linejoin="round"/>
<polygon filter="url(#fD)" points="452.1,387.3 454.7,387.7 455.4,389.9 456.2,392.1 456.9,395.1 454.7,397.0 450.2,397.3 446.5,395.8 444.6,393.6 445.7,391.4 449.5,389.2" fill="#262886" stroke="#262886" stroke-width="0.6" stroke-linejoin="round"/>
<polygon filter="url(#fD)" points="461.9,372.7 463.5,371.8 465.0,371.1 464.6,372.2 462.8,373.3" fill="#e9823a" stroke="#e9823a" stroke-width="0.6" stroke-linejoin="round"/>
<path d="M437.2 376.1h0M439.2 378.1h0M439.3 378.4h0M438.6 382.1h0M439.4 381.3h0M439.5 384.1h0M437.8 386.4h0M436.7 386.0h0M436.0 386.0h0" stroke="#33379a" stroke-width="1.20" stroke-linecap="round" fill="none"/>
<path d="M435.7 375.1h0M437.4 376.0h0M436.5 385.3h0M435.5 383.8h0M435.5 377.5h0" stroke="#33379a" stroke-width="0.75" stroke-linecap="round" fill="none"/>
<path d="M436.4 375.9h0M437.9 377.6h0M439.4 377.8h0M439.6 378.5h0M439.7 382.8h0M438.3 386.7h0M437.5 385.9h0M435.9 385.0h0M436.3 377.1h0" stroke="#33379a" stroke-width="1.05" stroke-linecap="round" fill="none"/>
<path d="M436.8 375.3h0M439.7 382.9h0M439.4 381.8h0M435.6 378.4h0" stroke="#33379a" stroke-width="1.35" stroke-linecap="round" fill="none"/>
<path d="M440.1 383.9h0M439.4 384.8h0M436.8 385.4h0M434.7 382.7h0M434.8 382.1h0M435.3 380.0h0M434.7 379.3h0M434.6 378.3h0M436.6 376.0h0" stroke="#33379a" stroke-width="0.90" stroke-linecap="round" fill="none"/>
<path d="M457.6 367.4h0M451.6 368.6h0M452.7 367.8h0M449.0 367.7h0M452.3 374.2h0M454.9 371.9h0M455.4 372.4h0M451.7 372.6h0M454.7 371.3h0M455.5 365.4h0M457.7 372.4h0M448.6 373.3h0M452.1 367.9h0M452.3 363.8h0M456.3 372.8h0M464.9 379.9h0M460.0 388.4h0M459.8 391.0h0M452.7 388.5h0M456.0 394.0h0M453.8 395.9h0M451.0 394.9h0" stroke="#ffffff" stroke-width="0.75" stroke-linecap="round" fill="none"/>
<path d="M456.9 366.5h0M455.5 368.4h0M448.2 370.6h0M449.9 373.4h0M449.1 371.7h0M453.3 367.4h0M454.5 367.1h0M448.8 367.8h0M456.8 368.3h0M455.7 371.5h0M453.7 369.2h0M449.7 364.3h0M453.7 371.7h0M454.4 369.6h0" stroke="#ffffff" stroke-width="0.90" stroke-linecap="round" fill="none"/>
<path d="M454.8 364.9h0M451.4 372.9h0M455.5 369.2h0M450.6 371.5h0M453.7 368.9h0M449.7 368.2h0M458.0 371.2h0M459.0 390.3h0M459.8 387.1h0M456.5 381.5h0M463.6 387.1h0M457.6 379.1h0M466.3 382.0h0M455.8 386.2h0M461.7 385.0h0M460.1 387.9h0M455.4 382.7h0M465.4 386.0h0M455.8 383.7h0M463.4 381.3h0M464.3 382.2h0M460.3 392.0h0M462.7 379.8h0M461.9 385.7h0M463.0 379.6h0M463.7 385.8h0M462.4 378.9h0M453.2 389.6h0M455.0 390.6h0M454.6 391.4h0M451.3 391.3h0M450.3 390.2h0M452.9 388.2h0M454.9 393.1h0M453.8 389.1h0M455.0 394.7h0" stroke="#ffffff" stroke-width="0.60" stroke-linecap="round" fill="none"/>
<path d="M452.4 369.0h0M454.1 363.8h0M449.6 364.9h0M457.5 367.7h0M449.1 372.4h0M455.7 371.9h0M455.4 369.0h0M448.8 370.9h0M457.5 372.0h0M454.6 365.9h0M449.5 369.1h0M454.4 365.8h0M455.7 369.3h0" stroke="#ffffff" stroke-width="1.05" stroke-linecap="round" fill="none"/>
<path d="M456.1 370.5h0M454.7 374.3h0M455.4 369.3h0" stroke="#f0c030" stroke-width="1.05" stroke-linecap="round" fill="none"/>
<path d="M454.1 374.2h0M456.4 368.2h0M452.3 366.6h0M456.5 373.4h0M452.5 374.9h0" stroke="#f0c030" stroke-width="0.90" stroke-linecap="round" fill="none"/>
<path d="M450.3 374.0h0M454.3 375.3h0M451.5 365.5h0" stroke="#f0c030" stroke-width="0.60" stroke-linecap="round" fill="none"/>
<path d="M460.5 379.1h0M462.9 386.9h0M461.7 380.4h0M462.9 387.9h0M463.4 386.9h0M460.6 385.0h0M455.2 382.2h0M458.1 389.1h0M463.6 388.6h0M467.6 382.5h0M458.9 385.3h0M463.5 391.5h0M460.6 378.9h0M455.9 384.7h0M461.0 378.8h0M459.9 380.4h0M457.8 386.1h0M453.4 391.4h0M450.0 389.4h0M452.6 389.3h0M454.0 394.9h0M454.4 394.8h0M447.4 393.0h0M452.3 391.0h0" stroke="#ffffff" stroke-width="0.45" stroke-linecap="round" fill="none"/>
<rect x="432.20" y="361.00" width="38.40" height="38.00" fill="none" stroke="#333" stroke-width="0.8"/>
<path d="M432.2 364.2h-1.0M435.4 399.0v1.0M432.2 367.3h-1.0M438.6 399.0v1.0M432.2 370.5h-1.0M441.8 399.0v1.0M432.2 373.7h-1.0M445.0 399.0v1.0M432.2 376.8h-1.0M448.2 399.0v1.0M432.2 380.0h-1.0M451.4 399.0v1.0M432.2 383.2h-1.0M454.6 399.0v1.0M432.2 386.3h-1.0M457.8 399.0v1.0M432.2 389.5h-1.0M461.0 399.0v1.0M432.2 392.7h-1.0M464.2 399.0v1.0M432.2 395.8h-1.0M467.4 399.0v1.0" stroke="#555" stroke-width="0.5"/>
<rect x="411.90" y="301.20" width="2.10" height="37.20" fill="url(#cbar)" stroke="#555" stroke-width="0.3"/>
<line x1="414.00" y1="301.20" x2="415.00" y2="301.20" stroke="#555" stroke-width="0.4"/>
<text x="416.60" y="302.42" font-size="3.4" text-anchor="start" fill="#333" >934.4</text>
<line x1="414.00" y1="310.50" x2="415.00" y2="310.50" stroke="#555" stroke-width="0.4"/>
<text x="416.60" y="311.72" font-size="3.4" text-anchor="start" fill="#333" >212.4</text>
<line x1="414.00" y1="319.80" x2="415.00" y2="319.80" stroke="#555" stroke-width="0.4"/>
<text x="416.60" y="321.02" font-size="3.4" text-anchor="start" fill="#333" >48.2</text>
<line x1="414.00" y1="329.10" x2="415.00" y2="329.10" stroke="#555" stroke-width="0.4"/>
<text x="416.60" y="330.32" font-size="3.4" text-anchor="start" fill="#333" >10.42</text>
<line x1="414.00" y1="338.40" x2="415.00" y2="338.40" stroke="#555" stroke-width="0.4"/>
<text x="416.60" y="339.62" font-size="3.4" text-anchor="start" fill="#333" >0</text>
<rect x="470.80" y="301.20" width="2.10" height="37.20" fill="url(#cbar)" stroke="#555" stroke-width="0.3"/>
<line x1="472.90" y1="301.20" x2="473.90" y2="301.20" stroke="#555" stroke-width="0.4"/>
<text x="475.50" y="302.42" font-size="3.4" text-anchor="start" fill="#333" >934.4</text>
<line x1="472.90" y1="310.50" x2="473.90" y2="310.50" stroke="#555" stroke-width="0.4"/>
<text x="475.50" y="311.72" font-size="3.4" text-anchor="start" fill="#333" >212.4</text>
<line x1="472.90" y1="319.80" x2="473.90" y2="319.80" stroke="#555" stroke-width="0.4"/>
<text x="475.50" y="321.02" font-size="3.4" text-anchor="start" fill="#333" >48.2</text>
<line x1="472.90" y1="329.10" x2="473.90" y2="329.10" stroke="#555" stroke-width="0.4"/>
<text x="475.50" y="330.32" font-size="3.4" text-anchor="start" fill="#333" >10.42</text>
<line x1="472.90" y1="338.40" x2="473.90" y2="338.40" stroke="#555" stroke-width="0.4"/>
<text x="475.50" y="339.62" font-size="3.4" text-anchor="start" fill="#333" >0</text>
<rect x="411.90" y="361.00" width="2.10" height="38.00" fill="url(#cbar)" stroke="#555" stroke-width="0.3"/>
<line x1="414.00" y1="361.00" x2="415.00" y2="361.00" stroke="#555" stroke-width="0.4"/>
<text x="416.60" y="362.22" font-size="3.4" text-anchor="start" fill="#333" >1946</text>
<line x1="414.00" y1="370.50" x2="415.00" y2="370.50" stroke="#555" stroke-width="0.4"/>
<text x="416.60" y="371.72" font-size="3.4" text-anchor="start" fill="#333" >368.6</text>
<line x1="414.00" y1="380.00" x2="415.00" y2="380.00" stroke="#555" stroke-width="0.4"/>
<text x="416.60" y="381.22" font-size="3.4" text-anchor="start" fill="#333" >69.66</text>
<line x1="414.00" y1="389.50" x2="415.00" y2="389.50" stroke="#555" stroke-width="0.4"/>
<text x="416.60" y="390.72" font-size="3.4" text-anchor="start" fill="#333" >12.73</text>
<line x1="414.00" y1="399.00" x2="415.00" y2="399.00" stroke="#555" stroke-width="0.4"/>
<text x="416.60" y="400.22" font-size="3.4" text-anchor="start" fill="#333" >0</text>
<rect x="470.80" y="361.00" width="2.10" height="38.00" fill="url(#cbar)" stroke="#555" stroke-width="0.3"/>
<line x1="472.90" y1="361.00" x2="473.90" y2="361.00" stroke="#555" stroke-width="0.4"/>
<text x="475.50" y="362.22" font-size="3.4" text-anchor="start" fill="#333" >1946</text>
<line x1="472.90" y1="370.50" x2="473.90" y2="370.50" stroke="#555" stroke-width="0.4"/>
<text x="475.50" y="371.72" font-size="3.4" text-anchor="start" fill="#333" >368.6</text>
<line x1="472.90" y1="380.00" x2="473.90" y2="380.00" stroke="#555" stroke-width="0.4"/>
<text x="475.50" y="381.22" font-size="3.4" text-anchor="start" fill="#333" >69.66</text>
<line x1="472.90" y1="389.50" x2="473.90" y2="389.50" stroke="#555" stroke-width="0.4"/>
<text x="475.50" y="390.72" font-size="3.4" text-anchor="start" fill="#333" >12.73</text>
<line x1="472.90" y1="399.00" x2="473.90" y2="399.00" stroke="#555" stroke-width="0.4"/>
<text x="475.50" y="400.22" font-size="3.4" text-anchor="start" fill="#333" >0</text>
<line x1="369.20" y1="301.10" x2="369.20" y2="399.00" stroke="#777" stroke-width="1.1"/>
<text x="367.00" y="352.70" font-size="6.4" text-anchor="middle" fill="#1a1a1a" stroke="#1a1a1a" stroke-width="0.16" textLength="13.00" lengthAdjust="spacingAndGlyphs" transform="rotate(-90 367.00 352.70)" >tSNE2</text>
<text x="392.20" y="407.70" font-size="6.3" text-anchor="middle" fill="#1a1a1a" stroke="#1a1a1a" stroke-width="0.16" textLength="13.60" lengthAdjust="spacingAndGlyphs" >tSNE1</text>
<text x="452.00" y="407.70" font-size="6.3" text-anchor="middle" fill="#1a1a1a" stroke="#1a1a1a" stroke-width="0.16" textLength="13.10" lengthAdjust="spacingAndGlyphs" >tSNE1</text>
<text x="30.60" y="441.50" font-size="5.6" text-anchor="start" fill="#1a1a1a" stroke="#1a1a1a" stroke-width="0.1" textLength="38.30" lengthAdjust="spacingAndGlyphs" >Tcl1 tg IRF4 +/+</text>
<text x="101.20" y="441.50" font-size="5.6" text-anchor="start" fill="#1a1a1a" stroke="#1a1a1a" stroke-width="0.1" textLength="45.00" lengthAdjust="spacingAndGlyphs" >Tcl1 tg IRF4 ΔB/ΔB</text>
<text x="30.60" y="448.40" font-size="4.6" text-anchor="start" fill="#222" textLength="28.30" lengthAdjust="spacingAndGlyphs" stroke="none">CD223 170Er</text>
<text x="101.20" y="448.40" font-size="4.6" text-anchor="start" fill="#222" textLength="28.30" lengthAdjust="spacingAndGlyphs" stroke="none">CD223 170Er</text>
<text x="30.60" y="511.00" font-size="4.6" text-anchor="start" fill="#222" textLength="27.10" lengthAdjust="spacingAndGlyphs" stroke="none">CD244 174Yb</text>
<text x="101.20" y="511.00" font-size="4.6" text-anchor="start" fill="#222" textLength="27.10" lengthAdjust="spacingAndGlyphs" stroke="none">CD244 174Yb</text>
<text x="30.60" y="571.40" font-size="4.6" text-anchor="start" fill="#222" textLength="27.10" lengthAdjust="spacingAndGlyphs" stroke="none">CD160 165Ho</text>
<text x="101.20" y="571.40" font-size="4.6" text-anchor="start" fill="#222" textLength="27.10" lengthAdjust="spacingAndGlyphs" stroke="none">CD160 165Ho</text>
<polygon filter="url(#fD)" points="50.1,455.0 51.0,453.7 56.9,452.8 61.4,455.0 62.8,458.6 62.3,464.0 60.5,467.6 56.9,468.1 53.3,467.2 50.1,466.3 49.2,462.2 49.7,457.7" fill="#262886" stroke="#262886" stroke-width="0.6" stroke-linejoin="round"/>
<polygon filter="url(#fL)" points="43.8,460.6 46.0,459.5 49.4,457.9 48.9,462.4 49.9,466.6 46.0,467.3 44.0,466.7 43.1,463.7" fill="#5c60b4" stroke="#5c60b4" stroke-width="0.6" stroke-linejoin="round"/>
<polygon filter="url(#fL)" points="41.3,459.8 44.0,460.3 44.5,464.8 43.6,468.4 42.7,472.0 40.9,472.4 40.1,470.2 41.3,466.1 40.7,462.5" fill="#5c60b4" stroke="#5c60b4" stroke-width="0.6" stroke-linejoin="round"/>
<polygon filter="url(#fL)" points="44.8,469.7 49.7,468.8 52.9,470.6 54.7,474.2 53.4,478.3 50.2,481.0 45.7,481.9 43.0,480.5 42.1,476.5 43.0,472.9" fill="#5c60b4" stroke="#5c60b4" stroke-width="0.6" stroke-linejoin="round"/>
<polygon filter="url(#fL)" points="60.1,471.2 64.7,470.8 68.3,469.9 71.0,472.1 73.7,474.8 74.2,480.2 72.8,484.7 69.2,487.4 65.6,489.2 62.4,487.4 59.2,482.9 57.4,477.5 57.0,473.9" fill="#5c60b4" stroke="#5c60b4" stroke-width="0.6" stroke-linejoin="round"/>
<polygon filter="url(#fL)" points="69.5,468.1 72.7,467.7 74.2,469.5 74.0,472.2 71.8,472.8 69.5,471.3" fill="#33379a" stroke="#33379a" stroke-width="0.6" stroke-linejoin="round"/>
<polygon filter="url(#fL)" points="61.0,484.7 63.7,486.0 67.4,485.1 69.6,483.8 69.2,486.9 66.4,489.6 62.8,490.1 60.6,487.8" fill="#33379a" stroke="#33379a" stroke-width="0.6" stroke-linejoin="round"/>
<polygon filter="url(#fL)" points="54.6,482.0 57.7,482.5 58.6,485.2 59.5,487.9 60.5,491.5 57.7,493.7 52.3,494.2 47.8,492.4 45.5,489.7 46.9,487.0 51.4,484.3" fill="#33379a" stroke="#33379a" stroke-width="0.6" stroke-linejoin="round"/>
<polygon filter="url(#fL)" points="66.4,464.4 68.4,463.3 70.2,462.4 69.8,463.7 67.5,465.1" fill="#33379a" stroke="#33379a" stroke-width="0.6" stroke-linejoin="round"/>
<path d="M36.2 467.1h0M37.4 468.7h0M38.8 469.4h0M38.2 471.2h0M39.3 472.6h0M39.6 475.9h0M37.1 480.5h0" stroke="#33379a" stroke-width="1.20" stroke-linecap="round" fill="none"/>
<path d="M34.5 467.4h0M36.5 467.7h0M39.2 471.5h0M39.1 477.7h0M37.1 481.1h0M36.9 481.1h0M36.3 481.2h0M35.6 479.4h0M34.8 469.3h0" stroke="#33379a" stroke-width="1.05" stroke-linecap="round" fill="none"/>
<path d="M36.8 467.2h0M38.0 469.6h0M38.7 472.7h0M38.8 475.5h0M38.4 476.2h0M37.6 479.9h0M36.5 480.9h0M34.3 477.8h0M34.0 473.9h0M34.2 476.8h0M33.8 469.2h0" stroke="#33379a" stroke-width="0.90" stroke-linecap="round" fill="none"/>
<path d="M38.3 469.7h0M35.0 480.0h0M35.5 478.5h0M33.4 472.8h0M33.5 471.8h0M35.0 468.1h0M35.5 468.6h0" stroke="#33379a" stroke-width="1.35" stroke-linecap="round" fill="none"/>
<path d="M36.3 480.4h0M34.2 480.6h0" stroke="#33379a" stroke-width="0.75" stroke-linecap="round" fill="none"/>
<path d="M42.1 465.4h0M41.6 468.0h0" stroke="#f0c030" stroke-width="0.60" stroke-linecap="round" fill="none"/>
<path d="M42.0 463.0h0M66.8 472.9h0M63.9 476.6h0M58.6 476.9h0M59.5 480.0h0M61.8 476.3h0M67.0 478.4h0M64.9 486.6h0M64.6 485.2h0M66.1 479.9h0M58.5 475.9h0M50.0 476.7h0M48.8 472.6h0M53.6 492.9h0" stroke="#ffffff" stroke-width="0.75" stroke-linecap="round" fill="none"/>
<path d="M42.1 466.0h0M41.8 469.9h0M42.0 469.1h0M43.9 462.2h0M42.8 469.4h0M43.3 461.7h0M61.0 478.0h0M62.0 471.8h0M63.1 472.6h0" stroke="#e9823a" stroke-width="1.05" stroke-linecap="round" fill="none"/>
<path d="M42.8 464.8h0M42.7 462.3h0M44.1 465.2h0M43.2 464.0h0M66.0 482.8h0M68.9 473.8h0M63.4 481.7h0M67.7 487.2h0" stroke="#c8201e" stroke-width="0.90" stroke-linecap="round" fill="none"/>
<path d="M41.4 464.8h0M43.2 467.9h0M65.5 481.3h0M66.0 485.6h0M63.8 474.8h0M69.2 472.3h0M62.0 475.2h0M71.8 479.9h0M64.8 473.2h0" stroke="#f0c030" stroke-width="0.75" stroke-linecap="round" fill="none"/>
<path d="M41.4 464.1h0M60.8 484.0h0M68.1 473.6h0M43.7 473.0h0M45.4 478.1h0M45.6 473.9h0M47.1 478.7h0M50.3 470.5h0M50.8 473.5h0M44.8 474.5h0M46.2 478.0h0M53.5 476.2h0M46.1 473.4h0M51.6 475.0h0M44.9 472.9h0M50.2 476.8h0M46.7 474.5h0M44.8 478.1h0M45.6 474.1h0M44.7 479.0h0M48.0 480.4h0M51.6 476.5h0M49.4 470.4h0M43.3 477.1h0M52.5 492.5h0M54.2 487.0h0M50.7 491.4h0M53.3 490.3h0M50.0 488.1h0M57.5 487.4h0M54.8 486.0h0M56.1 488.8h0M56.2 484.7h0M48.5 492.2h0M51.7 490.0h0M57.5 486.8h0M57.1 488.3h0M49.8 488.3h0M50.0 489.2h0M54.7 493.0h0M53.4 484.6h0" stroke="#ffffff" stroke-width="0.60" stroke-linecap="round" fill="none"/>
<path d="M43.5 467.0h0M41.6 471.9h0M41.2 462.7h0M63.6 487.5h0M69.0 485.2h0M71.0 473.9h0M65.6 474.3h0" stroke="#c8201e" stroke-width="1.05" stroke-linecap="round" fill="none"/>
<path d="M41.8 470.0h0M58.6 477.7h0M61.0 475.1h0M64.4 477.7h0M67.2 479.2h0" stroke="#f0c030" stroke-width="1.05" stroke-linecap="round" fill="none"/>
<path d="M43.1 468.0h0M41.9 471.5h0M42.4 471.3h0M42.2 464.6h0M43.0 465.6h0M43.3 463.7h0M67.1 486.6h0M64.0 478.8h0M66.3 482.2h0M71.3 480.8h0" stroke="#e9823a" stroke-width="0.75" stroke-linecap="round" fill="none"/>
<path d="M44.0 461.9h0M43.4 468.5h0M65.6 474.7h0M64.0 471.3h0" stroke="#f0c030" stroke-width="0.90" stroke-linecap="round" fill="none"/>
<path d="M43.1 465.0h0M65.8 471.3h0M71.6 484.8h0M70.0 483.1h0M68.7 475.5h0" stroke="#c8201e" stroke-width="0.75" stroke-linecap="round" fill="none"/>
<path d="M41.7 461.9h0M43.9 463.1h0M73.2 475.2h0M68.5 473.0h0" stroke="#e9823a" stroke-width="0.60" stroke-linecap="round" fill="none"/>
<path d="M41.9 471.4h0M41.5 470.0h0M40.9 469.5h0M44.1 464.0h0M42.9 466.4h0M61.7 478.6h0M66.9 479.8h0M71.0 475.9h0M65.9 485.6h0" stroke="#ffffff" stroke-width="0.90" stroke-linecap="round" fill="none"/>
<path d="M41.9 464.9h0M43.0 469.2h0M41.3 467.7h0M70.9 475.9h0M66.4 471.0h0M65.1 473.0h0M66.9 484.2h0M64.5 476.0h0M70.3 473.6h0M68.1 478.3h0M59.6 478.6h0M61.9 480.5h0" stroke="#e9823a" stroke-width="0.90" stroke-linecap="round" fill="none"/>
<path d="M41.6 463.9h0M70.3 480.5h0" stroke="#ffffff" stroke-width="1.05" stroke-linecap="round" fill="none"/>
<path d="M71.3 477.2h0M67.8 473.7h0M67.3 485.0h0" stroke="#5aa0d8" stroke-width="0.90" stroke-linecap="round" fill="none"/>
<path d="M61.2 481.9h0" stroke="#c8201e" stroke-width="0.60" stroke-linecap="round" fill="none"/>
<path d="M60.4 482.0h0" stroke="#5aa0d8" stroke-width="0.75" stroke-linecap="round" fill="none"/>
<path d="M71.6 474.1h0M60.4 482.0h0" stroke="#5aa0d8" stroke-width="0.60" stroke-linecap="round" fill="none"/>
<path d="M60.4 482.2h0M63.9 474.0h0M67.9 475.1h0" stroke="#5aa0d8" stroke-width="1.05" stroke-linecap="round" fill="none"/>
<path d="M49.3 479.1h0M52.6 473.4h0M48.5 469.4h0M48.6 473.6h0M47.3 470.3h0M44.0 480.4h0M44.7 475.3h0M43.7 474.9h0M48.0 480.0h0M47.8 478.5h0M47.4 470.9h0M45.1 476.6h0M52.5 475.2h0M44.1 477.5h0M46.7 470.6h0M43.2 479.0h0M44.6 474.4h0M53.2 489.2h0M58.7 486.7h0M52.5 493.0h0M49.6 486.6h0M55.9 490.2h0M52.1 493.4h0M53.4 486.7h0M51.3 486.0h0M47.4 490.3h0M51.0 486.1h0M55.5 493.3h0M58.9 490.8h0" stroke="#ffffff" stroke-width="0.45" stroke-linecap="round" fill="none"/>
<rect x="30.50" y="450.20" width="46.50" height="46.00" fill="none" stroke="#333" stroke-width="0.9"/>
<path d="M30.5 454.0h-1.0M34.4 496.2v1.0M30.5 457.9h-1.0M38.2 496.2v1.0M30.5 461.7h-1.0M42.1 496.2v1.0M30.5 465.5h-1.0M46.0 496.2v1.0M30.5 469.4h-1.0M49.9 496.2v1.0M30.5 473.2h-1.0M53.8 496.2v1.0M30.5 477.0h-1.0M57.6 496.2v1.0M30.5 480.9h-1.0M61.5 496.2v1.0M30.5 484.7h-1.0M65.4 496.2v1.0M30.5 488.5h-1.0M69.2 496.2v1.0M30.5 492.4h-1.0M73.1 496.2v1.0" stroke="#555" stroke-width="0.5"/>
<polygon filter="url(#fL)" points="120.6,455.0 121.5,453.7 127.5,452.8 132.1,455.0 133.5,458.6 133.1,464.0 131.2,467.6 127.5,468.1 123.8,467.2 120.6,466.3 119.7,462.2 120.1,457.7" fill="#5c60b4" stroke="#5c60b4" stroke-width="0.6" stroke-linejoin="round"/>
<polygon filter="url(#fL)" points="114.1,460.6 116.5,459.5 119.9,457.9 119.4,462.4 120.3,466.6 116.5,467.3 114.3,466.7 113.4,463.7" fill="#5c60b4" stroke="#5c60b4" stroke-width="0.6" stroke-linejoin="round"/>
<polygon filter="url(#fL)" points="111.6,459.8 114.4,460.3 114.8,464.8 113.9,468.4 113.0,472.0 111.2,472.4 110.4,470.2 111.6,466.1 111.0,462.5" fill="#5c60b4" stroke="#5c60b4" stroke-width="0.6" stroke-linejoin="round"/>
<polygon filter="url(#fD)" points="115.1,469.7 120.2,468.8 123.5,470.6 125.3,474.2 123.9,478.3 120.7,481.0 116.1,481.9 113.3,480.5 112.4,476.5 113.3,472.9" fill="#262886" stroke="#262886" stroke-width="0.6" stroke-linejoin="round"/>
<polygon filter="url(#fL)" points="130.8,471.2 135.4,470.8 139.1,469.9 141.9,472.1 144.7,474.8 145.1,480.2 143.7,484.7 140.0,487.4 136.4,489.2 133.1,487.4 129.9,482.9 128.1,477.5 127.6,473.9" fill="#5c60b4" stroke="#5c60b4" stroke-width="0.6" stroke-linejoin="round"/>
<polygon filter="url(#fL)" points="140.4,468.1 143.6,467.7 145.2,469.5 145.0,472.2 142.7,472.8 140.4,471.3" fill="#33379a" stroke="#33379a" stroke-width="0.6" stroke-linejoin="round"/>
<polygon filter="url(#fL)" points="131.7,484.7 134.5,486.0 138.2,485.1 140.5,483.8 140.0,486.9 137.2,489.6 133.6,490.1 131.2,487.8" fill="#33379a" stroke="#33379a" stroke-width="0.6" stroke-linejoin="round"/>
<polygon filter="url(#fD)" points="125.1,482.0 128.4,482.5 129.3,485.2 130.2,487.9 131.1,491.5 128.4,493.7 122.8,494.2 118.2,492.4 115.9,489.7 117.3,487.0 121.9,484.3" fill="#262886" stroke="#262886" stroke-width="0.6" stroke-linejoin="round"/>
<polygon filter="url(#fD)" points="137.2,464.4 139.3,463.3 141.1,462.4 140.6,463.7 138.3,465.1" fill="#c8201e" stroke="#c8201e" stroke-width="0.6" stroke-linejoin="round"/>
<path d="M106.4 466.9h0M105.7 466.9h0M107.3 468.0h0M109.8 473.7h0M108.6 474.5h0M109.1 476.5h0M109.6 477.4h0M109.8 479.1h0M108.9 478.2h0M105.2 477.4h0M105.4 478.0h0M105.3 476.3h0M103.8 470.5h0M104.4 470.9h0M104.7 468.3h0" stroke="#33379a" stroke-width="0.90" stroke-linecap="round" fill="none"/>
<path d="M105.4 467.6h0M106.6 466.7h0M107.8 469.5h0M107.5 468.9h0M109.1 474.0h0M108.6 475.1h0M110.4 477.2h0M108.8 480.2h0M109.7 478.7h0M106.3 480.8h0M106.1 479.6h0M103.9 474.4h0M104.4 475.0h0" stroke="#33379a" stroke-width="1.35" stroke-linecap="round" fill="none"/>
<path d="M107.0 466.8h0M104.8 479.4h0M104.1 475.8h0M103.9 473.6h0" stroke="#33379a" stroke-width="1.05" stroke-linecap="round" fill="none"/>
<path d="M108.7 477.9h0M107.2 480.7h0M104.6 470.1h0" stroke="#33379a" stroke-width="1.20" stroke-linecap="round" fill="none"/>
<path d="M107.4 480.9h0" stroke="#33379a" stroke-width="0.75" stroke-linecap="round" fill="none"/>
<path d="M112.9 469.2h0M114.5 463.1h0M113.2 468.6h0M114.1 462.9h0M113.3 461.0h0M113.1 466.5h0M135.8 472.7h0M137.0 486.8h0" stroke="#e9823a" stroke-width="0.60" stroke-linecap="round" fill="none"/>
<path d="M111.3 468.5h0M113.5 468.3h0M111.4 464.1h0M112.8 466.8h0" stroke="#f0c030" stroke-width="0.90" stroke-linecap="round" fill="none"/>
<path d="M112.0 470.6h0M111.5 469.3h0M113.2 469.3h0M112.3 464.9h0M113.0 465.6h0M130.4 475.9h0M133.3 484.3h0M135.4 474.6h0M129.7 476.4h0M130.1 475.8h0M134.6 474.1h0M138.9 486.5h0M140.3 479.3h0M137.0 482.5h0M143.0 480.4h0M133.0 471.8h0M137.7 486.0h0M126.1 465.7h0M131.1 464.9h0M122.0 454.9h0M129.4 460.2h0" stroke="#ffffff" stroke-width="0.75" stroke-linecap="round" fill="none"/>
<path d="M111.9 471.0h0M111.5 471.7h0M144.1 475.9h0M141.0 473.7h0" stroke="#c8201e" stroke-width="0.75" stroke-linecap="round" fill="none"/>
<path d="M112.1 471.7h0M113.4 469.3h0M113.7 462.1h0M112.3 462.5h0M139.4 477.8h0M133.2 481.9h0M138.6 477.8h0M133.9 483.2h0" stroke="#e9823a" stroke-width="0.75" stroke-linecap="round" fill="none"/>
<path d="M113.7 462.6h0M113.1 468.8h0M111.6 471.4h0M113.0 462.9h0M111.3 471.8h0M113.2 466.7h0M111.4 471.5h0M139.4 481.4h0M139.0 479.2h0M136.2 474.2h0M143.9 477.0h0M141.4 484.6h0M142.0 475.8h0M141.4 473.3h0M128.8 474.6h0M142.1 474.9h0M132.6 479.0h0M133.1 485.3h0" stroke="#e9823a" stroke-width="0.90" stroke-linecap="round" fill="none"/>
<path d="M112.1 470.8h0M112.3 471.8h0" stroke="#f0c030" stroke-width="1.05" stroke-linecap="round" fill="none"/>
<path d="M111.6 465.5h0M111.4 470.9h0M112.3 470.2h0M113.0 466.1h0" stroke="#f0c030" stroke-width="0.75" stroke-linecap="round" fill="none"/>
<path d="M111.9 466.7h0" stroke="#f0c030" stroke-width="0.60" stroke-linecap="round" fill="none"/>
<path d="M114.3 463.0h0M114.2 462.1h0M134.9 477.0h0M134.1 476.4h0M138.0 473.6h0M138.9 482.0h0M143.7 481.8h0M131.5 474.8h0M136.3 481.7h0M133.3 471.9h0M135.3 474.3h0M137.8 481.2h0" stroke="#ffffff" stroke-width="0.90" stroke-linecap="round" fill="none"/>
<path d="M113.4 465.8h0M133.8 482.1h0M142.0 481.1h0" stroke="#c8201e" stroke-width="1.05" stroke-linecap="round" fill="none"/>
<path d="M112.6 471.0h0M135.6 478.5h0M142.6 476.8h0" stroke="#c8201e" stroke-width="0.90" stroke-linecap="round" fill="none"/>
<path d="M112.0 470.7h0M140.5 471.9h0M130.9 479.0h0M136.6 478.4h0M132.1 472.0h0M142.2 482.0h0M135.2 472.8h0M139.4 483.5h0M131.3 483.4h0" stroke="#ffffff" stroke-width="1.05" stroke-linecap="round" fill="none"/>
<path d="M136.1 477.0h0M134.8 473.0h0M133.2 474.9h0M140.1 480.5h0M131.9 459.1h0M131.3 456.3h0M128.9 454.1h0M121.4 458.1h0M122.6 464.0h0M130.2 454.9h0M128.6 462.5h0M128.4 463.1h0M123.7 456.1h0M127.8 455.3h0M131.9 463.8h0M125.4 463.0h0M126.7 454.9h0M124.6 463.0h0M131.4 457.6h0M122.1 460.2h0M126.5 463.4h0M127.9 453.5h0M125.3 460.5h0M127.4 463.3h0M129.8 454.9h0M130.3 462.1h0M131.4 456.5h0M128.3 463.5h0M122.4 459.5h0M121.3 457.4h0" stroke="#ffffff" stroke-width="0.60" stroke-linecap="round" fill="none"/>
<path d="M130.2 473.2h0M142.9 480.9h0" stroke="#e9823a" stroke-width="1.05" stroke-linecap="round" fill="none"/>
<path d="M131.2 483.2h0" stroke="#c8201e" stroke-width="0.60" stroke-linecap="round" fill="none"/>
<path d="M125.6 463.7h0M123.8 465.8h0M126.0 463.5h0M127.3 455.2h0M132.8 458.8h0M121.7 464.2h0M122.1 461.8h0M127.3 464.3h0M123.0 461.0h0M126.5 459.4h0M120.8 456.3h0M131.4 460.7h0M129.6 457.9h0M124.7 458.4h0M126.4 453.6h0M122.3 458.0h0M122.4 459.3h0M122.3 465.3h0M132.0 460.2h0M121.5 460.0h0" stroke="#ffffff" stroke-width="0.45" stroke-linecap="round" fill="none"/>
<rect x="100.60" y="450.20" width="47.40" height="46.00" fill="none" stroke="#333" stroke-width="0.9"/>
<path d="M100.6 454.0h-1.0M104.5 496.2v1.0M100.6 457.9h-1.0M108.5 496.2v1.0M100.6 461.7h-1.0M112.4 496.2v1.0M100.6 465.5h-1.0M116.4 496.2v1.0M100.6 469.4h-1.0M120.3 496.2v1.0M100.6 473.2h-1.0M124.3 496.2v1.0M100.6 477.0h-1.0M128.2 496.2v1.0M100.6 480.9h-1.0M132.2 496.2v1.0M100.6 484.7h-1.0M136.1 496.2v1.0M100.6 488.5h-1.0M140.1 496.2v1.0M100.6 492.4h-1.0M144.0 496.2v1.0" stroke="#555" stroke-width="0.5"/>
<polygon filter="url(#fD)" points="50.1,518.7 51.0,517.3 56.9,516.4 61.4,518.7 62.8,522.3 62.3,527.7 60.5,531.3 56.9,531.8 53.3,530.9 50.1,530.0 49.2,525.9 49.7,521.4" fill="#262886" stroke="#262886" stroke-width="0.6" stroke-linejoin="round"/>
<polygon filter="url(#fL)" points="43.8,524.2 46.0,523.1 49.4,521.5 48.9,526.0 49.9,530.2 46.0,531.0 44.0,530.3 43.1,527.4" fill="#33379a" stroke="#33379a" stroke-width="0.6" stroke-linejoin="round"/>
<polygon filter="url(#fL)" points="41.3,523.5 44.0,523.9 44.5,528.4 43.6,532.0 42.7,535.6 40.9,536.1 40.1,533.8 41.3,529.8 40.7,526.2" fill="#33379a" stroke="#33379a" stroke-width="0.6" stroke-linejoin="round"/>
<polygon filter="url(#fL)" points="44.8,533.4 49.7,532.5 52.9,534.3 54.7,537.9 53.4,542.0 50.2,544.7 45.7,545.6 43.0,544.2 42.1,540.2 43.0,536.6" fill="#5c60b4" stroke="#5c60b4" stroke-width="0.6" stroke-linejoin="round"/>
<polygon filter="url(#fL)" points="60.1,534.9 64.7,534.5 68.3,533.6 71.0,535.8 73.7,538.5 74.2,543.9 72.8,548.5 69.2,551.2 65.6,553.0 62.4,551.2 59.2,546.7 57.4,541.2 57.0,537.6" fill="#33379a" stroke="#33379a" stroke-width="0.6" stroke-linejoin="round"/>
<polygon filter="url(#fL)" points="69.5,531.8 72.7,531.3 74.2,533.1 74.0,535.8 71.8,536.5 69.5,534.9" fill="#33379a" stroke="#33379a" stroke-width="0.6" stroke-linejoin="round"/>
<polygon filter="url(#fL)" points="61.0,548.4 63.7,549.8 67.4,548.9 69.6,547.5 69.2,550.7 66.4,553.4 62.8,553.8 60.6,551.6" fill="#33379a" stroke="#33379a" stroke-width="0.6" stroke-linejoin="round"/>
<polygon filter="url(#fL)" points="54.6,545.8 57.7,546.2 58.6,548.9 59.5,551.7 60.5,555.3 57.7,557.5 52.3,558.0 47.8,556.2 45.5,553.5 46.9,550.7 51.4,548.0" fill="#33379a" stroke="#33379a" stroke-width="0.6" stroke-linejoin="round"/>
<polygon filter="url(#fL)" points="66.4,528.0 68.4,526.9 70.2,526.0 69.8,527.4 67.5,528.8" fill="#33379a" stroke="#33379a" stroke-width="0.6" stroke-linejoin="round"/>
<path d="M37.1 531.6h0M38.8 534.4h0M38.5 533.6h0M37.7 537.6h0M38.6 543.0h0M35.0 538.9h0M35.8 532.0h0" stroke="#33379a" stroke-width="1.05" stroke-linecap="round" fill="none"/>
<path d="M34.8 530.9h0M38.5 532.8h0M37.4 533.3h0M39.7 537.8h0M39.9 542.0h0M35.0 543.4h0M35.0 540.5h0M34.4 531.9h0" stroke="#33379a" stroke-width="1.35" stroke-linecap="round" fill="none"/>
<path d="M35.9 532.4h0M38.5 536.8h0M38.9 535.2h0M35.5 544.4h0M34.4 539.6h0" stroke="#33379a" stroke-width="0.75" stroke-linecap="round" fill="none"/>
<path d="M35.8 532.4h0M39.9 541.7h0M38.5 544.0h0M40.0 542.6h0M35.8 544.5h0M34.1 542.3h0M34.7 536.4h0M33.8 539.9h0" stroke="#33379a" stroke-width="1.20" stroke-linecap="round" fill="none"/>
<path d="M38.8 540.7h0M38.4 540.5h0M38.6 544.0h0M35.7 544.8h0M34.3 540.3h0M34.7 540.0h0M34.2 533.4h0M33.3 535.8h0" stroke="#33379a" stroke-width="0.90" stroke-linecap="round" fill="none"/>
<path d="M49.1 533.7h0M46.3 538.7h0M45.8 536.8h0M48.0 539.7h0M52.8 541.2h0M49.4 540.6h0M48.9 543.8h0M53.4 538.8h0M53.1 537.9h0M50.0 541.3h0M49.9 536.4h0M49.0 542.1h0M51.1 540.8h0M53.9 537.6h0M52.1 541.0h0M48.9 542.0h0M50.0 535.4h0M49.8 543.9h0M44.6 536.1h0M63.4 538.8h0M64.4 550.3h0M58.7 555.1h0M58.6 552.8h0M57.9 554.6h0M52.6 552.3h0M58.2 555.7h0M55.3 552.6h0M56.6 554.5h0M51.7 555.3h0M54.5 557.5h0M49.7 556.1h0" stroke="#ffffff" stroke-width="0.45" stroke-linecap="round" fill="none"/>
<path d="M44.0 539.4h0M53.2 541.3h0M50.9 533.8h0M44.5 537.2h0M48.4 539.9h0M47.3 533.4h0M50.8 543.8h0M52.8 536.6h0M51.6 539.1h0M49.1 537.5h0M49.0 539.5h0M45.5 533.9h0M48.6 536.4h0M49.7 541.3h0M50.2 538.8h0M49.8 541.1h0M52.1 541.0h0M60.5 536.0h0M73.0 542.6h0M58.9 540.6h0M70.0 539.6h0M63.8 550.5h0M64.5 539.2h0M59.0 540.7h0M72.0 547.8h0M54.7 546.7h0M58.9 551.3h0M55.1 549.0h0M49.3 553.6h0M59.3 553.5h0M53.3 549.1h0M53.0 554.3h0M52.5 547.9h0M55.9 555.2h0M54.0 552.8h0M47.5 551.4h0M50.1 553.3h0M53.8 554.8h0M54.7 552.3h0M56.0 554.8h0M51.9 551.3h0M55.5 550.5h0M58.4 550.9h0M59.6 553.2h0" stroke="#ffffff" stroke-width="0.60" stroke-linecap="round" fill="none"/>
<path d="M44.4 540.7h0M48.8 534.5h0M42.7 541.5h0M46.0 534.7h0M62.2 538.0h0M60.6 546.3h0M68.4 540.3h0M61.5 542.1h0M69.9 541.0h0M63.9 548.4h0M64.6 541.3h0M73.6 542.6h0M66.4 544.4h0M70.0 542.6h0M70.6 545.9h0M58.4 552.3h0" stroke="#ffffff" stroke-width="0.75" stroke-linecap="round" fill="none"/>
<path d="M70.9 538.4h0M58.4 538.1h0M66.9 550.0h0M65.9 541.6h0" stroke="#5c60b4" stroke-width="0.90" stroke-linecap="round" fill="none"/>
<path d="M64.3 540.6h0M66.0 540.0h0M62.0 548.4h0M67.0 548.5h0M67.9 543.8h0M62.4 542.3h0M69.8 543.9h0M67.5 540.3h0M73.3 540.4h0M65.6 538.7h0" stroke="#5c60b4" stroke-width="0.75" stroke-linecap="round" fill="none"/>
<path d="M67.8 538.9h0M63.5 535.8h0M59.3 544.2h0M62.7 539.7h0M64.0 540.3h0M70.4 545.7h0M63.8 547.2h0M65.2 543.6h0" stroke="#5c60b4" stroke-width="0.60" stroke-linecap="round" fill="none"/>
<path d="M68.1 539.4h0M62.4 546.0h0M71.1 545.6h0M59.9 539.5h0M60.5 542.8h0" stroke="#ffffff" stroke-width="0.90" stroke-linecap="round" fill="none"/>
<path d="M67.0 545.3h0M69.4 546.0h0" stroke="#5c60b4" stroke-width="0.45" stroke-linecap="round" fill="none"/>
<rect x="30.50" y="513.80" width="46.50" height="46.20" fill="none" stroke="#333" stroke-width="0.9"/>
<path d="M30.5 517.6h-1.0M34.4 560.0v1.0M30.5 521.5h-1.0M38.2 560.0v1.0M30.5 525.3h-1.0M42.1 560.0v1.0M30.5 529.2h-1.0M46.0 560.0v1.0M30.5 533.0h-1.0M49.9 560.0v1.0M30.5 536.9h-1.0M53.8 560.0v1.0M30.5 540.8h-1.0M57.6 560.0v1.0M30.5 544.6h-1.0M61.5 560.0v1.0M30.5 548.4h-1.0M65.4 560.0v1.0M30.5 552.3h-1.0M69.2 560.0v1.0M30.5 556.1h-1.0M73.1 560.0v1.0" stroke="#555" stroke-width="0.5"/>
<polygon filter="url(#fL)" points="120.6,518.7 121.5,517.3 127.5,516.4 132.1,518.7 133.5,522.3 133.1,527.7 131.2,531.3 127.5,531.8 123.8,530.9 120.6,530.0 119.7,525.9 120.1,521.4" fill="#5c60b4" stroke="#5c60b4" stroke-width="0.6" stroke-linejoin="round"/>
<polygon filter="url(#fL)" points="114.1,524.2 116.5,523.1 119.9,521.5 119.4,526.0 120.3,530.2 116.5,531.0 114.3,530.3 113.4,527.4" fill="#33379a" stroke="#33379a" stroke-width="0.6" stroke-linejoin="round"/>
<polygon filter="url(#fL)" points="111.6,523.5 114.4,523.9 114.8,528.4 113.9,532.0 113.0,535.6 111.2,536.1 110.4,533.8 111.6,529.8 111.0,526.2" fill="#33379a" stroke="#33379a" stroke-width="0.6" stroke-linejoin="round"/>
<polygon filter="url(#fD)" points="115.1,533.4 120.2,532.5 123.5,534.3 125.3,537.9 123.9,542.0 120.7,544.7 116.1,545.6 113.3,544.2 112.4,540.2 113.3,536.6" fill="#262886" stroke="#262886" stroke-width="0.6" stroke-linejoin="round"/>
<polygon filter="url(#fL)" points="130.8,534.9 135.4,534.5 139.1,533.6 141.9,535.8 144.7,538.5 145.1,543.9 143.7,548.5 140.0,551.2 136.4,553.0 133.1,551.2 129.9,546.7 128.1,541.2 127.6,537.6" fill="#33379a" stroke="#33379a" stroke-width="0.6" stroke-linejoin="round"/>
<polygon filter="url(#fL)" points="140.4,531.8 143.6,531.3 145.2,533.1 145.0,535.8 142.7,536.5 140.4,534.9" fill="#33379a" stroke="#33379a" stroke-width="0.6" stroke-linejoin="round"/>
<polygon filter="url(#fL)" points="131.7,548.4 134.5,549.8 138.2,548.9 140.5,547.5 140.0,550.7 137.2,553.4 133.6,553.8 131.2,551.6" fill="#33379a" stroke="#33379a" stroke-width="0.6" stroke-linejoin="round"/>
<polygon filter="url(#fD)" points="125.1,545.8 128.4,546.2 129.3,548.9 130.2,551.7 131.1,555.3 128.4,557.5 122.8,558.0 118.2,556.2 115.9,553.5 117.3,550.7 121.9,548.0" fill="#262886" stroke="#262886" stroke-width="0.6" stroke-linejoin="round"/>
<polygon filter="url(#fL)" points="137.2,528.0 139.3,526.9 141.1,526.0 140.6,527.4 138.3,528.8" fill="#33379a" stroke="#33379a" stroke-width="0.6" stroke-linejoin="round"/>
<path d="M106.8 531.4h0M105.1 531.4h0M107.6 533.5h0M110.1 540.8h0M109.4 543.8h0M106.1 543.9h0M106.0 544.1h0" stroke="#33379a" stroke-width="1.20" stroke-linecap="round" fill="none"/>
<path d="M106.7 530.7h0M108.5 538.4h0M109.3 535.3h0M110.3 541.0h0M110.2 541.6h0M105.0 541.1h0M104.4 539.9h0M104.7 534.2h0M105.0 533.5h0" stroke="#33379a" stroke-width="1.35" stroke-linecap="round" fill="none"/>
<path d="M105.2 530.7h0M110.0 540.4h0M108.7 542.0h0M108.7 543.5h0M108.9 542.8h0M105.1 540.6h0M103.9 542.6h0M103.5 536.3h0M104.0 533.6h0" stroke="#33379a" stroke-width="0.90" stroke-linecap="round" fill="none"/>
<path d="M108.5 533.7h0M107.9 534.8h0M107.9 534.2h0M108.7 535.0h0M104.8 544.8h0M106.1 543.3h0M103.7 541.8h0M103.3 536.9h0M104.0 539.2h0M105.5 532.5h0" stroke="#33379a" stroke-width="1.05" stroke-linecap="round" fill="none"/>
<path d="M108.5 536.4h0" stroke="#33379a" stroke-width="0.75" stroke-linecap="round" fill="none"/>
<path d="M123.6 523.9h0M132.2 526.5h0M131.6 522.2h0M127.7 521.5h0M130.9 526.1h0M124.6 523.0h0M131.8 519.8h0M130.9 521.7h0M133.0 522.9h0M122.4 519.3h0M131.4 528.0h0M130.9 525.6h0M123.2 528.4h0M127.0 522.8h0M130.1 527.7h0M121.0 519.5h0M122.2 519.2h0M124.8 523.3h0M130.0 519.6h0M125.4 518.0h0M120.9 526.3h0M130.2 519.8h0M131.2 519.5h0M122.5 519.9h0M129.6 521.6h0M122.2 526.0h0M126.8 529.1h0M120.6 524.5h0M125.2 519.6h0M141.0 544.6h0M133.0 536.2h0M133.0 542.1h0M139.6 548.3h0M136.4 549.0h0M130.7 543.4h0M137.9 546.8h0M137.3 543.4h0M132.0 547.2h0M131.9 546.8h0" stroke="#ffffff" stroke-width="0.60" stroke-linecap="round" fill="none"/>
<path d="M130.4 523.2h0M129.4 528.2h0M126.3 525.7h0M129.5 527.2h0M127.0 526.4h0M122.1 520.1h0M130.7 522.0h0M130.0 529.4h0M121.2 526.0h0M122.9 525.4h0M125.2 519.0h0M121.7 523.7h0M124.0 526.0h0M122.4 517.7h0M126.3 521.5h0M128.2 526.5h0M132.2 527.2h0M126.7 520.9h0M134.2 543.2h0M139.4 540.5h0" stroke="#ffffff" stroke-width="0.45" stroke-linecap="round" fill="none"/>
<path d="M122.0 522.4h0M122.3 522.3h0M128.9 528.5h0M137.6 551.1h0M141.7 545.8h0M139.2 550.2h0M143.2 546.2h0M135.2 536.2h0M129.7 540.6h0M143.8 543.6h0M132.8 546.3h0M130.8 543.7h0" stroke="#ffffff" stroke-width="0.75" stroke-linecap="round" fill="none"/>
<path d="M131.9 537.8h0M136.3 543.3h0M140.1 537.1h0M129.5 541.5h0M136.7 550.4h0M129.3 541.3h0M138.8 534.1h0M139.6 546.4h0M140.0 536.6h0M128.7 541.5h0" stroke="#5c60b4" stroke-width="0.60" stroke-linecap="round" fill="none"/>
<path d="M138.4 550.6h0M139.1 549.4h0" stroke="#ffffff" stroke-width="0.90" stroke-linecap="round" fill="none"/>
<path d="M141.3 547.6h0M143.3 542.1h0M142.1 547.6h0M137.8 545.6h0M130.0 537.7h0M138.2 547.5h0M142.6 539.8h0M133.1 538.6h0" stroke="#5c60b4" stroke-width="0.90" stroke-linecap="round" fill="none"/>
<path d="M137.5 538.1h0M132.7 540.8h0M141.7 544.1h0M139.7 538.7h0M134.3 542.6h0M130.9 539.4h0M129.5 543.6h0M142.1 547.1h0" stroke="#5c60b4" stroke-width="0.75" stroke-linecap="round" fill="none"/>
<path d="M128.9 539.7h0" stroke="#5c60b4" stroke-width="0.45" stroke-linecap="round" fill="none"/>
<rect x="100.60" y="513.80" width="47.40" height="46.20" fill="none" stroke="#333" stroke-width="0.9"/>
<path d="M100.6 517.6h-1.0M104.5 560.0v1.0M100.6 521.5h-1.0M108.5 560.0v1.0M100.6 525.3h-1.0M112.4 560.0v1.0M100.6 529.2h-1.0M116.4 560.0v1.0M100.6 533.0h-1.0M120.3 560.0v1.0M100.6 536.9h-1.0M124.3 560.0v1.0M100.6 540.8h-1.0M128.2 560.0v1.0M100.6 544.6h-1.0M132.2 560.0v1.0M100.6 548.4h-1.0M136.1 560.0v1.0M100.6 552.3h-1.0M140.1 560.0v1.0M100.6 556.1h-1.0M144.0 560.0v1.0" stroke="#555" stroke-width="0.5"/>
<polygon filter="url(#fD)" points="50.1,579.1 51.0,577.7 56.9,576.8 61.4,579.1 62.8,582.7 62.3,588.2 60.5,591.9 56.9,592.3 53.3,591.4 50.1,590.5 49.2,586.4 49.7,581.8" fill="#262886" stroke="#262886" stroke-width="0.6" stroke-linejoin="round"/>
<polygon filter="url(#fL)" points="43.8,584.7 46.0,583.6 49.4,582.0 48.9,586.5 49.9,590.8 46.0,591.5 44.0,590.9 43.1,587.9" fill="#33379a" stroke="#33379a" stroke-width="0.6" stroke-linejoin="round"/>
<polygon filter="url(#fL)" points="41.3,583.9 44.0,584.4 44.5,589.0 43.6,592.6 42.7,596.2 40.9,596.7 40.1,594.4 41.3,590.3 40.7,586.7" fill="#33379a" stroke="#33379a" stroke-width="0.6" stroke-linejoin="round"/>
<polygon filter="url(#fL)" points="44.8,594.0 49.7,593.1 52.9,594.9 54.7,598.5 53.4,602.6 50.2,605.4 45.7,606.3 43.0,604.9 42.1,600.8 43.0,597.2" fill="#5c60b4" stroke="#5c60b4" stroke-width="0.6" stroke-linejoin="round"/>
<polygon filter="url(#fL)" points="60.1,595.5 64.7,595.0 68.3,594.1 71.0,596.4 73.7,599.1 74.2,604.6 72.8,609.2 69.2,611.9 65.6,613.7 62.4,611.9 59.2,607.3 57.4,601.9 57.0,598.2" fill="#33379a" stroke="#33379a" stroke-width="0.6" stroke-linejoin="round"/>
<polygon filter="url(#fL)" points="69.5,592.3 72.7,591.9 74.2,593.7 74.0,596.4 71.8,597.1 69.5,595.5" fill="#33379a" stroke="#33379a" stroke-width="0.6" stroke-linejoin="round"/>
<polygon filter="url(#fL)" points="61.0,609.1 63.7,610.5 67.4,609.6 69.6,608.2 69.2,611.4 66.4,614.1 62.8,614.6 60.6,612.3" fill="#33379a" stroke="#33379a" stroke-width="0.6" stroke-linejoin="round"/>
<polygon filter="url(#fL)" points="54.6,606.5 57.7,606.9 58.6,609.6 59.5,612.4 60.5,616.0 57.7,618.3 52.3,618.8 47.8,616.9 45.5,614.2 46.9,611.5 51.4,608.7" fill="#33379a" stroke="#33379a" stroke-width="0.6" stroke-linejoin="round"/>
<polygon filter="url(#fL)" points="66.4,588.6 68.4,587.5 70.2,586.5 69.8,587.9 67.5,589.3" fill="#33379a" stroke="#33379a" stroke-width="0.6" stroke-linejoin="round"/>
<path d="M36.9 592.2h0M36.1 591.3h0M38.4 597.7h0M39.8 600.7h0M38.6 602.3h0M38.3 605.2h0M39.9 602.8h0M36.1 604.9h0M36.5 604.9h0M33.9 601.0h0M34.9 600.8h0M34.9 600.8h0M33.4 600.5h0M34.6 599.2h0M35.3 593.5h0" stroke="#33379a" stroke-width="0.90" stroke-linecap="round" fill="none"/>
<path d="M35.5 591.8h0M38.9 601.6h0" stroke="#33379a" stroke-width="1.05" stroke-linecap="round" fill="none"/>
<path d="M36.9 591.3h0M38.9 593.8h0M38.9 594.2h0M39.1 598.9h0M36.8 605.4h0M35.1 604.5h0M35.2 592.9h0M34.7 595.0h0" stroke="#33379a" stroke-width="1.35" stroke-linecap="round" fill="none"/>
<path d="M38.1 593.0h0M37.0 593.1h0M35.4 605.0h0M34.6 600.8h0M34.5 597.9h0" stroke="#33379a" stroke-width="0.75" stroke-linecap="round" fill="none"/>
<path d="M38.6 599.5h0M38.8 597.4h0M38.7 601.9h0M39.5 600.9h0M38.4 604.4h0M33.6 593.5h0" stroke="#33379a" stroke-width="1.20" stroke-linecap="round" fill="none"/>
<path d="M50.5 600.4h0M46.6 600.6h0M52.4 597.3h0M52.3 598.6h0M45.9 596.2h0M43.5 599.2h0M51.2 600.4h0M47.3 601.3h0M50.4 600.4h0M52.0 601.6h0M46.7 604.7h0M44.2 603.8h0M47.4 600.8h0M47.7 595.1h0M51.6 603.4h0M48.9 597.4h0M48.2 595.6h0M51.3 595.3h0M51.1 595.0h0M63.7 608.3h0M68.2 596.6h0M62.7 610.3h0M61.1 604.4h0M64.8 601.4h0M69.0 611.4h0M61.9 603.3h0M73.3 601.8h0M57.0 607.6h0M52.2 609.4h0M52.1 613.2h0M53.6 608.5h0M53.2 617.2h0M50.9 615.8h0M48.3 614.3h0M52.9 608.0h0M48.2 616.5h0M51.9 614.8h0" stroke="#ffffff" stroke-width="0.60" stroke-linecap="round" fill="none"/>
<path d="M45.0 594.9h0M45.4 603.2h0M44.2 603.1h0M46.3 604.0h0M46.0 599.6h0M43.9 600.9h0M49.9 602.4h0M48.5 595.7h0M49.0 593.6h0M50.3 594.4h0M50.3 601.2h0M52.5 595.7h0M46.9 600.7h0M49.1 594.5h0M46.3 605.7h0M50.0 599.7h0M48.3 600.9h0M46.5 597.4h0M66.2 607.9h0M67.1 603.9h0M64.6 596.9h0M64.2 609.0h0M64.2 612.3h0M48.2 615.8h0M49.8 612.4h0M50.6 610.4h0M52.6 617.6h0M53.4 609.2h0M55.9 609.9h0M47.8 614.5h0M54.0 609.9h0M52.2 613.5h0M55.6 612.1h0M51.4 613.4h0M52.3 613.0h0M46.8 614.5h0M59.2 613.1h0M49.8 610.1h0M53.2 617.9h0M58.9 616.3h0" stroke="#ffffff" stroke-width="0.45" stroke-linecap="round" fill="none"/>
<path d="M48.9 601.7h0M48.1 602.1h0M47.0 604.0h0M63.9 608.2h0M65.1 609.3h0M67.5 610.3h0M58.6 603.4h0M61.2 602.4h0M59.9 597.0h0M72.2 602.3h0M70.8 600.9h0M55.6 610.7h0M50.3 610.4h0M52.7 608.8h0" stroke="#ffffff" stroke-width="0.75" stroke-linecap="round" fill="none"/>
<path d="M67.5 601.8h0M68.0 607.5h0M68.3 609.0h0M73.5 604.7h0" stroke="#ffffff" stroke-width="0.90" stroke-linecap="round" fill="none"/>
<path d="M64.8 602.8h0M61.5 598.6h0M72.9 606.1h0M66.9 597.3h0M69.4 608.2h0M68.6 595.0h0M64.9 611.4h0M72.3 605.3h0" stroke="#5c60b4" stroke-width="0.75" stroke-linecap="round" fill="none"/>
<path d="M62.0 596.7h0M67.2 608.2h0M67.7 602.1h0M62.2 608.2h0M66.7 608.5h0" stroke="#5c60b4" stroke-width="0.90" stroke-linecap="round" fill="none"/>
<path d="M66.9 606.2h0M59.8 600.3h0M71.7 602.9h0M72.8 606.5h0M65.7 597.9h0M66.6 598.6h0M58.7 602.4h0M67.1 600.3h0M63.7 604.1h0" stroke="#5c60b4" stroke-width="0.60" stroke-linecap="round" fill="none"/>
<path d="M68.1 603.3h0M57.7 599.5h0M62.5 611.3h0" stroke="#5c60b4" stroke-width="0.45" stroke-linecap="round" fill="none"/>
<rect x="30.50" y="574.20" width="46.50" height="46.60" fill="none" stroke="#333" stroke-width="0.9"/>
<path d="M30.5 578.1h-1.0M34.4 620.8v1.0M30.5 582.0h-1.0M38.2 620.8v1.0M30.5 585.9h-1.0M42.1 620.8v1.0M30.5 589.7h-1.0M46.0 620.8v1.0M30.5 593.6h-1.0M49.9 620.8v1.0M30.5 597.5h-1.0M53.8 620.8v1.0M30.5 601.4h-1.0M57.6 620.8v1.0M30.5 605.3h-1.0M61.5 620.8v1.0M30.5 609.2h-1.0M65.4 620.8v1.0M30.5 613.0h-1.0M69.2 620.8v1.0M30.5 616.9h-1.0M73.1 620.8v1.0" stroke="#555" stroke-width="0.5"/>
<polygon filter="url(#fL)" points="120.6,579.1 121.5,577.7 127.5,576.8 132.1,579.1 133.5,582.7 133.1,588.2 131.2,591.9 127.5,592.3 123.8,591.4 120.6,590.5 119.7,586.4 120.1,581.8" fill="#5c60b4" stroke="#5c60b4" stroke-width="0.6" stroke-linejoin="round"/>
<polygon filter="url(#fL)" points="114.1,584.7 116.5,583.6 119.9,582.0 119.4,586.5 120.3,590.8 116.5,591.5 114.3,590.9 113.4,587.9" fill="#33379a" stroke="#33379a" stroke-width="0.6" stroke-linejoin="round"/>
<polygon filter="url(#fL)" points="111.6,583.9 114.4,584.4 114.8,589.0 113.9,592.6 113.0,596.2 111.2,596.7 110.4,594.4 111.6,590.3 111.0,586.7" fill="#33379a" stroke="#33379a" stroke-width="0.6" stroke-linejoin="round"/>
<polygon filter="url(#fD)" points="115.1,594.0 120.2,593.1 123.5,594.9 125.3,598.5 123.9,602.6 120.7,605.4 116.1,606.3 113.3,604.9 112.4,600.8 113.3,597.2" fill="#262886" stroke="#262886" stroke-width="0.6" stroke-linejoin="round"/>
<polygon filter="url(#fL)" points="130.8,595.5 135.4,595.0 139.1,594.1 141.9,596.4 144.7,599.1 145.1,604.6 143.7,609.2 140.0,611.9 136.4,613.7 133.1,611.9 129.9,607.3 128.1,601.9 127.6,598.2" fill="#33379a" stroke="#33379a" stroke-width="0.6" stroke-linejoin="round"/>
<polygon filter="url(#fL)" points="140.4,592.3 143.6,591.9 145.2,593.7 145.0,596.4 142.7,597.1 140.4,595.5" fill="#33379a" stroke="#33379a" stroke-width="0.6" stroke-linejoin="round"/>
<polygon filter="url(#fL)" points="131.7,609.1 134.5,610.5 138.2,609.6 140.5,608.2 140.0,611.4 137.2,614.1 133.6,614.6 131.2,612.3" fill="#33379a" stroke="#33379a" stroke-width="0.6" stroke-linejoin="round"/>
<polygon filter="url(#fD)" points="125.1,606.5 128.4,606.9 129.3,609.6 130.2,612.4 131.1,616.0 128.4,618.3 122.8,618.8 118.2,616.9 115.9,614.2 117.3,611.5 121.9,608.7" fill="#262886" stroke="#262886" stroke-width="0.6" stroke-linejoin="round"/>
<polygon filter="url(#fL)" points="137.2,588.6 139.3,587.5 141.1,586.5 140.6,587.9 138.3,589.3" fill="#33379a" stroke="#33379a" stroke-width="0.6" stroke-linejoin="round"/>
<path d="M106.3 591.3h0M105.7 592.7h0M108.4 596.0h0M106.7 604.7h0M105.4 604.8h0M105.3 602.3h0M103.6 595.6h0M103.7 594.8h0" stroke="#33379a" stroke-width="1.20" stroke-linecap="round" fill="none"/>
<path d="M107.5 592.5h0M107.8 593.6h0M108.6 594.1h0M109.4 594.5h0M109.3 597.8h0M109.5 598.4h0M107.6 605.7h0M108.5 605.4h0M106.9 605.3h0M104.2 599.9h0M103.4 599.7h0M104.7 592.9h0" stroke="#33379a" stroke-width="1.05" stroke-linecap="round" fill="none"/>
<path d="M107.4 592.2h0M109.8 598.0h0M108.9 600.8h0M109.9 600.5h0M109.6 602.0h0M108.8 602.8h0M109.1 603.1h0M106.5 605.6h0M103.6 601.6h0M104.9 602.3h0M104.1 601.9h0M104.1 600.5h0M104.9 598.2h0M106.1 592.0h0" stroke="#33379a" stroke-width="0.90" stroke-linecap="round" fill="none"/>
<path d="M107.3 592.3h0M110.1 599.6h0" stroke="#33379a" stroke-width="1.35" stroke-linecap="round" fill="none"/>
<path d="M131.1 586.4h0M126.4 581.3h0M122.0 581.2h0M124.3 583.5h0M129.4 580.9h0M125.5 587.2h0M121.7 582.5h0M129.9 588.7h0M125.3 590.7h0M124.9 582.9h0M120.6 584.0h0M129.9 580.5h0M128.5 591.4h0M121.7 583.7h0M127.1 578.8h0M121.9 582.3h0M128.0 579.1h0M132.2 587.5h0M128.1 578.4h0M121.8 590.1h0M131.4 579.8h0M130.2 579.8h0M128.6 586.9h0M129.6 584.7h0M124.3 590.2h0M126.2 587.9h0M125.4 578.6h0M127.4 579.6h0M127.0 589.2h0M139.4 607.1h0M134.2 601.5h0M142.1 600.4h0M140.2 597.2h0" stroke="#ffffff" stroke-width="0.45" stroke-linecap="round" fill="none"/>
<path d="M129.3 587.2h0M123.3 584.6h0M128.8 589.1h0M132.8 586.5h0M131.9 580.6h0M123.2 586.6h0M129.0 591.2h0M127.4 588.5h0M125.1 590.9h0M129.4 588.3h0M129.0 578.8h0M125.4 580.8h0M128.3 578.9h0M121.6 582.6h0M126.4 580.5h0M127.1 580.6h0M129.1 579.5h0M124.8 582.3h0M132.2 607.9h0M136.6 598.5h0M137.3 596.7h0M140.3 597.4h0M139.6 599.1h0M137.8 596.9h0M134.4 604.7h0" stroke="#ffffff" stroke-width="0.60" stroke-linecap="round" fill="none"/>
<path d="M125.0 582.6h0M125.1 586.4h0M120.8 585.2h0M141.8 603.5h0M131.8 607.0h0M132.0 598.0h0M141.7 603.9h0M135.5 603.7h0M141.6 608.2h0M143.5 607.3h0" stroke="#ffffff" stroke-width="0.75" stroke-linecap="round" fill="none"/>
<path d="M139.4 600.7h0M130.6 602.9h0M130.5 599.8h0M143.6 601.4h0M137.8 595.3h0M137.3 597.4h0M142.3 605.6h0M139.0 609.7h0M130.9 606.4h0M137.2 609.6h0" stroke="#5c60b4" stroke-width="0.60" stroke-linecap="round" fill="none"/>
<path d="M137.7 610.6h0M131.8 596.2h0M137.3 600.8h0M139.6 600.7h0M133.1 607.0h0M134.0 604.5h0M138.9 608.8h0M139.5 602.9h0M142.7 601.2h0M133.8 596.9h0M139.6 602.9h0M141.6 601.3h0" stroke="#5c60b4" stroke-width="0.75" stroke-linecap="round" fill="none"/>
<path d="M141.5 607.3h0M138.4 608.2h0M138.1 603.4h0" stroke="#5c60b4" stroke-width="0.90" stroke-linecap="round" fill="none"/>
<path d="M140.7 601.2h0" stroke="#5c60b4" stroke-width="0.45" stroke-linecap="round" fill="none"/>
<path d="M134.9 605.7h0M128.3 598.6h0M142.7 598.8h0M143.7 604.8h0M141.0 610.0h0M138.1 602.3h0" stroke="#ffffff" stroke-width="0.90" stroke-linecap="round" fill="none"/>
<rect x="100.60" y="574.20" width="47.40" height="46.60" fill="none" stroke="#333" stroke-width="0.9"/>
<path d="M100.6 578.1h-1.0M104.5 620.8v1.0M100.6 582.0h-1.0M108.5 620.8v1.0M100.6 585.9h-1.0M112.4 620.8v1.0M100.6 589.7h-1.0M116.4 620.8v1.0M100.6 593.6h-1.0M120.3 620.8v1.0M100.6 597.5h-1.0M124.3 620.8v1.0M100.6 601.4h-1.0M128.2 620.8v1.0M100.6 605.3h-1.0M132.2 620.8v1.0M100.6 609.2h-1.0M136.1 620.8v1.0M100.6 613.0h-1.0M140.1 620.8v1.0M100.6 616.9h-1.0M144.0 620.8v1.0" stroke="#555" stroke-width="0.5"/>
<rect x="77.80" y="450.20" width="2.30" height="46.00" fill="url(#cbar)" stroke="#555" stroke-width="0.3"/>
<line x1="80.10" y1="450.20" x2="81.10" y2="450.20" stroke="#555" stroke-width="0.4"/>
<text x="82.70" y="451.35" font-size="3.2" text-anchor="start" fill="#333" >60</text>
<line x1="80.10" y1="461.70" x2="81.10" y2="461.70" stroke="#555" stroke-width="0.4"/>
<text x="82.70" y="462.85" font-size="3.2" text-anchor="start" fill="#333" >31.09</text>
<line x1="80.10" y1="473.20" x2="81.10" y2="473.20" stroke="#555" stroke-width="0.4"/>
<text x="82.70" y="474.35" font-size="3.2" text-anchor="start" fill="#333" >15.9</text>
<line x1="80.10" y1="484.70" x2="81.10" y2="484.70" stroke="#555" stroke-width="0.4"/>
<text x="82.70" y="485.85" font-size="3.2" text-anchor="start" fill="#333" >7.744</text>
<line x1="80.10" y1="496.20" x2="81.10" y2="496.20" stroke="#555" stroke-width="0.4"/>
<text x="82.70" y="497.35" font-size="3.2" text-anchor="start" fill="#333" >0</text>
<rect x="77.80" y="513.80" width="2.30" height="46.20" fill="url(#cbar)" stroke="#555" stroke-width="0.3"/>
<line x1="80.10" y1="513.80" x2="81.10" y2="513.80" stroke="#555" stroke-width="0.4"/>
<text x="82.70" y="514.95" font-size="3.2" text-anchor="start" fill="#333" >60</text>
<line x1="80.10" y1="525.35" x2="81.10" y2="525.35" stroke="#555" stroke-width="0.4"/>
<text x="82.70" y="526.50" font-size="3.2" text-anchor="start" fill="#333" >26.91</text>
<line x1="80.10" y1="536.90" x2="81.10" y2="536.90" stroke="#555" stroke-width="0.4"/>
<text x="82.70" y="538.05" font-size="3.2" text-anchor="start" fill="#333" >11.74</text>
<line x1="80.10" y1="548.45" x2="81.10" y2="548.45" stroke="#555" stroke-width="0.4"/>
<text x="82.70" y="549.60" font-size="3.2" text-anchor="start" fill="#333" >4.406</text>
<line x1="80.10" y1="560.00" x2="81.10" y2="560.00" stroke="#555" stroke-width="0.4"/>
<text x="82.70" y="561.15" font-size="3.2" text-anchor="start" fill="#333" >0</text>
<rect x="77.80" y="574.20" width="2.30" height="46.60" fill="url(#cbar)" stroke="#555" stroke-width="0.3"/>
<line x1="80.10" y1="574.20" x2="81.10" y2="574.20" stroke="#555" stroke-width="0.4"/>
<text x="82.70" y="575.35" font-size="3.2" text-anchor="start" fill="#333" >60</text>
<line x1="80.10" y1="585.85" x2="81.10" y2="585.85" stroke="#555" stroke-width="0.4"/>
<text x="82.70" y="587.00" font-size="3.2" text-anchor="start" fill="#333" >26.91</text>
<line x1="80.10" y1="597.50" x2="81.10" y2="597.50" stroke="#555" stroke-width="0.4"/>
<text x="82.70" y="598.65" font-size="3.2" text-anchor="start" fill="#333" >11.74</text>
<line x1="80.10" y1="609.15" x2="81.10" y2="609.15" stroke="#555" stroke-width="0.4"/>
<text x="82.70" y="610.30" font-size="3.2" text-anchor="start" fill="#333" >4.406</text>
<line x1="80.10" y1="620.80" x2="81.10" y2="620.80" stroke="#555" stroke-width="0.4"/>
<text x="82.70" y="621.95" font-size="3.2" text-anchor="start" fill="#333" >0</text>
<rect x="149.00" y="450.20" width="2.30" height="46.00" fill="url(#cbar)" stroke="#555" stroke-width="0.3"/>
<line x1="151.30" y1="450.20" x2="152.30" y2="450.20" stroke="#555" stroke-width="0.4"/>
<text x="153.90" y="451.35" font-size="3.2" text-anchor="start" fill="#333" >60</text>
<line x1="151.30" y1="461.70" x2="152.30" y2="461.70" stroke="#555" stroke-width="0.4"/>
<text x="153.90" y="462.85" font-size="3.2" text-anchor="start" fill="#333" >31.09</text>
<line x1="151.30" y1="473.20" x2="152.30" y2="473.20" stroke="#555" stroke-width="0.4"/>
<text x="153.90" y="474.35" font-size="3.2" text-anchor="start" fill="#333" >15.9</text>
<line x1="151.30" y1="484.70" x2="152.30" y2="484.70" stroke="#555" stroke-width="0.4"/>
<text x="153.90" y="485.85" font-size="3.2" text-anchor="start" fill="#333" >7.744</text>
<line x1="151.30" y1="496.20" x2="152.30" y2="496.20" stroke="#555" stroke-width="0.4"/>
<text x="153.90" y="497.35" font-size="3.2" text-anchor="start" fill="#333" >0</text>
<rect x="149.00" y="513.80" width="2.30" height="46.20" fill="url(#cbar)" stroke="#555" stroke-width="0.3"/>
<line x1="151.30" y1="513.80" x2="152.30" y2="513.80" stroke="#555" stroke-width="0.4"/>
<text x="153.90" y="514.95" font-size="3.2" text-anchor="start" fill="#333" >60</text>
<line x1="151.30" y1="525.35" x2="152.30" y2="525.35" stroke="#555" stroke-width="0.4"/>
<text x="153.90" y="526.50" font-size="3.2" text-anchor="start" fill="#333" >26.91</text>
<line x1="151.30" y1="536.90" x2="152.30" y2="536.90" stroke="#555" stroke-width="0.4"/>
<text x="153.90" y="538.05" font-size="3.2" text-anchor="start" fill="#333" >11.74</text>
<line x1="151.30" y1="548.45" x2="152.30" y2="548.45" stroke="#555" stroke-width="0.4"/>
<text x="153.90" y="549.60" font-size="3.2" text-anchor="start" fill="#333" >4.406</text>
<line x1="151.30" y1="560.00" x2="152.30" y2="560.00" stroke="#555" stroke-width="0.4"/>
<text x="153.90" y="561.15" font-size="3.2" text-anchor="start" fill="#333" >0</text>
<rect x="149.00" y="574.20" width="2.30" height="46.60" fill="url(#cbar)" stroke="#555" stroke-width="0.3"/>
<line x1="151.30" y1="574.20" x2="152.30" y2="574.20" stroke="#555" stroke-width="0.4"/>
<text x="153.90" y="575.35" font-size="3.2" text-anchor="start" fill="#333" >60</text>
<line x1="151.30" y1="585.85" x2="152.30" y2="585.85" stroke="#555" stroke-width="0.4"/>
<text x="153.90" y="587.00" font-size="3.2" text-anchor="start" fill="#333" >26.91</text>
<line x1="151.30" y1="597.50" x2="152.30" y2="597.50" stroke="#555" stroke-width="0.4"/>
<text x="153.90" y="598.65" font-size="3.2" text-anchor="start" fill="#333" >11.74</text>
<line x1="151.30" y1="609.15" x2="152.30" y2="609.15" stroke="#555" stroke-width="0.4"/>
<text x="153.90" y="610.30" font-size="3.2" text-anchor="start" fill="#333" >4.406</text>
<line x1="151.30" y1="620.80" x2="152.30" y2="620.80" stroke="#555" stroke-width="0.4"/>
<text x="153.90" y="621.95" font-size="3.2" text-anchor="start" fill="#333" >0</text>
<line x1="25.80" y1="450.00" x2="25.80" y2="620.50" stroke="#777" stroke-width="1.1"/>
<text x="23.60" y="537.00" font-size="7.0" text-anchor="middle" fill="#1a1a1a" stroke="#1a1a1a" stroke-width="0.16" textLength="13.70" lengthAdjust="spacingAndGlyphs" transform="rotate(-90 23.60 537.00)" >tSNE2</text>
<text x="53.50" y="629.80" font-size="7.0" text-anchor="middle" fill="#1a1a1a" stroke="#1a1a1a" stroke-width="0.16" textLength="13.30" lengthAdjust="spacingAndGlyphs" >tSNE1</text>
<text x="124.30" y="629.80" font-size="7.0" text-anchor="middle" fill="#1a1a1a" stroke="#1a1a1a" stroke-width="0.16" textLength="13.30" lengthAdjust="spacingAndGlyphs" >tSNE1</text>
<text x="194.60" y="442.60" font-size="5.4" text-anchor="start" fill="#1a1a1a" stroke="#1a1a1a" stroke-width="0.1" textLength="38.40" lengthAdjust="spacingAndGlyphs" >Tcl1 tg IRF4 +/+</text>
<text x="275.40" y="442.60" font-size="5.4" text-anchor="start" fill="#1a1a1a" stroke="#1a1a1a" stroke-width="0.1" textLength="44.60" lengthAdjust="spacingAndGlyphs" >Tcl1 tg IRF4 ΔB/ΔB</text>
<text x="194.60" y="448.80" font-size="3.9" text-anchor="start" fill="#1a1a1a" textLength="23.10" lengthAdjust="spacingAndGlyphs" stroke="none">PD-1 159Tb</text>
<text x="275.40" y="448.80" font-size="3.9" text-anchor="start" fill="#1a1a1a" textLength="22.30" lengthAdjust="spacingAndGlyphs" stroke="none">PD-1 159Tb</text>
<polygon filter="url(#fD)" points="216.5,457.0 217.6,455.4 224.2,454.4 229.4,457.0 230.9,461.0 230.4,467.1 228.3,471.2 224.2,471.7 220.1,470.7 216.5,469.7 215.5,465.1 216.0,460.0" fill="#262886" stroke="#262886" stroke-width="0.6" stroke-linejoin="round"/>
<polygon filter="url(#fL)" points="209.4,463.2 211.9,462.0 215.7,460.2 215.2,465.2 216.2,470.0 211.9,470.8 209.6,470.1 208.5,466.8" fill="#5c60b4" stroke="#5c60b4" stroke-width="0.6" stroke-linejoin="round"/>
<polygon filter="url(#fL)" points="206.6,462.4 209.6,462.9 210.1,468.0 209.1,472.0 208.1,476.1 206.0,476.6 205.2,474.1 206.6,469.5 205.8,465.4" fill="#5c60b4" stroke="#5c60b4" stroke-width="0.6" stroke-linejoin="round"/>
<polygon filter="url(#fL)" points="210.5,473.6 216.1,472.5 219.7,474.6 221.8,478.6 220.2,483.2 216.6,486.3 211.5,487.3 208.4,485.8 207.4,481.2 208.4,477.1" fill="#5c60b4" stroke="#5c60b4" stroke-width="0.6" stroke-linejoin="round"/>
<polygon filter="url(#fD)" points="227.9,475.3 233.0,474.8 237.1,473.7 240.2,476.3 243.3,479.3 243.8,485.4 242.3,490.5 238.2,493.6 234.1,495.6 230.5,493.6 226.9,488.5 224.8,482.4 224.3,478.3" fill="#6a6cb8" stroke="#6a6cb8" stroke-width="0.6" stroke-linejoin="round"/>
<polygon filter="url(#fD)" points="227.6,475.3 231.7,474.9 232.0,481.4 232.6,489.5 233.8,495.6 230.2,493.6 226.6,488.5 224.6,482.4 224.1,478.4" fill="#d8642e" stroke="#d8642e" stroke-width="0.6" stroke-linejoin="round"/>
<polygon filter="url(#fL)" points="238.5,471.7 242.1,471.2 243.8,473.3 243.6,476.3 241.1,477.0 238.5,475.3" fill="#33379a" stroke="#33379a" stroke-width="0.6" stroke-linejoin="round"/>
<polygon filter="url(#fL)" points="228.9,490.5 232.0,492.0 236.1,491.0 238.6,489.4 238.1,493.0 235.0,496.1 230.9,496.6 228.4,494.0" fill="#33379a" stroke="#33379a" stroke-width="0.6" stroke-linejoin="round"/>
<polygon filter="url(#fD)" points="221.6,487.5 225.2,488.0 226.2,491.1 227.2,494.1 228.2,498.2 225.2,500.7 219.0,501.2 213.9,499.2 211.3,496.1 212.9,493.1 218.0,490.0" fill="#33379a" stroke="#33379a" stroke-width="0.6" stroke-linejoin="round"/>
<polygon filter="url(#fL)" points="235.0,467.5 237.3,466.3 239.3,465.3 238.8,466.8 236.3,468.3" fill="#33379a" stroke="#33379a" stroke-width="0.6" stroke-linejoin="round"/>
<path d="M200.4 471.2h0M201.8 472.1h0M202.6 472.0h0M200.7 486.8h0M200.6 485.0h0M200.2 485.1h0M199.4 481.8h0M198.0 481.1h0M198.3 480.7h0" stroke="#33379a" stroke-width="1.35" stroke-linecap="round" fill="none"/>
<path d="M198.7 471.6h0M201.8 471.4h0M201.6 471.9h0M198.7 484.8h0M198.6 485.4h0M199.2 473.6h0M237.2 486.0h0M231.8 489.5h0M232.1 489.1h0M232.3 481.2h0M236.2 486.7h0M235.6 476.7h0" stroke="#33379a" stroke-width="1.05" stroke-linecap="round" fill="none"/>
<path d="M202.5 474.0h0M202.3 473.2h0M203.8 477.3h0M203.6 477.0h0M203.2 483.5h0M204.3 482.7h0M203.7 484.6h0M200.5 485.3h0M198.5 481.6h0M232.6 493.4h0" stroke="#33379a" stroke-width="1.20" stroke-linecap="round" fill="none"/>
<path d="M203.4 475.0h0M204.6 476.8h0M203.5 481.4h0M204.6 481.2h0M204.1 484.8h0M203.2 486.7h0M203.3 485.0h0M198.7 481.3h0M198.3 471.9h0M199.3 472.9h0M240.6 491.0h0M233.9 484.8h0M226.4 481.2h0M240.5 491.1h0M230.5 491.8h0M233.0 478.3h0M241.9 480.3h0M242.1 483.5h0M235.0 476.7h0M226.1 484.6h0" stroke="#33379a" stroke-width="0.90" stroke-linecap="round" fill="none"/>
<path d="M198.9 477.4h0M200.0 472.8h0M242.8 480.4h0M239.8 486.7h0M236.5 480.3h0M242.7 486.3h0M232.9 479.8h0M234.1 485.2h0M239.6 487.8h0M240.6 478.1h0M240.6 484.2h0M225.9 479.0h0" stroke="#33379a" stroke-width="0.75" stroke-linecap="round" fill="none"/>
<path d="M208.7 465.3h0M206.8 465.8h0M208.1 475.4h0M206.6 472.2h0M206.8 470.2h0M207.1 463.3h0M225.7 482.3h0M238.6 484.7h0M236.5 477.1h0M234.6 482.6h0M231.9 482.3h0M235.2 476.1h0M233.4 490.2h0M230.2 491.2h0M237.1 476.2h0M232.4 490.6h0M231.2 478.5h0M227.3 478.5h0M241.8 486.3h0" stroke="#e9823a" stroke-width="0.75" stroke-linecap="round" fill="none"/>
<path d="M209.5 467.2h0M231.0 487.3h0M232.3 487.1h0M235.1 486.0h0M231.0 490.4h0M229.9 491.6h0M238.5 486.2h0" stroke="#c8201e" stroke-width="0.90" stroke-linecap="round" fill="none"/>
<path d="M207.4 469.9h0M209.5 466.2h0M208.3 474.0h0M209.4 464.3h0M238.0 491.9h0M233.1 481.0h0M240.3 485.4h0M237.2 485.8h0M236.8 476.6h0M239.6 477.4h0M233.7 485.4h0M233.6 482.1h0M227.9 487.2h0" stroke="#e9823a" stroke-width="0.90" stroke-linecap="round" fill="none"/>
<path d="M209.1 470.2h0M208.4 468.0h0M209.0 465.6h0M209.1 465.2h0M234.6 478.9h0M231.5 490.9h0M233.5 488.4h0M236.1 490.7h0M240.4 490.3h0" stroke="#e9823a" stroke-width="1.05" stroke-linecap="round" fill="none"/>
<path d="M207.7 475.1h0M206.7 472.4h0M206.9 463.6h0M226.3 479.4h0M232.1 488.3h0M237.5 491.7h0" stroke="#c8201e" stroke-width="0.60" stroke-linecap="round" fill="none"/>
<path d="M206.4 474.7h0M207.2 469.3h0M208.5 464.4h0M231.8 492.8h0M228.1 479.4h0M231.3 491.0h0M226.6 480.9h0M233.1 487.1h0M228.7 486.9h0M238.8 479.9h0M241.3 486.8h0" stroke="#ffffff" stroke-width="0.90" stroke-linecap="round" fill="none"/>
<path d="M208.1 469.9h0M234.9 482.0h0M228.7 480.9h0" stroke="#e9823a" stroke-width="1.20" stroke-linecap="round" fill="none"/>
<path d="M208.0 469.7h0M209.1 463.8h0M236.6 484.7h0M229.4 479.7h0M226.8 477.2h0M234.4 490.7h0M238.3 490.1h0M218.7 475.4h0M213.2 478.1h0M215.9 473.5h0M220.1 482.0h0M223.0 492.5h0M224.5 496.0h0M212.9 495.3h0" stroke="#ffffff" stroke-width="0.75" stroke-linecap="round" fill="none"/>
<path d="M208.5 465.7h0M208.2 467.7h0M209.8 465.8h0M207.9 465.6h0M236.0 480.8h0" stroke="#f0c030" stroke-width="0.60" stroke-linecap="round" fill="none"/>
<path d="M208.5 463.7h0M209.8 466.4h0M206.6 464.6h0M225.7 480.9h0M230.7 480.3h0M239.4 490.8h0M238.9 484.1h0M231.6 486.2h0M237.5 482.3h0M234.6 479.5h0" stroke="#f0c030" stroke-width="0.90" stroke-linecap="round" fill="none"/>
<path d="M208.1 474.3h0M208.1 472.6h0M207.0 465.0h0M208.5 470.1h0M242.1 485.0h0M237.4 484.1h0" stroke="#ffffff" stroke-width="1.20" stroke-linecap="round" fill="none"/>
<path d="M208.5 470.1h0M238.1 491.9h0M228.8 477.9h0M239.6 488.5h0M229.3 486.2h0M239.0 485.4h0M236.6 478.1h0M241.3 479.7h0" stroke="#c8201e" stroke-width="1.20" stroke-linecap="round" fill="none"/>
<path d="M208.8 469.6h0M207.8 474.1h0M207.1 475.3h0M230.7 479.2h0M233.2 492.5h0M236.6 488.1h0M233.4 480.5h0M237.1 478.9h0M240.2 481.0h0M240.5 485.6h0M237.4 481.3h0M236.1 483.1h0" stroke="#c8201e" stroke-width="1.05" stroke-linecap="round" fill="none"/>
<path d="M207.4 473.4h0M209.5 467.5h0M207.1 464.0h0M227.2 480.2h0M227.0 476.9h0" stroke="#f0c030" stroke-width="0.75" stroke-linecap="round" fill="none"/>
<path d="M206.1 471.4h0M229.8 478.1h0M234.5 488.8h0M239.8 481.0h0M237.1 489.2h0M231.7 492.3h0" stroke="#e9823a" stroke-width="0.60" stroke-linecap="round" fill="none"/>
<path d="M206.9 474.8h0M207.1 474.8h0M209.8 467.3h0M208.2 470.6h0M236.5 484.7h0M236.4 491.6h0M240.4 478.2h0M233.8 482.6h0M235.3 483.3h0M241.5 484.5h0M231.1 477.6h0M230.9 484.2h0" stroke="#f0c030" stroke-width="1.05" stroke-linecap="round" fill="none"/>
<path d="M207.5 464.3h0M208.8 469.6h0M234.7 484.6h0M231.7 476.5h0M225.9 483.9h0M237.3 476.1h0M237.8 487.6h0M236.6 484.3h0M240.5 487.5h0M235.6 487.6h0M237.7 488.9h0M231.4 486.2h0M239.1 486.2h0" stroke="#c8201e" stroke-width="0.75" stroke-linecap="round" fill="none"/>
<path d="M207.3 475.8h0M229.8 478.4h0M240.6 485.6h0M233.0 491.7h0" stroke="#f0c030" stroke-width="1.20" stroke-linecap="round" fill="none"/>
<path d="M240.2 488.9h0M241.1 489.7h0M232.8 494.0h0M231.7 482.4h0M214.7 478.7h0M211.5 485.7h0M219.9 478.3h0M214.5 478.1h0M220.3 478.6h0M211.4 476.3h0M212.0 476.9h0M215.3 476.9h0M219.2 476.9h0M216.2 474.7h0M219.0 476.1h0M219.3 481.4h0M213.0 478.4h0M214.3 483.4h0M212.8 482.8h0M213.3 478.1h0M214.1 479.0h0M215.0 480.5h0M216.8 481.5h0M211.2 484.1h0M219.7 477.2h0M209.9 483.2h0M211.9 477.9h0M225.0 490.6h0M224.8 495.1h0M221.9 491.0h0M220.4 492.9h0M216.4 492.6h0M218.0 490.4h0M220.3 492.4h0M214.1 497.7h0M219.2 490.7h0M217.0 496.5h0M221.1 494.0h0M214.1 494.3h0M221.6 490.6h0M226.7 497.0h0M222.1 490.4h0M221.8 491.3h0" stroke="#ffffff" stroke-width="0.60" stroke-linecap="round" fill="none"/>
<path d="M240.9 488.6h0M229.9 484.4h0M233.2 477.2h0M227.6 486.1h0M235.0 491.9h0" stroke="#5aa0d8" stroke-width="1.20" stroke-linecap="round" fill="none"/>
<path d="M240.7 486.1h0M235.0 490.4h0M225.5 478.5h0M230.6 489.2h0M229.4 481.3h0M228.7 479.3h0" stroke="#5aa0d8" stroke-width="0.60" stroke-linecap="round" fill="none"/>
<path d="M231.7 484.9h0M226.9 477.7h0M235.1 479.8h0M228.5 483.0h0M234.8 475.0h0M235.1 483.9h0M234.3 480.6h0M242.6 479.9h0" stroke="#5aa0d8" stroke-width="0.75" stroke-linecap="round" fill="none"/>
<path d="M236.4 487.5h0M230.4 482.2h0M236.2 484.0h0" stroke="#33379a" stroke-width="0.60" stroke-linecap="round" fill="none"/>
<path d="M239.2 489.2h0M237.3 491.6h0M233.1 480.5h0M241.2 480.1h0M233.5 493.1h0" stroke="#ffffff" stroke-width="1.05" stroke-linecap="round" fill="none"/>
<path d="M238.3 479.0h0M238.4 490.1h0M225.9 481.7h0" stroke="#5aa0d8" stroke-width="1.05" stroke-linecap="round" fill="none"/>
<path d="M229.1 481.4h0M228.7 482.0h0M239.6 485.6h0" stroke="#5aa0d8" stroke-width="0.90" stroke-linecap="round" fill="none"/>
<path d="M209.7 481.3h0M218.8 476.4h0M213.6 485.0h0M217.0 479.7h0M215.7 480.6h0M214.5 484.2h0M219.5 476.4h0M216.0 475.1h0M213.6 476.4h0M209.0 482.0h0M212.6 481.9h0M216.6 479.4h0M209.5 479.5h0M209.1 482.3h0M214.0 478.3h0M218.1 479.6h0M213.8 475.2h0M212.4 485.9h0M217.6 479.1h0M215.4 480.9h0M219.9 478.8h0M217.7 483.5h0M220.3 477.1h0M226.9 494.4h0M223.5 498.4h0M225.2 497.1h0M218.9 491.7h0M220.6 500.6h0M219.6 490.5h0M220.8 491.2h0M216.9 498.4h0M218.4 495.8h0M222.8 488.5h0M217.2 495.1h0" stroke="#ffffff" stroke-width="0.45" stroke-linecap="round" fill="none"/>
<rect x="194.30" y="451.50" width="52.70" height="52.00" fill="none" stroke="#333" stroke-width="0.9"/>
<path d="M194.3 455.8h-1.0M198.7 503.5v1.0M194.3 460.2h-1.0M203.1 503.5v1.0M194.3 464.5h-1.0M207.5 503.5v1.0M194.3 468.8h-1.0M211.9 503.5v1.0M194.3 473.2h-1.0M216.3 503.5v1.0M194.3 477.5h-1.0M220.7 503.5v1.0M194.3 481.8h-1.0M225.0 503.5v1.0M194.3 486.2h-1.0M229.4 503.5v1.0M194.3 490.5h-1.0M233.8 503.5v1.0M194.3 494.8h-1.0M238.2 503.5v1.0M194.3 499.2h-1.0M242.6 503.5v1.0" stroke="#555" stroke-width="0.5"/>
<polygon filter="url(#fL)" points="297.5,457.0 298.5,455.4 305.1,454.4 310.2,457.0 311.7,461.0 311.2,467.1 309.2,471.2 305.1,471.7 301.0,470.7 297.5,469.7 296.4,465.1 297.0,460.0" fill="#5c60b4" stroke="#5c60b4" stroke-width="0.6" stroke-linejoin="round"/>
<polygon filter="url(#fL)" points="290.3,463.2 292.9,462.0 296.7,460.2 296.1,465.2 297.2,470.0 292.9,470.8 290.5,470.1 289.5,466.8" fill="#5c60b4" stroke="#5c60b4" stroke-width="0.6" stroke-linejoin="round"/>
<polygon filter="url(#fL)" points="287.6,462.4 290.6,462.9 291.1,468.0 290.1,472.0 289.1,476.1 287.0,476.6 286.2,474.1 287.6,469.5 286.8,465.4" fill="#5c60b4" stroke="#5c60b4" stroke-width="0.6" stroke-linejoin="round"/>
<polygon filter="url(#fD)" points="291.4,473.6 297.0,472.5 300.6,474.6 302.6,478.6 301.1,483.2 297.6,486.3 292.5,487.3 289.4,485.8 288.4,481.2 289.4,477.1" fill="#262886" stroke="#262886" stroke-width="0.6" stroke-linejoin="round"/>
<polygon filter="url(#fD)" points="308.7,475.3 313.8,474.8 317.9,473.7 321.0,476.3 324.0,479.3 324.5,485.4 323.0,490.5 318.9,493.6 314.9,495.6 311.3,493.6 307.7,488.5 305.7,482.4 305.2,478.3" fill="#6a6cb8" stroke="#6a6cb8" stroke-width="0.6" stroke-linejoin="round"/>
<polygon filter="url(#fD)" points="308.5,475.3 312.6,474.9 312.8,481.4 313.4,489.5 314.6,495.6 311.0,493.6 307.5,488.5 305.4,482.4 304.9,478.4" fill="#d87038" stroke="#d87038" stroke-width="0.6" stroke-linejoin="round"/>
<polygon filter="url(#fL)" points="319.3,471.7 322.8,471.2 324.6,473.3 324.4,476.3 321.8,477.0 319.3,475.3" fill="#33379a" stroke="#33379a" stroke-width="0.6" stroke-linejoin="round"/>
<polygon filter="url(#fL)" points="309.7,490.5 312.8,492.0 316.8,491.0 319.4,489.4 318.9,493.0 315.8,496.1 311.8,496.6 309.2,494.0" fill="#33379a" stroke="#33379a" stroke-width="0.6" stroke-linejoin="round"/>
<polygon filter="url(#fD)" points="302.5,487.5 306.0,488.0 307.1,491.1 308.1,494.1 309.1,498.2 306.0,500.7 299.9,501.2 294.8,499.2 292.3,496.1 293.8,493.1 298.9,490.0" fill="#262886" stroke="#262886" stroke-width="0.6" stroke-linejoin="round"/>
<polygon filter="url(#fD)" points="315.8,467.5 318.1,466.3 320.1,465.3 319.6,466.8 317.0,468.3" fill="#c8201e" stroke="#c8201e" stroke-width="0.6" stroke-linejoin="round"/>
<path d="M281.8 471.8h0M280.0 471.1h0M283.0 472.7h0M283.8 474.1h0M284.1 473.4h0M285.1 481.0h0M282.5 486.7h0M279.1 481.1h0M279.4 474.5h0M310.7 488.6h0M312.8 478.8h0M312.5 491.0h0M320.9 483.0h0M311.9 487.8h0" stroke="#33379a" stroke-width="1.20" stroke-linecap="round" fill="none"/>
<path d="M281.4 471.5h0M283.6 478.2h0M285.1 475.9h0M285.6 482.4h0M285.0 484.0h0M281.5 486.8h0M283.0 485.4h0M279.6 481.6h0M280.5 473.7h0M279.5 475.4h0M278.8 475.0h0M311.4 478.8h0M308.9 485.7h0M320.1 476.9h0M309.2 476.2h0" stroke="#33379a" stroke-width="0.90" stroke-linecap="round" fill="none"/>
<path d="M282.5 470.9h0M283.2 485.6h0M309.5 484.9h0M311.6 483.6h0M314.1 491.4h0M311.6 479.2h0M317.0 479.0h0" stroke="#33379a" stroke-width="0.75" stroke-linecap="round" fill="none"/>
<path d="M283.8 472.7h0M284.5 477.0h0M284.2 481.0h0M283.3 485.4h0M281.3 485.2h0M280.3 484.1h0M279.4 479.9h0" stroke="#33379a" stroke-width="1.35" stroke-linecap="round" fill="none"/>
<path d="M285.2 478.5h0M285.7 483.0h0M285.2 485.6h0M282.1 486.7h0M279.1 482.8h0M280.9 482.3h0M280.3 479.4h0M309.8 481.7h0M317.9 490.1h0M319.1 481.6h0M312.4 476.8h0M319.8 485.9h0M316.0 477.0h0M318.2 490.5h0M320.7 479.1h0" stroke="#33379a" stroke-width="1.05" stroke-linecap="round" fill="none"/>
<path d="M288.0 469.2h0M286.9 474.5h0M290.0 469.1h0M287.8 468.4h0M288.2 474.2h0M288.4 463.9h0M315.8 476.2h0M318.1 488.4h0M311.3 480.4h0M308.7 479.6h0M307.0 481.4h0M314.1 482.8h0M312.6 491.0h0M322.9 489.0h0" stroke="#c8201e" stroke-width="0.75" stroke-linecap="round" fill="none"/>
<path d="M288.7 475.8h0M287.0 473.4h0M289.2 464.5h0M289.6 464.4h0M287.4 472.2h0M289.1 468.4h0M315.7 493.5h0M310.2 476.4h0M315.4 487.7h0" stroke="#e9823a" stroke-width="0.60" stroke-linecap="round" fill="none"/>
<path d="M290.5 464.5h0M287.0 471.7h0M287.1 473.2h0M317.1 487.2h0M309.6 479.1h0M317.4 489.4h0M313.8 490.7h0M319.5 477.1h0M315.2 490.6h0M318.8 482.0h0M307.0 484.8h0M308.6 480.3h0M315.1 480.9h0M317.3 487.2h0M313.0 493.3h0" stroke="#e9823a" stroke-width="1.05" stroke-linecap="round" fill="none"/>
<path d="M289.7 469.7h0M290.0 464.7h0M288.9 470.7h0M309.4 476.6h0M318.0 487.9h0M315.6 485.2h0M315.4 485.7h0M311.5 483.9h0M321.2 489.7h0M315.7 480.6h0M309.3 485.2h0M306.4 481.8h0M320.1 478.7h0M306.0 478.6h0M317.4 489.6h0" stroke="#e9823a" stroke-width="0.90" stroke-linecap="round" fill="none"/>
<path d="M290.0 466.0h0M287.9 473.2h0M314.8 487.6h0M309.2 489.5h0M311.4 487.1h0M313.5 480.9h0M308.3 476.6h0M321.3 480.7h0M312.1 486.9h0M311.8 483.2h0M304.1 460.8h0M309.4 457.3h0M302.8 466.5h0M305.6 466.0h0" stroke="#ffffff" stroke-width="0.75" stroke-linecap="round" fill="none"/>
<path d="M289.5 463.7h0M288.1 470.0h0M288.6 472.7h0M289.1 464.4h0M309.3 477.9h0M315.1 488.7h0M321.2 480.8h0M310.8 489.0h0M321.5 480.2h0M311.8 479.1h0M322.6 485.0h0M309.5 479.1h0M319.3 479.8h0M316.5 492.9h0M315.5 488.8h0M320.6 483.9h0M313.6 490.0h0" stroke="#c8201e" stroke-width="1.05" stroke-linecap="round" fill="none"/>
<path d="M287.7 463.2h0M289.5 468.4h0M288.6 466.3h0M320.6 483.7h0M309.8 488.5h0M316.1 494.2h0M316.7 490.7h0M309.8 480.0h0M313.8 476.4h0" stroke="#ffffff" stroke-width="0.90" stroke-linecap="round" fill="none"/>
<path d="M288.3 467.1h0M287.9 472.8h0M286.8 473.2h0M288.2 470.2h0M316.6 488.6h0M319.6 489.1h0M311.8 491.1h0M312.1 490.4h0M313.1 492.5h0M317.4 482.7h0M316.0 480.7h0M312.4 480.4h0M310.3 489.7h0M312.0 479.7h0M318.6 481.0h0M321.4 489.3h0M313.7 491.4h0M311.1 485.0h0M315.2 486.8h0M312.4 479.1h0M315.7 488.2h0" stroke="#e9823a" stroke-width="0.75" stroke-linecap="round" fill="none"/>
<path d="M289.5 466.3h0M289.7 468.9h0M288.6 468.9h0M314.1 478.2h0M316.8 489.3h0M323.8 483.1h0M321.1 481.6h0M318.6 491.7h0" stroke="#f0c030" stroke-width="0.90" stroke-linecap="round" fill="none"/>
<path d="M288.8 470.3h0M286.6 474.1h0M289.3 472.5h0M312.0 476.2h0M314.3 487.7h0M317.3 484.3h0M314.4 481.0h0M313.9 494.3h0M319.9 492.2h0" stroke="#e9823a" stroke-width="1.20" stroke-linecap="round" fill="none"/>
<path d="M287.8 474.2h0M308.9 477.2h0M320.1 486.7h0M315.0 491.6h0M315.8 478.8h0M312.0 480.7h0M318.5 482.4h0M315.7 492.1h0M309.3 479.0h0M317.2 492.7h0" stroke="#ffffff" stroke-width="1.05" stroke-linecap="round" fill="none"/>
<path d="M290.1 464.2h0M288.5 472.6h0M319.0 490.0h0M317.2 475.7h0M312.3 489.0h0M321.6 484.9h0M309.9 480.9h0" stroke="#f0c030" stroke-width="0.75" stroke-linecap="round" fill="none"/>
<path d="M287.2 464.9h0M289.5 466.8h0M318.5 488.3h0" stroke="#f0c030" stroke-width="0.60" stroke-linecap="round" fill="none"/>
<path d="M289.5 467.2h0M288.6 466.1h0M310.8 489.3h0M309.1 486.0h0M314.5 479.3h0M313.3 489.1h0M314.2 483.6h0M313.3 485.8h0" stroke="#c8201e" stroke-width="0.90" stroke-linecap="round" fill="none"/>
<path d="M287.4 471.6h0M290.3 463.6h0M318.3 486.7h0M314.6 477.3h0" stroke="#ffffff" stroke-width="1.20" stroke-linecap="round" fill="none"/>
<path d="M288.5 471.0h0M289.0 469.4h0M311.6 490.2h0M311.4 485.0h0M314.9 480.1h0M308.7 486.9h0M297.9 469.3h0M308.5 469.0h0M310.4 463.2h0M304.6 469.4h0M306.5 463.7h0M307.1 465.2h0M308.3 461.2h0M297.5 464.7h0M306.8 457.2h0M307.8 464.3h0M308.4 460.6h0M298.1 464.3h0M300.5 460.0h0M298.4 462.2h0M302.3 468.6h0M305.6 459.0h0M309.0 459.2h0M298.3 458.8h0M303.7 464.8h0M300.9 466.2h0M306.7 457.7h0M301.2 459.2h0M304.0 458.3h0M297.6 465.9h0M304.1 456.8h0M300.6 460.4h0M303.7 468.3h0M306.4 459.3h0M307.9 470.7h0M308.7 464.7h0M305.4 470.5h0" stroke="#ffffff" stroke-width="0.60" stroke-linecap="round" fill="none"/>
<path d="M289.7 469.1h0M317.7 480.3h0M312.9 482.9h0M323.8 485.4h0M315.4 478.0h0M308.6 484.4h0M310.3 483.4h0" stroke="#c8201e" stroke-width="0.60" stroke-linecap="round" fill="none"/>
<path d="M288.4 474.8h0M319.3 479.8h0M321.4 479.2h0" stroke="#f0c030" stroke-width="1.05" stroke-linecap="round" fill="none"/>
<path d="M321.7 479.0h0M311.7 487.6h0M312.7 475.7h0M312.8 492.4h0" stroke="#5aa0d8" stroke-width="1.05" stroke-linecap="round" fill="none"/>
<path d="M311.0 485.5h0M308.5 481.5h0M319.7 480.7h0" stroke="#33379a" stroke-width="0.60" stroke-linecap="round" fill="none"/>
<path d="M316.3 482.7h0M313.1 482.0h0M316.6 477.6h0M318.5 486.4h0" stroke="#5aa0d8" stroke-width="0.90" stroke-linecap="round" fill="none"/>
<path d="M308.8 479.7h0M312.8 485.2h0M314.8 492.0h0M318.8 476.4h0" stroke="#5aa0d8" stroke-width="0.75" stroke-linecap="round" fill="none"/>
<path d="M317.6 475.7h0M310.4 483.4h0M321.7 478.2h0" stroke="#c8201e" stroke-width="1.20" stroke-linecap="round" fill="none"/>
<path d="M311.9 484.6h0" stroke="#5aa0d8" stroke-width="1.20" stroke-linecap="round" fill="none"/>
<path d="M311.8 479.1h0M316.1 479.6h0M310.6 491.6h0" stroke="#f0c030" stroke-width="1.20" stroke-linecap="round" fill="none"/>
<path d="M312.5 492.9h0" stroke="#5aa0d8" stroke-width="0.60" stroke-linecap="round" fill="none"/>
<path d="M297.8 457.4h0M302.5 465.4h0M308.8 470.3h0M304.2 457.0h0M306.6 460.3h0M303.8 460.2h0M310.8 465.0h0M300.1 466.2h0M307.7 456.9h0M308.0 459.5h0M301.2 464.3h0M309.0 458.2h0M305.7 456.3h0M304.2 468.7h0M304.3 468.0h0M309.6 465.7h0M299.9 457.8h0M303.9 466.3h0M298.1 464.1h0M299.0 458.5h0M304.2 457.4h0M298.4 466.1h0M302.5 468.5h0M297.8 458.7h0M297.9 457.5h0" stroke="#ffffff" stroke-width="0.45" stroke-linecap="round" fill="none"/>
<rect x="275.40" y="451.50" width="52.30" height="52.00" fill="none" stroke="#333" stroke-width="0.9"/>
<path d="M275.4 455.8h-1.0M279.8 503.5v1.0M275.4 460.2h-1.0M284.1 503.5v1.0M275.4 464.5h-1.0M288.5 503.5v1.0M275.4 468.8h-1.0M292.8 503.5v1.0M275.4 473.2h-1.0M297.2 503.5v1.0M275.4 477.5h-1.0M301.5 503.5v1.0M275.4 481.8h-1.0M305.9 503.5v1.0M275.4 486.2h-1.0M310.3 503.5v1.0M275.4 490.5h-1.0M314.6 503.5v1.0M275.4 494.8h-1.0M319.0 503.5v1.0M275.4 499.2h-1.0M323.3 503.5v1.0" stroke="#555" stroke-width="0.5"/>
<rect x="247.20" y="451.50" width="2.30" height="52.00" fill="url(#cbar)" stroke="#555" stroke-width="0.3"/>
<line x1="249.50" y1="451.50" x2="250.50" y2="451.50" stroke="#555" stroke-width="0.4"/>
<text x="252.10" y="452.65" font-size="3.2" text-anchor="start" fill="#333" >40</text>
<line x1="249.50" y1="464.50" x2="250.50" y2="464.50" stroke="#555" stroke-width="0.4"/>
<text x="252.10" y="465.65" font-size="3.2" text-anchor="start" fill="#333" >26.71</text>
<line x1="249.50" y1="477.50" x2="250.50" y2="477.50" stroke="#555" stroke-width="0.4"/>
<text x="252.10" y="478.65" font-size="3.2" text-anchor="start" fill="#333" >11.74</text>
<line x1="249.50" y1="490.50" x2="250.50" y2="490.50" stroke="#555" stroke-width="0.4"/>
<text x="252.10" y="491.65" font-size="3.2" text-anchor="start" fill="#333" >4.406</text>
<line x1="249.50" y1="503.50" x2="250.50" y2="503.50" stroke="#555" stroke-width="0.4"/>
<text x="252.10" y="504.65" font-size="3.2" text-anchor="start" fill="#333" >0</text>
<rect x="328.20" y="451.50" width="2.30" height="52.00" fill="url(#cbar)" stroke="#555" stroke-width="0.3"/>
<line x1="330.50" y1="451.50" x2="331.50" y2="451.50" stroke="#555" stroke-width="0.4"/>
<text x="333.10" y="452.65" font-size="3.2" text-anchor="start" fill="#333" >40</text>
<line x1="330.50" y1="464.50" x2="331.50" y2="464.50" stroke="#555" stroke-width="0.4"/>
<text x="333.10" y="465.65" font-size="3.2" text-anchor="start" fill="#333" >26.71</text>
<line x1="330.50" y1="477.50" x2="331.50" y2="477.50" stroke="#555" stroke-width="0.4"/>
<text x="333.10" y="478.65" font-size="3.2" text-anchor="start" fill="#333" >11.74</text>
<line x1="330.50" y1="490.50" x2="331.50" y2="490.50" stroke="#555" stroke-width="0.4"/>
<text x="333.10" y="491.65" font-size="3.2" text-anchor="start" fill="#333" >4.406</text>
<line x1="330.50" y1="503.50" x2="331.50" y2="503.50" stroke="#555" stroke-width="0.4"/>
<text x="333.10" y="504.65" font-size="3.2" text-anchor="start" fill="#333" >0</text>
<text x="191.20" y="477.70" font-size="6.8" text-anchor="middle" fill="#1a1a1a" stroke="#1a1a1a" stroke-width="0.16" textLength="13.00" lengthAdjust="spacingAndGlyphs" transform="rotate(-90 191.20 477.70)" >tSNE2</text>
<text x="220.50" y="512.10" font-size="6.8" text-anchor="middle" fill="#1a1a1a" stroke="#1a1a1a" stroke-width="0.16" textLength="13.50" lengthAdjust="spacingAndGlyphs" >tSNE1</text>
<text x="300.60" y="512.10" font-size="6.8" text-anchor="middle" fill="#1a1a1a" stroke="#1a1a1a" stroke-width="0.16" textLength="13.50" lengthAdjust="spacingAndGlyphs" >tSNE1</text>
<text x="199.40" y="529.60" font-size="7.4" text-anchor="start" fill="#111" textLength="53.20" lengthAdjust="spacingAndGlyphs" stroke="none">Flow Cytometry</text>
<rect x="206.10" y="595.79" width="15.60" height="13.50" fill="#2b4f8e" stroke="none" stroke-width="0" />
<rect x="206.10" y="593.60" width="15.60" height="2.19" fill="#b5002b" stroke="none" stroke-width="0" />
<rect x="206.10" y="589.30" width="15.60" height="4.31" fill="#2b4f8e" stroke="none" stroke-width="0" />
<rect x="206.10" y="578.20" width="15.60" height="11.10" fill="#b5002b" stroke="none" stroke-width="0" />
<rect x="206.10" y="572.29" width="15.60" height="5.91" fill="#2b4f8e" stroke="none" stroke-width="0" />
<rect x="206.10" y="539.22" width="15.60" height="33.07" fill="#b5002b" stroke="none" stroke-width="0" />
<line x1="213.90" y1="539.22" x2="213.90" y2="536.08" stroke="#555" stroke-width="1.0"/>
<line x1="213.90" y1="570.03" x2="213.90" y2="577.91" stroke="#000" stroke-width="1.2"/>
<line x1="210.10" y1="570.03" x2="217.70" y2="570.03" stroke="#000" stroke-width="1.25"/>
<line x1="210.10" y1="574.26" x2="217.70" y2="574.26" stroke="#000" stroke-width="1.25"/>
<line x1="213.90" y1="588.28" x2="213.90" y2="594.33" stroke="#000" stroke-width="1.2"/>
<line x1="210.10" y1="588.28" x2="217.70" y2="588.28" stroke="#000" stroke-width="1.25"/>
<line x1="210.10" y1="592.29" x2="217.70" y2="592.29" stroke="#000" stroke-width="1.25"/>
<line x1="213.90" y1="609.30" x2="213.90" y2="611.10" stroke="#111" stroke-width="0.9"/>
<rect x="230.30" y="572.87" width="15.20" height="36.43" fill="#2b4f8e" stroke="none" stroke-width="0" />
<rect x="230.30" y="570.68" width="15.20" height="2.19" fill="#b5002b" stroke="none" stroke-width="0" />
<rect x="230.30" y="566.01" width="15.20" height="4.67" fill="#2b4f8e" stroke="none" stroke-width="0" />
<rect x="230.30" y="562.51" width="15.20" height="3.50" fill="#b5002b" stroke="none" stroke-width="0" />
<rect x="230.30" y="553.09" width="15.20" height="9.42" fill="#2b4f8e" stroke="none" stroke-width="0" />
<rect x="230.30" y="537.03" width="15.20" height="16.06" fill="#b5002b" stroke="none" stroke-width="0" />
<line x1="237.90" y1="537.03" x2="237.90" y2="535.86" stroke="#555" stroke-width="1.0"/>
<line x1="234.10" y1="553.09" x2="241.70" y2="553.09" stroke="#000" stroke-width="1.25"/>
<line x1="234.10" y1="562.00" x2="241.70" y2="562.00" stroke="#000" stroke-width="1.25"/>
<line x1="237.90" y1="565.50" x2="237.90" y2="566.74" stroke="#000" stroke-width="1.2"/>
<line x1="234.10" y1="565.50" x2="241.70" y2="565.50" stroke="#000" stroke-width="1.25"/>
<line x1="237.90" y1="570.46" x2="237.90" y2="571.92" stroke="#000" stroke-width="1.2"/>
<line x1="234.10" y1="570.46" x2="241.70" y2="570.46" stroke="#000" stroke-width="1.25"/>
<line x1="237.90" y1="609.30" x2="237.90" y2="611.10" stroke="#111" stroke-width="0.9"/>
<line x1="223.30" y1="539.22" x2="223.30" y2="609.30" stroke="#222" stroke-width="0.9"/>
<line x1="222.10" y1="578.20" x2="228.20" y2="578.20" stroke="#111" stroke-width="1.0"/>
<line x1="222.10" y1="593.60" x2="228.20" y2="593.60" stroke="#111" stroke-width="1.0"/>
<text x="225.90" y="554.55" font-size="2.8" text-anchor="middle" fill="#444" textLength="4.60" lengthAdjust="spacingAndGlyphs" transform="rotate(-90 225.90 554.55)" >TEM</text>
<text x="225.90" y="583.75" font-size="2.8" text-anchor="middle" fill="#444" textLength="4.60" lengthAdjust="spacingAndGlyphs" transform="rotate(-90 225.90 583.75)" >TCM</text>
<text x="225.90" y="602.73" font-size="2.8" text-anchor="middle" fill="#444" textLength="6.40" lengthAdjust="spacingAndGlyphs" transform="rotate(-90 225.90 602.73)" >Naive</text>
<line x1="247.30" y1="538.12" x2="247.30" y2="609.30" stroke="#222" stroke-width="0.9"/>
<line x1="246.10" y1="562.29" x2="251.80" y2="562.29" stroke="#111" stroke-width="1.0"/>
<line x1="246.10" y1="571.19" x2="251.80" y2="571.19" stroke="#111" stroke-width="1.0"/>
<text x="249.90" y="547.25" font-size="2.8" text-anchor="middle" fill="#444" textLength="4.60" lengthAdjust="spacingAndGlyphs" transform="rotate(-90 249.90 547.25)" >TEM</text>
<text x="249.90" y="566.96" font-size="2.8" text-anchor="middle" fill="#444" textLength="4.60" lengthAdjust="spacingAndGlyphs" transform="rotate(-90 249.90 566.96)" >TCM</text>
<text x="249.90" y="588.86" font-size="2.8" text-anchor="middle" fill="#444" textLength="6.40" lengthAdjust="spacingAndGlyphs" transform="rotate(-90 249.90 588.86)" >Naive</text>
<line x1="201.90" y1="532.60" x2="201.90" y2="609.90" stroke="#222" stroke-width="1.4"/>
<line x1="200.90" y1="609.30" x2="247.00" y2="609.30" stroke="#222" stroke-width="1.4"/>
<line x1="199.30" y1="609.30" x2="201.90" y2="609.30" stroke="#222" stroke-width="1.0"/>
<text x="196.50" y="611.30" font-size="5.6" text-anchor="end" fill="#222" stroke="#222" stroke-width="0.1" >0</text>
<line x1="199.30" y1="594.70" x2="201.90" y2="594.70" stroke="#222" stroke-width="1.0"/>
<text x="196.50" y="596.70" font-size="5.6" text-anchor="end" fill="#222" stroke="#222" stroke-width="0.1" textLength="5.60" lengthAdjust="spacingAndGlyphs" >20</text>
<line x1="199.30" y1="580.10" x2="201.90" y2="580.10" stroke="#222" stroke-width="1.0"/>
<text x="196.50" y="582.10" font-size="5.6" text-anchor="end" fill="#222" stroke="#222" stroke-width="0.1" textLength="5.60" lengthAdjust="spacingAndGlyphs" >40</text>
<line x1="199.30" y1="565.50" x2="201.90" y2="565.50" stroke="#222" stroke-width="1.0"/>
<text x="196.50" y="567.50" font-size="5.6" text-anchor="end" fill="#222" stroke="#222" stroke-width="0.1" textLength="5.60" lengthAdjust="spacingAndGlyphs" >60</text>
<line x1="199.30" y1="550.90" x2="201.90" y2="550.90" stroke="#222" stroke-width="1.0"/>
<text x="196.50" y="552.90" font-size="5.6" text-anchor="end" fill="#222" stroke="#222" stroke-width="0.1" textLength="5.60" lengthAdjust="spacingAndGlyphs" >80</text>
<line x1="199.30" y1="536.30" x2="201.90" y2="536.30" stroke="#222" stroke-width="1.0"/>
<text x="196.50" y="538.30" font-size="5.6" text-anchor="end" fill="#222" stroke="#222" stroke-width="0.1" textLength="8.30" lengthAdjust="spacingAndGlyphs" >100</text>
<text x="183.40" y="572.30" font-size="7.8" text-anchor="middle" fill="#222" stroke="#222" stroke-width="0.16" textLength="27.00" lengthAdjust="spacingAndGlyphs" transform="rotate(-90 183.40 572.30)" >% of CD4+</text>
<text x="213.90" y="619.70" font-size="5.3" text-anchor="middle" fill="#222" stroke="#222" stroke-width="0.1" textLength="17.30" lengthAdjust="spacingAndGlyphs" >Tcl-1 tg</text>
<text x="237.90" y="619.70" font-size="5.3" text-anchor="middle" fill="#222" stroke="#222" stroke-width="0.1" textLength="17.30" lengthAdjust="spacingAndGlyphs" >Tcl-1 tg</text>
<text x="237.90" y="626.60" font-size="5.3" text-anchor="middle" fill="#222" stroke="#222" stroke-width="0.1" textLength="25.00" lengthAdjust="spacingAndGlyphs" >IRF4ΔB/ΔB</text>
<text x="283.00" y="529.60" font-size="7.4" text-anchor="start" fill="#111" textLength="52.50" lengthAdjust="spacingAndGlyphs" stroke="none">Flow Cytometry</text>
<rect x="289.40" y="598.79" width="15.70" height="10.51" fill="#2b4f8e" stroke="none" stroke-width="0" />
<rect x="289.40" y="596.16" width="15.70" height="2.63" fill="#b5002b" stroke="none" stroke-width="0" />
<rect x="289.40" y="567.32" width="15.70" height="28.84" fill="#2b4f8e" stroke="none" stroke-width="0" />
<rect x="289.40" y="559.08" width="15.70" height="8.25" fill="#b5002b" stroke="none" stroke-width="0" />
<rect x="289.40" y="551.34" width="15.70" height="7.74" fill="#2b4f8e" stroke="none" stroke-width="0" />
<rect x="289.40" y="537.47" width="15.70" height="13.87" fill="#b5002b" stroke="none" stroke-width="0" />
<line x1="297.25" y1="537.47" x2="297.25" y2="535.57" stroke="#555" stroke-width="1.0"/>
<line x1="297.25" y1="547.62" x2="297.25" y2="551.34" stroke="#000" stroke-width="1.2"/>
<line x1="293.45" y1="547.62" x2="301.05" y2="547.62" stroke="#000" stroke-width="1.25"/>
<line x1="293.45" y1="549.80" x2="301.05" y2="549.80" stroke="#000" stroke-width="1.25"/>
<line x1="297.25" y1="555.72" x2="297.25" y2="566.96" stroke="#000" stroke-width="1.2"/>
<line x1="293.45" y1="555.72" x2="301.05" y2="555.72" stroke="#000" stroke-width="1.25"/>
<line x1="297.25" y1="594.63" x2="297.25" y2="598.35" stroke="#000" stroke-width="1.2"/>
<line x1="293.45" y1="594.63" x2="301.05" y2="594.63" stroke="#000" stroke-width="1.25"/>
<line x1="293.45" y1="597.11" x2="301.05" y2="597.11" stroke="#000" stroke-width="1.25"/>
<line x1="297.25" y1="609.30" x2="297.25" y2="611.10" stroke="#111" stroke-width="0.9"/>
<rect x="313.00" y="578.27" width="15.70" height="31.02" fill="#2b4f8e" stroke="none" stroke-width="0" />
<rect x="313.00" y="576.23" width="15.70" height="2.04" fill="#b5002b" stroke="none" stroke-width="0" />
<rect x="313.00" y="550.68" width="15.70" height="25.55" fill="#2b4f8e" stroke="none" stroke-width="0" />
<rect x="313.00" y="548.20" width="15.70" height="2.48" fill="#b5002b" stroke="none" stroke-width="0" />
<rect x="313.00" y="543.23" width="15.70" height="4.96" fill="#2b4f8e" stroke="none" stroke-width="0" />
<rect x="313.00" y="536.30" width="15.70" height="6.93" fill="#b5002b" stroke="none" stroke-width="0" />
<line x1="320.85" y1="536.30" x2="320.85" y2="535.72" stroke="#555" stroke-width="1.0"/>
<line x1="320.85" y1="542.50" x2="320.85" y2="546.30" stroke="#000" stroke-width="1.2"/>
<line x1="317.05" y1="542.50" x2="324.65" y2="542.50" stroke="#000" stroke-width="1.25"/>
<line x1="317.05" y1="546.30" x2="324.65" y2="546.30" stroke="#000" stroke-width="1.25"/>
<line x1="320.85" y1="571.41" x2="320.85" y2="575.21" stroke="#000" stroke-width="1.2"/>
<line x1="317.05" y1="571.41" x2="324.65" y2="571.41" stroke="#000" stroke-width="1.25"/>
<line x1="317.05" y1="575.21" x2="324.65" y2="575.21" stroke="#000" stroke-width="1.25"/>
<line x1="320.85" y1="609.30" x2="320.85" y2="611.10" stroke="#111" stroke-width="0.9"/>
<line x1="306.40" y1="537.47" x2="306.40" y2="609.30" stroke="#222" stroke-width="0.9"/>
<line x1="305.20" y1="558.56" x2="310.90" y2="558.56" stroke="#111" stroke-width="1.0"/>
<line x1="305.20" y1="596.16" x2="310.90" y2="596.16" stroke="#111" stroke-width="1.0"/>
<text x="309.00" y="545.79" font-size="2.8" text-anchor="middle" fill="#444" textLength="4.60" lengthAdjust="spacingAndGlyphs" transform="rotate(-90 309.00 545.79)" >TEM</text>
<text x="309.00" y="578.64" font-size="2.8" text-anchor="middle" fill="#444" textLength="4.60" lengthAdjust="spacingAndGlyphs" transform="rotate(-90 309.00 578.64)" >TCM</text>
<text x="309.00" y="604.19" font-size="2.8" text-anchor="middle" fill="#444" textLength="6.40" lengthAdjust="spacingAndGlyphs" transform="rotate(-90 309.00 604.19)" >Naive</text>
<line x1="330.30" y1="536.30" x2="330.30" y2="609.30" stroke="#222" stroke-width="0.9"/>
<line x1="329.10" y1="547.98" x2="335.00" y2="547.98" stroke="#111" stroke-width="1.0"/>
<line x1="329.10" y1="575.79" x2="335.00" y2="575.79" stroke="#111" stroke-width="1.0"/>
<text x="332.90" y="541.41" font-size="2.8" text-anchor="middle" fill="#444" textLength="4.60" lengthAdjust="spacingAndGlyphs" transform="rotate(-90 332.90 541.41)" >TEM</text>
<text x="332.90" y="561.85" font-size="2.8" text-anchor="middle" fill="#444" textLength="4.60" lengthAdjust="spacingAndGlyphs" transform="rotate(-90 332.90 561.85)" >TCM</text>
<text x="332.90" y="593.24" font-size="2.8" text-anchor="middle" fill="#444" textLength="6.40" lengthAdjust="spacingAndGlyphs" transform="rotate(-90 332.90 593.24)" >Naive</text>
<line x1="285.20" y1="532.60" x2="285.20" y2="609.90" stroke="#222" stroke-width="1.4"/>
<line x1="284.20" y1="609.30" x2="330.80" y2="609.30" stroke="#222" stroke-width="1.4"/>
<line x1="282.60" y1="609.30" x2="285.20" y2="609.30" stroke="#222" stroke-width="1.0"/>
<text x="279.80" y="611.30" font-size="5.6" text-anchor="end" fill="#222" stroke="#222" stroke-width="0.1" >0</text>
<line x1="282.60" y1="594.70" x2="285.20" y2="594.70" stroke="#222" stroke-width="1.0"/>
<text x="279.80" y="596.70" font-size="5.6" text-anchor="end" fill="#222" stroke="#222" stroke-width="0.1" textLength="5.60" lengthAdjust="spacingAndGlyphs" >20</text>
<line x1="282.60" y1="580.10" x2="285.20" y2="580.10" stroke="#222" stroke-width="1.0"/>
<text x="279.80" y="582.10" font-size="5.6" text-anchor="end" fill="#222" stroke="#222" stroke-width="0.1" textLength="5.60" lengthAdjust="spacingAndGlyphs" >40</text>
<line x1="282.60" y1="565.50" x2="285.20" y2="565.50" stroke="#222" stroke-width="1.0"/>
<text x="279.80" y="567.50" font-size="5.6" text-anchor="end" fill="#222" stroke="#222" stroke-width="0.1" textLength="5.60" lengthAdjust="spacingAndGlyphs" >60</text>
<line x1="282.60" y1="550.90" x2="285.20" y2="550.90" stroke="#222" stroke-width="1.0"/>
<text x="279.80" y="552.90" font-size="5.6" text-anchor="end" fill="#222" stroke="#222" stroke-width="0.1" textLength="5.60" lengthAdjust="spacingAndGlyphs" >80</text>
<line x1="282.60" y1="536.30" x2="285.20" y2="536.30" stroke="#222" stroke-width="1.0"/>
<text x="279.80" y="538.30" font-size="5.6" text-anchor="end" fill="#222" stroke="#222" stroke-width="0.1" textLength="8.30" lengthAdjust="spacingAndGlyphs" >100</text>
<text x="267.00" y="572.30" font-size="7.8" text-anchor="middle" fill="#222" stroke="#222" stroke-width="0.16" textLength="27.00" lengthAdjust="spacingAndGlyphs" transform="rotate(-90 267.00 572.30)" >% of CD8+</text>
<text x="297.30" y="619.70" font-size="5.3" text-anchor="middle" fill="#222" stroke="#222" stroke-width="0.1" textLength="17.30" lengthAdjust="spacingAndGlyphs" >Tcl-1 tg</text>
<text x="320.90" y="619.70" font-size="5.3" text-anchor="middle" fill="#222" stroke="#222" stroke-width="0.1" textLength="17.30" lengthAdjust="spacingAndGlyphs" >Tcl-1 tg</text>
<text x="320.90" y="626.60" font-size="5.3" text-anchor="middle" fill="#222" stroke="#222" stroke-width="0.1" textLength="25.00" lengthAdjust="spacingAndGlyphs" >IRF4ΔB/ΔB</text>
<text x="237.90" y="545.60" font-size="2.8" text-anchor="middle" fill="#fff" textLength="13.50" lengthAdjust="spacingAndGlyphs" >P = 0.002</text>
<rect x="339.00" y="590.20" width="5.20" height="3.80" fill="#b5002b" stroke="none" stroke-width="0" />
<rect x="339.00" y="595.80" width="5.20" height="3.40" fill="#2b4f8e" stroke="none" stroke-width="0" />
<text x="346.80" y="594.00" font-size="4.3" text-anchor="start" fill="#222" stroke="#222" stroke-width="0.1" textLength="11.00" lengthAdjust="spacingAndGlyphs" >PD1+</text>
<text x="346.80" y="599.40" font-size="4.3" text-anchor="start" fill="#222" stroke="#222" stroke-width="0.1" textLength="10.00" lengthAdjust="spacingAndGlyphs" >PD1-</text>
<text x="339.00" y="604.40" font-size="4.3" text-anchor="start" fill="#222" stroke="#222" stroke-width="0.1" textLength="11.20" lengthAdjust="spacingAndGlyphs" >N = 3</text>
<text x="7.30" y="16.70" font-size="11.3" text-anchor="start" fill="#000" font-weight="bold" >A</text>
<text x="222.70" y="16.90" font-size="11.3" text-anchor="start" fill="#000" font-weight="bold" >B</text>
<text x="358.60" y="16.80" font-size="11.3" text-anchor="start" fill="#000" font-weight="bold" >C</text>
<text x="222.70" y="152.90" font-size="11.3" text-anchor="start" fill="#000" font-weight="bold" >D</text>
<text x="358.80" y="152.90" font-size="11.3" text-anchor="start" fill="#000" font-weight="bold" >E</text>
<text x="222.70" y="284.10" font-size="11.3" text-anchor="start" fill="#000" font-weight="bold" >F</text>
<text x="7.10" y="431.80" font-size="11.3" text-anchor="start" fill="#000" font-weight="bold" >G</text>
<text x="174.60" y="432.00" font-size="11.3" text-anchor="start" fill="#000" font-weight="bold" >H</text>
<text x="350.60" y="432.00" font-size="11.3" text-anchor="start" fill="#000" font-weight="bold" >I</text>
<text x="447.70" y="432.00" font-size="11.3" text-anchor="start" fill="#000" font-weight="bold" >J</text>
<rect x="0" y="0" width="0.95" height="638" fill="#000"/><rect x="0" y="0" width="520" height="0.95" fill="#000"/><rect x="518.8" y="0" width="1.2" height="638" fill="#000"/><rect x="0" y="636.8" width="520" height="1.2" fill="#000"/>
</svg></body></html>
